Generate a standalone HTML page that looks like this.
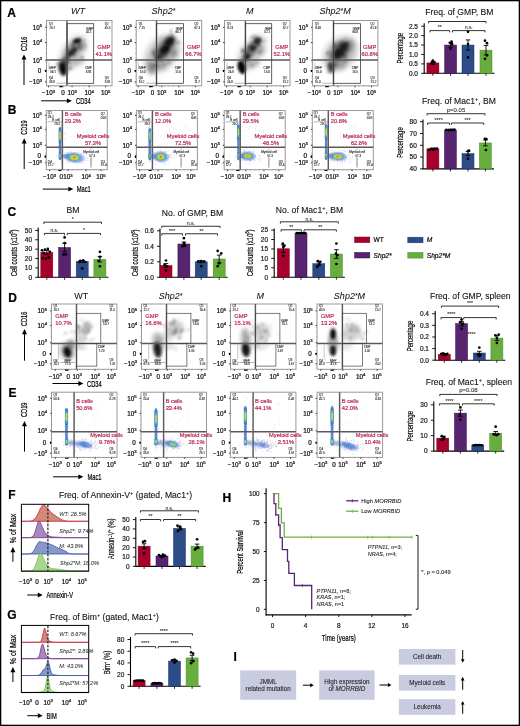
<!DOCTYPE html>
<html><head><meta charset="utf-8"><style>
html,body{margin:0;padding:0;background:#fff;overflow:hidden;}
svg{display:block;filter:blur(0.3px);}
text{font-family:"Liberation Sans",sans-serif;stroke:currentColor;stroke-width:0.22px;}
</style></head><body>
<svg width="520" height="726" viewBox="0 0 520 726">
<defs><clipPath id="clipA0"><rect x="46.5" y="20.5" width="65.5" height="65.3"/></clipPath><clipPath id="clipB0"><rect x="46.3" y="110.5" width="61" height="59.2"/></clipPath><clipPath id="clipD0"><rect x="51.4" y="304.0" width="65.5" height="65.3"/></clipPath><clipPath id="clipE0"><rect x="51.5" y="392.2" width="65.5" height="65.2"/></clipPath><clipPath id="clipA1"><rect x="136.2" y="20.5" width="65.5" height="65.3"/></clipPath><clipPath id="clipB1"><rect x="136.4" y="110.5" width="61" height="59.2"/></clipPath><clipPath id="clipD1"><rect x="141.5" y="304.0" width="65.5" height="65.3"/></clipPath><clipPath id="clipE1"><rect x="141.0" y="392.2" width="65.5" height="65.2"/></clipPath><clipPath id="clipA2"><rect x="224.5" y="20.5" width="65.5" height="65.3"/></clipPath><clipPath id="clipB2"><rect x="224.2" y="110.5" width="61" height="59.2"/></clipPath><clipPath id="clipD2"><rect x="230.5" y="304.0" width="65.5" height="65.3"/></clipPath><clipPath id="clipE2"><rect x="230.4" y="392.2" width="65.5" height="65.2"/></clipPath><clipPath id="clipA3"><rect x="312.4" y="20.5" width="65.5" height="65.3"/></clipPath><clipPath id="clipB3"><rect x="312.3" y="110.5" width="61" height="59.2"/></clipPath><clipPath id="clipD3"><rect x="317.0" y="304.0" width="65.5" height="65.3"/></clipPath><clipPath id="clipE3"><rect x="317.1" y="392.2" width="65.5" height="65.2"/></clipPath><filter id="g4" x="-100%" y="-100%" width="300%" height="300%"><feGaussianBlur stdDeviation="0.4"/></filter><filter id="g6" x="-100%" y="-100%" width="300%" height="300%"><feGaussianBlur stdDeviation="0.6"/></filter><filter id="g8" x="-100%" y="-100%" width="300%" height="300%"><feGaussianBlur stdDeviation="0.8"/></filter><filter id="g9" x="-100%" y="-100%" width="300%" height="300%"><feGaussianBlur stdDeviation="0.9"/></filter><filter id="g10" x="-100%" y="-100%" width="300%" height="300%"><feGaussianBlur stdDeviation="1.0"/></filter><filter id="g11" x="-100%" y="-100%" width="300%" height="300%"><feGaussianBlur stdDeviation="1.1"/></filter><filter id="g12" x="-100%" y="-100%" width="300%" height="300%"><feGaussianBlur stdDeviation="1.2"/></filter><filter id="g13" x="-100%" y="-100%" width="300%" height="300%"><feGaussianBlur stdDeviation="1.3"/></filter><filter id="g14" x="-100%" y="-100%" width="300%" height="300%"><feGaussianBlur stdDeviation="1.4"/></filter><filter id="g15" x="-100%" y="-100%" width="300%" height="300%"><feGaussianBlur stdDeviation="1.5"/></filter><filter id="g18" x="-100%" y="-100%" width="300%" height="300%"><feGaussianBlur stdDeviation="1.8"/></filter><filter id="g20" x="-100%" y="-100%" width="300%" height="300%"><feGaussianBlur stdDeviation="2.0"/></filter><filter id="g22" x="-100%" y="-100%" width="300%" height="300%"><feGaussianBlur stdDeviation="2.2"/></filter><filter id="g30" x="-100%" y="-100%" width="300%" height="300%"><feGaussianBlur stdDeviation="3.0"/></filter></defs>
<rect x="0" y="0" width="520" height="726" fill="#fff"/>
<g clip-path="url(#clipA0)">
<ellipse cx="72.50" cy="53.50" rx="20" ry="10" transform="rotate(-58 72.50 53.50)" fill="#000" opacity="0.22" filter="url(#g30)"/>
<ellipse cx="73.50" cy="48.50" rx="12" ry="6" transform="rotate(-50 73.50 48.50)" fill="#000" opacity="0.3" filter="url(#g20)"/>
<ellipse cx="62.80" cy="69.00" rx="3.8" ry="7" transform="rotate(-12 62.80 69.00)" fill="#000" opacity="0.95" filter="url(#g14)"/>
<ellipse cx="64.50" cy="62.50" rx="3.2" ry="4" transform="rotate(-20 64.50 62.50)" fill="#000" opacity="0.55" filter="url(#g15)"/>
<ellipse cx="77.00" cy="40.80" rx="4.2" ry="2.4" transform="rotate(-15 77.00 40.80)" fill="#000" opacity="0.85" filter="url(#g11)"/>
<ellipse cx="73.10" cy="51.00" rx="4.4" ry="2.6" transform="rotate(-35 73.10 51.00)" fill="#000" opacity="0.6" filter="url(#g12)"/>
<ellipse cx="69.30" cy="55.00" rx="3.2" ry="2.2" transform="rotate(-40 69.30 55.00)" fill="#000" opacity="0.55" filter="url(#g12)"/>
<ellipse cx="78.50" cy="62.00" rx="7" ry="3.5" transform="rotate(-10 78.50 62.00)" fill="#000" opacity="0.16" filter="url(#g20)"/>
<ellipse cx="82.50" cy="46.50" rx="5" ry="4" transform="rotate(-30 82.50 46.50)" fill="#000" opacity="0.2" filter="url(#g18)"/>
<ellipse cx="65.50" cy="58.50" rx="3" ry="3" transform="rotate(0 65.50 58.50)" fill="#000" opacity="0.35" filter="url(#g15)"/>
<ellipse cx="57.71" cy="64.58" rx="2.33" ry="1.88" transform="rotate(-33 57.71 64.58)" fill="#000" opacity="0.19" filter="url(#g10)"/>
<ellipse cx="69.80" cy="68.50" rx="1.62" ry="1.79" transform="rotate(-19 69.80 68.50)" fill="#000" opacity="0.29" filter="url(#g10)"/>
<ellipse cx="65.73" cy="64.27" rx="1.53" ry="1.21" transform="rotate(-48 65.73 64.27)" fill="#000" opacity="0.28" filter="url(#g10)"/>
<ellipse cx="61.96" cy="60.73" rx="1.84" ry="1.55" transform="rotate(-43 61.96 60.73)" fill="#000" opacity="0.28" filter="url(#g10)"/>
<ellipse cx="80.70" cy="49.10" rx="1.4" ry="1.01" transform="rotate(-35 80.70 49.10)" fill="#000" opacity="0.11" filter="url(#g10)"/>
<ellipse cx="79.25" cy="44.98" rx="1.24" ry="1.8" transform="rotate(-32 79.25 44.98)" fill="#000" opacity="0.26" filter="url(#g10)"/>
<ellipse cx="74.31" cy="44.76" rx="2.41" ry="1.06" transform="rotate(-45 74.31 44.76)" fill="#000" opacity="0.24" filter="url(#g10)"/>
<ellipse cx="72.73" cy="44.63" rx="2.14" ry="1.63" transform="rotate(-39 72.73 44.63)" fill="#000" opacity="0.2" filter="url(#g10)"/>
<ellipse cx="84.04" cy="40.04" rx="1.3" ry="1.12" transform="rotate(-41 84.04 40.04)" fill="#000" opacity="0.22" filter="url(#g10)"/>
<ellipse cx="72.71" cy="51.36" rx="2.34" ry="1.92" transform="rotate(-28 72.71 51.36)" fill="#000" opacity="0.26" filter="url(#g10)"/>
<ellipse cx="78.69" cy="42.81" rx="2.14" ry="1.39" transform="rotate(-57 78.69 42.81)" fill="#000" opacity="0.25" filter="url(#g10)"/>
<ellipse cx="76.26" cy="47.73" rx="2.15" ry="1.26" transform="rotate(-41 76.26 47.73)" fill="#000" opacity="0.2" filter="url(#g10)"/>
<ellipse cx="68.82" cy="53.60" rx="1.77" ry="1.55" transform="rotate(-16 68.82 53.60)" fill="#000" opacity="0.11" filter="url(#g10)"/>
<ellipse cx="58.88" cy="59.96" rx="1.53" ry="1.47" transform="rotate(-1 58.88 59.96)" fill="#000" opacity="0.1" filter="url(#g10)"/>
<ellipse cx="82.09" cy="57.88" rx="2.23" ry="2.12" transform="rotate(-58 82.09 57.88)" fill="#000" opacity="0.23" filter="url(#g10)"/>
<ellipse cx="68.16" cy="53.27" rx="1.28" ry="1.24" transform="rotate(-45 68.16 53.27)" fill="#000" opacity="0.11" filter="url(#g10)"/>
<ellipse cx="63.67" cy="67.31" rx="1.6" ry="1.83" transform="rotate(-14 63.67 67.31)" fill="#000" opacity="0.17" filter="url(#g10)"/>
<ellipse cx="68.15" cy="52.03" rx="1.93" ry="1.23" transform="rotate(-23 68.15 52.03)" fill="#000" opacity="0.27" filter="url(#g10)"/>
<ellipse cx="73.92" cy="47.31" rx="1.32" ry="2.2" transform="rotate(-43 73.92 47.31)" fill="#000" opacity="0.3" filter="url(#g10)"/>
<ellipse cx="69.25" cy="62.35" rx="1.5" ry="2.2" transform="rotate(-36 69.25 62.35)" fill="#000" opacity="0.29" filter="url(#g10)"/>
<ellipse cx="62.91" cy="65.23" rx="1.24" ry="1.99" transform="rotate(-42 62.91 65.23)" fill="#000" opacity="0.13" filter="url(#g10)"/>
<ellipse cx="65.99" cy="68.05" rx="2.23" ry="1.75" transform="rotate(-6 65.99 68.05)" fill="#000" opacity="0.1" filter="url(#g10)"/>
<ellipse cx="68.78" cy="58.58" rx="1.25" ry="1.92" transform="rotate(-3 68.78 58.58)" fill="#000" opacity="0.29" filter="url(#g10)"/>
<ellipse cx="59.81" cy="63.03" rx="2.48" ry="1.17" transform="rotate(-3 59.81 63.03)" fill="#000" opacity="0.23" filter="url(#g10)"/>
<ellipse cx="78.72" cy="47.73" rx="1.83" ry="1.46" transform="rotate(-14 78.72 47.73)" fill="#000" opacity="0.18" filter="url(#g10)"/>
<ellipse cx="70.92" cy="67.88" rx="2.08" ry="1.32" transform="rotate(-20 70.92 67.88)" fill="#000" opacity="0.18" filter="url(#g10)"/>
<ellipse cx="67.75" cy="49.00" rx="2.01" ry="1.78" transform="rotate(-52 67.75 49.00)" fill="#000" opacity="0.27" filter="url(#g10)"/>
<ellipse cx="73.68" cy="54.72" rx="1.93" ry="1.85" transform="rotate(-5 73.68 54.72)" fill="#000" opacity="0.29" filter="url(#g10)"/>
</g>
<rect x="46.50" y="20.50" width="65.50" height="65.30" fill="none" stroke="#999" stroke-width="1.0" />
<text x="42.10" y="29.70" font-size="6.3" text-anchor="end" fill="#111" color="#111">10<tspan dy="-2.7" font-size="4.28">5</tspan></text>
<line x1="45.00" y1="27.40" x2="46.50" y2="27.40" stroke="#000" stroke-width="0.7" />
<text x="42.10" y="44.80" font-size="6.3" text-anchor="end" fill="#111" color="#111">10<tspan dy="-2.7" font-size="4.28">4</tspan></text>
<line x1="45.00" y1="42.50" x2="46.50" y2="42.50" stroke="#000" stroke-width="0.7" />
<text x="42.10" y="62.50" font-size="6.3" text-anchor="end" fill="#111" color="#111">10<tspan dy="-2.7" font-size="4.28">3</tspan></text>
<line x1="45.00" y1="60.20" x2="46.50" y2="60.20" stroke="#000" stroke-width="0.7" />
<text transform="translate(41.20,73.10)" font-size="6.3" text-anchor="end" font-weight="normal" font-style="normal" fill="#111" color="#111">0</text>
<line x1="45.00" y1="70.80" x2="46.50" y2="70.80" stroke="#000" stroke-width="0.7" />
<text x="42.10" y="84.30" font-size="6.3" text-anchor="end" fill="#111" color="#111">&#8722;10<tspan dy="-2.7" font-size="4.28">3</tspan></text>
<line x1="45.00" y1="82.00" x2="46.50" y2="82.00" stroke="#000" stroke-width="0.7" />
<line x1="45.70" y1="25.16" x2="46.50" y2="25.16" stroke="#666" stroke-width="0.4" />
<line x1="45.70" y1="29.83" x2="46.50" y2="29.83" stroke="#666" stroke-width="0.4" />
<line x1="45.70" y1="34.49" x2="46.50" y2="34.49" stroke="#666" stroke-width="0.4" />
<line x1="45.70" y1="39.16" x2="46.50" y2="39.16" stroke="#666" stroke-width="0.4" />
<line x1="45.70" y1="43.82" x2="46.50" y2="43.82" stroke="#666" stroke-width="0.4" />
<line x1="45.70" y1="48.49" x2="46.50" y2="48.49" stroke="#666" stroke-width="0.4" />
<line x1="45.70" y1="53.15" x2="46.50" y2="53.15" stroke="#666" stroke-width="0.4" />
<line x1="45.70" y1="57.81" x2="46.50" y2="57.81" stroke="#666" stroke-width="0.4" />
<line x1="45.70" y1="62.48" x2="46.50" y2="62.48" stroke="#666" stroke-width="0.4" />
<line x1="45.70" y1="67.14" x2="46.50" y2="67.14" stroke="#666" stroke-width="0.4" />
<line x1="45.70" y1="71.81" x2="46.50" y2="71.81" stroke="#666" stroke-width="0.4" />
<line x1="45.70" y1="76.47" x2="46.50" y2="76.47" stroke="#666" stroke-width="0.4" />
<line x1="45.70" y1="81.14" x2="46.50" y2="81.14" stroke="#666" stroke-width="0.4" />
<text x="48.50" y="95.40" font-size="6.3" text-anchor="middle" fill="#111" color="#111">&#8722;10<tspan dy="-2.7" font-size="4.28">3</tspan></text>
<line x1="48.50" y1="85.80" x2="48.50" y2="87.30" stroke="#000" stroke-width="0.7" />
<text transform="translate(62.90,95.40)" font-size="6.3" text-anchor="middle" font-weight="normal" font-style="normal" fill="#111" color="#111">0</text>
<line x1="62.90" y1="85.80" x2="62.90" y2="87.30" stroke="#000" stroke-width="0.7" />
<text x="72.10" y="95.40" font-size="6.3" text-anchor="middle" fill="#111" color="#111">10<tspan dy="-2.7" font-size="4.28">3</tspan></text>
<line x1="72.10" y1="85.80" x2="72.10" y2="87.30" stroke="#000" stroke-width="0.7" />
<text x="89.20" y="95.40" font-size="6.3" text-anchor="middle" fill="#111" color="#111">10<tspan dy="-2.7" font-size="4.28">4</tspan></text>
<line x1="89.20" y1="85.80" x2="89.20" y2="87.30" stroke="#000" stroke-width="0.7" />
<text x="105.60" y="95.40" font-size="6.3" text-anchor="middle" fill="#111" color="#111">10<tspan dy="-2.7" font-size="4.28">5</tspan></text>
<line x1="105.60" y1="85.80" x2="105.60" y2="87.30" stroke="#000" stroke-width="0.7" />
<line x1="51.18" y1="85.80" x2="51.18" y2="86.60" stroke="#666" stroke-width="0.4" />
<line x1="55.86" y1="85.80" x2="55.86" y2="86.60" stroke="#666" stroke-width="0.4" />
<line x1="60.54" y1="85.80" x2="60.54" y2="86.60" stroke="#666" stroke-width="0.4" />
<line x1="65.21" y1="85.80" x2="65.21" y2="86.60" stroke="#666" stroke-width="0.4" />
<line x1="69.89" y1="85.80" x2="69.89" y2="86.60" stroke="#666" stroke-width="0.4" />
<line x1="74.57" y1="85.80" x2="74.57" y2="86.60" stroke="#666" stroke-width="0.4" />
<line x1="79.25" y1="85.80" x2="79.25" y2="86.60" stroke="#666" stroke-width="0.4" />
<line x1="83.93" y1="85.80" x2="83.93" y2="86.60" stroke="#666" stroke-width="0.4" />
<line x1="88.61" y1="85.80" x2="88.61" y2="86.60" stroke="#666" stroke-width="0.4" />
<line x1="93.29" y1="85.80" x2="93.29" y2="86.60" stroke="#666" stroke-width="0.4" />
<line x1="97.96" y1="85.80" x2="97.96" y2="86.60" stroke="#666" stroke-width="0.4" />
<line x1="102.64" y1="85.80" x2="102.64" y2="86.60" stroke="#666" stroke-width="0.4" />
<line x1="107.32" y1="85.80" x2="107.32" y2="86.60" stroke="#666" stroke-width="0.4" />
<line x1="46.50" y1="59.90" x2="112.00" y2="59.90" stroke="#5a5a5a" stroke-width="1.45" />
<line x1="67.00" y1="20.50" x2="67.00" y2="85.80" stroke="#5a5a5a" stroke-width="1.45" />
<rect x="67.00" y="23.70" width="26.70" height="59.60" fill="none" stroke="#3a3a3a" stroke-width="0.8" />
<line x1="48.80" y1="62.50" x2="48.80" y2="70.50" stroke="#888" stroke-width="0.45" />
<line x1="56.50" y1="83.20" x2="67.00" y2="83.20" stroke="#666" stroke-width="0.5" />
<text transform="translate(103.80,49.40)" font-size="5.8" text-anchor="middle" font-weight="normal" font-style="normal" fill="#BA2453" color="#BA2453" style="stroke-width:0.18px">GMP</text>
<text transform="translate(103.80,56.10)" font-size="5.8" text-anchor="middle" font-weight="normal" font-style="normal" fill="#BA2453" color="#BA2453" style="stroke-width:0.18px">41.1%</text>
<text x="49.00" y="25.30" font-size="3.0" text-anchor="start" fill="#333" color="#333" style="stroke-width:0.12px">Q1</text>
<text x="49.30" y="28.80" font-size="3.0" text-anchor="start" fill="#333" color="#333" style="stroke-width:0.12px">10.7</text>
<text x="104.70" y="25.30" font-size="3.0" text-anchor="start" fill="#333" color="#333" style="stroke-width:0.12px">Q2</text>
<text x="104.70" y="28.80" font-size="3.0" text-anchor="start" fill="#333" color="#333" style="stroke-width:0.12px">41.5</text>
<text x="93.20" y="29.80" font-size="3.0" text-anchor="end" fill="#333" color="#333" style="stroke-width:0.12px">GMP</text>
<text x="91.80" y="33.30" font-size="3.0" text-anchor="end" fill="#333" color="#333" style="stroke-width:0.12px">41.1</text>
<text x="49.50" y="69.00" font-size="3.0" text-anchor="start" fill="#333" color="#333" style="stroke-width:0.12px">MEP</text>
<text x="50.00" y="72.50" font-size="3.0" text-anchor="start" fill="#333" color="#333" style="stroke-width:0.12px">39.1</text>
<text x="91.80" y="69.00" font-size="3.0" text-anchor="end" fill="#333" color="#333" style="stroke-width:0.12px">CMP</text>
<text x="91.50" y="72.50" font-size="3.0" text-anchor="end" fill="#333" color="#333" style="stroke-width:0.12px">8.91</text>
<text x="49.00" y="79.00" font-size="3.0" text-anchor="start" fill="#333" color="#333" style="stroke-width:0.12px">Q4</text>
<text x="49.00" y="82.50" font-size="3.0" text-anchor="start" fill="#333" color="#333" style="stroke-width:0.12px">38.8</text>
<text x="104.70" y="79.00" font-size="3.0" text-anchor="start" fill="#333" color="#333" style="stroke-width:0.12px">Q3</text>
<text x="104.70" y="82.50" font-size="3.0" text-anchor="start" fill="#333" color="#333" style="stroke-width:0.12px">8.81</text>
<rect x="44.90" y="69.80" width="1.2" height="2.2" rx="0.5" fill="#000"/>
<rect x="59.30" y="86.10" width="3.2" height="1.1" rx="0.5" fill="#000"/>
<text transform="translate(78.00,14.00)" font-size="9" text-anchor="middle" font-weight="normal" font-style="italic" fill="#111" color="#111" style="stroke-width:0.05px">WT</text>
<g clip-path="url(#clipA1)">
<ellipse cx="162.20" cy="53.50" rx="21" ry="14" transform="rotate(-50 162.20 53.50)" fill="#000" opacity="0.26" filter="url(#g30)"/>
<ellipse cx="165.20" cy="47.50" rx="14" ry="6" transform="rotate(-55 165.20 47.50)" fill="#000" opacity="0.55" filter="url(#g20)"/>
<ellipse cx="169.70" cy="41.50" rx="5.5" ry="3.8" transform="rotate(-40 169.70 41.50)" fill="#000" opacity="0.75" filter="url(#g14)"/>
<ellipse cx="164.70" cy="50.00" rx="5.5" ry="3.8" transform="rotate(-40 164.70 50.00)" fill="#000" opacity="0.75" filter="url(#g14)"/>
<ellipse cx="158.20" cy="57.50" rx="4.2" ry="3.2" transform="rotate(-40 158.20 57.50)" fill="#000" opacity="0.5" filter="url(#g15)"/>
<ellipse cx="151.20" cy="68.50" rx="4.2" ry="6.5" transform="rotate(-20 151.20 68.50)" fill="#000" opacity="0.35" filter="url(#g20)"/>
<ellipse cx="160.20" cy="66.50" rx="7" ry="3.5" transform="rotate(0 160.20 66.50)" fill="#000" opacity="0.16" filter="url(#g20)"/>
<ellipse cx="173.20" cy="53.50" rx="5" ry="5" transform="rotate(0 173.20 53.50)" fill="#000" opacity="0.2" filter="url(#g20)"/>
<ellipse cx="169.51" cy="62.80" rx="2.68" ry="1.56" transform="rotate(-18 169.51 62.80)" fill="#000" opacity="0.19" filter="url(#g10)"/>
<ellipse cx="170.54" cy="45.71" rx="2.45" ry="1.39" transform="rotate(-32 170.54 45.71)" fill="#000" opacity="0.1" filter="url(#g10)"/>
<ellipse cx="165.68" cy="64.47" rx="1.79" ry="1.57" transform="rotate(-40 165.68 64.47)" fill="#000" opacity="0.13" filter="url(#g10)"/>
<ellipse cx="166.69" cy="44.86" rx="1.95" ry="1.25" transform="rotate(-19 166.69 44.86)" fill="#000" opacity="0.26" filter="url(#g10)"/>
<ellipse cx="160.64" cy="37.03" rx="1.83" ry="1.46" transform="rotate(-33 160.64 37.03)" fill="#000" opacity="0.1" filter="url(#g10)"/>
<ellipse cx="157.88" cy="50.61" rx="1.55" ry="1.11" transform="rotate(-10 157.88 50.61)" fill="#000" opacity="0.08" filter="url(#g10)"/>
<ellipse cx="173.96" cy="46.60" rx="1.45" ry="1.04" transform="rotate(-49 173.96 46.60)" fill="#000" opacity="0.14" filter="url(#g10)"/>
<ellipse cx="154.02" cy="54.15" rx="2.52" ry="2.08" transform="rotate(-24 154.02 54.15)" fill="#000" opacity="0.18" filter="url(#g10)"/>
<ellipse cx="166.55" cy="48.20" rx="2.59" ry="1.83" transform="rotate(-17 166.55 48.20)" fill="#000" opacity="0.27" filter="url(#g10)"/>
<ellipse cx="177.96" cy="42.60" rx="2.05" ry="1.84" transform="rotate(-32 177.96 42.60)" fill="#000" opacity="0.26" filter="url(#g10)"/>
<ellipse cx="153.73" cy="52.28" rx="2.49" ry="1.95" transform="rotate(-52 153.73 52.28)" fill="#000" opacity="0.23" filter="url(#g10)"/>
<ellipse cx="174.72" cy="52.65" rx="2.08" ry="2.17" transform="rotate(-52 174.72 52.65)" fill="#000" opacity="0.1" filter="url(#g10)"/>
<ellipse cx="154.88" cy="65.53" rx="1.3" ry="1.66" transform="rotate(-38 154.88 65.53)" fill="#000" opacity="0.18" filter="url(#g10)"/>
<ellipse cx="155.55" cy="55.07" rx="1.65" ry="1.18" transform="rotate(-31 155.55 55.07)" fill="#000" opacity="0.12" filter="url(#g10)"/>
<ellipse cx="167.97" cy="60.18" rx="1.71" ry="1.11" transform="rotate(-19 167.97 60.18)" fill="#000" opacity="0.29" filter="url(#g10)"/>
<ellipse cx="162.87" cy="60.41" rx="2.18" ry="1.79" transform="rotate(-58 162.87 60.41)" fill="#000" opacity="0.26" filter="url(#g10)"/>
<ellipse cx="157.32" cy="66.30" rx="2.08" ry="1.64" transform="rotate(-39 157.32 66.30)" fill="#000" opacity="0.08" filter="url(#g10)"/>
<ellipse cx="153.65" cy="65.34" rx="1.85" ry="1.77" transform="rotate(-13 153.65 65.34)" fill="#000" opacity="0.13" filter="url(#g10)"/>
<ellipse cx="157.06" cy="65.01" rx="1.75" ry="1.44" transform="rotate(-32 157.06 65.01)" fill="#000" opacity="0.27" filter="url(#g10)"/>
<ellipse cx="152.98" cy="50.23" rx="2.02" ry="1.75" transform="rotate(-47 152.98 50.23)" fill="#000" opacity="0.11" filter="url(#g10)"/>
<ellipse cx="160.59" cy="57.81" rx="2.38" ry="1.29" transform="rotate(-33 160.59 57.81)" fill="#000" opacity="0.12" filter="url(#g10)"/>
<ellipse cx="171.77" cy="35.04" rx="2.13" ry="1.41" transform="rotate(-4 171.77 35.04)" fill="#000" opacity="0.18" filter="url(#g10)"/>
<ellipse cx="165.17" cy="55.76" rx="2.72" ry="1.93" transform="rotate(-31 165.17 55.76)" fill="#000" opacity="0.29" filter="url(#g10)"/>
<ellipse cx="165.81" cy="47.66" rx="2.68" ry="1.8" transform="rotate(-11 165.81 47.66)" fill="#000" opacity="0.22" filter="url(#g10)"/>
<ellipse cx="156.59" cy="49.91" rx="1.3" ry="1.83" transform="rotate(-43 156.59 49.91)" fill="#000" opacity="0.21" filter="url(#g10)"/>
<ellipse cx="162.98" cy="65.32" rx="1.92" ry="1.62" transform="rotate(-56 162.98 65.32)" fill="#000" opacity="0.11" filter="url(#g10)"/>
<ellipse cx="163.30" cy="48.09" rx="1.58" ry="1.26" transform="rotate(-10 163.30 48.09)" fill="#000" opacity="0.2" filter="url(#g10)"/>
<ellipse cx="171.04" cy="31.04" rx="1.48" ry="2.1" transform="rotate(-10 171.04 31.04)" fill="#000" opacity="0.23" filter="url(#g10)"/>
</g>
<rect x="136.20" y="20.50" width="65.50" height="65.30" fill="none" stroke="#999" stroke-width="1.0" />
<text x="131.80" y="29.70" font-size="6.3" text-anchor="end" fill="#111" color="#111">10<tspan dy="-2.7" font-size="4.28">5</tspan></text>
<line x1="134.70" y1="27.40" x2="136.20" y2="27.40" stroke="#000" stroke-width="0.7" />
<text x="131.80" y="44.80" font-size="6.3" text-anchor="end" fill="#111" color="#111">10<tspan dy="-2.7" font-size="4.28">4</tspan></text>
<line x1="134.70" y1="42.50" x2="136.20" y2="42.50" stroke="#000" stroke-width="0.7" />
<text x="131.80" y="62.50" font-size="6.3" text-anchor="end" fill="#111" color="#111">10<tspan dy="-2.7" font-size="4.28">3</tspan></text>
<line x1="134.70" y1="60.20" x2="136.20" y2="60.20" stroke="#000" stroke-width="0.7" />
<text transform="translate(130.90,73.10)" font-size="6.3" text-anchor="end" font-weight="normal" font-style="normal" fill="#111" color="#111">0</text>
<line x1="134.70" y1="70.80" x2="136.20" y2="70.80" stroke="#000" stroke-width="0.7" />
<text x="131.80" y="84.30" font-size="6.3" text-anchor="end" fill="#111" color="#111">&#8722;10<tspan dy="-2.7" font-size="4.28">3</tspan></text>
<line x1="134.70" y1="82.00" x2="136.20" y2="82.00" stroke="#000" stroke-width="0.7" />
<line x1="135.40" y1="25.16" x2="136.20" y2="25.16" stroke="#666" stroke-width="0.4" />
<line x1="135.40" y1="29.83" x2="136.20" y2="29.83" stroke="#666" stroke-width="0.4" />
<line x1="135.40" y1="34.49" x2="136.20" y2="34.49" stroke="#666" stroke-width="0.4" />
<line x1="135.40" y1="39.16" x2="136.20" y2="39.16" stroke="#666" stroke-width="0.4" />
<line x1="135.40" y1="43.82" x2="136.20" y2="43.82" stroke="#666" stroke-width="0.4" />
<line x1="135.40" y1="48.49" x2="136.20" y2="48.49" stroke="#666" stroke-width="0.4" />
<line x1="135.40" y1="53.15" x2="136.20" y2="53.15" stroke="#666" stroke-width="0.4" />
<line x1="135.40" y1="57.81" x2="136.20" y2="57.81" stroke="#666" stroke-width="0.4" />
<line x1="135.40" y1="62.48" x2="136.20" y2="62.48" stroke="#666" stroke-width="0.4" />
<line x1="135.40" y1="67.14" x2="136.20" y2="67.14" stroke="#666" stroke-width="0.4" />
<line x1="135.40" y1="71.81" x2="136.20" y2="71.81" stroke="#666" stroke-width="0.4" />
<line x1="135.40" y1="76.47" x2="136.20" y2="76.47" stroke="#666" stroke-width="0.4" />
<line x1="135.40" y1="81.14" x2="136.20" y2="81.14" stroke="#666" stroke-width="0.4" />
<text x="138.20" y="95.40" font-size="6.3" text-anchor="middle" fill="#111" color="#111">&#8722;10<tspan dy="-2.7" font-size="4.28">3</tspan></text>
<line x1="138.20" y1="85.80" x2="138.20" y2="87.30" stroke="#000" stroke-width="0.7" />
<text transform="translate(152.60,95.40)" font-size="6.3" text-anchor="middle" font-weight="normal" font-style="normal" fill="#111" color="#111">0</text>
<line x1="152.60" y1="85.80" x2="152.60" y2="87.30" stroke="#000" stroke-width="0.7" />
<text x="161.80" y="95.40" font-size="6.3" text-anchor="middle" fill="#111" color="#111">10<tspan dy="-2.7" font-size="4.28">3</tspan></text>
<line x1="161.80" y1="85.80" x2="161.80" y2="87.30" stroke="#000" stroke-width="0.7" />
<text x="178.90" y="95.40" font-size="6.3" text-anchor="middle" fill="#111" color="#111">10<tspan dy="-2.7" font-size="4.28">4</tspan></text>
<line x1="178.90" y1="85.80" x2="178.90" y2="87.30" stroke="#000" stroke-width="0.7" />
<text x="195.30" y="95.40" font-size="6.3" text-anchor="middle" fill="#111" color="#111">10<tspan dy="-2.7" font-size="4.28">5</tspan></text>
<line x1="195.30" y1="85.80" x2="195.30" y2="87.30" stroke="#000" stroke-width="0.7" />
<line x1="140.88" y1="85.80" x2="140.88" y2="86.60" stroke="#666" stroke-width="0.4" />
<line x1="145.56" y1="85.80" x2="145.56" y2="86.60" stroke="#666" stroke-width="0.4" />
<line x1="150.24" y1="85.80" x2="150.24" y2="86.60" stroke="#666" stroke-width="0.4" />
<line x1="154.91" y1="85.80" x2="154.91" y2="86.60" stroke="#666" stroke-width="0.4" />
<line x1="159.59" y1="85.80" x2="159.59" y2="86.60" stroke="#666" stroke-width="0.4" />
<line x1="164.27" y1="85.80" x2="164.27" y2="86.60" stroke="#666" stroke-width="0.4" />
<line x1="168.95" y1="85.80" x2="168.95" y2="86.60" stroke="#666" stroke-width="0.4" />
<line x1="173.63" y1="85.80" x2="173.63" y2="86.60" stroke="#666" stroke-width="0.4" />
<line x1="178.31" y1="85.80" x2="178.31" y2="86.60" stroke="#666" stroke-width="0.4" />
<line x1="182.99" y1="85.80" x2="182.99" y2="86.60" stroke="#666" stroke-width="0.4" />
<line x1="187.66" y1="85.80" x2="187.66" y2="86.60" stroke="#666" stroke-width="0.4" />
<line x1="192.34" y1="85.80" x2="192.34" y2="86.60" stroke="#666" stroke-width="0.4" />
<line x1="197.02" y1="85.80" x2="197.02" y2="86.60" stroke="#666" stroke-width="0.4" />
<line x1="136.20" y1="59.90" x2="201.70" y2="59.90" stroke="#5a5a5a" stroke-width="1.45" />
<line x1="156.50" y1="20.50" x2="156.50" y2="85.80" stroke="#5a5a5a" stroke-width="1.45" />
<rect x="156.50" y="23.70" width="26.90" height="59.60" fill="none" stroke="#3a3a3a" stroke-width="0.8" />
<line x1="138.50" y1="62.50" x2="138.50" y2="70.50" stroke="#888" stroke-width="0.45" />
<line x1="146.20" y1="83.20" x2="156.50" y2="83.20" stroke="#666" stroke-width="0.5" />
<text transform="translate(193.50,49.40)" font-size="5.8" text-anchor="middle" font-weight="normal" font-style="normal" fill="#BA2453" color="#BA2453" style="stroke-width:0.18px">GMP</text>
<text transform="translate(193.50,56.10)" font-size="5.8" text-anchor="middle" font-weight="normal" font-style="normal" fill="#BA2453" color="#BA2453" style="stroke-width:0.18px">66.7%</text>
<text x="138.70" y="25.30" font-size="3.0" text-anchor="start" fill="#333" color="#333" style="stroke-width:0.12px">Q1</text>
<text x="139.00" y="28.80" font-size="3.0" text-anchor="start" fill="#333" color="#333" style="stroke-width:0.12px">7.75</text>
<text x="194.40" y="25.30" font-size="3.0" text-anchor="start" fill="#333" color="#333" style="stroke-width:0.12px">Q2</text>
<text x="194.40" y="28.80" font-size="3.0" text-anchor="start" fill="#333" color="#333" style="stroke-width:0.12px">67.3</text>
<text x="182.70" y="29.80" font-size="3.0" text-anchor="end" fill="#333" color="#333" style="stroke-width:0.12px">GMP</text>
<text x="181.30" y="33.30" font-size="3.0" text-anchor="end" fill="#333" color="#333" style="stroke-width:0.12px">66.7</text>
<text x="139.20" y="69.00" font-size="3.0" text-anchor="start" fill="#333" color="#333" style="stroke-width:0.12px">MEP</text>
<text x="139.70" y="72.50" font-size="3.0" text-anchor="start" fill="#333" color="#333" style="stroke-width:0.12px">13.0</text>
<text x="181.30" y="69.00" font-size="3.0" text-anchor="end" fill="#333" color="#333" style="stroke-width:0.12px">CMP</text>
<text x="181.00" y="72.50" font-size="3.0" text-anchor="end" fill="#333" color="#333" style="stroke-width:0.12px">12.0</text>
<text x="138.70" y="79.00" font-size="3.0" text-anchor="start" fill="#333" color="#333" style="stroke-width:0.12px">Q4</text>
<text x="138.70" y="82.50" font-size="3.0" text-anchor="start" fill="#333" color="#333" style="stroke-width:0.12px">13.2</text>
<text x="194.40" y="79.00" font-size="3.0" text-anchor="start" fill="#333" color="#333" style="stroke-width:0.12px">Q3</text>
<text x="194.40" y="82.50" font-size="3.0" text-anchor="start" fill="#333" color="#333" style="stroke-width:0.12px">11.7</text>
<rect x="134.60" y="69.80" width="1.2" height="2.2" rx="0.5" fill="#000"/>
<rect x="149.00" y="86.10" width="3.2" height="1.1" rx="0.5" fill="#000"/>
<text transform="translate(163.40,14.00)" font-size="9" text-anchor="middle" font-weight="normal" font-style="italic" fill="#111" color="#111" style="stroke-width:0.05px">Shp2<tspan font-size="6.5" dy="-0.6">*</tspan><tspan dy="0.6"></tspan></text>
<g clip-path="url(#clipA2)">
<ellipse cx="251.50" cy="52.50" rx="20" ry="10" transform="rotate(-57 251.50 52.50)" fill="#000" opacity="0.22" filter="url(#g30)"/>
<ellipse cx="250.50" cy="50.50" rx="13" ry="5" transform="rotate(-57 250.50 50.50)" fill="#000" opacity="0.45" filter="url(#g18)"/>
<ellipse cx="241.60" cy="67.50" rx="3.8" ry="6.8" transform="rotate(-15 241.60 67.50)" fill="#000" opacity="0.95" filter="url(#g13)"/>
<ellipse cx="258.00" cy="40.50" rx="3.8" ry="3.2" transform="rotate(-20 258.00 40.50)" fill="#000" opacity="0.7" filter="url(#g12)"/>
<ellipse cx="253.00" cy="48.00" rx="3.2" ry="2.6" transform="rotate(-40 253.00 48.00)" fill="#000" opacity="0.6" filter="url(#g12)"/>
<ellipse cx="247.00" cy="56.50" rx="3.2" ry="2.6" transform="rotate(-40 247.00 56.50)" fill="#000" opacity="0.6" filter="url(#g12)"/>
<ellipse cx="251.50" cy="64.50" rx="9" ry="4" transform="rotate(-10 251.50 64.50)" fill="#000" opacity="0.16" filter="url(#g20)"/>
<ellipse cx="260.50" cy="50.50" rx="5" ry="5" transform="rotate(0 260.50 50.50)" fill="#000" opacity="0.18" filter="url(#g20)"/>
<ellipse cx="242.12" cy="60.52" rx="2.34" ry="1.73" transform="rotate(-36 242.12 60.52)" fill="#000" opacity="0.14" filter="url(#g10)"/>
<ellipse cx="242.92" cy="50.95" rx="2.07" ry="1.9" transform="rotate(-4 242.92 50.95)" fill="#000" opacity="0.27" filter="url(#g10)"/>
<ellipse cx="252.42" cy="48.16" rx="1.4" ry="1.97" transform="rotate(-16 252.42 48.16)" fill="#000" opacity="0.12" filter="url(#g10)"/>
<ellipse cx="258.74" cy="45.28" rx="2.34" ry="1.63" transform="rotate(-29 258.74 45.28)" fill="#000" opacity="0.22" filter="url(#g10)"/>
<ellipse cx="251.22" cy="45.89" rx="1.35" ry="1.4" transform="rotate(-16 251.22 45.89)" fill="#000" opacity="0.12" filter="url(#g10)"/>
<ellipse cx="242.31" cy="49.34" rx="1.41" ry="1.97" transform="rotate(-37 242.31 49.34)" fill="#000" opacity="0.13" filter="url(#g10)"/>
<ellipse cx="248.85" cy="46.49" rx="2.09" ry="1.53" transform="rotate(-18 248.85 46.49)" fill="#000" opacity="0.25" filter="url(#g10)"/>
<ellipse cx="243.32" cy="65.80" rx="2.22" ry="1.64" transform="rotate(-5 243.32 65.80)" fill="#000" opacity="0.22" filter="url(#g10)"/>
<ellipse cx="255.31" cy="38.09" rx="2.39" ry="1.72" transform="rotate(-2 255.31 38.09)" fill="#000" opacity="0.2" filter="url(#g10)"/>
<ellipse cx="246.67" cy="58.26" rx="1.28" ry="1.14" transform="rotate(-30 246.67 58.26)" fill="#000" opacity="0.29" filter="url(#g10)"/>
<ellipse cx="252.58" cy="65.59" rx="2.61" ry="1.46" transform="rotate(-44 252.58 65.59)" fill="#000" opacity="0.17" filter="url(#g10)"/>
<ellipse cx="259.32" cy="45.10" rx="1.51" ry="1.19" transform="rotate(-27 259.32 45.10)" fill="#000" opacity="0.17" filter="url(#g10)"/>
<ellipse cx="240.85" cy="62.91" rx="1.33" ry="1.47" transform="rotate(-51 240.85 62.91)" fill="#000" opacity="0.11" filter="url(#g10)"/>
<ellipse cx="259.07" cy="44.87" rx="1.63" ry="1.53" transform="rotate(-13 259.07 44.87)" fill="#000" opacity="0.13" filter="url(#g10)"/>
<ellipse cx="242.72" cy="68.33" rx="1.52" ry="1.56" transform="rotate(-9 242.72 68.33)" fill="#000" opacity="0.25" filter="url(#g10)"/>
<ellipse cx="253.02" cy="42.95" rx="2.38" ry="1.31" transform="rotate(0 253.02 42.95)" fill="#000" opacity="0.12" filter="url(#g10)"/>
<ellipse cx="249.12" cy="49.86" rx="2.75" ry="2.1" transform="rotate(-30 249.12 49.86)" fill="#000" opacity="0.11" filter="url(#g10)"/>
<ellipse cx="243.69" cy="60.96" rx="1.88" ry="2.13" transform="rotate(-45 243.69 60.96)" fill="#000" opacity="0.24" filter="url(#g10)"/>
<ellipse cx="255.47" cy="35.73" rx="2.54" ry="1.33" transform="rotate(-11 255.47 35.73)" fill="#000" opacity="0.12" filter="url(#g10)"/>
<ellipse cx="246.51" cy="54.52" rx="2.27" ry="2.1" transform="rotate(-52 246.51 54.52)" fill="#000" opacity="0.18" filter="url(#g10)"/>
<ellipse cx="243.14" cy="50.69" rx="2.73" ry="1.41" transform="rotate(-52 243.14 50.69)" fill="#000" opacity="0.18" filter="url(#g10)"/>
<ellipse cx="252.36" cy="37.17" rx="2.34" ry="1.31" transform="rotate(-43 252.36 37.17)" fill="#000" opacity="0.28" filter="url(#g10)"/>
<ellipse cx="257.36" cy="62.24" rx="1.51" ry="1.11" transform="rotate(-25 257.36 62.24)" fill="#000" opacity="0.25" filter="url(#g10)"/>
<ellipse cx="264.01" cy="40.69" rx="2.09" ry="1.72" transform="rotate(-30 264.01 40.69)" fill="#000" opacity="0.14" filter="url(#g10)"/>
<ellipse cx="240.70" cy="56.69" rx="1.49" ry="1.31" transform="rotate(-3 240.70 56.69)" fill="#000" opacity="0.1" filter="url(#g10)"/>
<ellipse cx="259.92" cy="51.66" rx="2.24" ry="1.25" transform="rotate(-51 259.92 51.66)" fill="#000" opacity="0.25" filter="url(#g10)"/>
<ellipse cx="257.18" cy="43.49" rx="2.22" ry="1.51" transform="rotate(-10 257.18 43.49)" fill="#000" opacity="0.15" filter="url(#g10)"/>
<ellipse cx="242.69" cy="62.31" rx="1.58" ry="1.58" transform="rotate(-47 242.69 62.31)" fill="#000" opacity="0.17" filter="url(#g10)"/>
</g>
<rect x="224.50" y="20.50" width="65.50" height="65.30" fill="none" stroke="#999" stroke-width="1.0" />
<text x="220.10" y="29.70" font-size="6.3" text-anchor="end" fill="#111" color="#111">10<tspan dy="-2.7" font-size="4.28">5</tspan></text>
<line x1="223.00" y1="27.40" x2="224.50" y2="27.40" stroke="#000" stroke-width="0.7" />
<text x="220.10" y="44.80" font-size="6.3" text-anchor="end" fill="#111" color="#111">10<tspan dy="-2.7" font-size="4.28">4</tspan></text>
<line x1="223.00" y1="42.50" x2="224.50" y2="42.50" stroke="#000" stroke-width="0.7" />
<text x="220.10" y="62.50" font-size="6.3" text-anchor="end" fill="#111" color="#111">10<tspan dy="-2.7" font-size="4.28">3</tspan></text>
<line x1="223.00" y1="60.20" x2="224.50" y2="60.20" stroke="#000" stroke-width="0.7" />
<text transform="translate(219.20,73.10)" font-size="6.3" text-anchor="end" font-weight="normal" font-style="normal" fill="#111" color="#111">0</text>
<line x1="223.00" y1="70.80" x2="224.50" y2="70.80" stroke="#000" stroke-width="0.7" />
<text x="220.10" y="84.30" font-size="6.3" text-anchor="end" fill="#111" color="#111">&#8722;10<tspan dy="-2.7" font-size="4.28">3</tspan></text>
<line x1="223.00" y1="82.00" x2="224.50" y2="82.00" stroke="#000" stroke-width="0.7" />
<line x1="223.70" y1="25.16" x2="224.50" y2="25.16" stroke="#666" stroke-width="0.4" />
<line x1="223.70" y1="29.83" x2="224.50" y2="29.83" stroke="#666" stroke-width="0.4" />
<line x1="223.70" y1="34.49" x2="224.50" y2="34.49" stroke="#666" stroke-width="0.4" />
<line x1="223.70" y1="39.16" x2="224.50" y2="39.16" stroke="#666" stroke-width="0.4" />
<line x1="223.70" y1="43.82" x2="224.50" y2="43.82" stroke="#666" stroke-width="0.4" />
<line x1="223.70" y1="48.49" x2="224.50" y2="48.49" stroke="#666" stroke-width="0.4" />
<line x1="223.70" y1="53.15" x2="224.50" y2="53.15" stroke="#666" stroke-width="0.4" />
<line x1="223.70" y1="57.81" x2="224.50" y2="57.81" stroke="#666" stroke-width="0.4" />
<line x1="223.70" y1="62.48" x2="224.50" y2="62.48" stroke="#666" stroke-width="0.4" />
<line x1="223.70" y1="67.14" x2="224.50" y2="67.14" stroke="#666" stroke-width="0.4" />
<line x1="223.70" y1="71.81" x2="224.50" y2="71.81" stroke="#666" stroke-width="0.4" />
<line x1="223.70" y1="76.47" x2="224.50" y2="76.47" stroke="#666" stroke-width="0.4" />
<line x1="223.70" y1="81.14" x2="224.50" y2="81.14" stroke="#666" stroke-width="0.4" />
<text x="226.50" y="95.40" font-size="6.3" text-anchor="middle" fill="#111" color="#111">&#8722;10<tspan dy="-2.7" font-size="4.28">3</tspan></text>
<line x1="226.50" y1="85.80" x2="226.50" y2="87.30" stroke="#000" stroke-width="0.7" />
<text transform="translate(240.90,95.40)" font-size="6.3" text-anchor="middle" font-weight="normal" font-style="normal" fill="#111" color="#111">0</text>
<line x1="240.90" y1="85.80" x2="240.90" y2="87.30" stroke="#000" stroke-width="0.7" />
<text x="250.10" y="95.40" font-size="6.3" text-anchor="middle" fill="#111" color="#111">10<tspan dy="-2.7" font-size="4.28">3</tspan></text>
<line x1="250.10" y1="85.80" x2="250.10" y2="87.30" stroke="#000" stroke-width="0.7" />
<text x="267.20" y="95.40" font-size="6.3" text-anchor="middle" fill="#111" color="#111">10<tspan dy="-2.7" font-size="4.28">4</tspan></text>
<line x1="267.20" y1="85.80" x2="267.20" y2="87.30" stroke="#000" stroke-width="0.7" />
<text x="283.60" y="95.40" font-size="6.3" text-anchor="middle" fill="#111" color="#111">10<tspan dy="-2.7" font-size="4.28">5</tspan></text>
<line x1="283.60" y1="85.80" x2="283.60" y2="87.30" stroke="#000" stroke-width="0.7" />
<line x1="229.18" y1="85.80" x2="229.18" y2="86.60" stroke="#666" stroke-width="0.4" />
<line x1="233.86" y1="85.80" x2="233.86" y2="86.60" stroke="#666" stroke-width="0.4" />
<line x1="238.54" y1="85.80" x2="238.54" y2="86.60" stroke="#666" stroke-width="0.4" />
<line x1="243.21" y1="85.80" x2="243.21" y2="86.60" stroke="#666" stroke-width="0.4" />
<line x1="247.89" y1="85.80" x2="247.89" y2="86.60" stroke="#666" stroke-width="0.4" />
<line x1="252.57" y1="85.80" x2="252.57" y2="86.60" stroke="#666" stroke-width="0.4" />
<line x1="257.25" y1="85.80" x2="257.25" y2="86.60" stroke="#666" stroke-width="0.4" />
<line x1="261.93" y1="85.80" x2="261.93" y2="86.60" stroke="#666" stroke-width="0.4" />
<line x1="266.61" y1="85.80" x2="266.61" y2="86.60" stroke="#666" stroke-width="0.4" />
<line x1="271.29" y1="85.80" x2="271.29" y2="86.60" stroke="#666" stroke-width="0.4" />
<line x1="275.96" y1="85.80" x2="275.96" y2="86.60" stroke="#666" stroke-width="0.4" />
<line x1="280.64" y1="85.80" x2="280.64" y2="86.60" stroke="#666" stroke-width="0.4" />
<line x1="285.32" y1="85.80" x2="285.32" y2="86.60" stroke="#666" stroke-width="0.4" />
<line x1="224.50" y1="59.90" x2="290.00" y2="59.90" stroke="#5a5a5a" stroke-width="1.45" />
<line x1="245.40" y1="20.50" x2="245.40" y2="85.80" stroke="#5a5a5a" stroke-width="1.45" />
<rect x="245.40" y="23.70" width="26.30" height="59.60" fill="none" stroke="#3a3a3a" stroke-width="0.8" />
<line x1="226.80" y1="62.50" x2="226.80" y2="70.50" stroke="#888" stroke-width="0.45" />
<line x1="234.50" y1="83.20" x2="245.40" y2="83.20" stroke="#666" stroke-width="0.5" />
<text transform="translate(281.80,49.40)" font-size="5.8" text-anchor="middle" font-weight="normal" font-style="normal" fill="#BA2453" color="#BA2453" style="stroke-width:0.18px">GMP</text>
<text transform="translate(281.80,56.10)" font-size="5.8" text-anchor="middle" font-weight="normal" font-style="normal" fill="#BA2453" color="#BA2453" style="stroke-width:0.18px">52.1%</text>
<text x="227.00" y="25.30" font-size="3.0" text-anchor="start" fill="#333" color="#333" style="stroke-width:0.12px">Q1</text>
<text x="227.30" y="28.80" font-size="3.0" text-anchor="start" fill="#333" color="#333" style="stroke-width:0.12px">9.23</text>
<text x="282.70" y="25.30" font-size="3.0" text-anchor="start" fill="#333" color="#333" style="stroke-width:0.12px">Q2</text>
<text x="282.70" y="28.80" font-size="3.0" text-anchor="start" fill="#333" color="#333" style="stroke-width:0.12px">52.7</text>
<text x="271.60" y="29.80" font-size="3.0" text-anchor="end" fill="#333" color="#333" style="stroke-width:0.12px">GMP</text>
<text x="270.20" y="33.30" font-size="3.0" text-anchor="end" fill="#333" color="#333" style="stroke-width:0.12px">52.1</text>
<text x="227.50" y="69.00" font-size="3.0" text-anchor="start" fill="#333" color="#333" style="stroke-width:0.12px">MEP</text>
<text x="228.00" y="72.50" font-size="3.0" text-anchor="start" fill="#333" color="#333" style="stroke-width:0.12px">24.8</text>
<text x="270.20" y="69.00" font-size="3.0" text-anchor="end" fill="#333" color="#333" style="stroke-width:0.12px">CMP</text>
<text x="269.90" y="72.50" font-size="3.0" text-anchor="end" fill="#333" color="#333" style="stroke-width:0.12px">13.0</text>
<text x="227.00" y="79.00" font-size="3.0" text-anchor="start" fill="#333" color="#333" style="stroke-width:0.12px">Q4</text>
<text x="227.00" y="82.50" font-size="3.0" text-anchor="start" fill="#333" color="#333" style="stroke-width:0.12px">24.8</text>
<text x="282.70" y="79.00" font-size="3.0" text-anchor="start" fill="#333" color="#333" style="stroke-width:0.12px">Q3</text>
<text x="282.70" y="82.50" font-size="3.0" text-anchor="start" fill="#333" color="#333" style="stroke-width:0.12px">13.2</text>
<rect x="222.90" y="69.80" width="1.2" height="2.2" rx="0.5" fill="#000"/>
<rect x="237.30" y="86.10" width="3.2" height="1.1" rx="0.5" fill="#000"/>
<text transform="translate(249.70,14.00)" font-size="9" text-anchor="middle" font-weight="normal" font-style="italic" fill="#111" color="#111" style="stroke-width:0.05px">M</text>
<g clip-path="url(#clipA3)">
<ellipse cx="340.40" cy="53.50" rx="19" ry="14" transform="rotate(-45 340.40 53.50)" fill="#000" opacity="0.28" filter="url(#g30)"/>
<ellipse cx="339.90" cy="51.50" rx="11" ry="7" transform="rotate(-45 339.90 51.50)" fill="#000" opacity="0.6" filter="url(#g20)"/>
<ellipse cx="339.00" cy="53.50" rx="5.5" ry="4.2" transform="rotate(-40 339.00 53.50)" fill="#000" opacity="0.6" filter="url(#g15)"/>
<ellipse cx="343.40" cy="46.50" rx="4.5" ry="3.2" transform="rotate(-40 343.40 46.50)" fill="#000" opacity="0.45" filter="url(#g15)"/>
<ellipse cx="330.80" cy="67.50" rx="3.2" ry="5.8" transform="rotate(-10 330.80 67.50)" fill="#000" opacity="0.65" filter="url(#g15)"/>
<ellipse cx="337.40" cy="65.50" rx="9" ry="4.5" transform="rotate(0 337.40 65.50)" fill="#000" opacity="0.18" filter="url(#g20)"/>
<ellipse cx="348.40" cy="44.50" rx="6" ry="5" transform="rotate(-20 348.40 44.50)" fill="#000" opacity="0.25" filter="url(#g20)"/>
<ellipse cx="339.97" cy="43.85" rx="2.38" ry="1.26" transform="rotate(-56 339.97 43.85)" fill="#000" opacity="0.28" filter="url(#g10)"/>
<ellipse cx="340.57" cy="41.32" rx="1.74" ry="1.81" transform="rotate(-29 340.57 41.32)" fill="#000" opacity="0.1" filter="url(#g10)"/>
<ellipse cx="333.98" cy="59.43" rx="1.56" ry="1.13" transform="rotate(-52 333.98 59.43)" fill="#000" opacity="0.21" filter="url(#g10)"/>
<ellipse cx="334.53" cy="45.96" rx="2.13" ry="1.81" transform="rotate(-46 334.53 45.96)" fill="#000" opacity="0.25" filter="url(#g10)"/>
<ellipse cx="343.28" cy="47.26" rx="1.79" ry="1.7" transform="rotate(0 343.28 47.26)" fill="#000" opacity="0.23" filter="url(#g10)"/>
<ellipse cx="344.31" cy="44.12" rx="2.65" ry="1.91" transform="rotate(-27 344.31 44.12)" fill="#000" opacity="0.28" filter="url(#g10)"/>
<ellipse cx="338.04" cy="41.42" rx="1.67" ry="1.58" transform="rotate(-51 338.04 41.42)" fill="#000" opacity="0.11" filter="url(#g10)"/>
<ellipse cx="346.20" cy="49.56" rx="1.76" ry="2.01" transform="rotate(-18 346.20 49.56)" fill="#000" opacity="0.23" filter="url(#g10)"/>
<ellipse cx="308.94" cy="66.16" rx="2.78" ry="1.68" transform="rotate(-11 308.94 66.16)" fill="#000" opacity="0.1" filter="url(#g10)"/>
<ellipse cx="344.18" cy="57.46" rx="2.19" ry="1.46" transform="rotate(-14 344.18 57.46)" fill="#000" opacity="0.18" filter="url(#g10)"/>
<ellipse cx="351.37" cy="49.80" rx="1.27" ry="1.78" transform="rotate(-5 351.37 49.80)" fill="#000" opacity="0.08" filter="url(#g10)"/>
<ellipse cx="334.02" cy="64.82" rx="2.69" ry="1.18" transform="rotate(-55 334.02 64.82)" fill="#000" opacity="0.22" filter="url(#g10)"/>
<ellipse cx="330.99" cy="57.44" rx="2.09" ry="1.81" transform="rotate(-40 330.99 57.44)" fill="#000" opacity="0.14" filter="url(#g10)"/>
<ellipse cx="342.99" cy="52.53" rx="1.93" ry="1.48" transform="rotate(-49 342.99 52.53)" fill="#000" opacity="0.12" filter="url(#g10)"/>
<ellipse cx="337.08" cy="55.52" rx="2.18" ry="2.05" transform="rotate(0 337.08 55.52)" fill="#000" opacity="0.22" filter="url(#g10)"/>
<ellipse cx="345.38" cy="60.83" rx="2.4" ry="2.01" transform="rotate(-21 345.38 60.83)" fill="#000" opacity="0.27" filter="url(#g10)"/>
<ellipse cx="345.77" cy="56.07" rx="1.66" ry="2.04" transform="rotate(-42 345.77 56.07)" fill="#000" opacity="0.21" filter="url(#g10)"/>
<ellipse cx="342.08" cy="40.96" rx="1.63" ry="1.04" transform="rotate(-9 342.08 40.96)" fill="#000" opacity="0.21" filter="url(#g10)"/>
<ellipse cx="337.49" cy="51.44" rx="1.42" ry="1.93" transform="rotate(-3 337.49 51.44)" fill="#000" opacity="0.3" filter="url(#g10)"/>
<ellipse cx="334.98" cy="42.52" rx="2.15" ry="1.14" transform="rotate(-2 334.98 42.52)" fill="#000" opacity="0.08" filter="url(#g10)"/>
<ellipse cx="336.11" cy="65.05" rx="2.28" ry="2.03" transform="rotate(-44 336.11 65.05)" fill="#000" opacity="0.23" filter="url(#g10)"/>
<ellipse cx="334.51" cy="44.00" rx="2.07" ry="1.74" transform="rotate(-52 334.51 44.00)" fill="#000" opacity="0.29" filter="url(#g10)"/>
<ellipse cx="347.30" cy="43.98" rx="2.4" ry="1.97" transform="rotate(-44 347.30 43.98)" fill="#000" opacity="0.23" filter="url(#g10)"/>
<ellipse cx="336.79" cy="59.68" rx="1.67" ry="1.46" transform="rotate(-11 336.79 59.68)" fill="#000" opacity="0.18" filter="url(#g10)"/>
<ellipse cx="327.94" cy="53.25" rx="2.02" ry="1.87" transform="rotate(-46 327.94 53.25)" fill="#000" opacity="0.29" filter="url(#g10)"/>
<ellipse cx="328.67" cy="72.42" rx="2.3" ry="1.34" transform="rotate(-1 328.67 72.42)" fill="#000" opacity="0.18" filter="url(#g10)"/>
<ellipse cx="334.82" cy="46.86" rx="1.98" ry="1.16" transform="rotate(-49 334.82 46.86)" fill="#000" opacity="0.19" filter="url(#g10)"/>
<ellipse cx="344.85" cy="38.14" rx="1.77" ry="1.45" transform="rotate(-48 344.85 38.14)" fill="#000" opacity="0.11" filter="url(#g10)"/>
</g>
<rect x="312.40" y="20.50" width="65.50" height="65.30" fill="none" stroke="#999" stroke-width="1.0" />
<text x="308.00" y="29.70" font-size="6.3" text-anchor="end" fill="#111" color="#111">10<tspan dy="-2.7" font-size="4.28">5</tspan></text>
<line x1="310.90" y1="27.40" x2="312.40" y2="27.40" stroke="#000" stroke-width="0.7" />
<text x="308.00" y="44.80" font-size="6.3" text-anchor="end" fill="#111" color="#111">10<tspan dy="-2.7" font-size="4.28">4</tspan></text>
<line x1="310.90" y1="42.50" x2="312.40" y2="42.50" stroke="#000" stroke-width="0.7" />
<text x="308.00" y="62.50" font-size="6.3" text-anchor="end" fill="#111" color="#111">10<tspan dy="-2.7" font-size="4.28">3</tspan></text>
<line x1="310.90" y1="60.20" x2="312.40" y2="60.20" stroke="#000" stroke-width="0.7" />
<text transform="translate(307.10,73.10)" font-size="6.3" text-anchor="end" font-weight="normal" font-style="normal" fill="#111" color="#111">0</text>
<line x1="310.90" y1="70.80" x2="312.40" y2="70.80" stroke="#000" stroke-width="0.7" />
<text x="308.00" y="84.30" font-size="6.3" text-anchor="end" fill="#111" color="#111">&#8722;10<tspan dy="-2.7" font-size="4.28">3</tspan></text>
<line x1="310.90" y1="82.00" x2="312.40" y2="82.00" stroke="#000" stroke-width="0.7" />
<line x1="311.60" y1="25.16" x2="312.40" y2="25.16" stroke="#666" stroke-width="0.4" />
<line x1="311.60" y1="29.83" x2="312.40" y2="29.83" stroke="#666" stroke-width="0.4" />
<line x1="311.60" y1="34.49" x2="312.40" y2="34.49" stroke="#666" stroke-width="0.4" />
<line x1="311.60" y1="39.16" x2="312.40" y2="39.16" stroke="#666" stroke-width="0.4" />
<line x1="311.60" y1="43.82" x2="312.40" y2="43.82" stroke="#666" stroke-width="0.4" />
<line x1="311.60" y1="48.49" x2="312.40" y2="48.49" stroke="#666" stroke-width="0.4" />
<line x1="311.60" y1="53.15" x2="312.40" y2="53.15" stroke="#666" stroke-width="0.4" />
<line x1="311.60" y1="57.81" x2="312.40" y2="57.81" stroke="#666" stroke-width="0.4" />
<line x1="311.60" y1="62.48" x2="312.40" y2="62.48" stroke="#666" stroke-width="0.4" />
<line x1="311.60" y1="67.14" x2="312.40" y2="67.14" stroke="#666" stroke-width="0.4" />
<line x1="311.60" y1="71.81" x2="312.40" y2="71.81" stroke="#666" stroke-width="0.4" />
<line x1="311.60" y1="76.47" x2="312.40" y2="76.47" stroke="#666" stroke-width="0.4" />
<line x1="311.60" y1="81.14" x2="312.40" y2="81.14" stroke="#666" stroke-width="0.4" />
<text x="314.40" y="95.40" font-size="6.3" text-anchor="middle" fill="#111" color="#111">&#8722;10<tspan dy="-2.7" font-size="4.28">3</tspan></text>
<line x1="314.40" y1="85.80" x2="314.40" y2="87.30" stroke="#000" stroke-width="0.7" />
<text transform="translate(328.80,95.40)" font-size="6.3" text-anchor="middle" font-weight="normal" font-style="normal" fill="#111" color="#111">0</text>
<line x1="328.80" y1="85.80" x2="328.80" y2="87.30" stroke="#000" stroke-width="0.7" />
<text x="338.00" y="95.40" font-size="6.3" text-anchor="middle" fill="#111" color="#111">10<tspan dy="-2.7" font-size="4.28">3</tspan></text>
<line x1="338.00" y1="85.80" x2="338.00" y2="87.30" stroke="#000" stroke-width="0.7" />
<text x="355.10" y="95.40" font-size="6.3" text-anchor="middle" fill="#111" color="#111">10<tspan dy="-2.7" font-size="4.28">4</tspan></text>
<line x1="355.10" y1="85.80" x2="355.10" y2="87.30" stroke="#000" stroke-width="0.7" />
<text x="371.50" y="95.40" font-size="6.3" text-anchor="middle" fill="#111" color="#111">10<tspan dy="-2.7" font-size="4.28">5</tspan></text>
<line x1="371.50" y1="85.80" x2="371.50" y2="87.30" stroke="#000" stroke-width="0.7" />
<line x1="317.08" y1="85.80" x2="317.08" y2="86.60" stroke="#666" stroke-width="0.4" />
<line x1="321.76" y1="85.80" x2="321.76" y2="86.60" stroke="#666" stroke-width="0.4" />
<line x1="326.44" y1="85.80" x2="326.44" y2="86.60" stroke="#666" stroke-width="0.4" />
<line x1="331.11" y1="85.80" x2="331.11" y2="86.60" stroke="#666" stroke-width="0.4" />
<line x1="335.79" y1="85.80" x2="335.79" y2="86.60" stroke="#666" stroke-width="0.4" />
<line x1="340.47" y1="85.80" x2="340.47" y2="86.60" stroke="#666" stroke-width="0.4" />
<line x1="345.15" y1="85.80" x2="345.15" y2="86.60" stroke="#666" stroke-width="0.4" />
<line x1="349.83" y1="85.80" x2="349.83" y2="86.60" stroke="#666" stroke-width="0.4" />
<line x1="354.51" y1="85.80" x2="354.51" y2="86.60" stroke="#666" stroke-width="0.4" />
<line x1="359.19" y1="85.80" x2="359.19" y2="86.60" stroke="#666" stroke-width="0.4" />
<line x1="363.86" y1="85.80" x2="363.86" y2="86.60" stroke="#666" stroke-width="0.4" />
<line x1="368.54" y1="85.80" x2="368.54" y2="86.60" stroke="#666" stroke-width="0.4" />
<line x1="373.22" y1="85.80" x2="373.22" y2="86.60" stroke="#666" stroke-width="0.4" />
<line x1="312.40" y1="59.90" x2="377.90" y2="59.90" stroke="#5a5a5a" stroke-width="1.45" />
<line x1="333.50" y1="20.50" x2="333.50" y2="85.80" stroke="#5a5a5a" stroke-width="1.45" />
<rect x="333.50" y="23.70" width="26.90" height="59.60" fill="none" stroke="#3a3a3a" stroke-width="0.8" />
<line x1="314.70" y1="62.50" x2="314.70" y2="70.50" stroke="#888" stroke-width="0.45" />
<line x1="322.40" y1="83.20" x2="333.50" y2="83.20" stroke="#666" stroke-width="0.5" />
<text transform="translate(369.70,49.40)" font-size="5.8" text-anchor="middle" font-weight="normal" font-style="normal" fill="#BA2453" color="#BA2453" style="stroke-width:0.18px">GMP</text>
<text transform="translate(369.70,56.10)" font-size="5.8" text-anchor="middle" font-weight="normal" font-style="normal" fill="#BA2453" color="#BA2453" style="stroke-width:0.18px">60.8%</text>
<text x="314.90" y="25.30" font-size="3.0" text-anchor="start" fill="#333" color="#333" style="stroke-width:0.12px">Q1</text>
<text x="315.20" y="28.80" font-size="3.0" text-anchor="start" fill="#333" color="#333" style="stroke-width:0.12px">9.93</text>
<text x="370.60" y="25.30" font-size="3.0" text-anchor="start" fill="#333" color="#333" style="stroke-width:0.12px">Q2</text>
<text x="370.60" y="28.80" font-size="3.0" text-anchor="start" fill="#333" color="#333" style="stroke-width:0.12px">61.9</text>
<text x="359.70" y="29.80" font-size="3.0" text-anchor="end" fill="#333" color="#333" style="stroke-width:0.12px">GMP</text>
<text x="358.30" y="33.30" font-size="3.0" text-anchor="end" fill="#333" color="#333" style="stroke-width:0.12px">60.8</text>
<text x="315.40" y="69.00" font-size="3.0" text-anchor="start" fill="#333" color="#333" style="stroke-width:0.12px">MEP</text>
<text x="315.90" y="72.50" font-size="3.0" text-anchor="start" fill="#333" color="#333" style="stroke-width:0.12px">15.0</text>
<text x="358.30" y="69.00" font-size="3.0" text-anchor="end" fill="#333" color="#333" style="stroke-width:0.12px">CMP</text>
<text x="358.00" y="72.50" font-size="3.0" text-anchor="end" fill="#333" color="#333" style="stroke-width:0.12px">13.5</text>
<text x="314.90" y="79.00" font-size="3.0" text-anchor="start" fill="#333" color="#333" style="stroke-width:0.12px">Q4</text>
<text x="314.90" y="82.50" font-size="3.0" text-anchor="start" fill="#333" color="#333" style="stroke-width:0.12px">15.0</text>
<text x="370.60" y="79.00" font-size="3.0" text-anchor="start" fill="#333" color="#333" style="stroke-width:0.12px">Q3</text>
<text x="370.60" y="82.50" font-size="3.0" text-anchor="start" fill="#333" color="#333" style="stroke-width:0.12px">13.2</text>
<rect x="310.80" y="69.80" width="1.2" height="2.2" rx="0.5" fill="#000"/>
<rect x="325.20" y="86.10" width="3.2" height="1.1" rx="0.5" fill="#000"/>
<text transform="translate(335.10,14.00)" font-size="9" text-anchor="middle" font-weight="normal" font-style="italic" fill="#111" color="#111" style="stroke-width:0.05px">Shp2<tspan font-size="6.5" dy="-0.6">*</tspan><tspan dy="0.6">M</tspan></text>
<g clip-path="url(#clipB0)">
<path d="M74.6,126.1h0.01M86.1,124.2h0.01M82.1,131.3h0.01M65.3,134.7h0.01M64.6,132.9h0.01M65.7,124.7h0.01M78.2,142.3h0.01M67.6,127.9h0.01M85.3,145.2h0.01M83.5,132.0h0.01M97.5,123.6h0.01M93.3,129.5h0.01M68.3,125.3h0.01M74.1,142.1h0.01M69.6,136.5h0.01M85.7,131.4h0.01M82.5,124.0h0.01M65.4,127.4h0.01M87.1,132.8h0.01M74.3,136.6h0.01M79.2,129.7h0.01M91.1,139.3h0.01M71.8,136.3h0.01M81.7,143.5h0.01M88.8,129.4h0.01M97.6,125.3h0.01M77.9,140.7h0.01M68.6,134.2h0.01M64.7,138.5h0.01M90.1,136.3h0.01M93.9,130.0h0.01M87.6,136.8h0.01M83.6,133.4h0.01M92.7,145.2h0.01M79.9,138.4h0.01M65.4,139.3h0.01M85.9,146.3h0.01M92.1,129.3h0.01M76.8,138.5h0.01M64.1,133.6h0.01M69.2,125.3h0.01M65.4,140.9h0.01M67.8,128.4h0.01M77.0,143.4h0.01M66.1,133.3h0.01" stroke="#6070C8" stroke-width="0.6" stroke-linecap="round" opacity="0.3"/>
<path d="M61.5,155.5h0.01M79.8,151.7h0.01M73.1,160.8h0.01M65.8,162.7h0.01M77.9,157.0h0.01M76.4,159.6h0.01M75.1,161.2h0.01M70.0,156.2h0.01M81.1,157.6h0.01M68.6,160.5h0.01M83.8,156.1h0.01M65.3,157.1h0.01M73.3,156.5h0.01M83.4,154.2h0.01M82.5,153.4h0.01M69.2,159.5h0.01M81.6,160.2h0.01M76.5,158.0h0.01M75.3,159.3h0.01M73.2,158.4h0.01M78.0,157.5h0.01M79.3,159.3h0.01M87.4,158.5h0.01M71.5,156.3h0.01M74.2,160.5h0.01M72.1,158.7h0.01M86.2,149.3h0.01M67.0,158.3h0.01M76.9,158.3h0.01M71.5,159.6h0.01M76.1,155.8h0.01M90.1,158.6h0.01M70.7,157.2h0.01M72.8,157.3h0.01M56.6,155.9h0.01M80.9,153.8h0.01M73.9,160.6h0.01M79.9,162.3h0.01M63.2,156.4h0.01M72.1,159.5h0.01M81.4,148.9h0.01M81.4,152.9h0.01M78.7,152.7h0.01M75.4,161.3h0.01M73.3,158.1h0.01M79.5,158.0h0.01M73.7,162.4h0.01M81.1,156.6h0.01M92.1,153.8h0.01M80.2,156.6h0.01M75.2,159.8h0.01M75.7,159.5h0.01M64.4,152.7h0.01M78.3,154.4h0.01M67.6,152.8h0.01M82.5,159.9h0.01M83.9,154.5h0.01M74.3,153.9h0.01M79.3,162.6h0.01M68.5,162.5h0.01M80.7,156.9h0.01M61.5,162.0h0.01M73.7,155.6h0.01M76.9,158.8h0.01M84.0,154.2h0.01M81.7,162.3h0.01M83.7,156.9h0.01M69.5,160.8h0.01M75.0,157.9h0.01M83.6,156.7h0.01M59.4,156.3h0.01M62.2,160.1h0.01M76.4,155.5h0.01M74.2,160.2h0.01M74.8,161.7h0.01M73.9,160.8h0.01M84.0,162.7h0.01M69.9,160.3h0.01M62.1,154.0h0.01M61.5,160.9h0.01M66.3,157.5h0.01M73.1,157.4h0.01M70.5,158.2h0.01M85.9,157.6h0.01M77.8,160.7h0.01M73.0,153.5h0.01M70.7,160.9h0.01M63.6,155.6h0.01M80.8,160.0h0.01M74.3,160.1h0.01M75.4,153.7h0.01M64.1,155.5h0.01M80.3,155.7h0.01M68.4,155.0h0.01M64.3,157.1h0.01M66.6,158.7h0.01M59.0,158.5h0.01M70.1,151.3h0.01M79.0,156.6h0.01M59.8,154.7h0.01M76.2,156.0h0.01M79.4,159.9h0.01M78.6,158.5h0.01M83.0,159.6h0.01M77.2,150.8h0.01M80.1,161.7h0.01M72.4,156.0h0.01M86.9,151.9h0.01M77.3,165.3h0.01M68.3,159.7h0.01M86.6,157.1h0.01M77.9,160.4h0.01M68.4,157.2h0.01M76.2,160.1h0.01M74.1,156.9h0.01M67.7,156.4h0.01M80.1,157.8h0.01M68.8,154.8h0.01M91.6,161.1h0.01M78.4,149.2h0.01M78.3,159.0h0.01M85.2,158.9h0.01M73.9,159.2h0.01M61.7,160.8h0.01M76.4,155.3h0.01M82.9,163.3h0.01M65.2,155.4h0.01M76.2,158.1h0.01M71.7,154.4h0.01M88.1,160.8h0.01M66.5,153.2h0.01M85.4,160.7h0.01M86.1,160.1h0.01M68.6,158.3h0.01M60.3,155.1h0.01M73.9,159.2h0.01M69.6,157.1h0.01M77.3,158.7h0.01M78.4,158.2h0.01M72.2,160.0h0.01M74.6,154.9h0.01M70.2,157.5h0.01M73.6,158.0h0.01M74.3,158.1h0.01M73.4,153.5h0.01M77.0,160.9h0.01M77.1,156.9h0.01M77.2,154.4h0.01M62.0,157.7h0.01M68.3,159.9h0.01M67.3,149.1h0.01M67.5,162.5h0.01M71.8,153.1h0.01M69.3,159.2h0.01M77.5,158.1h0.01M83.9,159.8h0.01M74.2,159.4h0.01M85.1,160.6h0.01M81.0,154.0h0.01M73.3,159.8h0.01" stroke="#6070C8" stroke-width="0.6" stroke-linecap="round" opacity="0.45"/>
<path d="M59.8,154.1h0.01M60.6,152.5h0.01M59.9,168.9h0.01M61.2,141.3h0.01M60.2,169.4h0.01M59.8,152.2h0.01M61.0,143.5h0.01M59.0,145.3h0.01M60.4,154.7h0.01M60.8,143.7h0.01M60.9,148.8h0.01M60.3,144.0h0.01M59.9,150.3h0.01M59.2,137.2h0.01M60.1,128.8h0.01M59.7,123.4h0.01M59.5,149.1h0.01M60.6,142.9h0.01M59.9,129.3h0.01M61.7,148.6h0.01M61.1,134.6h0.01M59.9,125.3h0.01M60.8,152.8h0.01M58.4,142.9h0.01M60.7,125.8h0.01M58.5,132.8h0.01M59.5,129.4h0.01M60.1,145.9h0.01M60.7,150.5h0.01M61.5,155.1h0.01M58.9,138.4h0.01M59.1,132.7h0.01M60.0,143.5h0.01M60.5,127.6h0.01M59.0,143.2h0.01M59.9,140.3h0.01M60.0,135.9h0.01M60.7,147.0h0.01M60.0,136.7h0.01M59.9,116.2h0.01M59.2,143.8h0.01M58.7,145.4h0.01M60.2,129.7h0.01M59.9,140.3h0.01M60.5,149.6h0.01M60.1,134.9h0.01M60.0,142.8h0.01M60.8,146.4h0.01M59.4,129.9h0.01M59.8,136.0h0.01" stroke="#6070C8" stroke-width="0.6" stroke-linecap="round" opacity="0.5"/>
<rect x="58.85" y="126.90" width="2.5" height="33.10" rx="1.2" fill="#3A68D0" opacity="0.8" filter="url(#g4)"/>
<rect x="58.70" y="128.00" width="2.80" height="15.00" rx="1.40" fill="#3C6AD0" opacity="0.75" filter="url(#g4)"/>
<rect x="58.95" y="129.50" width="2.30" height="12.00" rx="1.15" fill="#3AA0D8" opacity="0.75" filter="url(#g4)"/>
<rect x="59.15" y="130.85" width="1.90" height="9.30" rx="0.95" fill="#5CC878" opacity="0.85" filter="url(#g4)"/>
<rect x="59.40" y="132.35" width="1.40" height="6.30" rx="0.70" fill="#D8E040" opacity="0.90" filter="url(#g4)"/>
<rect x="59.65" y="133.85" width="0.90" height="3.30" rx="0.45" fill="#F0A030" opacity="0.90" filter="url(#g4)"/>
<rect x="58.70" y="152.30" width="2.80" height="7.00" rx="1.40" fill="#3C6AD0" opacity="0.75" filter="url(#g4)"/>
<rect x="58.95" y="153.00" width="2.30" height="5.60" rx="1.15" fill="#3AA0D8" opacity="0.75" filter="url(#g4)"/>
<rect x="59.15" y="153.63" width="1.90" height="4.34" rx="0.95" fill="#5CC878" opacity="0.85" filter="url(#g4)"/>
<rect x="59.40" y="154.33" width="1.40" height="2.94" rx="0.70" fill="#D8E040" opacity="0.90" filter="url(#g4)"/>
<rect x="59.65" y="155.03" width="0.90" height="1.54" rx="0.45" fill="#F0A030" opacity="0.90" filter="url(#g4)"/>
<ellipse cx="67.20" cy="156.30" rx="8.10" ry="2.2" fill="#3A6AD0" opacity="0.45" filter="url(#g6)"/>
<ellipse cx="74.30" cy="157.50" rx="10.50" ry="5.50" transform="rotate(8 74.30 157.50)" fill="#3450C0" opacity="0.3" filter="url(#g6)"/>
<ellipse cx="74.30" cy="157.50" rx="8.19" ry="4.29" transform="rotate(8 74.30 157.50)" fill="#3C8CDC" opacity="0.5" filter="url(#g6)"/>
<ellipse cx="74.30" cy="157.50" rx="6.30" ry="3.30" transform="rotate(8 74.30 157.50)" fill="#48C0A0" opacity="0.7" filter="url(#g6)"/>
<ellipse cx="74.30" cy="157.50" rx="4.73" ry="2.48" transform="rotate(8 74.30 157.50)" fill="#A8DC48" opacity="0.8" filter="url(#g6)"/>
<ellipse cx="74.30" cy="157.50" rx="3.36" ry="1.76" transform="rotate(8 74.30 157.50)" fill="#F4D836" opacity="0.85" filter="url(#g6)"/>
<ellipse cx="74.30" cy="157.50" rx="2.10" ry="1.10" transform="rotate(8 74.30 157.50)" fill="#F08828" opacity="0.9" filter="url(#g6)"/>
<ellipse cx="74.30" cy="157.50" rx="0.94" ry="0.49" transform="rotate(8 74.30 157.50)" fill="#E03A22" opacity="0.9" filter="url(#g6)"/>
</g>
<rect x="46.30" y="110.50" width="61.00" height="59.20" fill="none" stroke="#999" stroke-width="1.0" />
<text x="41.90" y="117.70" font-size="6.3" text-anchor="end" fill="#111" color="#111">10<tspan dy="-2.7" font-size="4.28">5</tspan></text>
<line x1="44.80" y1="115.40" x2="46.30" y2="115.40" stroke="#000" stroke-width="0.7" />
<text x="41.90" y="131.70" font-size="6.3" text-anchor="end" fill="#111" color="#111">10<tspan dy="-2.7" font-size="4.28">4</tspan></text>
<line x1="44.80" y1="129.40" x2="46.30" y2="129.40" stroke="#000" stroke-width="0.7" />
<text x="41.90" y="147.60" font-size="6.3" text-anchor="end" fill="#111" color="#111">10<tspan dy="-2.7" font-size="4.28">3</tspan></text>
<line x1="44.80" y1="145.30" x2="46.30" y2="145.30" stroke="#000" stroke-width="0.7" />
<text transform="translate(41.00,157.70)" font-size="6.3" text-anchor="end" font-weight="normal" font-style="normal" fill="#111" color="#111">0</text>
<line x1="44.80" y1="155.40" x2="46.30" y2="155.40" stroke="#000" stroke-width="0.7" />
<text x="41.90" y="165.20" font-size="6.3" text-anchor="end" fill="#111" color="#111">&#8722;10<tspan dy="-2.7" font-size="4.28">3</tspan></text>
<line x1="44.80" y1="162.90" x2="46.30" y2="162.90" stroke="#000" stroke-width="0.7" />
<line x1="45.50" y1="114.73" x2="46.30" y2="114.73" stroke="#666" stroke-width="0.4" />
<line x1="45.50" y1="118.96" x2="46.30" y2="118.96" stroke="#666" stroke-width="0.4" />
<line x1="45.50" y1="123.19" x2="46.30" y2="123.19" stroke="#666" stroke-width="0.4" />
<line x1="45.50" y1="127.41" x2="46.30" y2="127.41" stroke="#666" stroke-width="0.4" />
<line x1="45.50" y1="131.64" x2="46.30" y2="131.64" stroke="#666" stroke-width="0.4" />
<line x1="45.50" y1="135.87" x2="46.30" y2="135.87" stroke="#666" stroke-width="0.4" />
<line x1="45.50" y1="140.10" x2="46.30" y2="140.10" stroke="#666" stroke-width="0.4" />
<line x1="45.50" y1="144.33" x2="46.30" y2="144.33" stroke="#666" stroke-width="0.4" />
<line x1="45.50" y1="148.56" x2="46.30" y2="148.56" stroke="#666" stroke-width="0.4" />
<line x1="45.50" y1="152.79" x2="46.30" y2="152.79" stroke="#666" stroke-width="0.4" />
<line x1="45.50" y1="157.01" x2="46.30" y2="157.01" stroke="#666" stroke-width="0.4" />
<line x1="45.50" y1="161.24" x2="46.30" y2="161.24" stroke="#666" stroke-width="0.4" />
<line x1="45.50" y1="165.47" x2="46.30" y2="165.47" stroke="#666" stroke-width="0.4" />
<text x="49.50" y="179.30" font-size="6.3" text-anchor="middle" fill="#111" color="#111">&#8722;10<tspan dy="-2.7" font-size="4.28">3</tspan></text>
<line x1="49.50" y1="169.70" x2="49.50" y2="171.20" stroke="#000" stroke-width="0.7" />
<text transform="translate(61.20,179.30)" font-size="6.3" text-anchor="middle" font-weight="normal" font-style="normal" fill="#111" color="#111">0</text>
<line x1="61.20" y1="169.70" x2="61.20" y2="171.20" stroke="#000" stroke-width="0.7" />
<text x="68.00" y="179.30" font-size="6.3" text-anchor="middle" fill="#111" color="#111">10<tspan dy="-2.7" font-size="4.28">3</tspan></text>
<line x1="68.00" y1="169.70" x2="68.00" y2="171.20" stroke="#000" stroke-width="0.7" />
<text x="86.10" y="179.30" font-size="6.3" text-anchor="middle" fill="#111" color="#111">10<tspan dy="-2.7" font-size="4.28">4</tspan></text>
<line x1="86.10" y1="169.70" x2="86.10" y2="171.20" stroke="#000" stroke-width="0.7" />
<text x="100.90" y="179.30" font-size="6.3" text-anchor="middle" fill="#111" color="#111">10<tspan dy="-2.7" font-size="4.28">5</tspan></text>
<line x1="100.90" y1="169.70" x2="100.90" y2="171.20" stroke="#000" stroke-width="0.7" />
<line x1="50.66" y1="169.70" x2="50.66" y2="170.50" stroke="#666" stroke-width="0.4" />
<line x1="55.01" y1="169.70" x2="55.01" y2="170.50" stroke="#666" stroke-width="0.4" />
<line x1="59.37" y1="169.70" x2="59.37" y2="170.50" stroke="#666" stroke-width="0.4" />
<line x1="63.73" y1="169.70" x2="63.73" y2="170.50" stroke="#666" stroke-width="0.4" />
<line x1="68.09" y1="169.70" x2="68.09" y2="170.50" stroke="#666" stroke-width="0.4" />
<line x1="72.44" y1="169.70" x2="72.44" y2="170.50" stroke="#666" stroke-width="0.4" />
<line x1="76.80" y1="169.70" x2="76.80" y2="170.50" stroke="#666" stroke-width="0.4" />
<line x1="81.16" y1="169.70" x2="81.16" y2="170.50" stroke="#666" stroke-width="0.4" />
<line x1="85.51" y1="169.70" x2="85.51" y2="170.50" stroke="#666" stroke-width="0.4" />
<line x1="89.87" y1="169.70" x2="89.87" y2="170.50" stroke="#666" stroke-width="0.4" />
<line x1="94.23" y1="169.70" x2="94.23" y2="170.50" stroke="#666" stroke-width="0.4" />
<line x1="98.59" y1="169.70" x2="98.59" y2="170.50" stroke="#666" stroke-width="0.4" />
<line x1="102.94" y1="169.70" x2="102.94" y2="170.50" stroke="#666" stroke-width="0.4" />
<line x1="46.30" y1="147.20" x2="107.30" y2="147.20" stroke="#5a5a5a" stroke-width="1.45" />
<line x1="62.40" y1="110.50" x2="62.40" y2="169.70" stroke="#5a5a5a" stroke-width="1.45" />
<line x1="47.50" y1="121.80" x2="61.60" y2="121.80" stroke="#777" stroke-width="0.5" />
<line x1="61.60" y1="121.80" x2="61.60" y2="160.50" stroke="#999" stroke-width="0.4" />
<line x1="91.00" y1="148.70" x2="91.00" y2="150.00" stroke="#555" stroke-width="0.5" />
<line x1="91.00" y1="157.50" x2="91.00" y2="167.50" stroke="#555" stroke-width="0.7" />
<text transform="translate(64.80,116.20)" font-size="5.7" text-anchor="start" font-weight="normal" font-style="normal" fill="#BA2453" color="#BA2453" style="stroke-width:0.18px">B cells</text>
<text transform="translate(64.80,122.70)" font-size="5.7" text-anchor="start" font-weight="normal" font-style="normal" fill="#BA2453" color="#BA2453" style="stroke-width:0.18px">29.2%</text>
<text transform="translate(93.00,137.80)" font-size="5.7" text-anchor="middle" font-weight="normal" font-style="normal" fill="#BA2453" color="#BA2453" style="stroke-width:0.18px">Myeloid cells</text>
<text transform="translate(93.00,144.50)" font-size="5.7" text-anchor="middle" font-weight="normal" font-style="normal" fill="#BA2453" color="#BA2453" style="stroke-width:0.18px">57.3%</text>
<text x="47.80" y="114.30" font-size="3.0" text-anchor="start" fill="#333" color="#333" style="stroke-width:0.12px">Q1</text>
<text x="47.80" y="117.50" font-size="3.0" text-anchor="start" fill="#333" color="#333" style="stroke-width:0.12px">29.2</text>
<text x="52.30" y="120.50" font-size="3.0" text-anchor="start" fill="#333" color="#333" style="stroke-width:0.12px">B cell</text>
<text x="54.30" y="124.50" font-size="3.0" text-anchor="start" fill="#333" color="#333" style="stroke-width:0.12px">29.2</text>
<text x="100.80" y="115.00" font-size="3.0" text-anchor="start" fill="#333" color="#333" style="stroke-width:0.12px">Q2</text>
<text x="100.80" y="118.50" font-size="3.0" text-anchor="start" fill="#333" color="#333" style="stroke-width:0.12px">0.61</text>
<text x="83.30" y="153.00" font-size="3.0" text-anchor="start" fill="#333" color="#333" style="stroke-width:0.12px">Myeloid cell</text>
<text x="89.30" y="156.50" font-size="3.0" text-anchor="start" fill="#333" color="#333" style="stroke-width:0.12px">57.3</text>
<text x="47.80" y="162.50" font-size="3.0" text-anchor="start" fill="#333" color="#333" style="stroke-width:0.12px">Q4</text>
<text x="47.80" y="166.00" font-size="3.0" text-anchor="start" fill="#333" color="#333" style="stroke-width:0.12px">12.7</text>
<text x="100.80" y="162.50" font-size="3.0" text-anchor="start" fill="#333" color="#333" style="stroke-width:0.12px">Q3</text>
<text x="100.80" y="166.00" font-size="3.0" text-anchor="start" fill="#333" color="#333" style="stroke-width:0.12px">57.4</text>
<rect x="44.70" y="155.70" width="1.2" height="2.2" rx="0.5" fill="#000"/>
<rect x="58.30" y="170.00" width="2.8" height="1.1" rx="0.5" fill="#000"/>
<g clip-path="url(#clipB1)">
<path d="M171.5,133.7h0.01M169.7,125.3h0.01M184.7,127.3h0.01M187.6,145.0h0.01M154.0,133.5h0.01M182.1,145.7h0.01M169.1,128.9h0.01M160.7,145.2h0.01M160.8,136.5h0.01M158.4,135.1h0.01M186.7,125.7h0.01M182.1,134.7h0.01M184.4,139.4h0.01M161.5,144.0h0.01M170.4,123.1h0.01M153.5,134.3h0.01M169.2,129.7h0.01M158.3,130.8h0.01M164.5,142.7h0.01M153.5,140.5h0.01M182.8,125.4h0.01M185.8,139.6h0.01M185.0,129.5h0.01M166.4,131.9h0.01M188.4,136.6h0.01M166.0,132.8h0.01M163.0,123.7h0.01M157.0,142.5h0.01M163.4,145.0h0.01M162.1,128.9h0.01M171.3,127.1h0.01M166.5,145.4h0.01M184.3,142.0h0.01M175.5,144.4h0.01M186.3,135.7h0.01M178.6,123.7h0.01M179.0,133.3h0.01M179.7,138.0h0.01M163.4,123.7h0.01M185.8,125.6h0.01M169.9,130.7h0.01M163.8,140.2h0.01M187.6,128.7h0.01M176.4,129.7h0.01M172.9,132.0h0.01" stroke="#6070C8" stroke-width="0.6" stroke-linecap="round" opacity="0.3"/>
<path d="M162.7,158.4h0.01M164.5,163.5h0.01M156.2,156.8h0.01M179.0,150.8h0.01M157.4,157.3h0.01M161.8,158.1h0.01M159.2,158.0h0.01M161.1,159.3h0.01M148.5,154.0h0.01M160.8,153.5h0.01M154.0,158.8h0.01M156.6,158.8h0.01M165.6,157.8h0.01M164.1,156.5h0.01M151.6,156.7h0.01M163.8,155.1h0.01M160.2,159.2h0.01M155.1,158.8h0.01M172.9,155.0h0.01M161.8,156.3h0.01M170.8,157.8h0.01M166.6,154.6h0.01M160.7,156.8h0.01M149.3,161.4h0.01M166.6,151.2h0.01M165.6,156.4h0.01M163.7,158.0h0.01M151.1,156.1h0.01M170.5,155.0h0.01M154.2,152.4h0.01M152.9,157.9h0.01M171.8,158.2h0.01M162.4,163.9h0.01M157.4,154.6h0.01M164.2,158.6h0.01M154.2,153.1h0.01M162.7,157.6h0.01M152.3,156.2h0.01M157.3,158.3h0.01M160.0,156.5h0.01M158.5,160.2h0.01M169.8,155.6h0.01M166.3,154.4h0.01M161.3,159.2h0.01M170.6,155.6h0.01M160.3,157.4h0.01M151.1,156.9h0.01M156.4,158.0h0.01M153.5,150.5h0.01M161.0,157.6h0.01M157.2,159.6h0.01M159.0,154.9h0.01M163.9,151.8h0.01M156.4,156.7h0.01M166.3,156.3h0.01M162.8,154.7h0.01M162.8,162.1h0.01M156.3,164.4h0.01M156.6,156.9h0.01M161.9,160.1h0.01M152.8,150.1h0.01M164.7,159.3h0.01M164.9,165.2h0.01M162.1,157.6h0.01M166.8,158.0h0.01M171.6,152.8h0.01M158.4,145.8h0.01M166.1,155.6h0.01M166.8,163.7h0.01M160.8,156.0h0.01M157.6,154.1h0.01M156.7,158.8h0.01M161.0,157.0h0.01M159.7,159.7h0.01M164.0,156.3h0.01M165.1,156.3h0.01M153.3,161.5h0.01M163.8,153.7h0.01M167.8,157.9h0.01M150.6,162.0h0.01M163.0,159.7h0.01M162.1,156.3h0.01M150.7,159.9h0.01M161.0,155.9h0.01M163.1,157.0h0.01M165.2,155.6h0.01M160.6,150.0h0.01M158.0,159.0h0.01M169.5,155.6h0.01M160.0,161.9h0.01M158.7,159.1h0.01M171.7,156.9h0.01M168.8,154.5h0.01M162.1,156.6h0.01M161.5,160.4h0.01M176.3,154.7h0.01M157.1,158.4h0.01M153.9,158.4h0.01M164.5,155.9h0.01M164.3,151.8h0.01M165.7,151.9h0.01M156.3,155.0h0.01M158.2,159.5h0.01M161.3,155.5h0.01M164.3,161.9h0.01M160.8,158.0h0.01M168.9,157.7h0.01M152.5,164.8h0.01M175.2,150.4h0.01M160.5,158.1h0.01M167.1,158.9h0.01M159.0,153.4h0.01M161.5,160.1h0.01M153.7,153.5h0.01M160.6,150.6h0.01M159.1,155.4h0.01M163.7,154.6h0.01M155.1,155.5h0.01M160.5,154.7h0.01M160.9,159.2h0.01M168.5,162.3h0.01M155.7,155.5h0.01M144.7,162.9h0.01M156.1,156.7h0.01M164.2,152.5h0.01M163.8,156.7h0.01M148.9,157.7h0.01M168.6,150.8h0.01M166.0,157.5h0.01M163.9,158.2h0.01M169.3,156.1h0.01M166.5,155.5h0.01M165.5,154.2h0.01M160.1,162.3h0.01M163.7,156.3h0.01M153.4,154.3h0.01M162.1,159.8h0.01M163.6,158.5h0.01M160.5,161.1h0.01M158.3,155.0h0.01M166.6,157.0h0.01M159.0,155.0h0.01M159.1,158.8h0.01M163.1,152.9h0.01M163.6,157.4h0.01M154.3,159.3h0.01M159.0,155.7h0.01M166.0,161.0h0.01M156.3,158.2h0.01M155.1,164.2h0.01M157.6,160.6h0.01M156.6,159.4h0.01M175.2,148.7h0.01M158.0,158.4h0.01M160.2,154.7h0.01M174.8,157.1h0.01M150.1,159.5h0.01M149.6,160.5h0.01M157.0,157.3h0.01M169.0,157.2h0.01" stroke="#6070C8" stroke-width="0.6" stroke-linecap="round" opacity="0.45"/>
<path d="M148.5,127.4h0.01M150.9,151.8h0.01M149.1,152.9h0.01M150.2,150.8h0.01M147.8,141.3h0.01M150.6,151.7h0.01M150.6,119.8h0.01M150.0,149.3h0.01M152.1,134.8h0.01M149.5,144.7h0.01M150.6,139.9h0.01M150.8,136.5h0.01M150.0,139.1h0.01M149.9,137.4h0.01M148.4,155.3h0.01M150.1,138.8h0.01M150.0,154.3h0.01M148.9,143.2h0.01M150.3,149.6h0.01M149.5,123.3h0.01M150.9,147.6h0.01M149.8,141.6h0.01M150.0,140.1h0.01M148.9,137.0h0.01M149.3,138.2h0.01M148.8,150.7h0.01M148.6,150.9h0.01M148.9,147.9h0.01M151.0,146.4h0.01M149.1,144.8h0.01M149.9,127.0h0.01M149.3,146.0h0.01M149.4,145.1h0.01M150.5,152.0h0.01M150.6,150.2h0.01M149.5,144.2h0.01M149.6,141.2h0.01M149.6,127.1h0.01M149.5,144.1h0.01M148.9,144.1h0.01M150.3,142.7h0.01M151.7,118.3h0.01M149.6,126.1h0.01M150.7,170.9h0.01M147.5,145.6h0.01M150.3,141.3h0.01M150.3,121.9h0.01M150.6,148.1h0.01M149.8,138.5h0.01M150.4,139.5h0.01" stroke="#6070C8" stroke-width="0.6" stroke-linecap="round" opacity="0.5"/>
<rect x="148.55" y="128.50" width="2.5" height="31.70" rx="1.2" fill="#3A68D0" opacity="0.8" filter="url(#g4)"/>
<rect x="148.40" y="128.00" width="2.80" height="15.00" rx="1.40" fill="#3C6AD0" opacity="0.52" filter="url(#g4)"/>
<rect x="148.65" y="129.50" width="2.30" height="12.00" rx="1.15" fill="#3AA0D8" opacity="0.52" filter="url(#g4)"/>
<rect x="148.85" y="130.85" width="1.90" height="9.30" rx="0.95" fill="#5CC878" opacity="0.59" filter="url(#g4)"/>
<rect x="149.10" y="132.35" width="1.40" height="6.30" rx="0.70" fill="#D8E040" opacity="0.63" filter="url(#g4)"/>
<rect x="148.40" y="152.40" width="2.80" height="7.00" rx="1.40" fill="#3C6AD0" opacity="0.75" filter="url(#g4)"/>
<rect x="148.65" y="153.10" width="2.30" height="5.60" rx="1.15" fill="#3AA0D8" opacity="0.75" filter="url(#g4)"/>
<rect x="148.85" y="153.73" width="1.90" height="4.34" rx="0.95" fill="#5CC878" opacity="0.85" filter="url(#g4)"/>
<rect x="149.10" y="154.43" width="1.40" height="2.94" rx="0.70" fill="#D8E040" opacity="0.90" filter="url(#g4)"/>
<rect x="149.35" y="155.13" width="0.90" height="1.54" rx="0.45" fill="#F0A030" opacity="0.90" filter="url(#g4)"/>
<ellipse cx="155.30" cy="156.40" rx="6.50" ry="2.2" fill="#3A6AD0" opacity="0.45" filter="url(#g6)"/>
<ellipse cx="160.80" cy="156.80" rx="8.50" ry="5.75" transform="rotate(5 160.80 156.80)" fill="#3450C0" opacity="0.3" filter="url(#g6)"/>
<ellipse cx="160.80" cy="156.80" rx="6.63" ry="4.49" transform="rotate(5 160.80 156.80)" fill="#3C8CDC" opacity="0.5" filter="url(#g6)"/>
<ellipse cx="160.80" cy="156.80" rx="5.10" ry="3.45" transform="rotate(5 160.80 156.80)" fill="#48C0A0" opacity="0.7" filter="url(#g6)"/>
<ellipse cx="160.80" cy="156.80" rx="3.83" ry="2.59" transform="rotate(5 160.80 156.80)" fill="#A8DC48" opacity="0.8" filter="url(#g6)"/>
<ellipse cx="160.80" cy="156.80" rx="2.72" ry="1.84" transform="rotate(5 160.80 156.80)" fill="#F4D836" opacity="0.85" filter="url(#g6)"/>
<ellipse cx="160.80" cy="156.80" rx="1.70" ry="1.15" transform="rotate(5 160.80 156.80)" fill="#F08828" opacity="0.9" filter="url(#g6)"/>
<ellipse cx="160.80" cy="156.80" rx="0.77" ry="0.52" transform="rotate(5 160.80 156.80)" fill="#E03A22" opacity="0.9" filter="url(#g6)"/>
</g>
<rect x="136.40" y="110.50" width="61.00" height="59.20" fill="none" stroke="#999" stroke-width="1.0" />
<text x="132.00" y="117.70" font-size="6.3" text-anchor="end" fill="#111" color="#111">10<tspan dy="-2.7" font-size="4.28">5</tspan></text>
<line x1="134.90" y1="115.40" x2="136.40" y2="115.40" stroke="#000" stroke-width="0.7" />
<text x="132.00" y="131.70" font-size="6.3" text-anchor="end" fill="#111" color="#111">10<tspan dy="-2.7" font-size="4.28">4</tspan></text>
<line x1="134.90" y1="129.40" x2="136.40" y2="129.40" stroke="#000" stroke-width="0.7" />
<text x="132.00" y="147.60" font-size="6.3" text-anchor="end" fill="#111" color="#111">10<tspan dy="-2.7" font-size="4.28">3</tspan></text>
<line x1="134.90" y1="145.30" x2="136.40" y2="145.30" stroke="#000" stroke-width="0.7" />
<text transform="translate(131.10,157.70)" font-size="6.3" text-anchor="end" font-weight="normal" font-style="normal" fill="#111" color="#111">0</text>
<line x1="134.90" y1="155.40" x2="136.40" y2="155.40" stroke="#000" stroke-width="0.7" />
<text x="132.00" y="165.20" font-size="6.3" text-anchor="end" fill="#111" color="#111">&#8722;10<tspan dy="-2.7" font-size="4.28">3</tspan></text>
<line x1="134.90" y1="162.90" x2="136.40" y2="162.90" stroke="#000" stroke-width="0.7" />
<line x1="135.60" y1="114.73" x2="136.40" y2="114.73" stroke="#666" stroke-width="0.4" />
<line x1="135.60" y1="118.96" x2="136.40" y2="118.96" stroke="#666" stroke-width="0.4" />
<line x1="135.60" y1="123.19" x2="136.40" y2="123.19" stroke="#666" stroke-width="0.4" />
<line x1="135.60" y1="127.41" x2="136.40" y2="127.41" stroke="#666" stroke-width="0.4" />
<line x1="135.60" y1="131.64" x2="136.40" y2="131.64" stroke="#666" stroke-width="0.4" />
<line x1="135.60" y1="135.87" x2="136.40" y2="135.87" stroke="#666" stroke-width="0.4" />
<line x1="135.60" y1="140.10" x2="136.40" y2="140.10" stroke="#666" stroke-width="0.4" />
<line x1="135.60" y1="144.33" x2="136.40" y2="144.33" stroke="#666" stroke-width="0.4" />
<line x1="135.60" y1="148.56" x2="136.40" y2="148.56" stroke="#666" stroke-width="0.4" />
<line x1="135.60" y1="152.79" x2="136.40" y2="152.79" stroke="#666" stroke-width="0.4" />
<line x1="135.60" y1="157.01" x2="136.40" y2="157.01" stroke="#666" stroke-width="0.4" />
<line x1="135.60" y1="161.24" x2="136.40" y2="161.24" stroke="#666" stroke-width="0.4" />
<line x1="135.60" y1="165.47" x2="136.40" y2="165.47" stroke="#666" stroke-width="0.4" />
<text x="139.60" y="179.30" font-size="6.3" text-anchor="middle" fill="#111" color="#111">&#8722;10<tspan dy="-2.7" font-size="4.28">3</tspan></text>
<line x1="139.60" y1="169.70" x2="139.60" y2="171.20" stroke="#000" stroke-width="0.7" />
<text transform="translate(151.30,179.30)" font-size="6.3" text-anchor="middle" font-weight="normal" font-style="normal" fill="#111" color="#111">0</text>
<line x1="151.30" y1="169.70" x2="151.30" y2="171.20" stroke="#000" stroke-width="0.7" />
<text x="158.10" y="179.30" font-size="6.3" text-anchor="middle" fill="#111" color="#111">10<tspan dy="-2.7" font-size="4.28">3</tspan></text>
<line x1="158.10" y1="169.70" x2="158.10" y2="171.20" stroke="#000" stroke-width="0.7" />
<text x="176.20" y="179.30" font-size="6.3" text-anchor="middle" fill="#111" color="#111">10<tspan dy="-2.7" font-size="4.28">4</tspan></text>
<line x1="176.20" y1="169.70" x2="176.20" y2="171.20" stroke="#000" stroke-width="0.7" />
<text x="191.00" y="179.30" font-size="6.3" text-anchor="middle" fill="#111" color="#111">10<tspan dy="-2.7" font-size="4.28">5</tspan></text>
<line x1="191.00" y1="169.70" x2="191.00" y2="171.20" stroke="#000" stroke-width="0.7" />
<line x1="140.76" y1="169.70" x2="140.76" y2="170.50" stroke="#666" stroke-width="0.4" />
<line x1="145.11" y1="169.70" x2="145.11" y2="170.50" stroke="#666" stroke-width="0.4" />
<line x1="149.47" y1="169.70" x2="149.47" y2="170.50" stroke="#666" stroke-width="0.4" />
<line x1="153.83" y1="169.70" x2="153.83" y2="170.50" stroke="#666" stroke-width="0.4" />
<line x1="158.19" y1="169.70" x2="158.19" y2="170.50" stroke="#666" stroke-width="0.4" />
<line x1="162.54" y1="169.70" x2="162.54" y2="170.50" stroke="#666" stroke-width="0.4" />
<line x1="166.90" y1="169.70" x2="166.90" y2="170.50" stroke="#666" stroke-width="0.4" />
<line x1="171.26" y1="169.70" x2="171.26" y2="170.50" stroke="#666" stroke-width="0.4" />
<line x1="175.61" y1="169.70" x2="175.61" y2="170.50" stroke="#666" stroke-width="0.4" />
<line x1="179.97" y1="169.70" x2="179.97" y2="170.50" stroke="#666" stroke-width="0.4" />
<line x1="184.33" y1="169.70" x2="184.33" y2="170.50" stroke="#666" stroke-width="0.4" />
<line x1="188.69" y1="169.70" x2="188.69" y2="170.50" stroke="#666" stroke-width="0.4" />
<line x1="193.04" y1="169.70" x2="193.04" y2="170.50" stroke="#666" stroke-width="0.4" />
<line x1="136.40" y1="147.20" x2="197.40" y2="147.20" stroke="#5a5a5a" stroke-width="1.45" />
<line x1="152.40" y1="110.50" x2="152.40" y2="169.70" stroke="#5a5a5a" stroke-width="1.45" />
<line x1="137.60" y1="121.80" x2="151.70" y2="121.80" stroke="#777" stroke-width="0.5" />
<line x1="151.70" y1="121.80" x2="151.70" y2="160.50" stroke="#999" stroke-width="0.4" />
<line x1="181.10" y1="148.70" x2="181.10" y2="150.00" stroke="#555" stroke-width="0.5" />
<line x1="181.10" y1="157.50" x2="181.10" y2="167.50" stroke="#555" stroke-width="0.7" />
<text transform="translate(154.90,116.20)" font-size="5.7" text-anchor="start" font-weight="normal" font-style="normal" fill="#BA2453" color="#BA2453" style="stroke-width:0.18px">B cells</text>
<text transform="translate(154.90,122.70)" font-size="5.7" text-anchor="start" font-weight="normal" font-style="normal" fill="#BA2453" color="#BA2453" style="stroke-width:0.18px">12.0%</text>
<text transform="translate(183.10,137.80)" font-size="5.7" text-anchor="middle" font-weight="normal" font-style="normal" fill="#BA2453" color="#BA2453" style="stroke-width:0.18px">Myeloid cells</text>
<text transform="translate(183.10,144.50)" font-size="5.7" text-anchor="middle" font-weight="normal" font-style="normal" fill="#BA2453" color="#BA2453" style="stroke-width:0.18px">72.5%</text>
<text x="137.90" y="114.30" font-size="3.0" text-anchor="start" fill="#333" color="#333" style="stroke-width:0.12px">Q1</text>
<text x="137.90" y="117.50" font-size="3.0" text-anchor="start" fill="#333" color="#333" style="stroke-width:0.12px">29.2</text>
<text x="142.40" y="120.50" font-size="3.0" text-anchor="start" fill="#333" color="#333" style="stroke-width:0.12px">B cell</text>
<text x="144.40" y="124.50" font-size="3.0" text-anchor="start" fill="#333" color="#333" style="stroke-width:0.12px">29.2</text>
<text x="190.90" y="115.00" font-size="3.0" text-anchor="start" fill="#333" color="#333" style="stroke-width:0.12px">Q2</text>
<text x="190.90" y="118.50" font-size="3.0" text-anchor="start" fill="#333" color="#333" style="stroke-width:0.12px">0.61</text>
<text x="173.40" y="153.00" font-size="3.0" text-anchor="start" fill="#333" color="#333" style="stroke-width:0.12px">Myeloid cell</text>
<text x="179.40" y="156.50" font-size="3.0" text-anchor="start" fill="#333" color="#333" style="stroke-width:0.12px">57.3</text>
<text x="137.90" y="162.50" font-size="3.0" text-anchor="start" fill="#333" color="#333" style="stroke-width:0.12px">Q4</text>
<text x="137.90" y="166.00" font-size="3.0" text-anchor="start" fill="#333" color="#333" style="stroke-width:0.12px">12.7</text>
<text x="190.90" y="162.50" font-size="3.0" text-anchor="start" fill="#333" color="#333" style="stroke-width:0.12px">Q3</text>
<text x="190.90" y="166.00" font-size="3.0" text-anchor="start" fill="#333" color="#333" style="stroke-width:0.12px">57.4</text>
<rect x="134.80" y="155.70" width="1.2" height="2.2" rx="0.5" fill="#000"/>
<rect x="148.40" y="170.00" width="2.8" height="1.1" rx="0.5" fill="#000"/>
<g clip-path="url(#clipB2)">
<path d="M269.7,125.9h0.01M258.8,144.6h0.01M248.5,128.8h0.01M258.9,130.2h0.01M242.5,126.9h0.01M246.8,145.0h0.01M265.0,144.0h0.01M247.1,141.3h0.01M245.2,135.2h0.01M263.5,131.1h0.01M271.8,135.8h0.01M261.5,143.7h0.01M244.9,146.3h0.01M263.2,132.0h0.01M269.1,128.9h0.01M275.9,136.4h0.01M253.8,140.9h0.01M256.7,126.7h0.01M267.2,123.7h0.01M269.9,128.6h0.01M263.6,146.1h0.01M261.7,138.4h0.01M252.1,122.5h0.01M242.4,126.1h0.01M262.8,132.9h0.01M259.1,144.0h0.01M245.8,128.0h0.01M264.1,123.0h0.01M241.3,131.0h0.01M244.9,131.1h0.01M249.0,136.5h0.01M261.8,127.4h0.01M263.0,133.9h0.01M245.9,145.0h0.01M249.7,126.1h0.01M244.6,137.8h0.01M271.7,141.3h0.01M255.3,128.8h0.01M241.6,138.0h0.01M260.9,130.9h0.01M263.8,133.2h0.01M274.0,140.1h0.01M249.9,144.2h0.01M242.7,135.3h0.01M255.4,128.2h0.01" stroke="#6070C8" stroke-width="0.6" stroke-linecap="round" opacity="0.3"/>
<path d="M258.2,158.1h0.01M255.9,156.4h0.01M251.1,155.5h0.01M250.5,160.3h0.01M238.4,155.9h0.01M249.3,154.3h0.01M245.7,158.6h0.01M260.7,158.1h0.01M249.8,151.1h0.01M260.2,156.3h0.01M247.5,152.5h0.01M247.3,152.6h0.01M248.2,157.6h0.01M247.9,157.0h0.01M242.2,160.7h0.01M243.5,150.3h0.01M246.5,153.7h0.01M241.1,155.0h0.01M249.6,152.3h0.01M246.8,160.7h0.01M252.1,155.6h0.01M248.5,155.7h0.01M247.4,158.4h0.01M247.1,148.4h0.01M247.6,153.3h0.01M251.9,154.1h0.01M248.7,163.1h0.01M240.9,152.5h0.01M238.5,148.4h0.01M235.5,157.3h0.01M243.6,150.1h0.01M238.1,158.1h0.01M242.7,154.9h0.01M249.8,160.4h0.01M260.3,159.4h0.01M248.6,156.7h0.01M259.4,160.7h0.01M245.7,157.6h0.01M249.6,156.3h0.01M244.4,151.9h0.01M244.2,151.2h0.01M255.7,157.8h0.01M239.9,160.6h0.01M253.5,150.0h0.01M259.7,158.7h0.01M261.1,152.2h0.01M251.1,157.5h0.01M249.0,156.6h0.01M254.5,151.3h0.01M239.6,151.6h0.01M244.1,154.2h0.01M250.1,157.0h0.01M247.9,153.9h0.01M244.8,159.1h0.01M252.7,156.4h0.01M245.6,161.1h0.01M243.8,158.2h0.01M255.2,155.3h0.01M253.1,152.5h0.01M254.3,156.7h0.01M237.4,158.2h0.01M241.9,160.2h0.01M243.3,155.6h0.01M249.5,155.0h0.01M249.4,154.3h0.01M252.1,156.1h0.01M249.1,147.3h0.01M255.2,156.2h0.01M236.1,156.4h0.01M250.7,159.5h0.01M240.7,161.1h0.01M246.7,163.8h0.01M246.7,158.3h0.01M245.3,152.5h0.01M254.8,159.0h0.01M257.7,158.8h0.01M244.0,150.8h0.01M243.5,153.9h0.01M242.4,158.0h0.01M249.8,155.2h0.01M248.8,155.6h0.01M249.1,158.5h0.01M253.9,153.9h0.01M237.9,160.7h0.01M248.4,159.6h0.01M237.0,155.0h0.01M247.9,151.5h0.01M244.3,158.4h0.01M254.7,161.2h0.01M242.1,151.6h0.01M251.1,159.1h0.01M249.0,151.9h0.01M252.8,158.6h0.01M251.3,154.5h0.01M249.7,158.6h0.01M244.1,150.2h0.01M249.8,157.6h0.01M247.8,158.9h0.01M243.9,155.8h0.01M245.7,157.9h0.01M258.1,155.3h0.01M261.1,161.0h0.01M252.8,158.0h0.01M259.2,155.5h0.01M247.0,152.7h0.01M250.8,160.4h0.01M251.2,157.5h0.01M246.4,156.6h0.01M238.4,159.5h0.01M245.0,152.6h0.01M242.8,153.5h0.01M253.3,159.5h0.01M238.9,159.1h0.01M253.5,154.2h0.01M238.0,153.7h0.01M243.6,157.2h0.01M245.4,149.6h0.01M249.2,151.2h0.01M253.6,152.2h0.01M243.2,153.4h0.01M244.2,160.3h0.01M253.2,158.0h0.01M249.8,151.1h0.01M244.3,154.3h0.01M241.3,157.7h0.01M242.9,153.8h0.01M240.9,149.5h0.01M251.6,160.4h0.01M248.8,153.0h0.01M230.1,156.7h0.01M255.6,157.1h0.01M253.7,160.8h0.01M255.0,154.7h0.01M254.5,158.6h0.01M237.7,154.8h0.01M238.4,155.8h0.01M251.5,152.7h0.01M234.3,160.3h0.01M250.1,160.8h0.01M239.1,159.5h0.01M261.2,162.5h0.01M246.3,157.0h0.01M246.7,159.3h0.01M254.4,156.4h0.01M238.9,158.5h0.01M244.6,158.1h0.01M249.4,161.3h0.01M255.1,154.7h0.01M250.0,161.7h0.01M244.2,157.5h0.01M255.4,160.1h0.01M251.1,151.9h0.01M239.5,156.9h0.01M250.2,164.3h0.01M242.1,159.7h0.01M252.7,150.8h0.01M242.4,156.6h0.01M244.5,155.6h0.01M250.8,153.5h0.01M250.7,154.1h0.01" stroke="#6070C8" stroke-width="0.6" stroke-linecap="round" opacity="0.45"/>
<path d="M238.0,147.6h0.01M238.0,145.1h0.01M239.9,142.5h0.01M238.4,149.6h0.01M238.2,153.1h0.01M237.3,148.4h0.01M238.0,134.3h0.01M240.1,133.7h0.01M240.1,148.8h0.01M239.8,132.5h0.01M239.6,156.8h0.01M238.4,141.0h0.01M240.7,144.0h0.01M238.1,136.0h0.01M238.9,145.6h0.01M238.7,159.5h0.01M238.2,147.0h0.01M239.8,132.2h0.01M239.4,160.6h0.01M237.3,131.3h0.01M237.6,123.8h0.01M238.9,123.7h0.01M238.9,156.8h0.01M237.0,139.1h0.01M236.8,150.0h0.01M237.8,139.6h0.01M238.5,147.7h0.01M238.2,142.4h0.01M238.0,143.4h0.01M237.4,142.9h0.01M236.8,137.3h0.01M240.2,143.0h0.01M237.4,144.8h0.01M237.6,125.7h0.01M237.8,149.6h0.01M238.8,141.3h0.01M237.7,131.5h0.01M239.7,144.7h0.01M237.6,121.1h0.01M237.3,167.0h0.01M237.5,141.5h0.01M238.7,140.7h0.01M238.2,128.5h0.01M237.6,159.1h0.01M237.8,150.7h0.01M237.0,139.5h0.01M238.7,152.6h0.01M237.5,148.2h0.01M238.8,134.9h0.01M238.9,133.3h0.01" stroke="#6070C8" stroke-width="0.6" stroke-linecap="round" opacity="0.5"/>
<rect x="237.25" y="124.50" width="2.5" height="35.50" rx="1.2" fill="#3A68D0" opacity="0.8" filter="url(#g4)"/>
<rect x="237.10" y="124.80" width="2.80" height="15.00" rx="1.40" fill="#3C6AD0" opacity="0.75" filter="url(#g4)"/>
<rect x="237.35" y="126.30" width="2.30" height="12.00" rx="1.15" fill="#3AA0D8" opacity="0.75" filter="url(#g4)"/>
<rect x="237.55" y="127.65" width="1.90" height="9.30" rx="0.95" fill="#5CC878" opacity="0.85" filter="url(#g4)"/>
<rect x="237.80" y="129.15" width="1.40" height="6.30" rx="0.70" fill="#D8E040" opacity="0.90" filter="url(#g4)"/>
<rect x="237.10" y="152.00" width="2.80" height="7.00" rx="1.40" fill="#3C6AD0" opacity="0.75" filter="url(#g4)"/>
<rect x="237.35" y="152.70" width="2.30" height="5.60" rx="1.15" fill="#3AA0D8" opacity="0.75" filter="url(#g4)"/>
<rect x="237.55" y="153.33" width="1.90" height="4.34" rx="0.95" fill="#5CC878" opacity="0.85" filter="url(#g4)"/>
<rect x="237.80" y="154.03" width="1.40" height="2.94" rx="0.70" fill="#D8E040" opacity="0.90" filter="url(#g4)"/>
<rect x="238.05" y="154.73" width="0.90" height="1.54" rx="0.45" fill="#F0A030" opacity="0.90" filter="url(#g4)"/>
<ellipse cx="243.10" cy="156.00" rx="5.60" ry="2.2" fill="#3A6AD0" opacity="0.45" filter="url(#g6)"/>
<ellipse cx="247.70" cy="156.10" rx="8.00" ry="4.75" transform="rotate(5 247.70 156.10)" fill="#3450C0" opacity="0.3" filter="url(#g6)"/>
<ellipse cx="247.70" cy="156.10" rx="6.24" ry="3.71" transform="rotate(5 247.70 156.10)" fill="#3C8CDC" opacity="0.5" filter="url(#g6)"/>
<ellipse cx="247.70" cy="156.10" rx="4.80" ry="2.85" transform="rotate(5 247.70 156.10)" fill="#48C0A0" opacity="0.7" filter="url(#g6)"/>
<ellipse cx="247.70" cy="156.10" rx="3.60" ry="2.14" transform="rotate(5 247.70 156.10)" fill="#A8DC48" opacity="0.8" filter="url(#g6)"/>
<ellipse cx="247.70" cy="156.10" rx="2.56" ry="1.52" transform="rotate(5 247.70 156.10)" fill="#F4D836" opacity="0.85" filter="url(#g6)"/>
<ellipse cx="247.70" cy="156.10" rx="1.60" ry="0.95" transform="rotate(5 247.70 156.10)" fill="#F08828" opacity="0.9" filter="url(#g6)"/>
<ellipse cx="247.70" cy="156.10" rx="0.72" ry="0.43" transform="rotate(5 247.70 156.10)" fill="#E03A22" opacity="0.9" filter="url(#g6)"/>
</g>
<rect x="224.20" y="110.50" width="61.00" height="59.20" fill="none" stroke="#999" stroke-width="1.0" />
<text x="219.80" y="117.70" font-size="6.3" text-anchor="end" fill="#111" color="#111">10<tspan dy="-2.7" font-size="4.28">5</tspan></text>
<line x1="222.70" y1="115.40" x2="224.20" y2="115.40" stroke="#000" stroke-width="0.7" />
<text x="219.80" y="131.70" font-size="6.3" text-anchor="end" fill="#111" color="#111">10<tspan dy="-2.7" font-size="4.28">4</tspan></text>
<line x1="222.70" y1="129.40" x2="224.20" y2="129.40" stroke="#000" stroke-width="0.7" />
<text x="219.80" y="147.60" font-size="6.3" text-anchor="end" fill="#111" color="#111">10<tspan dy="-2.7" font-size="4.28">3</tspan></text>
<line x1="222.70" y1="145.30" x2="224.20" y2="145.30" stroke="#000" stroke-width="0.7" />
<text transform="translate(218.90,157.70)" font-size="6.3" text-anchor="end" font-weight="normal" font-style="normal" fill="#111" color="#111">0</text>
<line x1="222.70" y1="155.40" x2="224.20" y2="155.40" stroke="#000" stroke-width="0.7" />
<text x="219.80" y="165.20" font-size="6.3" text-anchor="end" fill="#111" color="#111">&#8722;10<tspan dy="-2.7" font-size="4.28">3</tspan></text>
<line x1="222.70" y1="162.90" x2="224.20" y2="162.90" stroke="#000" stroke-width="0.7" />
<line x1="223.40" y1="114.73" x2="224.20" y2="114.73" stroke="#666" stroke-width="0.4" />
<line x1="223.40" y1="118.96" x2="224.20" y2="118.96" stroke="#666" stroke-width="0.4" />
<line x1="223.40" y1="123.19" x2="224.20" y2="123.19" stroke="#666" stroke-width="0.4" />
<line x1="223.40" y1="127.41" x2="224.20" y2="127.41" stroke="#666" stroke-width="0.4" />
<line x1="223.40" y1="131.64" x2="224.20" y2="131.64" stroke="#666" stroke-width="0.4" />
<line x1="223.40" y1="135.87" x2="224.20" y2="135.87" stroke="#666" stroke-width="0.4" />
<line x1="223.40" y1="140.10" x2="224.20" y2="140.10" stroke="#666" stroke-width="0.4" />
<line x1="223.40" y1="144.33" x2="224.20" y2="144.33" stroke="#666" stroke-width="0.4" />
<line x1="223.40" y1="148.56" x2="224.20" y2="148.56" stroke="#666" stroke-width="0.4" />
<line x1="223.40" y1="152.79" x2="224.20" y2="152.79" stroke="#666" stroke-width="0.4" />
<line x1="223.40" y1="157.01" x2="224.20" y2="157.01" stroke="#666" stroke-width="0.4" />
<line x1="223.40" y1="161.24" x2="224.20" y2="161.24" stroke="#666" stroke-width="0.4" />
<line x1="223.40" y1="165.47" x2="224.20" y2="165.47" stroke="#666" stroke-width="0.4" />
<text x="227.40" y="179.30" font-size="6.3" text-anchor="middle" fill="#111" color="#111">&#8722;10<tspan dy="-2.7" font-size="4.28">3</tspan></text>
<line x1="227.40" y1="169.70" x2="227.40" y2="171.20" stroke="#000" stroke-width="0.7" />
<text transform="translate(239.10,179.30)" font-size="6.3" text-anchor="middle" font-weight="normal" font-style="normal" fill="#111" color="#111">0</text>
<line x1="239.10" y1="169.70" x2="239.10" y2="171.20" stroke="#000" stroke-width="0.7" />
<text x="245.90" y="179.30" font-size="6.3" text-anchor="middle" fill="#111" color="#111">10<tspan dy="-2.7" font-size="4.28">3</tspan></text>
<line x1="245.90" y1="169.70" x2="245.90" y2="171.20" stroke="#000" stroke-width="0.7" />
<text x="264.00" y="179.30" font-size="6.3" text-anchor="middle" fill="#111" color="#111">10<tspan dy="-2.7" font-size="4.28">4</tspan></text>
<line x1="264.00" y1="169.70" x2="264.00" y2="171.20" stroke="#000" stroke-width="0.7" />
<text x="278.80" y="179.30" font-size="6.3" text-anchor="middle" fill="#111" color="#111">10<tspan dy="-2.7" font-size="4.28">5</tspan></text>
<line x1="278.80" y1="169.70" x2="278.80" y2="171.20" stroke="#000" stroke-width="0.7" />
<line x1="228.56" y1="169.70" x2="228.56" y2="170.50" stroke="#666" stroke-width="0.4" />
<line x1="232.91" y1="169.70" x2="232.91" y2="170.50" stroke="#666" stroke-width="0.4" />
<line x1="237.27" y1="169.70" x2="237.27" y2="170.50" stroke="#666" stroke-width="0.4" />
<line x1="241.63" y1="169.70" x2="241.63" y2="170.50" stroke="#666" stroke-width="0.4" />
<line x1="245.99" y1="169.70" x2="245.99" y2="170.50" stroke="#666" stroke-width="0.4" />
<line x1="250.34" y1="169.70" x2="250.34" y2="170.50" stroke="#666" stroke-width="0.4" />
<line x1="254.70" y1="169.70" x2="254.70" y2="170.50" stroke="#666" stroke-width="0.4" />
<line x1="259.06" y1="169.70" x2="259.06" y2="170.50" stroke="#666" stroke-width="0.4" />
<line x1="263.41" y1="169.70" x2="263.41" y2="170.50" stroke="#666" stroke-width="0.4" />
<line x1="267.77" y1="169.70" x2="267.77" y2="170.50" stroke="#666" stroke-width="0.4" />
<line x1="272.13" y1="169.70" x2="272.13" y2="170.50" stroke="#666" stroke-width="0.4" />
<line x1="276.49" y1="169.70" x2="276.49" y2="170.50" stroke="#666" stroke-width="0.4" />
<line x1="280.84" y1="169.70" x2="280.84" y2="170.50" stroke="#666" stroke-width="0.4" />
<line x1="224.20" y1="147.20" x2="285.20" y2="147.20" stroke="#5a5a5a" stroke-width="1.45" />
<line x1="240.20" y1="110.50" x2="240.20" y2="169.70" stroke="#5a5a5a" stroke-width="1.45" />
<line x1="225.40" y1="121.80" x2="239.50" y2="121.80" stroke="#777" stroke-width="0.5" />
<line x1="239.50" y1="121.80" x2="239.50" y2="160.50" stroke="#999" stroke-width="0.4" />
<line x1="268.90" y1="148.70" x2="268.90" y2="150.00" stroke="#555" stroke-width="0.5" />
<line x1="268.90" y1="157.50" x2="268.90" y2="167.50" stroke="#555" stroke-width="0.7" />
<text transform="translate(242.70,116.20)" font-size="5.7" text-anchor="start" font-weight="normal" font-style="normal" fill="#BA2453" color="#BA2453" style="stroke-width:0.18px">B cells</text>
<text transform="translate(242.70,122.70)" font-size="5.7" text-anchor="start" font-weight="normal" font-style="normal" fill="#BA2453" color="#BA2453" style="stroke-width:0.18px">29.5%</text>
<text transform="translate(270.90,137.80)" font-size="5.7" text-anchor="middle" font-weight="normal" font-style="normal" fill="#BA2453" color="#BA2453" style="stroke-width:0.18px">Myeloid cells</text>
<text transform="translate(270.90,144.50)" font-size="5.7" text-anchor="middle" font-weight="normal" font-style="normal" fill="#BA2453" color="#BA2453" style="stroke-width:0.18px">48.5%</text>
<text x="225.70" y="114.30" font-size="3.0" text-anchor="start" fill="#333" color="#333" style="stroke-width:0.12px">Q1</text>
<text x="225.70" y="117.50" font-size="3.0" text-anchor="start" fill="#333" color="#333" style="stroke-width:0.12px">29.2</text>
<text x="230.20" y="120.50" font-size="3.0" text-anchor="start" fill="#333" color="#333" style="stroke-width:0.12px">B cell</text>
<text x="232.20" y="124.50" font-size="3.0" text-anchor="start" fill="#333" color="#333" style="stroke-width:0.12px">29.2</text>
<text x="278.70" y="115.00" font-size="3.0" text-anchor="start" fill="#333" color="#333" style="stroke-width:0.12px">Q2</text>
<text x="278.70" y="118.50" font-size="3.0" text-anchor="start" fill="#333" color="#333" style="stroke-width:0.12px">0.61</text>
<text x="261.20" y="153.00" font-size="3.0" text-anchor="start" fill="#333" color="#333" style="stroke-width:0.12px">Myeloid cell</text>
<text x="267.20" y="156.50" font-size="3.0" text-anchor="start" fill="#333" color="#333" style="stroke-width:0.12px">57.3</text>
<text x="225.70" y="162.50" font-size="3.0" text-anchor="start" fill="#333" color="#333" style="stroke-width:0.12px">Q4</text>
<text x="225.70" y="166.00" font-size="3.0" text-anchor="start" fill="#333" color="#333" style="stroke-width:0.12px">12.7</text>
<text x="278.70" y="162.50" font-size="3.0" text-anchor="start" fill="#333" color="#333" style="stroke-width:0.12px">Q3</text>
<text x="278.70" y="166.00" font-size="3.0" text-anchor="start" fill="#333" color="#333" style="stroke-width:0.12px">57.4</text>
<rect x="222.60" y="155.70" width="1.2" height="2.2" rx="0.5" fill="#000"/>
<rect x="236.20" y="170.00" width="2.8" height="1.1" rx="0.5" fill="#000"/>
<g clip-path="url(#clipB3)">
<path d="M346.9,129.0h0.01M347.0,145.9h0.01M352.2,141.5h0.01M340.9,130.1h0.01M339.8,136.6h0.01M351.5,141.3h0.01M330.7,139.8h0.01M360.3,135.6h0.01M331.0,129.7h0.01M329.5,127.1h0.01M361.6,137.1h0.01M352.3,141.4h0.01M361.1,137.2h0.01M350.9,137.5h0.01M353.7,136.8h0.01M353.1,127.6h0.01M352.6,133.5h0.01M356.0,124.9h0.01M335.6,123.4h0.01M356.4,144.4h0.01M352.3,131.4h0.01M358.1,141.4h0.01M349.0,128.7h0.01M339.9,132.6h0.01M340.4,132.8h0.01M351.8,144.9h0.01M331.2,136.1h0.01M330.7,125.4h0.01M357.7,136.3h0.01M361.5,133.2h0.01M329.8,131.8h0.01M350.0,145.0h0.01M363.6,133.9h0.01M343.7,124.9h0.01M351.9,127.6h0.01M334.6,122.9h0.01M329.5,138.9h0.01M333.6,145.7h0.01M332.4,143.4h0.01M333.8,122.9h0.01M354.5,128.3h0.01M355.0,127.0h0.01M331.1,141.1h0.01M354.3,143.0h0.01M354.8,124.5h0.01" stroke="#6070C8" stroke-width="0.6" stroke-linecap="round" opacity="0.3"/>
<path d="M330.7,152.9h0.01M323.2,158.3h0.01M337.4,164.8h0.01M337.6,156.0h0.01M347.2,156.9h0.01M338.9,155.3h0.01M333.9,161.3h0.01M344.3,162.0h0.01M335.5,156.6h0.01M332.1,159.6h0.01M328.7,158.3h0.01M344.9,161.0h0.01M331.7,160.0h0.01M333.2,154.1h0.01M329.2,160.2h0.01M348.5,154.6h0.01M332.9,155.4h0.01M354.1,159.7h0.01M334.3,150.8h0.01M333.4,160.3h0.01M349.9,155.6h0.01M333.3,154.9h0.01M325.5,159.4h0.01M330.7,159.9h0.01M326.7,152.4h0.01M339.7,154.1h0.01M342.9,156.5h0.01M330.2,158.5h0.01M343.3,150.4h0.01M349.7,158.1h0.01M342.7,150.5h0.01M333.1,155.4h0.01M344.8,151.8h0.01M332.1,150.0h0.01M336.2,157.6h0.01M326.8,154.6h0.01M341.1,161.6h0.01M342.1,155.5h0.01M330.1,153.5h0.01M333.5,157.0h0.01M337.5,161.8h0.01M339.7,153.1h0.01M347.8,159.5h0.01M338.5,154.2h0.01M325.6,153.2h0.01M343.7,153.9h0.01M329.2,157.1h0.01M339.4,158.4h0.01M342.1,161.0h0.01M332.3,159.6h0.01M331.4,158.7h0.01M339.0,157.3h0.01M344.1,156.4h0.01M345.0,159.3h0.01M338.7,154.7h0.01M332.9,154.8h0.01M336.5,156.4h0.01M357.2,158.5h0.01M342.8,153.7h0.01M333.2,155.5h0.01M339.0,153.2h0.01M348.3,154.7h0.01M344.8,149.0h0.01M337.8,157.4h0.01M339.0,158.4h0.01M339.6,157.0h0.01M325.5,154.2h0.01M322.6,158.5h0.01M339.8,155.9h0.01M332.5,154.6h0.01M349.8,162.0h0.01M337.4,160.6h0.01M327.5,150.3h0.01M334.7,153.7h0.01M334.2,157.1h0.01M357.5,154.4h0.01M338.1,157.4h0.01M337.6,159.5h0.01M349.3,152.5h0.01M338.9,155.7h0.01M340.1,151.6h0.01M326.4,149.1h0.01M341.2,157.1h0.01M338.3,148.9h0.01M335.4,154.1h0.01M328.6,153.6h0.01M342.3,158.2h0.01M337.7,158.1h0.01M333.9,156.7h0.01M338.1,158.3h0.01M337.3,156.0h0.01M336.9,154.4h0.01M352.3,158.1h0.01M340.6,163.8h0.01M346.9,151.5h0.01M342.3,159.2h0.01M350.1,160.7h0.01M342.8,152.7h0.01M332.1,157.4h0.01M341.1,153.2h0.01M335.3,155.2h0.01M338.2,157.6h0.01M335.9,152.5h0.01M345.9,161.6h0.01M337.1,159.8h0.01M340.7,158.6h0.01M340.9,154.1h0.01M341.5,159.7h0.01M332.0,162.8h0.01M351.4,162.3h0.01M350.7,158.9h0.01M335.6,154.6h0.01M332.5,156.9h0.01M337.6,158.6h0.01M324.7,163.9h0.01M352.6,156.4h0.01M342.2,158.0h0.01M339.6,155.8h0.01M337.0,153.9h0.01M339.0,156.4h0.01M339.9,153.8h0.01M338.1,156.7h0.01M341.7,153.1h0.01M340.5,159.6h0.01M341.7,155.3h0.01M334.6,155.7h0.01M342.5,161.5h0.01M336.8,154.4h0.01M340.2,157.2h0.01M331.9,154.1h0.01M337.1,158.6h0.01M330.0,153.2h0.01M341.0,152.6h0.01M338.5,157.6h0.01M337.1,153.2h0.01M337.4,155.4h0.01M340.0,153.8h0.01M344.9,151.1h0.01M336.7,156.5h0.01M344.1,154.6h0.01M341.3,154.7h0.01M342.6,162.1h0.01M335.2,157.9h0.01M331.8,159.6h0.01M345.7,156.6h0.01M330.4,157.8h0.01M345.3,160.0h0.01M343.1,150.6h0.01M333.4,161.1h0.01M329.8,160.1h0.01M350.0,158.9h0.01M345.1,155.4h0.01M329.8,156.2h0.01M336.5,156.3h0.01M342.3,156.0h0.01M339.0,157.9h0.01M337.8,162.4h0.01M340.7,156.8h0.01M336.5,154.5h0.01M346.5,157.0h0.01" stroke="#6070C8" stroke-width="0.6" stroke-linecap="round" opacity="0.45"/>
<path d="M325.2,136.6h0.01M326.1,137.8h0.01M327.2,130.6h0.01M326.6,143.7h0.01M325.1,142.7h0.01M326.1,147.3h0.01M325.8,145.3h0.01M324.7,131.4h0.01M326.9,152.7h0.01M326.2,136.3h0.01M327.2,121.3h0.01M325.5,149.0h0.01M326.8,131.9h0.01M324.5,156.8h0.01M326.3,133.3h0.01M326.2,151.3h0.01M323.9,153.4h0.01M326.9,121.4h0.01M326.9,124.4h0.01M327.2,146.2h0.01M328.2,136.1h0.01M326.2,152.7h0.01M325.6,135.2h0.01M325.9,141.5h0.01M325.2,147.1h0.01M326.7,143.0h0.01M327.7,139.0h0.01M327.4,136.8h0.01M326.9,122.9h0.01M326.4,140.5h0.01M325.8,136.1h0.01M325.9,135.1h0.01M324.2,136.3h0.01M325.7,137.0h0.01M325.2,140.9h0.01M326.9,139.7h0.01M325.8,155.8h0.01M327.1,151.5h0.01M327.2,139.0h0.01M326.1,153.4h0.01M325.7,141.1h0.01M326.5,146.0h0.01M326.0,152.1h0.01M326.0,149.5h0.01M327.2,148.8h0.01M326.9,130.7h0.01M325.0,136.1h0.01M326.6,157.3h0.01M325.1,145.3h0.01M325.4,134.9h0.01" stroke="#6070C8" stroke-width="0.6" stroke-linecap="round" opacity="0.5"/>
<rect x="324.95" y="124.50" width="2.5" height="35.50" rx="1.2" fill="#3A68D0" opacity="0.8" filter="url(#g4)"/>
<rect x="324.80" y="125.00" width="2.80" height="15.00" rx="1.40" fill="#3C6AD0" opacity="0.75" filter="url(#g4)"/>
<rect x="325.05" y="126.50" width="2.30" height="12.00" rx="1.15" fill="#3AA0D8" opacity="0.75" filter="url(#g4)"/>
<rect x="325.25" y="127.85" width="1.90" height="9.30" rx="0.95" fill="#5CC878" opacity="0.85" filter="url(#g4)"/>
<rect x="325.50" y="129.35" width="1.40" height="6.30" rx="0.70" fill="#D8E040" opacity="0.90" filter="url(#g4)"/>
<rect x="324.80" y="152.00" width="2.80" height="7.00" rx="1.40" fill="#3C6AD0" opacity="0.75" filter="url(#g4)"/>
<rect x="325.05" y="152.70" width="2.30" height="5.60" rx="1.15" fill="#3AA0D8" opacity="0.75" filter="url(#g4)"/>
<rect x="325.25" y="153.33" width="1.90" height="4.34" rx="0.95" fill="#5CC878" opacity="0.85" filter="url(#g4)"/>
<rect x="325.50" y="154.03" width="1.40" height="2.94" rx="0.70" fill="#D8E040" opacity="0.90" filter="url(#g4)"/>
<rect x="325.75" y="154.73" width="0.90" height="1.54" rx="0.45" fill="#F0A030" opacity="0.90" filter="url(#g4)"/>
<ellipse cx="332.00" cy="156.00" rx="6.80" ry="2.2" fill="#3A6AD0" opacity="0.45" filter="url(#g6)"/>
<ellipse cx="337.80" cy="156.50" rx="9.50" ry="4.75" transform="rotate(5 337.80 156.50)" fill="#3450C0" opacity="0.3" filter="url(#g6)"/>
<ellipse cx="337.80" cy="156.50" rx="7.41" ry="3.71" transform="rotate(5 337.80 156.50)" fill="#3C8CDC" opacity="0.5" filter="url(#g6)"/>
<ellipse cx="337.80" cy="156.50" rx="5.70" ry="2.85" transform="rotate(5 337.80 156.50)" fill="#48C0A0" opacity="0.7" filter="url(#g6)"/>
<ellipse cx="337.80" cy="156.50" rx="4.28" ry="2.14" transform="rotate(5 337.80 156.50)" fill="#A8DC48" opacity="0.8" filter="url(#g6)"/>
<ellipse cx="337.80" cy="156.50" rx="3.04" ry="1.52" transform="rotate(5 337.80 156.50)" fill="#F4D836" opacity="0.85" filter="url(#g6)"/>
<ellipse cx="337.80" cy="156.50" rx="1.90" ry="0.95" transform="rotate(5 337.80 156.50)" fill="#F08828" opacity="0.9" filter="url(#g6)"/>
<ellipse cx="337.80" cy="156.50" rx="0.85" ry="0.43" transform="rotate(5 337.80 156.50)" fill="#E03A22" opacity="0.9" filter="url(#g6)"/>
</g>
<rect x="312.30" y="110.50" width="61.00" height="59.20" fill="none" stroke="#999" stroke-width="1.0" />
<text x="307.90" y="117.70" font-size="6.3" text-anchor="end" fill="#111" color="#111">10<tspan dy="-2.7" font-size="4.28">5</tspan></text>
<line x1="310.80" y1="115.40" x2="312.30" y2="115.40" stroke="#000" stroke-width="0.7" />
<text x="307.90" y="131.70" font-size="6.3" text-anchor="end" fill="#111" color="#111">10<tspan dy="-2.7" font-size="4.28">4</tspan></text>
<line x1="310.80" y1="129.40" x2="312.30" y2="129.40" stroke="#000" stroke-width="0.7" />
<text x="307.90" y="147.60" font-size="6.3" text-anchor="end" fill="#111" color="#111">10<tspan dy="-2.7" font-size="4.28">3</tspan></text>
<line x1="310.80" y1="145.30" x2="312.30" y2="145.30" stroke="#000" stroke-width="0.7" />
<text transform="translate(307.00,157.70)" font-size="6.3" text-anchor="end" font-weight="normal" font-style="normal" fill="#111" color="#111">0</text>
<line x1="310.80" y1="155.40" x2="312.30" y2="155.40" stroke="#000" stroke-width="0.7" />
<text x="307.90" y="165.20" font-size="6.3" text-anchor="end" fill="#111" color="#111">&#8722;10<tspan dy="-2.7" font-size="4.28">3</tspan></text>
<line x1="310.80" y1="162.90" x2="312.30" y2="162.90" stroke="#000" stroke-width="0.7" />
<line x1="311.50" y1="114.73" x2="312.30" y2="114.73" stroke="#666" stroke-width="0.4" />
<line x1="311.50" y1="118.96" x2="312.30" y2="118.96" stroke="#666" stroke-width="0.4" />
<line x1="311.50" y1="123.19" x2="312.30" y2="123.19" stroke="#666" stroke-width="0.4" />
<line x1="311.50" y1="127.41" x2="312.30" y2="127.41" stroke="#666" stroke-width="0.4" />
<line x1="311.50" y1="131.64" x2="312.30" y2="131.64" stroke="#666" stroke-width="0.4" />
<line x1="311.50" y1="135.87" x2="312.30" y2="135.87" stroke="#666" stroke-width="0.4" />
<line x1="311.50" y1="140.10" x2="312.30" y2="140.10" stroke="#666" stroke-width="0.4" />
<line x1="311.50" y1="144.33" x2="312.30" y2="144.33" stroke="#666" stroke-width="0.4" />
<line x1="311.50" y1="148.56" x2="312.30" y2="148.56" stroke="#666" stroke-width="0.4" />
<line x1="311.50" y1="152.79" x2="312.30" y2="152.79" stroke="#666" stroke-width="0.4" />
<line x1="311.50" y1="157.01" x2="312.30" y2="157.01" stroke="#666" stroke-width="0.4" />
<line x1="311.50" y1="161.24" x2="312.30" y2="161.24" stroke="#666" stroke-width="0.4" />
<line x1="311.50" y1="165.47" x2="312.30" y2="165.47" stroke="#666" stroke-width="0.4" />
<text x="315.50" y="179.30" font-size="6.3" text-anchor="middle" fill="#111" color="#111">&#8722;10<tspan dy="-2.7" font-size="4.28">3</tspan></text>
<line x1="315.50" y1="169.70" x2="315.50" y2="171.20" stroke="#000" stroke-width="0.7" />
<text transform="translate(327.20,179.30)" font-size="6.3" text-anchor="middle" font-weight="normal" font-style="normal" fill="#111" color="#111">0</text>
<line x1="327.20" y1="169.70" x2="327.20" y2="171.20" stroke="#000" stroke-width="0.7" />
<text x="334.00" y="179.30" font-size="6.3" text-anchor="middle" fill="#111" color="#111">10<tspan dy="-2.7" font-size="4.28">3</tspan></text>
<line x1="334.00" y1="169.70" x2="334.00" y2="171.20" stroke="#000" stroke-width="0.7" />
<text x="352.10" y="179.30" font-size="6.3" text-anchor="middle" fill="#111" color="#111">10<tspan dy="-2.7" font-size="4.28">4</tspan></text>
<line x1="352.10" y1="169.70" x2="352.10" y2="171.20" stroke="#000" stroke-width="0.7" />
<text x="366.90" y="179.30" font-size="6.3" text-anchor="middle" fill="#111" color="#111">10<tspan dy="-2.7" font-size="4.28">5</tspan></text>
<line x1="366.90" y1="169.70" x2="366.90" y2="171.20" stroke="#000" stroke-width="0.7" />
<line x1="316.66" y1="169.70" x2="316.66" y2="170.50" stroke="#666" stroke-width="0.4" />
<line x1="321.01" y1="169.70" x2="321.01" y2="170.50" stroke="#666" stroke-width="0.4" />
<line x1="325.37" y1="169.70" x2="325.37" y2="170.50" stroke="#666" stroke-width="0.4" />
<line x1="329.73" y1="169.70" x2="329.73" y2="170.50" stroke="#666" stroke-width="0.4" />
<line x1="334.09" y1="169.70" x2="334.09" y2="170.50" stroke="#666" stroke-width="0.4" />
<line x1="338.44" y1="169.70" x2="338.44" y2="170.50" stroke="#666" stroke-width="0.4" />
<line x1="342.80" y1="169.70" x2="342.80" y2="170.50" stroke="#666" stroke-width="0.4" />
<line x1="347.16" y1="169.70" x2="347.16" y2="170.50" stroke="#666" stroke-width="0.4" />
<line x1="351.51" y1="169.70" x2="351.51" y2="170.50" stroke="#666" stroke-width="0.4" />
<line x1="355.87" y1="169.70" x2="355.87" y2="170.50" stroke="#666" stroke-width="0.4" />
<line x1="360.23" y1="169.70" x2="360.23" y2="170.50" stroke="#666" stroke-width="0.4" />
<line x1="364.59" y1="169.70" x2="364.59" y2="170.50" stroke="#666" stroke-width="0.4" />
<line x1="368.94" y1="169.70" x2="368.94" y2="170.50" stroke="#666" stroke-width="0.4" />
<line x1="312.30" y1="147.20" x2="373.30" y2="147.20" stroke="#5a5a5a" stroke-width="1.45" />
<line x1="328.30" y1="110.50" x2="328.30" y2="169.70" stroke="#5a5a5a" stroke-width="1.45" />
<line x1="313.50" y1="121.80" x2="327.60" y2="121.80" stroke="#777" stroke-width="0.5" />
<line x1="327.60" y1="121.80" x2="327.60" y2="160.50" stroke="#999" stroke-width="0.4" />
<line x1="357.00" y1="148.70" x2="357.00" y2="150.00" stroke="#555" stroke-width="0.5" />
<line x1="357.00" y1="157.50" x2="357.00" y2="167.50" stroke="#555" stroke-width="0.7" />
<text transform="translate(330.80,116.20)" font-size="5.7" text-anchor="start" font-weight="normal" font-style="normal" fill="#BA2453" color="#BA2453" style="stroke-width:0.18px">B cells</text>
<text transform="translate(330.80,122.70)" font-size="5.7" text-anchor="start" font-weight="normal" font-style="normal" fill="#BA2453" color="#BA2453" style="stroke-width:0.18px">20.8%</text>
<text transform="translate(359.00,137.80)" font-size="5.7" text-anchor="middle" font-weight="normal" font-style="normal" fill="#BA2453" color="#BA2453" style="stroke-width:0.18px">Myeloid cells</text>
<text transform="translate(359.00,144.50)" font-size="5.7" text-anchor="middle" font-weight="normal" font-style="normal" fill="#BA2453" color="#BA2453" style="stroke-width:0.18px">62.8%</text>
<text x="313.80" y="114.30" font-size="3.0" text-anchor="start" fill="#333" color="#333" style="stroke-width:0.12px">Q1</text>
<text x="313.80" y="117.50" font-size="3.0" text-anchor="start" fill="#333" color="#333" style="stroke-width:0.12px">29.2</text>
<text x="318.30" y="120.50" font-size="3.0" text-anchor="start" fill="#333" color="#333" style="stroke-width:0.12px">B cell</text>
<text x="320.30" y="124.50" font-size="3.0" text-anchor="start" fill="#333" color="#333" style="stroke-width:0.12px">29.2</text>
<text x="366.80" y="115.00" font-size="3.0" text-anchor="start" fill="#333" color="#333" style="stroke-width:0.12px">Q2</text>
<text x="366.80" y="118.50" font-size="3.0" text-anchor="start" fill="#333" color="#333" style="stroke-width:0.12px">0.61</text>
<text x="349.30" y="153.00" font-size="3.0" text-anchor="start" fill="#333" color="#333" style="stroke-width:0.12px">Myeloid cell</text>
<text x="355.30" y="156.50" font-size="3.0" text-anchor="start" fill="#333" color="#333" style="stroke-width:0.12px">57.3</text>
<text x="313.80" y="162.50" font-size="3.0" text-anchor="start" fill="#333" color="#333" style="stroke-width:0.12px">Q4</text>
<text x="313.80" y="166.00" font-size="3.0" text-anchor="start" fill="#333" color="#333" style="stroke-width:0.12px">12.7</text>
<text x="366.80" y="162.50" font-size="3.0" text-anchor="start" fill="#333" color="#333" style="stroke-width:0.12px">Q3</text>
<text x="366.80" y="166.00" font-size="3.0" text-anchor="start" fill="#333" color="#333" style="stroke-width:0.12px">57.4</text>
<rect x="310.70" y="155.70" width="1.2" height="2.2" rx="0.5" fill="#000"/>
<rect x="324.30" y="170.00" width="2.8" height="1.1" rx="0.5" fill="#000"/>
<g clip-path="url(#clipD0)">
<ellipse cx="67.40" cy="351.00" rx="7" ry="9" transform="rotate(-15 67.40 351.00)" fill="#000" opacity="0.35" filter="url(#g20)"/>
<ellipse cx="67.30" cy="352.00" rx="3.6" ry="5.5" transform="rotate(-15 67.30 352.00)" fill="#000" opacity="0.95" filter="url(#g14)"/>
<ellipse cx="71.40" cy="344.00" rx="4" ry="5" transform="rotate(-30 71.40 344.00)" fill="#000" opacity="0.3" filter="url(#g18)"/>
<ellipse cx="82.40" cy="332.00" rx="12" ry="5" transform="rotate(-55 82.40 332.00)" fill="#000" opacity="0.13" filter="url(#g20)"/>
<ellipse cx="87.40" cy="326.00" rx="4" ry="5" transform="rotate(-30 87.40 326.00)" fill="#000" opacity="0.2" filter="url(#g14)"/>
<ellipse cx="78.40" cy="328.00" rx="2" ry="4" transform="rotate(-20 78.40 328.00)" fill="#000" opacity="0.18" filter="url(#g12)"/>
<ellipse cx="81.40" cy="342.00" rx="7" ry="4" transform="rotate(-40 81.40 342.00)" fill="#000" opacity="0.13" filter="url(#g20)"/>
<ellipse cx="81.40" cy="348.00" rx="6" ry="2.5" transform="rotate(0 81.40 348.00)" fill="#000" opacity="0.1" filter="url(#g15)"/>
<ellipse cx="86.93" cy="333.20" rx="2.19" ry="1.17" transform="rotate(-5 86.93 333.20)" fill="#000" opacity="0.17" filter="url(#g9)"/>
<ellipse cx="91.69" cy="327.15" rx="2.19" ry="1.86" transform="rotate(-32 91.69 327.15)" fill="#000" opacity="0.1" filter="url(#g9)"/>
<ellipse cx="77.96" cy="333.03" rx="2.39" ry="1.36" transform="rotate(-16 77.96 333.03)" fill="#000" opacity="0.11" filter="url(#g9)"/>
<ellipse cx="77.78" cy="326.33" rx="1.52" ry="2.14" transform="rotate(-42 77.78 326.33)" fill="#000" opacity="0.15" filter="url(#g9)"/>
<ellipse cx="85.17" cy="334.40" rx="1.38" ry="1.59" transform="rotate(-5 85.17 334.40)" fill="#000" opacity="0.09" filter="url(#g9)"/>
<ellipse cx="65.33" cy="333.20" rx="1.99" ry="1.66" transform="rotate(-19 65.33 333.20)" fill="#000" opacity="0.17" filter="url(#g9)"/>
<ellipse cx="83.46" cy="328.60" rx="1.96" ry="1.28" transform="rotate(-13 83.46 328.60)" fill="#000" opacity="0.07" filter="url(#g9)"/>
<ellipse cx="88.91" cy="331.15" rx="1.44" ry="1.56" transform="rotate(-23 88.91 331.15)" fill="#000" opacity="0.2" filter="url(#g9)"/>
<ellipse cx="78.82" cy="344.61" rx="1.35" ry="1.86" transform="rotate(-3 78.82 344.61)" fill="#000" opacity="0.1" filter="url(#g9)"/>
<ellipse cx="83.22" cy="329.79" rx="2.55" ry="1.31" transform="rotate(-28 83.22 329.79)" fill="#000" opacity="0.11" filter="url(#g9)"/>
<ellipse cx="81.97" cy="331.96" rx="1.94" ry="1.37" transform="rotate(-17 81.97 331.96)" fill="#000" opacity="0.07" filter="url(#g9)"/>
<ellipse cx="88.36" cy="330.66" rx="1.63" ry="2.08" transform="rotate(-60 88.36 330.66)" fill="#000" opacity="0.17" filter="url(#g9)"/>
<ellipse cx="78.32" cy="327.27" rx="1.34" ry="1.04" transform="rotate(-26 78.32 327.27)" fill="#000" opacity="0.18" filter="url(#g9)"/>
<ellipse cx="79.19" cy="325.99" rx="1.87" ry="1.57" transform="rotate(-3 79.19 325.99)" fill="#000" opacity="0.07" filter="url(#g9)"/>
<ellipse cx="74.77" cy="331.61" rx="1.3" ry="2.1" transform="rotate(-42 74.77 331.61)" fill="#000" opacity="0.16" filter="url(#g9)"/>
<ellipse cx="83.94" cy="331.72" rx="2.31" ry="2.02" transform="rotate(-41 83.94 331.72)" fill="#000" opacity="0.15" filter="url(#g9)"/>
<ellipse cx="86.11" cy="333.08" rx="1.39" ry="1.01" transform="rotate(-10 86.11 333.08)" fill="#000" opacity="0.16" filter="url(#g9)"/>
<ellipse cx="85.20" cy="338.02" rx="1.51" ry="1.69" transform="rotate(-22 85.20 338.02)" fill="#000" opacity="0.13" filter="url(#g9)"/>
<ellipse cx="90.78" cy="340.42" rx="1.34" ry="1.53" transform="rotate(-14 90.78 340.42)" fill="#000" opacity="0.15" filter="url(#g9)"/>
<ellipse cx="81.76" cy="320.08" rx="2.18" ry="1.1" transform="rotate(-27 81.76 320.08)" fill="#000" opacity="0.15" filter="url(#g9)"/>
<ellipse cx="92.93" cy="339.02" rx="1.25" ry="1.13" transform="rotate(-46 92.93 339.02)" fill="#000" opacity="0.2" filter="url(#g9)"/>
<ellipse cx="71.01" cy="331.97" rx="2.2" ry="1.22" transform="rotate(-55 71.01 331.97)" fill="#000" opacity="0.12" filter="url(#g9)"/>
</g>
<rect x="51.40" y="304.00" width="65.50" height="65.30" fill="none" stroke="#999" stroke-width="1.0" />
<text x="47.00" y="313.20" font-size="6.3" text-anchor="end" fill="#111" color="#111">10<tspan dy="-2.7" font-size="4.28">5</tspan></text>
<line x1="49.90" y1="310.90" x2="51.40" y2="310.90" stroke="#000" stroke-width="0.7" />
<text x="47.00" y="327.70" font-size="6.3" text-anchor="end" fill="#111" color="#111">10<tspan dy="-2.7" font-size="4.28">4</tspan></text>
<line x1="49.90" y1="325.40" x2="51.40" y2="325.40" stroke="#000" stroke-width="0.7" />
<text x="47.00" y="345.10" font-size="6.3" text-anchor="end" fill="#111" color="#111">10<tspan dy="-2.7" font-size="4.28">3</tspan></text>
<line x1="49.90" y1="342.80" x2="51.40" y2="342.80" stroke="#000" stroke-width="0.7" />
<text transform="translate(46.10,355.80)" font-size="6.3" text-anchor="end" font-weight="normal" font-style="normal" fill="#111" color="#111">0</text>
<line x1="49.90" y1="353.50" x2="51.40" y2="353.50" stroke="#000" stroke-width="0.7" />
<text x="47.00" y="366.10" font-size="6.3" text-anchor="end" fill="#111" color="#111">&#8722;10<tspan dy="-2.7" font-size="4.28">3</tspan></text>
<line x1="49.90" y1="363.80" x2="51.40" y2="363.80" stroke="#000" stroke-width="0.7" />
<line x1="50.60" y1="308.66" x2="51.40" y2="308.66" stroke="#666" stroke-width="0.4" />
<line x1="50.60" y1="313.33" x2="51.40" y2="313.33" stroke="#666" stroke-width="0.4" />
<line x1="50.60" y1="317.99" x2="51.40" y2="317.99" stroke="#666" stroke-width="0.4" />
<line x1="50.60" y1="322.66" x2="51.40" y2="322.66" stroke="#666" stroke-width="0.4" />
<line x1="50.60" y1="327.32" x2="51.40" y2="327.32" stroke="#666" stroke-width="0.4" />
<line x1="50.60" y1="331.99" x2="51.40" y2="331.99" stroke="#666" stroke-width="0.4" />
<line x1="50.60" y1="336.65" x2="51.40" y2="336.65" stroke="#666" stroke-width="0.4" />
<line x1="50.60" y1="341.31" x2="51.40" y2="341.31" stroke="#666" stroke-width="0.4" />
<line x1="50.60" y1="345.98" x2="51.40" y2="345.98" stroke="#666" stroke-width="0.4" />
<line x1="50.60" y1="350.64" x2="51.40" y2="350.64" stroke="#666" stroke-width="0.4" />
<line x1="50.60" y1="355.31" x2="51.40" y2="355.31" stroke="#666" stroke-width="0.4" />
<line x1="50.60" y1="359.97" x2="51.40" y2="359.97" stroke="#666" stroke-width="0.4" />
<line x1="50.60" y1="364.64" x2="51.40" y2="364.64" stroke="#666" stroke-width="0.4" />
<text x="55.25" y="378.90" font-size="6.3" text-anchor="middle" fill="#111" color="#111">&#8722;10<tspan dy="-2.7" font-size="4.28">3</tspan></text>
<line x1="55.25" y1="369.30" x2="55.25" y2="370.80" stroke="#000" stroke-width="0.7" />
<text transform="translate(68.20,378.90)" font-size="6.3" text-anchor="middle" font-weight="normal" font-style="normal" fill="#111" color="#111">0</text>
<line x1="68.20" y1="369.30" x2="68.20" y2="370.80" stroke="#000" stroke-width="0.7" />
<text x="77.30" y="378.90" font-size="6.3" text-anchor="middle" fill="#111" color="#111">10<tspan dy="-2.7" font-size="4.28">3</tspan></text>
<line x1="77.30" y1="369.30" x2="77.30" y2="370.80" stroke="#000" stroke-width="0.7" />
<text x="95.15" y="378.90" font-size="6.3" text-anchor="middle" fill="#111" color="#111">10<tspan dy="-2.7" font-size="4.28">4</tspan></text>
<line x1="95.15" y1="369.30" x2="95.15" y2="370.80" stroke="#000" stroke-width="0.7" />
<text x="111.40" y="378.90" font-size="6.3" text-anchor="middle" fill="#111" color="#111">10<tspan dy="-2.7" font-size="4.28">5</tspan></text>
<line x1="111.40" y1="369.30" x2="111.40" y2="370.80" stroke="#000" stroke-width="0.7" />
<line x1="56.08" y1="369.30" x2="56.08" y2="370.10" stroke="#666" stroke-width="0.4" />
<line x1="60.76" y1="369.30" x2="60.76" y2="370.10" stroke="#666" stroke-width="0.4" />
<line x1="65.44" y1="369.30" x2="65.44" y2="370.10" stroke="#666" stroke-width="0.4" />
<line x1="70.11" y1="369.30" x2="70.11" y2="370.10" stroke="#666" stroke-width="0.4" />
<line x1="74.79" y1="369.30" x2="74.79" y2="370.10" stroke="#666" stroke-width="0.4" />
<line x1="79.47" y1="369.30" x2="79.47" y2="370.10" stroke="#666" stroke-width="0.4" />
<line x1="84.15" y1="369.30" x2="84.15" y2="370.10" stroke="#666" stroke-width="0.4" />
<line x1="88.83" y1="369.30" x2="88.83" y2="370.10" stroke="#666" stroke-width="0.4" />
<line x1="93.51" y1="369.30" x2="93.51" y2="370.10" stroke="#666" stroke-width="0.4" />
<line x1="98.19" y1="369.30" x2="98.19" y2="370.10" stroke="#666" stroke-width="0.4" />
<line x1="102.86" y1="369.30" x2="102.86" y2="370.10" stroke="#666" stroke-width="0.4" />
<line x1="107.54" y1="369.30" x2="107.54" y2="370.10" stroke="#666" stroke-width="0.4" />
<line x1="112.22" y1="369.30" x2="112.22" y2="370.10" stroke="#666" stroke-width="0.4" />
<line x1="51.40" y1="343.50" x2="116.90" y2="343.50" stroke="#5a5a5a" stroke-width="1.45" />
<line x1="76.50" y1="304.00" x2="76.50" y2="369.30" stroke="#5a5a5a" stroke-width="1.45" />
<rect x="76.50" y="313.30" width="24.30" height="30.20" fill="none" stroke="#444" stroke-width="0.7" />
<rect x="76.50" y="343.50" width="20.30" height="22.60" fill="none" stroke="#444" stroke-width="0.7" />
<line x1="58.60" y1="344.50" x2="58.60" y2="359.50" stroke="#888" stroke-width="0.5" />
<line x1="60.40" y1="362.50" x2="74.90" y2="362.50" stroke="#666" stroke-width="0.5" />
<text transform="translate(55.20,317.80)" font-size="5.8" text-anchor="start" font-weight="normal" font-style="normal" fill="#BA2453" color="#BA2453" style="stroke-width:0.18px">GMP</text>
<text transform="translate(55.20,324.50)" font-size="5.8" text-anchor="start" font-weight="normal" font-style="normal" fill="#BA2453" color="#BA2453" style="stroke-width:0.18px">10.7%</text>
<text x="53.40" y="307.20" font-size="3.0" text-anchor="start" fill="#333" color="#333" style="stroke-width:0.12px">Q1</text>
<text x="53.40" y="310.50" font-size="3.0" text-anchor="start" fill="#333" color="#333" style="stroke-width:0.12px">10.1</text>
<text x="109.40" y="307.20" font-size="3.0" text-anchor="start" fill="#333" color="#333" style="stroke-width:0.12px">Q2</text>
<text x="109.40" y="310.50" font-size="3.0" text-anchor="start" fill="#333" color="#333" style="stroke-width:0.12px">11.5</text>
<text x="102.30" y="321.50" font-size="3.0" text-anchor="start" fill="#333" color="#333" style="stroke-width:0.12px">GMP</text>
<text x="103.00" y="325.00" font-size="3.0" text-anchor="start" fill="#333" color="#333" style="stroke-width:0.12px">10.7</text>
<text x="98.00" y="348.20" font-size="3.0" text-anchor="start" fill="#333" color="#333" style="stroke-width:0.12px">CMP</text>
<text x="98.50" y="351.70" font-size="3.0" text-anchor="start" fill="#333" color="#333" style="stroke-width:0.12px">7.70</text>
<text x="109.40" y="361.00" font-size="3.0" text-anchor="start" fill="#333" color="#333" style="stroke-width:0.12px">Q3</text>
<text x="109.40" y="364.50" font-size="3.0" text-anchor="start" fill="#333" color="#333" style="stroke-width:0.12px">7.70</text>
<text x="53.40" y="361.50" font-size="3.0" text-anchor="start" fill="#333" color="#333" style="stroke-width:0.12px">Q4</text>
<text x="53.40" y="365.00" font-size="3.0" text-anchor="start" fill="#333" color="#333" style="stroke-width:0.12px">10.7</text>
<text x="64.40" y="361.50" font-size="3.0" text-anchor="start" fill="#333" color="#333" style="stroke-width:0.12px">MEP</text>
<text x="64.90" y="365.00" font-size="3.0" text-anchor="start" fill="#333" color="#333" style="stroke-width:0.12px">71.5</text>
<rect x="49.80" y="352.80" width="1.2" height="2.2" rx="0.5" fill="#000"/>
<rect x="64.90" y="369.60" width="3" height="1.1" rx="0.5" fill="#000"/>
<text transform="translate(81.20,298.50)" font-size="9" text-anchor="middle" font-weight="normal" font-style="normal" fill="#111" color="#111" style="stroke-width:0.05px">WT</text>
<g clip-path="url(#clipD1)">
<ellipse cx="157.60" cy="350.00" rx="4" ry="8" transform="rotate(-8 157.60 350.00)" fill="#000" opacity="0.85" filter="url(#g15)"/>
<ellipse cx="157.50" cy="342.00" rx="5" ry="10" transform="rotate(-5 157.50 342.00)" fill="#000" opacity="0.3" filter="url(#g20)"/>
<ellipse cx="175.00" cy="328.50" rx="9" ry="8" transform="rotate(-20 175.00 328.50)" fill="#000" opacity="0.2" filter="url(#g22)"/>
<ellipse cx="165.50" cy="338.00" rx="8" ry="6" transform="rotate(-40 165.50 338.00)" fill="#000" opacity="0.12" filter="url(#g20)"/>
<ellipse cx="168.50" cy="347.00" rx="8" ry="3" transform="rotate(0 168.50 347.00)" fill="#000" opacity="0.1" filter="url(#g15)"/>
<ellipse cx="180.17" cy="333.29" rx="1.21" ry="1.34" transform="rotate(-12 180.17 333.29)" fill="#000" opacity="0.16" filter="url(#g9)"/>
<ellipse cx="170.47" cy="323.01" rx="1.58" ry="1.58" transform="rotate(-25 170.47 323.01)" fill="#000" opacity="0.15" filter="url(#g9)"/>
<ellipse cx="180.29" cy="337.27" rx="1.87" ry="1.64" transform="rotate(-47 180.29 337.27)" fill="#000" opacity="0.19" filter="url(#g9)"/>
<ellipse cx="175.53" cy="330.51" rx="1.35" ry="1.67" transform="rotate(0 175.53 330.51)" fill="#000" opacity="0.09" filter="url(#g9)"/>
<ellipse cx="174.70" cy="321.68" rx="1.24" ry="1.69" transform="rotate(-56 174.70 321.68)" fill="#000" opacity="0.17" filter="url(#g9)"/>
<ellipse cx="172.92" cy="323.71" rx="2.37" ry="2.18" transform="rotate(-25 172.92 323.71)" fill="#000" opacity="0.16" filter="url(#g9)"/>
<ellipse cx="173.66" cy="333.70" rx="2.02" ry="1.64" transform="rotate(-3 173.66 333.70)" fill="#000" opacity="0.14" filter="url(#g9)"/>
<ellipse cx="173.27" cy="332.09" rx="1.82" ry="1.05" transform="rotate(-4 173.27 332.09)" fill="#000" opacity="0.2" filter="url(#g9)"/>
<ellipse cx="181.71" cy="331.55" rx="2.38" ry="2.14" transform="rotate(-28 181.71 331.55)" fill="#000" opacity="0.06" filter="url(#g9)"/>
<ellipse cx="169.51" cy="323.36" rx="1.35" ry="1.32" transform="rotate(-1 169.51 323.36)" fill="#000" opacity="0.09" filter="url(#g9)"/>
<ellipse cx="164.25" cy="325.34" rx="1.89" ry="1.71" transform="rotate(-24 164.25 325.34)" fill="#000" opacity="0.18" filter="url(#g9)"/>
<ellipse cx="175.98" cy="328.94" rx="1.91" ry="2.09" transform="rotate(-49 175.98 328.94)" fill="#000" opacity="0.17" filter="url(#g9)"/>
<ellipse cx="176.35" cy="330.51" rx="2.22" ry="1.59" transform="rotate(-60 176.35 330.51)" fill="#000" opacity="0.06" filter="url(#g9)"/>
<ellipse cx="173.76" cy="320.15" rx="2.02" ry="1.62" transform="rotate(-38 173.76 320.15)" fill="#000" opacity="0.17" filter="url(#g9)"/>
<ellipse cx="160.28" cy="338.99" rx="2.57" ry="1.19" transform="rotate(-8 160.28 338.99)" fill="#000" opacity="0.06" filter="url(#g9)"/>
<ellipse cx="174.61" cy="331.41" rx="1.7" ry="1.85" transform="rotate(-11 174.61 331.41)" fill="#000" opacity="0.06" filter="url(#g9)"/>
<ellipse cx="188.31" cy="329.98" rx="2.55" ry="1.41" transform="rotate(-41 188.31 329.98)" fill="#000" opacity="0.13" filter="url(#g9)"/>
<ellipse cx="181.82" cy="330.34" rx="2.52" ry="1.99" transform="rotate(-35 181.82 330.34)" fill="#000" opacity="0.17" filter="url(#g9)"/>
<ellipse cx="176.11" cy="349.85" rx="2.14" ry="1.72" transform="rotate(-19 176.11 349.85)" fill="#000" opacity="0.09" filter="url(#g9)"/>
<ellipse cx="178.78" cy="338.59" rx="1.91" ry="1.91" transform="rotate(-56 178.78 338.59)" fill="#000" opacity="0.14" filter="url(#g9)"/>
<ellipse cx="167.83" cy="329.29" rx="1.43" ry="1.42" transform="rotate(-20 167.83 329.29)" fill="#000" opacity="0.13" filter="url(#g9)"/>
<ellipse cx="175.85" cy="332.44" rx="1.91" ry="1.68" transform="rotate(-48 175.85 332.44)" fill="#000" opacity="0.18" filter="url(#g9)"/>
</g>
<rect x="141.50" y="304.00" width="65.50" height="65.30" fill="none" stroke="#999" stroke-width="1.0" />
<text x="137.10" y="313.20" font-size="6.3" text-anchor="end" fill="#111" color="#111">10<tspan dy="-2.7" font-size="4.28">5</tspan></text>
<line x1="140.00" y1="310.90" x2="141.50" y2="310.90" stroke="#000" stroke-width="0.7" />
<text x="137.10" y="327.70" font-size="6.3" text-anchor="end" fill="#111" color="#111">10<tspan dy="-2.7" font-size="4.28">4</tspan></text>
<line x1="140.00" y1="325.40" x2="141.50" y2="325.40" stroke="#000" stroke-width="0.7" />
<text x="137.10" y="345.10" font-size="6.3" text-anchor="end" fill="#111" color="#111">10<tspan dy="-2.7" font-size="4.28">3</tspan></text>
<line x1="140.00" y1="342.80" x2="141.50" y2="342.80" stroke="#000" stroke-width="0.7" />
<text transform="translate(136.20,355.80)" font-size="6.3" text-anchor="end" font-weight="normal" font-style="normal" fill="#111" color="#111">0</text>
<line x1="140.00" y1="353.50" x2="141.50" y2="353.50" stroke="#000" stroke-width="0.7" />
<text x="137.10" y="366.10" font-size="6.3" text-anchor="end" fill="#111" color="#111">&#8722;10<tspan dy="-2.7" font-size="4.28">3</tspan></text>
<line x1="140.00" y1="363.80" x2="141.50" y2="363.80" stroke="#000" stroke-width="0.7" />
<line x1="140.70" y1="308.66" x2="141.50" y2="308.66" stroke="#666" stroke-width="0.4" />
<line x1="140.70" y1="313.33" x2="141.50" y2="313.33" stroke="#666" stroke-width="0.4" />
<line x1="140.70" y1="317.99" x2="141.50" y2="317.99" stroke="#666" stroke-width="0.4" />
<line x1="140.70" y1="322.66" x2="141.50" y2="322.66" stroke="#666" stroke-width="0.4" />
<line x1="140.70" y1="327.32" x2="141.50" y2="327.32" stroke="#666" stroke-width="0.4" />
<line x1="140.70" y1="331.99" x2="141.50" y2="331.99" stroke="#666" stroke-width="0.4" />
<line x1="140.70" y1="336.65" x2="141.50" y2="336.65" stroke="#666" stroke-width="0.4" />
<line x1="140.70" y1="341.31" x2="141.50" y2="341.31" stroke="#666" stroke-width="0.4" />
<line x1="140.70" y1="345.98" x2="141.50" y2="345.98" stroke="#666" stroke-width="0.4" />
<line x1="140.70" y1="350.64" x2="141.50" y2="350.64" stroke="#666" stroke-width="0.4" />
<line x1="140.70" y1="355.31" x2="141.50" y2="355.31" stroke="#666" stroke-width="0.4" />
<line x1="140.70" y1="359.97" x2="141.50" y2="359.97" stroke="#666" stroke-width="0.4" />
<line x1="140.70" y1="364.64" x2="141.50" y2="364.64" stroke="#666" stroke-width="0.4" />
<text x="145.35" y="378.90" font-size="6.3" text-anchor="middle" fill="#111" color="#111">&#8722;10<tspan dy="-2.7" font-size="4.28">3</tspan></text>
<line x1="145.35" y1="369.30" x2="145.35" y2="370.80" stroke="#000" stroke-width="0.7" />
<text transform="translate(158.30,378.90)" font-size="6.3" text-anchor="middle" font-weight="normal" font-style="normal" fill="#111" color="#111">0</text>
<line x1="158.30" y1="369.30" x2="158.30" y2="370.80" stroke="#000" stroke-width="0.7" />
<text x="167.40" y="378.90" font-size="6.3" text-anchor="middle" fill="#111" color="#111">10<tspan dy="-2.7" font-size="4.28">3</tspan></text>
<line x1="167.40" y1="369.30" x2="167.40" y2="370.80" stroke="#000" stroke-width="0.7" />
<text x="185.25" y="378.90" font-size="6.3" text-anchor="middle" fill="#111" color="#111">10<tspan dy="-2.7" font-size="4.28">4</tspan></text>
<line x1="185.25" y1="369.30" x2="185.25" y2="370.80" stroke="#000" stroke-width="0.7" />
<text x="201.50" y="378.90" font-size="6.3" text-anchor="middle" fill="#111" color="#111">10<tspan dy="-2.7" font-size="4.28">5</tspan></text>
<line x1="201.50" y1="369.30" x2="201.50" y2="370.80" stroke="#000" stroke-width="0.7" />
<line x1="146.18" y1="369.30" x2="146.18" y2="370.10" stroke="#666" stroke-width="0.4" />
<line x1="150.86" y1="369.30" x2="150.86" y2="370.10" stroke="#666" stroke-width="0.4" />
<line x1="155.54" y1="369.30" x2="155.54" y2="370.10" stroke="#666" stroke-width="0.4" />
<line x1="160.21" y1="369.30" x2="160.21" y2="370.10" stroke="#666" stroke-width="0.4" />
<line x1="164.89" y1="369.30" x2="164.89" y2="370.10" stroke="#666" stroke-width="0.4" />
<line x1="169.57" y1="369.30" x2="169.57" y2="370.10" stroke="#666" stroke-width="0.4" />
<line x1="174.25" y1="369.30" x2="174.25" y2="370.10" stroke="#666" stroke-width="0.4" />
<line x1="178.93" y1="369.30" x2="178.93" y2="370.10" stroke="#666" stroke-width="0.4" />
<line x1="183.61" y1="369.30" x2="183.61" y2="370.10" stroke="#666" stroke-width="0.4" />
<line x1="188.29" y1="369.30" x2="188.29" y2="370.10" stroke="#666" stroke-width="0.4" />
<line x1="192.96" y1="369.30" x2="192.96" y2="370.10" stroke="#666" stroke-width="0.4" />
<line x1="197.64" y1="369.30" x2="197.64" y2="370.10" stroke="#666" stroke-width="0.4" />
<line x1="202.32" y1="369.30" x2="202.32" y2="370.10" stroke="#666" stroke-width="0.4" />
<line x1="141.50" y1="343.50" x2="207.00" y2="343.50" stroke="#5a5a5a" stroke-width="1.45" />
<line x1="166.50" y1="304.00" x2="166.50" y2="369.30" stroke="#5a5a5a" stroke-width="1.45" />
<rect x="166.50" y="313.30" width="24.40" height="30.20" fill="none" stroke="#444" stroke-width="0.7" />
<rect x="166.50" y="343.50" width="20.40" height="22.60" fill="none" stroke="#444" stroke-width="0.7" />
<line x1="148.70" y1="344.50" x2="148.70" y2="359.50" stroke="#888" stroke-width="0.5" />
<line x1="150.50" y1="362.50" x2="165.00" y2="362.50" stroke="#666" stroke-width="0.5" />
<text transform="translate(145.30,317.80)" font-size="5.8" text-anchor="start" font-weight="normal" font-style="normal" fill="#BA2453" color="#BA2453" style="stroke-width:0.18px">GMP</text>
<text transform="translate(145.30,324.50)" font-size="5.8" text-anchor="start" font-weight="normal" font-style="normal" fill="#BA2453" color="#BA2453" style="stroke-width:0.18px">16.6%</text>
<text x="143.50" y="307.20" font-size="3.0" text-anchor="start" fill="#333" color="#333" style="stroke-width:0.12px">Q1</text>
<text x="143.50" y="310.50" font-size="3.0" text-anchor="start" fill="#333" color="#333" style="stroke-width:0.12px">12.7</text>
<text x="199.50" y="307.20" font-size="3.0" text-anchor="start" fill="#333" color="#333" style="stroke-width:0.12px">Q2</text>
<text x="199.50" y="310.50" font-size="3.0" text-anchor="start" fill="#333" color="#333" style="stroke-width:0.12px">16.6</text>
<text x="192.30" y="321.50" font-size="3.0" text-anchor="start" fill="#333" color="#333" style="stroke-width:0.12px">GMP</text>
<text x="193.00" y="325.00" font-size="3.0" text-anchor="start" fill="#333" color="#333" style="stroke-width:0.12px">16.6</text>
<text x="188.00" y="348.20" font-size="3.0" text-anchor="start" fill="#333" color="#333" style="stroke-width:0.12px">CMP</text>
<text x="188.50" y="351.70" font-size="3.0" text-anchor="start" fill="#333" color="#333" style="stroke-width:0.12px">3.35</text>
<text x="199.50" y="361.00" font-size="3.0" text-anchor="start" fill="#333" color="#333" style="stroke-width:0.12px">Q3</text>
<text x="199.50" y="364.50" font-size="3.0" text-anchor="start" fill="#333" color="#333" style="stroke-width:0.12px">3.35</text>
<text x="143.50" y="361.50" font-size="3.0" text-anchor="start" fill="#333" color="#333" style="stroke-width:0.12px">Q4</text>
<text x="143.50" y="365.00" font-size="3.0" text-anchor="start" fill="#333" color="#333" style="stroke-width:0.12px">67.8</text>
<text x="154.50" y="361.50" font-size="3.0" text-anchor="start" fill="#333" color="#333" style="stroke-width:0.12px">MEP</text>
<text x="155.00" y="365.00" font-size="3.0" text-anchor="start" fill="#333" color="#333" style="stroke-width:0.12px">68.0</text>
<rect x="139.90" y="352.80" width="1.2" height="2.2" rx="0.5" fill="#000"/>
<rect x="155.00" y="369.60" width="3" height="1.1" rx="0.5" fill="#000"/>
<text transform="translate(170.50,298.50)" font-size="9" text-anchor="middle" font-weight="normal" font-style="italic" fill="#111" color="#111" style="stroke-width:0.05px">Shp2<tspan font-size="6.5" dy="-0.6">*</tspan><tspan dy="0.6"></tspan></text>
<g clip-path="url(#clipD2)">
<ellipse cx="245.80" cy="350.00" rx="4" ry="7" transform="rotate(-8 245.80 350.00)" fill="#000" opacity="0.9" filter="url(#g15)"/>
<ellipse cx="245.80" cy="340.00" rx="4.5" ry="12" transform="rotate(-5 245.80 340.00)" fill="#000" opacity="0.35" filter="url(#g20)"/>
<ellipse cx="261.50" cy="332.00" rx="9" ry="9" transform="rotate(-20 261.50 332.00)" fill="#000" opacity="0.18" filter="url(#g22)"/>
<ellipse cx="258.50" cy="346.00" rx="9" ry="4" transform="rotate(0 258.50 346.00)" fill="#000" opacity="0.12" filter="url(#g20)"/>
<ellipse cx="262.38" cy="323.97" rx="1.77" ry="1.24" transform="rotate(-17 262.38 323.97)" fill="#000" opacity="0.12" filter="url(#g9)"/>
<ellipse cx="268.60" cy="335.35" rx="1.83" ry="2.08" transform="rotate(-40 268.60 335.35)" fill="#000" opacity="0.09" filter="url(#g9)"/>
<ellipse cx="251.88" cy="333.31" rx="2.4" ry="1.63" transform="rotate(-5 251.88 333.31)" fill="#000" opacity="0.12" filter="url(#g9)"/>
<ellipse cx="254.21" cy="333.99" rx="2.24" ry="1.99" transform="rotate(-18 254.21 333.99)" fill="#000" opacity="0.07" filter="url(#g9)"/>
<ellipse cx="261.55" cy="337.83" rx="1.86" ry="2.03" transform="rotate(-43 261.55 337.83)" fill="#000" opacity="0.2" filter="url(#g9)"/>
<ellipse cx="265.46" cy="331.33" rx="2.08" ry="1.12" transform="rotate(-36 265.46 331.33)" fill="#000" opacity="0.1" filter="url(#g9)"/>
<ellipse cx="268.40" cy="345.53" rx="1.37" ry="1.15" transform="rotate(-46 268.40 345.53)" fill="#000" opacity="0.16" filter="url(#g9)"/>
<ellipse cx="257.26" cy="327.45" rx="1.53" ry="2.07" transform="rotate(-38 257.26 327.45)" fill="#000" opacity="0.09" filter="url(#g9)"/>
<ellipse cx="257.84" cy="345.18" rx="2.6" ry="1.29" transform="rotate(-38 257.84 345.18)" fill="#000" opacity="0.17" filter="url(#g9)"/>
<ellipse cx="252.10" cy="325.70" rx="1.75" ry="1.91" transform="rotate(-38 252.10 325.70)" fill="#000" opacity="0.11" filter="url(#g9)"/>
<ellipse cx="266.37" cy="339.72" rx="1.69" ry="1.41" transform="rotate(-48 266.37 339.72)" fill="#000" opacity="0.14" filter="url(#g9)"/>
<ellipse cx="278.99" cy="334.50" rx="2.56" ry="1.47" transform="rotate(-40 278.99 334.50)" fill="#000" opacity="0.07" filter="url(#g9)"/>
<ellipse cx="265.21" cy="331.13" rx="2.41" ry="1.81" transform="rotate(-15 265.21 331.13)" fill="#000" opacity="0.1" filter="url(#g9)"/>
<ellipse cx="252.06" cy="320.68" rx="1.38" ry="1.22" transform="rotate(-25 252.06 320.68)" fill="#000" opacity="0.13" filter="url(#g9)"/>
<ellipse cx="248.17" cy="337.77" rx="1.44" ry="1.87" transform="rotate(-32 248.17 337.77)" fill="#000" opacity="0.13" filter="url(#g9)"/>
<ellipse cx="260.22" cy="332.11" rx="1.34" ry="1.68" transform="rotate(-50 260.22 332.11)" fill="#000" opacity="0.15" filter="url(#g9)"/>
<ellipse cx="270.84" cy="325.31" rx="2.41" ry="1.1" transform="rotate(-36 270.84 325.31)" fill="#000" opacity="0.06" filter="url(#g9)"/>
<ellipse cx="265.10" cy="341.96" rx="2.31" ry="1.25" transform="rotate(-31 265.10 341.96)" fill="#000" opacity="0.19" filter="url(#g9)"/>
<ellipse cx="266.34" cy="330.93" rx="1.8" ry="1.29" transform="rotate(-19 266.34 330.93)" fill="#000" opacity="0.09" filter="url(#g9)"/>
<ellipse cx="257.52" cy="326.86" rx="2.05" ry="1.09" transform="rotate(-31 257.52 326.86)" fill="#000" opacity="0.13" filter="url(#g9)"/>
<ellipse cx="262.21" cy="330.46" rx="1.49" ry="1.05" transform="rotate(0 262.21 330.46)" fill="#000" opacity="0.07" filter="url(#g9)"/>
<ellipse cx="257.71" cy="341.17" rx="2.57" ry="1.71" transform="rotate(-19 257.71 341.17)" fill="#000" opacity="0.11" filter="url(#g9)"/>
</g>
<rect x="230.50" y="304.00" width="65.50" height="65.30" fill="none" stroke="#999" stroke-width="1.0" />
<text x="226.10" y="313.20" font-size="6.3" text-anchor="end" fill="#111" color="#111">10<tspan dy="-2.7" font-size="4.28">5</tspan></text>
<line x1="229.00" y1="310.90" x2="230.50" y2="310.90" stroke="#000" stroke-width="0.7" />
<text x="226.10" y="327.70" font-size="6.3" text-anchor="end" fill="#111" color="#111">10<tspan dy="-2.7" font-size="4.28">4</tspan></text>
<line x1="229.00" y1="325.40" x2="230.50" y2="325.40" stroke="#000" stroke-width="0.7" />
<text x="226.10" y="345.10" font-size="6.3" text-anchor="end" fill="#111" color="#111">10<tspan dy="-2.7" font-size="4.28">3</tspan></text>
<line x1="229.00" y1="342.80" x2="230.50" y2="342.80" stroke="#000" stroke-width="0.7" />
<text transform="translate(225.20,355.80)" font-size="6.3" text-anchor="end" font-weight="normal" font-style="normal" fill="#111" color="#111">0</text>
<line x1="229.00" y1="353.50" x2="230.50" y2="353.50" stroke="#000" stroke-width="0.7" />
<text x="226.10" y="366.10" font-size="6.3" text-anchor="end" fill="#111" color="#111">&#8722;10<tspan dy="-2.7" font-size="4.28">3</tspan></text>
<line x1="229.00" y1="363.80" x2="230.50" y2="363.80" stroke="#000" stroke-width="0.7" />
<line x1="229.70" y1="308.66" x2="230.50" y2="308.66" stroke="#666" stroke-width="0.4" />
<line x1="229.70" y1="313.33" x2="230.50" y2="313.33" stroke="#666" stroke-width="0.4" />
<line x1="229.70" y1="317.99" x2="230.50" y2="317.99" stroke="#666" stroke-width="0.4" />
<line x1="229.70" y1="322.66" x2="230.50" y2="322.66" stroke="#666" stroke-width="0.4" />
<line x1="229.70" y1="327.32" x2="230.50" y2="327.32" stroke="#666" stroke-width="0.4" />
<line x1="229.70" y1="331.99" x2="230.50" y2="331.99" stroke="#666" stroke-width="0.4" />
<line x1="229.70" y1="336.65" x2="230.50" y2="336.65" stroke="#666" stroke-width="0.4" />
<line x1="229.70" y1="341.31" x2="230.50" y2="341.31" stroke="#666" stroke-width="0.4" />
<line x1="229.70" y1="345.98" x2="230.50" y2="345.98" stroke="#666" stroke-width="0.4" />
<line x1="229.70" y1="350.64" x2="230.50" y2="350.64" stroke="#666" stroke-width="0.4" />
<line x1="229.70" y1="355.31" x2="230.50" y2="355.31" stroke="#666" stroke-width="0.4" />
<line x1="229.70" y1="359.97" x2="230.50" y2="359.97" stroke="#666" stroke-width="0.4" />
<line x1="229.70" y1="364.64" x2="230.50" y2="364.64" stroke="#666" stroke-width="0.4" />
<text x="234.35" y="378.90" font-size="6.3" text-anchor="middle" fill="#111" color="#111">&#8722;10<tspan dy="-2.7" font-size="4.28">3</tspan></text>
<line x1="234.35" y1="369.30" x2="234.35" y2="370.80" stroke="#000" stroke-width="0.7" />
<text transform="translate(247.30,378.90)" font-size="6.3" text-anchor="middle" font-weight="normal" font-style="normal" fill="#111" color="#111">0</text>
<line x1="247.30" y1="369.30" x2="247.30" y2="370.80" stroke="#000" stroke-width="0.7" />
<text x="256.40" y="378.90" font-size="6.3" text-anchor="middle" fill="#111" color="#111">10<tspan dy="-2.7" font-size="4.28">3</tspan></text>
<line x1="256.40" y1="369.30" x2="256.40" y2="370.80" stroke="#000" stroke-width="0.7" />
<text x="274.25" y="378.90" font-size="6.3" text-anchor="middle" fill="#111" color="#111">10<tspan dy="-2.7" font-size="4.28">4</tspan></text>
<line x1="274.25" y1="369.30" x2="274.25" y2="370.80" stroke="#000" stroke-width="0.7" />
<text x="290.50" y="378.90" font-size="6.3" text-anchor="middle" fill="#111" color="#111">10<tspan dy="-2.7" font-size="4.28">5</tspan></text>
<line x1="290.50" y1="369.30" x2="290.50" y2="370.80" stroke="#000" stroke-width="0.7" />
<line x1="235.18" y1="369.30" x2="235.18" y2="370.10" stroke="#666" stroke-width="0.4" />
<line x1="239.86" y1="369.30" x2="239.86" y2="370.10" stroke="#666" stroke-width="0.4" />
<line x1="244.54" y1="369.30" x2="244.54" y2="370.10" stroke="#666" stroke-width="0.4" />
<line x1="249.21" y1="369.30" x2="249.21" y2="370.10" stroke="#666" stroke-width="0.4" />
<line x1="253.89" y1="369.30" x2="253.89" y2="370.10" stroke="#666" stroke-width="0.4" />
<line x1="258.57" y1="369.30" x2="258.57" y2="370.10" stroke="#666" stroke-width="0.4" />
<line x1="263.25" y1="369.30" x2="263.25" y2="370.10" stroke="#666" stroke-width="0.4" />
<line x1="267.93" y1="369.30" x2="267.93" y2="370.10" stroke="#666" stroke-width="0.4" />
<line x1="272.61" y1="369.30" x2="272.61" y2="370.10" stroke="#666" stroke-width="0.4" />
<line x1="277.29" y1="369.30" x2="277.29" y2="370.10" stroke="#666" stroke-width="0.4" />
<line x1="281.96" y1="369.30" x2="281.96" y2="370.10" stroke="#666" stroke-width="0.4" />
<line x1="286.64" y1="369.30" x2="286.64" y2="370.10" stroke="#666" stroke-width="0.4" />
<line x1="291.32" y1="369.30" x2="291.32" y2="370.10" stroke="#666" stroke-width="0.4" />
<line x1="230.50" y1="343.50" x2="296.00" y2="343.50" stroke="#5a5a5a" stroke-width="1.45" />
<line x1="255.40" y1="304.00" x2="255.40" y2="369.30" stroke="#5a5a5a" stroke-width="1.45" />
<rect x="255.40" y="313.30" width="24.50" height="30.20" fill="none" stroke="#444" stroke-width="0.7" />
<rect x="255.40" y="343.50" width="20.50" height="22.60" fill="none" stroke="#444" stroke-width="0.7" />
<line x1="237.70" y1="344.50" x2="237.70" y2="359.50" stroke="#888" stroke-width="0.5" />
<line x1="239.50" y1="362.50" x2="254.00" y2="362.50" stroke="#666" stroke-width="0.5" />
<text transform="translate(234.30,317.80)" font-size="5.8" text-anchor="start" font-weight="normal" font-style="normal" fill="#BA2453" color="#BA2453" style="stroke-width:0.18px">GMP</text>
<text transform="translate(234.30,324.50)" font-size="5.8" text-anchor="start" font-weight="normal" font-style="normal" fill="#BA2453" color="#BA2453" style="stroke-width:0.18px">15.1%</text>
<text x="232.50" y="307.20" font-size="3.0" text-anchor="start" fill="#333" color="#333" style="stroke-width:0.12px">Q1</text>
<text x="232.50" y="310.50" font-size="3.0" text-anchor="start" fill="#333" color="#333" style="stroke-width:0.12px">23.2</text>
<text x="288.50" y="307.20" font-size="3.0" text-anchor="start" fill="#333" color="#333" style="stroke-width:0.12px">Q2</text>
<text x="288.50" y="310.50" font-size="3.0" text-anchor="start" fill="#333" color="#333" style="stroke-width:0.12px">15.6</text>
<text x="281.20" y="321.50" font-size="3.0" text-anchor="start" fill="#333" color="#333" style="stroke-width:0.12px">GMP</text>
<text x="281.90" y="325.00" font-size="3.0" text-anchor="start" fill="#333" color="#333" style="stroke-width:0.12px">15.1</text>
<text x="276.90" y="348.20" font-size="3.0" text-anchor="start" fill="#333" color="#333" style="stroke-width:0.12px">CMP</text>
<text x="277.40" y="351.70" font-size="3.0" text-anchor="start" fill="#333" color="#333" style="stroke-width:0.12px">3.67</text>
<text x="288.50" y="361.00" font-size="3.0" text-anchor="start" fill="#333" color="#333" style="stroke-width:0.12px">Q3</text>
<text x="288.50" y="364.50" font-size="3.0" text-anchor="start" fill="#333" color="#333" style="stroke-width:0.12px">3.67</text>
<text x="232.50" y="361.50" font-size="3.0" text-anchor="start" fill="#333" color="#333" style="stroke-width:0.12px">Q4</text>
<text x="232.50" y="365.00" font-size="3.0" text-anchor="start" fill="#333" color="#333" style="stroke-width:0.12px">56.2</text>
<text x="243.50" y="361.50" font-size="3.0" text-anchor="start" fill="#333" color="#333" style="stroke-width:0.12px">MEP</text>
<text x="244.00" y="365.00" font-size="3.0" text-anchor="start" fill="#333" color="#333" style="stroke-width:0.12px">56.8</text>
<rect x="228.90" y="352.80" width="1.2" height="2.2" rx="0.5" fill="#000"/>
<rect x="244.00" y="369.60" width="3" height="1.1" rx="0.5" fill="#000"/>
<text transform="translate(260.20,298.50)" font-size="9" text-anchor="middle" font-weight="normal" font-style="italic" fill="#111" color="#111" style="stroke-width:0.05px">M</text>
<g clip-path="url(#clipD3)">
<ellipse cx="333.00" cy="334.30" rx="2.5" ry="5" transform="rotate(0 333.00 334.30)" fill="#000" opacity="0.9" filter="url(#g12)"/>
<ellipse cx="333.00" cy="350.40" rx="2.8" ry="5" transform="rotate(0 333.00 350.40)" fill="#000" opacity="0.8" filter="url(#g13)"/>
<ellipse cx="333.00" cy="342.00" rx="5" ry="15" transform="rotate(0 333.00 342.00)" fill="#000" opacity="0.35" filter="url(#g18)"/>
<ellipse cx="351.80" cy="331.80" rx="9" ry="9" transform="rotate(-20 351.80 331.80)" fill="#000" opacity="0.18" filter="url(#g22)"/>
<ellipse cx="345.00" cy="346.00" rx="8" ry="4" transform="rotate(0 345.00 346.00)" fill="#000" opacity="0.1" filter="url(#g20)"/>
<ellipse cx="362.32" cy="338.53" rx="2.04" ry="1.26" transform="rotate(-11 362.32 338.53)" fill="#000" opacity="0.2" filter="url(#g9)"/>
<ellipse cx="356.39" cy="331.28" rx="1.53" ry="1.03" transform="rotate(-45 356.39 331.28)" fill="#000" opacity="0.11" filter="url(#g9)"/>
<ellipse cx="363.32" cy="339.63" rx="1.36" ry="1.67" transform="rotate(-3 363.32 339.63)" fill="#000" opacity="0.11" filter="url(#g9)"/>
<ellipse cx="350.51" cy="338.17" rx="1.48" ry="1.9" transform="rotate(-41 350.51 338.17)" fill="#000" opacity="0.19" filter="url(#g9)"/>
<ellipse cx="343.62" cy="333.96" rx="2.05" ry="1.14" transform="rotate(-2 343.62 333.96)" fill="#000" opacity="0.18" filter="url(#g9)"/>
<ellipse cx="344.19" cy="337.93" rx="1.87" ry="2.04" transform="rotate(-56 344.19 337.93)" fill="#000" opacity="0.15" filter="url(#g9)"/>
<ellipse cx="359.01" cy="331.39" rx="2.14" ry="1.93" transform="rotate(-20 359.01 331.39)" fill="#000" opacity="0.11" filter="url(#g9)"/>
<ellipse cx="355.75" cy="330.47" rx="2.23" ry="1.05" transform="rotate(-10 355.75 330.47)" fill="#000" opacity="0.08" filter="url(#g9)"/>
<ellipse cx="349.62" cy="329.50" rx="1.77" ry="1.31" transform="rotate(-10 349.62 329.50)" fill="#000" opacity="0.1" filter="url(#g9)"/>
<ellipse cx="352.40" cy="324.64" rx="1.26" ry="1.22" transform="rotate(-34 352.40 324.64)" fill="#000" opacity="0.15" filter="url(#g9)"/>
<ellipse cx="351.50" cy="330.45" rx="1.92" ry="2.17" transform="rotate(-58 351.50 330.45)" fill="#000" opacity="0.19" filter="url(#g9)"/>
<ellipse cx="366.68" cy="331.25" rx="2.58" ry="1.86" transform="rotate(-16 366.68 331.25)" fill="#000" opacity="0.09" filter="url(#g9)"/>
<ellipse cx="361.31" cy="335.49" rx="2.47" ry="1.34" transform="rotate(-51 361.31 335.49)" fill="#000" opacity="0.12" filter="url(#g9)"/>
<ellipse cx="364.45" cy="333.69" rx="1.88" ry="1.01" transform="rotate(-8 364.45 333.69)" fill="#000" opacity="0.17" filter="url(#g9)"/>
<ellipse cx="351.63" cy="343.42" rx="1.3" ry="1.08" transform="rotate(-46 351.63 343.42)" fill="#000" opacity="0.14" filter="url(#g9)"/>
<ellipse cx="346.78" cy="324.91" rx="1.54" ry="1.18" transform="rotate(-56 346.78 324.91)" fill="#000" opacity="0.2" filter="url(#g9)"/>
<ellipse cx="358.89" cy="329.21" rx="1.31" ry="1.26" transform="rotate(-25 358.89 329.21)" fill="#000" opacity="0.09" filter="url(#g9)"/>
<ellipse cx="356.00" cy="327.32" rx="2.51" ry="2.14" transform="rotate(-43 356.00 327.32)" fill="#000" opacity="0.12" filter="url(#g9)"/>
<ellipse cx="351.90" cy="325.59" rx="1.96" ry="1.03" transform="rotate(-56 351.90 325.59)" fill="#000" opacity="0.16" filter="url(#g9)"/>
<ellipse cx="349.12" cy="318.43" rx="2.47" ry="1.39" transform="rotate(-53 349.12 318.43)" fill="#000" opacity="0.07" filter="url(#g9)"/>
<ellipse cx="352.92" cy="327.86" rx="1.5" ry="1.15" transform="rotate(-51 352.92 327.86)" fill="#000" opacity="0.07" filter="url(#g9)"/>
<ellipse cx="345.76" cy="318.73" rx="2.08" ry="1.77" transform="rotate(-45 345.76 318.73)" fill="#000" opacity="0.06" filter="url(#g9)"/>
</g>
<rect x="317.00" y="304.00" width="65.50" height="65.30" fill="none" stroke="#999" stroke-width="1.0" />
<text x="312.60" y="313.20" font-size="6.3" text-anchor="end" fill="#111" color="#111">10<tspan dy="-2.7" font-size="4.28">5</tspan></text>
<line x1="315.50" y1="310.90" x2="317.00" y2="310.90" stroke="#000" stroke-width="0.7" />
<text x="312.60" y="327.70" font-size="6.3" text-anchor="end" fill="#111" color="#111">10<tspan dy="-2.7" font-size="4.28">4</tspan></text>
<line x1="315.50" y1="325.40" x2="317.00" y2="325.40" stroke="#000" stroke-width="0.7" />
<text x="312.60" y="345.10" font-size="6.3" text-anchor="end" fill="#111" color="#111">10<tspan dy="-2.7" font-size="4.28">3</tspan></text>
<line x1="315.50" y1="342.80" x2="317.00" y2="342.80" stroke="#000" stroke-width="0.7" />
<text transform="translate(311.70,355.80)" font-size="6.3" text-anchor="end" font-weight="normal" font-style="normal" fill="#111" color="#111">0</text>
<line x1="315.50" y1="353.50" x2="317.00" y2="353.50" stroke="#000" stroke-width="0.7" />
<text x="312.60" y="366.10" font-size="6.3" text-anchor="end" fill="#111" color="#111">&#8722;10<tspan dy="-2.7" font-size="4.28">3</tspan></text>
<line x1="315.50" y1="363.80" x2="317.00" y2="363.80" stroke="#000" stroke-width="0.7" />
<line x1="316.20" y1="308.66" x2="317.00" y2="308.66" stroke="#666" stroke-width="0.4" />
<line x1="316.20" y1="313.33" x2="317.00" y2="313.33" stroke="#666" stroke-width="0.4" />
<line x1="316.20" y1="317.99" x2="317.00" y2="317.99" stroke="#666" stroke-width="0.4" />
<line x1="316.20" y1="322.66" x2="317.00" y2="322.66" stroke="#666" stroke-width="0.4" />
<line x1="316.20" y1="327.32" x2="317.00" y2="327.32" stroke="#666" stroke-width="0.4" />
<line x1="316.20" y1="331.99" x2="317.00" y2="331.99" stroke="#666" stroke-width="0.4" />
<line x1="316.20" y1="336.65" x2="317.00" y2="336.65" stroke="#666" stroke-width="0.4" />
<line x1="316.20" y1="341.31" x2="317.00" y2="341.31" stroke="#666" stroke-width="0.4" />
<line x1="316.20" y1="345.98" x2="317.00" y2="345.98" stroke="#666" stroke-width="0.4" />
<line x1="316.20" y1="350.64" x2="317.00" y2="350.64" stroke="#666" stroke-width="0.4" />
<line x1="316.20" y1="355.31" x2="317.00" y2="355.31" stroke="#666" stroke-width="0.4" />
<line x1="316.20" y1="359.97" x2="317.00" y2="359.97" stroke="#666" stroke-width="0.4" />
<line x1="316.20" y1="364.64" x2="317.00" y2="364.64" stroke="#666" stroke-width="0.4" />
<text x="320.85" y="378.90" font-size="6.3" text-anchor="middle" fill="#111" color="#111">&#8722;10<tspan dy="-2.7" font-size="4.28">3</tspan></text>
<line x1="320.85" y1="369.30" x2="320.85" y2="370.80" stroke="#000" stroke-width="0.7" />
<text transform="translate(333.80,378.90)" font-size="6.3" text-anchor="middle" font-weight="normal" font-style="normal" fill="#111" color="#111">0</text>
<line x1="333.80" y1="369.30" x2="333.80" y2="370.80" stroke="#000" stroke-width="0.7" />
<text x="342.90" y="378.90" font-size="6.3" text-anchor="middle" fill="#111" color="#111">10<tspan dy="-2.7" font-size="4.28">3</tspan></text>
<line x1="342.90" y1="369.30" x2="342.90" y2="370.80" stroke="#000" stroke-width="0.7" />
<text x="360.75" y="378.90" font-size="6.3" text-anchor="middle" fill="#111" color="#111">10<tspan dy="-2.7" font-size="4.28">4</tspan></text>
<line x1="360.75" y1="369.30" x2="360.75" y2="370.80" stroke="#000" stroke-width="0.7" />
<text x="377.00" y="378.90" font-size="6.3" text-anchor="middle" fill="#111" color="#111">10<tspan dy="-2.7" font-size="4.28">5</tspan></text>
<line x1="377.00" y1="369.30" x2="377.00" y2="370.80" stroke="#000" stroke-width="0.7" />
<line x1="321.68" y1="369.30" x2="321.68" y2="370.10" stroke="#666" stroke-width="0.4" />
<line x1="326.36" y1="369.30" x2="326.36" y2="370.10" stroke="#666" stroke-width="0.4" />
<line x1="331.04" y1="369.30" x2="331.04" y2="370.10" stroke="#666" stroke-width="0.4" />
<line x1="335.71" y1="369.30" x2="335.71" y2="370.10" stroke="#666" stroke-width="0.4" />
<line x1="340.39" y1="369.30" x2="340.39" y2="370.10" stroke="#666" stroke-width="0.4" />
<line x1="345.07" y1="369.30" x2="345.07" y2="370.10" stroke="#666" stroke-width="0.4" />
<line x1="349.75" y1="369.30" x2="349.75" y2="370.10" stroke="#666" stroke-width="0.4" />
<line x1="354.43" y1="369.30" x2="354.43" y2="370.10" stroke="#666" stroke-width="0.4" />
<line x1="359.11" y1="369.30" x2="359.11" y2="370.10" stroke="#666" stroke-width="0.4" />
<line x1="363.79" y1="369.30" x2="363.79" y2="370.10" stroke="#666" stroke-width="0.4" />
<line x1="368.46" y1="369.30" x2="368.46" y2="370.10" stroke="#666" stroke-width="0.4" />
<line x1="373.14" y1="369.30" x2="373.14" y2="370.10" stroke="#666" stroke-width="0.4" />
<line x1="377.82" y1="369.30" x2="377.82" y2="370.10" stroke="#666" stroke-width="0.4" />
<line x1="317.00" y1="343.50" x2="382.50" y2="343.50" stroke="#5a5a5a" stroke-width="1.45" />
<line x1="342.40" y1="304.00" x2="342.40" y2="369.30" stroke="#5a5a5a" stroke-width="1.45" />
<rect x="342.40" y="313.30" width="24.00" height="30.20" fill="none" stroke="#444" stroke-width="0.7" />
<rect x="342.40" y="343.50" width="20.00" height="22.60" fill="none" stroke="#444" stroke-width="0.7" />
<line x1="324.20" y1="344.50" x2="324.20" y2="359.50" stroke="#888" stroke-width="0.5" />
<line x1="326.00" y1="362.50" x2="340.50" y2="362.50" stroke="#666" stroke-width="0.5" />
<text transform="translate(320.80,317.80)" font-size="5.8" text-anchor="start" font-weight="normal" font-style="normal" fill="#BA2453" color="#BA2453" style="stroke-width:0.18px">GMP</text>
<text transform="translate(320.80,324.50)" font-size="5.8" text-anchor="start" font-weight="normal" font-style="normal" fill="#BA2453" color="#BA2453" style="stroke-width:0.18px">13.2%</text>
<text x="319.00" y="307.20" font-size="3.0" text-anchor="start" fill="#333" color="#333" style="stroke-width:0.12px">Q1</text>
<text x="319.00" y="310.50" font-size="3.0" text-anchor="start" fill="#333" color="#333" style="stroke-width:0.12px">43.5</text>
<text x="375.00" y="307.20" font-size="3.0" text-anchor="start" fill="#333" color="#333" style="stroke-width:0.12px">Q2</text>
<text x="375.00" y="310.50" font-size="3.0" text-anchor="start" fill="#333" color="#333" style="stroke-width:0.12px">13.2</text>
<text x="368.20" y="321.50" font-size="3.0" text-anchor="start" fill="#333" color="#333" style="stroke-width:0.12px">GMP</text>
<text x="368.90" y="325.00" font-size="3.0" text-anchor="start" fill="#333" color="#333" style="stroke-width:0.12px">13.2</text>
<text x="363.90" y="348.20" font-size="3.0" text-anchor="start" fill="#333" color="#333" style="stroke-width:0.12px">CMP</text>
<text x="364.40" y="351.70" font-size="3.0" text-anchor="start" fill="#333" color="#333" style="stroke-width:0.12px">3.02</text>
<text x="375.00" y="361.00" font-size="3.0" text-anchor="start" fill="#333" color="#333" style="stroke-width:0.12px">Q3</text>
<text x="375.00" y="364.50" font-size="3.0" text-anchor="start" fill="#333" color="#333" style="stroke-width:0.12px">3.02</text>
<text x="319.00" y="361.50" font-size="3.0" text-anchor="start" fill="#333" color="#333" style="stroke-width:0.12px">Q4</text>
<text x="319.00" y="365.00" font-size="3.0" text-anchor="start" fill="#333" color="#333" style="stroke-width:0.12px">41.8</text>
<text x="330.00" y="361.50" font-size="3.0" text-anchor="start" fill="#333" color="#333" style="stroke-width:0.12px">MEP</text>
<text x="330.50" y="365.00" font-size="3.0" text-anchor="start" fill="#333" color="#333" style="stroke-width:0.12px">41.8</text>
<rect x="315.40" y="352.80" width="1.2" height="2.2" rx="0.5" fill="#000"/>
<rect x="330.50" y="369.60" width="3" height="1.1" rx="0.5" fill="#000"/>
<text transform="translate(349.40,298.50)" font-size="9" text-anchor="middle" font-weight="normal" font-style="italic" fill="#111" color="#111" style="stroke-width:0.05px">Shp2<tspan font-size="6.5" dy="-0.6">*</tspan><tspan dy="0.6">M</tspan></text>
<g clip-path="url(#clipE0)">
<path d="M78.7,409.0h0.01M75.8,416.5h0.01M81.1,418.6h0.01M68.9,412.1h0.01M96.9,408.9h0.01M86.9,416.0h0.01M77.9,429.9h0.01M78.3,423.8h0.01M73.7,404.1h0.01M97.3,414.5h0.01M70.5,413.1h0.01M83.0,422.8h0.01M72.1,408.5h0.01M100.2,422.9h0.01M73.6,411.6h0.01M80.1,421.1h0.01M88.8,426.0h0.01M95.6,416.7h0.01M92.9,423.0h0.01M93.6,415.5h0.01M94.4,422.0h0.01M98.7,405.8h0.01M97.2,402.3h0.01M93.8,418.6h0.01M84.9,429.2h0.01M87.4,413.9h0.01M94.4,426.6h0.01M88.5,412.8h0.01M83.4,415.0h0.01M92.4,410.4h0.01M81.4,417.7h0.01M81.2,411.2h0.01M94.5,426.0h0.01M85.0,414.6h0.01M74.6,410.7h0.01M73.3,418.3h0.01M87.7,404.7h0.01M98.9,411.3h0.01M96.3,425.7h0.01M100.1,407.9h0.01" stroke="#6070C8" stroke-width="0.6" stroke-linecap="round" opacity="0.3"/>
<path d="M73.0,447.6h0.01M87.8,444.8h0.01M78.8,443.3h0.01M95.6,442.2h0.01M63.2,442.1h0.01M78.0,444.3h0.01M83.2,442.0h0.01M80.3,447.8h0.01M76.4,450.6h0.01M82.3,441.4h0.01M90.9,446.4h0.01M79.0,446.9h0.01M73.8,441.9h0.01M93.1,443.9h0.01M77.3,446.2h0.01M91.8,444.6h0.01M74.1,443.7h0.01M88.5,447.0h0.01M97.8,443.9h0.01M82.7,444.6h0.01M93.6,441.9h0.01M94.3,436.5h0.01M91.0,442.7h0.01M88.8,446.8h0.01M78.1,444.4h0.01M87.4,446.5h0.01M79.8,441.7h0.01M73.3,452.3h0.01M84.5,444.0h0.01M76.1,447.5h0.01M82.3,449.0h0.01M91.3,444.8h0.01M90.5,441.4h0.01M83.7,443.0h0.01M77.5,444.8h0.01M84.9,449.0h0.01M64.0,442.7h0.01M79.8,443.3h0.01M88.5,445.9h0.01M86.0,443.3h0.01M89.0,445.8h0.01M73.8,443.9h0.01M76.9,441.2h0.01M86.8,444.9h0.01M86.5,442.1h0.01M84.5,442.0h0.01M88.3,446.8h0.01M97.2,448.5h0.01M80.6,443.3h0.01M79.7,445.6h0.01M98.7,446.8h0.01M71.5,440.9h0.01M77.4,446.2h0.01M85.8,445.6h0.01M97.4,442.2h0.01M80.3,450.6h0.01M88.0,442.4h0.01M72.6,440.1h0.01M69.9,444.9h0.01M86.1,447.7h0.01M84.9,442.6h0.01M81.0,450.4h0.01M74.3,445.2h0.01M86.0,446.6h0.01M83.2,446.2h0.01M91.1,444.3h0.01M82.8,444.1h0.01M79.5,444.1h0.01M83.8,445.3h0.01M94.5,448.6h0.01M82.9,446.5h0.01M87.7,447.0h0.01M85.9,445.5h0.01M82.8,442.3h0.01M91.5,448.6h0.01M90.1,446.0h0.01M87.5,443.3h0.01M74.2,446.7h0.01M87.1,443.0h0.01M79.5,448.5h0.01M74.1,450.0h0.01M90.0,451.8h0.01M81.1,444.6h0.01M82.5,445.2h0.01M84.4,442.5h0.01M92.8,442.3h0.01M82.5,446.4h0.01M82.3,443.4h0.01M88.1,443.6h0.01M77.7,444.4h0.01M84.4,449.8h0.01M78.7,447.6h0.01M80.7,443.6h0.01M83.7,445.5h0.01M91.4,449.9h0.01M81.7,448.7h0.01M92.3,447.1h0.01M80.9,447.4h0.01M85.1,445.8h0.01M84.1,446.7h0.01M93.0,448.1h0.01M84.5,447.7h0.01M95.2,441.9h0.01M95.4,440.7h0.01M89.3,446.5h0.01M95.4,445.5h0.01M82.7,442.3h0.01M77.7,447.0h0.01M84.3,442.5h0.01M89.3,442.4h0.01M83.0,443.3h0.01M96.6,449.1h0.01M84.8,440.0h0.01M87.6,444.9h0.01M88.1,446.4h0.01M83.7,447.5h0.01M91.2,445.3h0.01M83.2,443.3h0.01M90.3,441.4h0.01M84.8,442.5h0.01M76.7,446.5h0.01M85.6,444.8h0.01M91.5,440.2h0.01M85.4,445.6h0.01M91.2,441.4h0.01M90.5,445.4h0.01M94.6,448.1h0.01M89.4,451.1h0.01M85.8,443.4h0.01M83.6,441.9h0.01M85.6,439.1h0.01M85.3,446.0h0.01M92.2,443.7h0.01M94.8,442.7h0.01M84.9,439.1h0.01M80.9,442.3h0.01M95.3,446.3h0.01M78.8,446.3h0.01M88.9,444.0h0.01M85.9,443.8h0.01M82.4,439.5h0.01M85.2,448.5h0.01M94.9,443.9h0.01M81.1,444.1h0.01M91.5,445.7h0.01M82.1,445.8h0.01M84.5,446.2h0.01M83.2,440.4h0.01M86.2,446.9h0.01M78.8,444.4h0.01M91.4,443.6h0.01M81.7,450.6h0.01M91.1,447.7h0.01M79.8,449.5h0.01M75.3,443.2h0.01M90.5,448.6h0.01M79.9,442.8h0.01M87.0,439.1h0.01M89.8,446.3h0.01M83.0,446.3h0.01M90.7,445.6h0.01M89.1,449.1h0.01M82.8,445.2h0.01M82.5,447.7h0.01M83.2,446.1h0.01M86.7,444.9h0.01M96.6,444.5h0.01M94.7,447.1h0.01M94.1,444.2h0.01M91.6,446.9h0.01" stroke="#6070C8" stroke-width="0.6" stroke-linecap="round" opacity="0.5"/>
<path d="M73.2,443.7h0.01M75.5,443.1h0.01M82.4,441.8h0.01M68.0,439.8h0.01M74.0,442.0h0.01M76.2,444.3h0.01M84.6,443.8h0.01M78.4,441.8h0.01M79.0,445.8h0.01M82.6,439.4h0.01M80.4,446.3h0.01M80.1,440.3h0.01M74.7,444.3h0.01M78.2,441.6h0.01M71.9,445.1h0.01M69.7,446.0h0.01M76.2,443.8h0.01M69.7,442.1h0.01M79.5,440.4h0.01M86.1,440.5h0.01M70.3,443.3h0.01M78.5,444.6h0.01M74.4,442.8h0.01M75.0,442.1h0.01M63.8,445.0h0.01M77.4,443.5h0.01M73.1,443.7h0.01M76.1,443.1h0.01M81.5,439.9h0.01M77.4,441.2h0.01M74.6,446.1h0.01M70.9,443.0h0.01M73.3,445.0h0.01M71.4,440.0h0.01M78.6,442.5h0.01M74.6,445.3h0.01M71.9,442.5h0.01M76.9,444.0h0.01M73.7,445.2h0.01M86.9,442.4h0.01M85.1,439.1h0.01M82.9,442.5h0.01M76.8,442.5h0.01M73.1,440.7h0.01M74.3,445.7h0.01M81.6,442.5h0.01M73.6,441.9h0.01M70.4,446.7h0.01M79.3,443.4h0.01M73.8,441.2h0.01M82.5,444.7h0.01M71.6,445.1h0.01M70.8,444.4h0.01M71.5,442.4h0.01M78.5,444.0h0.01M81.0,441.6h0.01M83.7,445.8h0.01M76.1,444.1h0.01M72.4,442.9h0.01M69.8,443.4h0.01" stroke="#6070C8" stroke-width="0.6" stroke-linecap="round" opacity="0.5"/>
<path d="M66.7,439.6h0.01M67.4,434.5h0.01M66.2,424.5h0.01M66.2,428.8h0.01M64.6,434.1h0.01M65.0,421.8h0.01M66.5,421.8h0.01M68.1,425.8h0.01M68.0,438.0h0.01M66.0,430.5h0.01M67.7,423.5h0.01M66.6,421.3h0.01M66.6,423.3h0.01M66.6,436.3h0.01M67.8,428.0h0.01M66.7,434.9h0.01M66.2,416.5h0.01M67.6,417.7h0.01M67.4,417.4h0.01M68.3,416.7h0.01M67.3,441.1h0.01M65.6,441.0h0.01M65.7,409.8h0.01M67.2,433.4h0.01M66.3,402.5h0.01M66.4,423.8h0.01M66.1,423.9h0.01M64.8,421.3h0.01M68.2,441.5h0.01M66.2,419.9h0.01M66.9,436.9h0.01M67.2,415.5h0.01M66.7,428.0h0.01M67.9,438.2h0.01M67.0,438.4h0.01M66.1,441.5h0.01M66.1,430.5h0.01M67.4,417.9h0.01M65.8,409.8h0.01M66.7,426.2h0.01M66.2,431.5h0.01M64.5,426.5h0.01M66.6,424.1h0.01M67.3,443.5h0.01M66.1,417.7h0.01M65.9,427.6h0.01M67.1,418.4h0.01M67.5,416.9h0.01M67.3,430.8h0.01M66.9,447.4h0.01M66.2,425.1h0.01M67.0,435.0h0.01M65.2,429.3h0.01M65.8,432.8h0.01M67.8,427.2h0.01M66.4,428.5h0.01M63.7,434.1h0.01M67.0,428.3h0.01M66.1,419.7h0.01M66.3,438.3h0.01" stroke="#6070C8" stroke-width="0.6" stroke-linecap="round" opacity="0.5"/>
<rect x="65.20" y="408.20" width="2.6" height="37.00" rx="1.2" fill="#3A68D0" opacity="0.8" filter="url(#g4)"/>
<path d="M66.50,440.20 L85.80,442.70 L87.80,447.20 L66.50,444.20 Z" fill="#3A6AD0" opacity="0.5" filter="url(#g8)"/>
<rect x="64.90" y="408.40" width="3.20" height="17.00" rx="1.60" fill="#3C6AD0" opacity="0.75" filter="url(#g4)"/>
<rect x="65.19" y="410.10" width="2.62" height="13.60" rx="1.31" fill="#3AA0D8" opacity="0.75" filter="url(#g4)"/>
<rect x="65.41" y="411.63" width="2.18" height="10.54" rx="1.09" fill="#5CC878" opacity="0.85" filter="url(#g4)"/>
<rect x="65.70" y="413.33" width="1.60" height="7.14" rx="0.80" fill="#D8E040" opacity="0.90" filter="url(#g4)"/>
<rect x="64.90" y="437.90" width="3.20" height="7.60" rx="1.60" fill="#3C6AD0" opacity="0.75" filter="url(#g4)"/>
<rect x="65.19" y="438.66" width="2.62" height="6.08" rx="1.31" fill="#3AA0D8" opacity="0.75" filter="url(#g4)"/>
<rect x="65.41" y="439.34" width="2.18" height="4.71" rx="1.09" fill="#5CC878" opacity="0.85" filter="url(#g4)"/>
<rect x="65.70" y="440.10" width="1.60" height="3.19" rx="0.80" fill="#D8E040" opacity="0.90" filter="url(#g4)"/>
<rect x="65.99" y="440.86" width="1.02" height="1.67" rx="0.51" fill="#F0A030" opacity="0.90" filter="url(#g4)"/>
<ellipse cx="85.80" cy="444.70" rx="7.00" ry="3.20" transform="rotate(15 85.80 444.70)" fill="#3450C0" opacity="0.3" filter="url(#g6)"/>
<ellipse cx="85.80" cy="444.70" rx="5.46" ry="2.50" transform="rotate(15 85.80 444.70)" fill="#3C8CDC" opacity="0.5" filter="url(#g6)"/>
</g>
<rect x="51.50" y="392.20" width="65.50" height="65.20" fill="none" stroke="#999" stroke-width="1.0" />
<text x="47.10" y="400.60" font-size="6.3" text-anchor="end" fill="#111" color="#111">10<tspan dy="-2.7" font-size="4.28">5</tspan></text>
<line x1="50.00" y1="398.30" x2="51.50" y2="398.30" stroke="#000" stroke-width="0.7" />
<text x="47.10" y="415.60" font-size="6.3" text-anchor="end" fill="#111" color="#111">10<tspan dy="-2.7" font-size="4.28">4</tspan></text>
<line x1="50.00" y1="413.30" x2="51.50" y2="413.30" stroke="#000" stroke-width="0.7" />
<text x="47.10" y="433.20" font-size="6.3" text-anchor="end" fill="#111" color="#111">10<tspan dy="-2.7" font-size="4.28">3</tspan></text>
<line x1="50.00" y1="430.90" x2="51.50" y2="430.90" stroke="#000" stroke-width="0.7" />
<text transform="translate(46.20,445.00)" font-size="6.3" text-anchor="end" font-weight="normal" font-style="normal" fill="#111" color="#111">0</text>
<line x1="50.00" y1="442.70" x2="51.50" y2="442.70" stroke="#000" stroke-width="0.7" />
<text x="47.10" y="455.50" font-size="6.3" text-anchor="end" fill="#111" color="#111">&#8722;10<tspan dy="-2.7" font-size="4.28">3</tspan></text>
<line x1="50.00" y1="453.20" x2="51.50" y2="453.20" stroke="#000" stroke-width="0.7" />
<line x1="50.70" y1="396.86" x2="51.50" y2="396.86" stroke="#666" stroke-width="0.4" />
<line x1="50.70" y1="401.51" x2="51.50" y2="401.51" stroke="#666" stroke-width="0.4" />
<line x1="50.70" y1="406.17" x2="51.50" y2="406.17" stroke="#666" stroke-width="0.4" />
<line x1="50.70" y1="410.83" x2="51.50" y2="410.83" stroke="#666" stroke-width="0.4" />
<line x1="50.70" y1="415.49" x2="51.50" y2="415.49" stroke="#666" stroke-width="0.4" />
<line x1="50.70" y1="420.14" x2="51.50" y2="420.14" stroke="#666" stroke-width="0.4" />
<line x1="50.70" y1="424.80" x2="51.50" y2="424.80" stroke="#666" stroke-width="0.4" />
<line x1="50.70" y1="429.46" x2="51.50" y2="429.46" stroke="#666" stroke-width="0.4" />
<line x1="50.70" y1="434.11" x2="51.50" y2="434.11" stroke="#666" stroke-width="0.4" />
<line x1="50.70" y1="438.77" x2="51.50" y2="438.77" stroke="#666" stroke-width="0.4" />
<line x1="50.70" y1="443.43" x2="51.50" y2="443.43" stroke="#666" stroke-width="0.4" />
<line x1="50.70" y1="448.09" x2="51.50" y2="448.09" stroke="#666" stroke-width="0.4" />
<line x1="50.70" y1="452.74" x2="51.50" y2="452.74" stroke="#666" stroke-width="0.4" />
<text x="55.35" y="467.00" font-size="6.3" text-anchor="middle" fill="#111" color="#111">&#8722;10<tspan dy="-2.7" font-size="4.28">3</tspan></text>
<line x1="55.35" y1="457.40" x2="55.35" y2="458.90" stroke="#000" stroke-width="0.7" />
<text transform="translate(68.30,467.00)" font-size="6.3" text-anchor="middle" font-weight="normal" font-style="normal" fill="#111" color="#111">0</text>
<line x1="68.30" y1="457.40" x2="68.30" y2="458.90" stroke="#000" stroke-width="0.7" />
<text x="77.40" y="467.00" font-size="6.3" text-anchor="middle" fill="#111" color="#111">10<tspan dy="-2.7" font-size="4.28">3</tspan></text>
<line x1="77.40" y1="457.40" x2="77.40" y2="458.90" stroke="#000" stroke-width="0.7" />
<text x="95.25" y="467.00" font-size="6.3" text-anchor="middle" fill="#111" color="#111">10<tspan dy="-2.7" font-size="4.28">4</tspan></text>
<line x1="95.25" y1="457.40" x2="95.25" y2="458.90" stroke="#000" stroke-width="0.7" />
<text x="111.50" y="467.00" font-size="6.3" text-anchor="middle" fill="#111" color="#111">10<tspan dy="-2.7" font-size="4.28">5</tspan></text>
<line x1="111.50" y1="457.40" x2="111.50" y2="458.90" stroke="#000" stroke-width="0.7" />
<line x1="56.18" y1="457.40" x2="56.18" y2="458.20" stroke="#666" stroke-width="0.4" />
<line x1="60.86" y1="457.40" x2="60.86" y2="458.20" stroke="#666" stroke-width="0.4" />
<line x1="65.54" y1="457.40" x2="65.54" y2="458.20" stroke="#666" stroke-width="0.4" />
<line x1="70.21" y1="457.40" x2="70.21" y2="458.20" stroke="#666" stroke-width="0.4" />
<line x1="74.89" y1="457.40" x2="74.89" y2="458.20" stroke="#666" stroke-width="0.4" />
<line x1="79.57" y1="457.40" x2="79.57" y2="458.20" stroke="#666" stroke-width="0.4" />
<line x1="84.25" y1="457.40" x2="84.25" y2="458.20" stroke="#666" stroke-width="0.4" />
<line x1="88.93" y1="457.40" x2="88.93" y2="458.20" stroke="#666" stroke-width="0.4" />
<line x1="93.61" y1="457.40" x2="93.61" y2="458.20" stroke="#666" stroke-width="0.4" />
<line x1="98.29" y1="457.40" x2="98.29" y2="458.20" stroke="#666" stroke-width="0.4" />
<line x1="102.96" y1="457.40" x2="102.96" y2="458.20" stroke="#666" stroke-width="0.4" />
<line x1="107.64" y1="457.40" x2="107.64" y2="458.20" stroke="#666" stroke-width="0.4" />
<line x1="112.32" y1="457.40" x2="112.32" y2="458.20" stroke="#666" stroke-width="0.4" />
<line x1="51.50" y1="431.80" x2="117.00" y2="431.80" stroke="#5a5a5a" stroke-width="1.45" />
<line x1="74.10" y1="392.20" x2="74.10" y2="457.40" stroke="#5a5a5a" stroke-width="1.45" />
<text transform="translate(76.20,403.10)" font-size="5.7" text-anchor="start" font-weight="normal" font-style="normal" fill="#BA2453" color="#BA2453" style="stroke-width:0.18px">B cells</text>
<text transform="translate(76.20,410.10)" font-size="5.7" text-anchor="start" font-weight="normal" font-style="normal" fill="#BA2453" color="#BA2453" style="stroke-width:0.18px">50.6%</text>
<text transform="translate(106.50,437.30)" font-size="5.7" text-anchor="middle" font-weight="normal" font-style="normal" fill="#BA2453" color="#BA2453" style="stroke-width:0.18px">Myeloid cells</text>
<text transform="translate(107.00,443.90)" font-size="5.7" text-anchor="middle" font-weight="normal" font-style="normal" fill="#BA2453" color="#BA2453" style="stroke-width:0.18px">9.78%</text>
<text x="53.50" y="396.00" font-size="3.0" text-anchor="start" fill="#333" color="#333" style="stroke-width:0.12px">Q1</text>
<text x="53.50" y="399.50" font-size="3.0" text-anchor="start" fill="#333" color="#333" style="stroke-width:0.12px">50.6</text>
<text x="109.50" y="396.00" font-size="3.0" text-anchor="start" fill="#333" color="#333" style="stroke-width:0.12px">Q2</text>
<text x="109.50" y="399.50" font-size="3.0" text-anchor="start" fill="#333" color="#333" style="stroke-width:0.12px">0.28</text>
<text x="53.50" y="450.20" font-size="3.0" text-anchor="start" fill="#333" color="#333" style="stroke-width:0.12px">Q4</text>
<text x="53.50" y="453.70" font-size="3.0" text-anchor="start" fill="#333" color="#333" style="stroke-width:0.12px">39.3</text>
<text x="109.50" y="450.20" font-size="3.0" text-anchor="start" fill="#333" color="#333" style="stroke-width:0.12px">Q3</text>
<text x="109.50" y="453.70" font-size="3.0" text-anchor="start" fill="#333" color="#333" style="stroke-width:0.12px">9.78</text>
<rect x="49.90" y="441.60" width="1.2" height="2.2" rx="0.5" fill="#000"/>
<rect x="65.00" y="457.70" width="3" height="1.1" rx="0.5" fill="#000"/>
<g clip-path="url(#clipE1)">
<path d="M166.6,418.1h0.01M175.4,429.0h0.01M190.7,403.2h0.01M176.5,423.8h0.01M186.8,423.9h0.01M178.9,420.0h0.01M170.0,410.1h0.01M184.2,426.6h0.01M189.0,421.3h0.01M168.0,423.6h0.01M182.4,416.4h0.01M179.0,412.0h0.01M176.2,413.6h0.01M160.0,411.6h0.01M168.7,429.9h0.01M173.9,412.5h0.01M166.0,408.8h0.01M169.5,406.0h0.01M158.2,426.6h0.01M173.0,414.7h0.01M176.8,410.7h0.01M163.6,404.1h0.01M167.9,410.8h0.01M182.0,417.6h0.01M188.9,411.7h0.01M188.4,418.5h0.01M160.6,407.2h0.01M177.2,429.8h0.01M169.8,423.9h0.01M172.1,426.5h0.01M160.2,415.8h0.01M187.7,409.9h0.01M166.5,402.8h0.01M163.4,409.7h0.01M181.2,408.3h0.01M171.2,407.8h0.01M177.9,426.4h0.01M179.4,407.7h0.01M182.2,429.2h0.01M177.8,404.4h0.01" stroke="#6070C8" stroke-width="0.6" stroke-linecap="round" opacity="0.3"/>
<path d="M177.5,438.5h0.01M170.8,445.6h0.01M175.8,447.6h0.01M179.3,441.2h0.01M176.7,443.2h0.01M167.7,448.6h0.01M168.8,441.7h0.01M170.2,441.7h0.01M179.0,445.3h0.01M181.5,445.4h0.01M168.9,447.2h0.01M168.6,442.9h0.01M171.7,444.3h0.01M180.2,442.5h0.01M174.9,444.1h0.01M164.8,441.0h0.01M171.3,445.4h0.01M174.7,445.6h0.01M173.0,442.9h0.01M175.4,441.3h0.01M164.3,443.2h0.01M163.7,442.7h0.01M168.0,442.6h0.01M172.4,441.9h0.01M170.1,439.3h0.01M173.6,441.7h0.01M175.2,436.0h0.01M167.7,444.9h0.01M157.4,443.2h0.01M173.3,444.5h0.01M163.3,444.9h0.01M173.6,441.4h0.01M177.4,444.1h0.01M172.8,442.9h0.01M176.1,444.5h0.01M179.8,445.5h0.01M168.8,443.6h0.01M178.5,443.1h0.01M175.1,445.7h0.01M171.6,437.5h0.01M173.5,444.8h0.01M173.6,442.0h0.01M180.3,443.8h0.01M168.8,442.1h0.01M175.0,441.0h0.01M166.4,450.0h0.01M180.9,447.3h0.01M181.3,445.9h0.01M162.1,447.7h0.01M180.5,445.6h0.01M160.4,447.8h0.01M181.3,442.8h0.01M173.5,446.5h0.01M172.2,447.4h0.01M173.2,446.2h0.01M173.2,439.9h0.01M166.4,453.4h0.01M174.5,448.0h0.01M179.9,449.2h0.01M176.2,442.5h0.01M172.8,438.6h0.01M171.5,446.8h0.01M159.1,444.8h0.01M177.9,448.1h0.01M166.9,442.3h0.01M160.9,441.2h0.01M176.1,450.2h0.01M165.5,448.2h0.01M175.4,442.8h0.01M186.5,436.9h0.01M172.3,444.8h0.01M186.1,449.4h0.01M187.0,444.6h0.01M178.9,448.2h0.01M175.9,445.2h0.01M171.5,443.0h0.01M164.9,449.9h0.01M169.9,438.1h0.01M174.4,444.1h0.01M173.8,449.5h0.01M172.0,443.4h0.01M168.0,444.1h0.01M169.9,444.8h0.01M192.4,445.3h0.01M167.3,449.8h0.01M178.2,446.6h0.01M177.2,446.6h0.01M177.0,448.3h0.01M179.1,448.1h0.01M169.5,444.2h0.01M168.1,447.0h0.01M178.0,442.8h0.01M176.4,451.9h0.01M180.5,440.9h0.01M172.1,446.1h0.01M172.5,445.3h0.01M180.2,445.2h0.01M165.8,446.3h0.01M172.1,444.5h0.01M169.1,440.2h0.01M164.8,443.2h0.01M165.9,436.3h0.01M180.0,440.8h0.01M168.1,445.8h0.01M157.4,448.1h0.01M167.8,446.1h0.01M169.7,445.1h0.01M173.4,444.2h0.01M161.1,439.9h0.01M172.4,448.3h0.01M169.2,445.8h0.01M173.7,445.6h0.01M179.0,439.8h0.01M174.4,443.7h0.01M170.7,441.7h0.01M167.7,441.2h0.01M165.7,451.5h0.01M183.5,444.2h0.01M177.4,441.3h0.01M155.1,438.9h0.01M173.6,448.4h0.01M172.4,441.3h0.01M171.2,441.3h0.01M163.9,443.5h0.01M170.2,441.8h0.01M167.1,441.5h0.01M174.2,448.3h0.01M171.4,450.7h0.01M162.5,445.0h0.01M165.4,443.7h0.01M173.3,445.8h0.01M179.9,442.6h0.01M164.8,443.6h0.01M174.6,442.2h0.01M178.4,449.1h0.01M163.7,445.3h0.01M179.1,438.6h0.01M174.0,443.5h0.01M163.7,448.0h0.01M174.1,442.8h0.01M175.5,446.1h0.01M177.6,445.9h0.01M175.3,440.8h0.01M170.0,444.6h0.01M155.2,450.4h0.01M170.3,441.1h0.01M161.2,444.9h0.01M172.9,442.5h0.01M170.1,441.6h0.01M168.0,443.9h0.01M168.6,446.2h0.01M171.8,444.6h0.01M175.3,447.9h0.01M176.5,444.9h0.01M171.7,441.8h0.01M170.5,446.2h0.01M174.1,443.1h0.01M164.3,439.7h0.01M174.7,447.2h0.01M175.1,440.2h0.01M171.4,444.8h0.01M166.9,445.2h0.01M171.4,441.8h0.01M164.8,446.6h0.01M175.0,441.6h0.01M166.3,446.8h0.01M176.5,443.3h0.01M182.8,443.4h0.01M166.0,447.4h0.01M171.5,445.2h0.01" stroke="#6070C8" stroke-width="0.6" stroke-linecap="round" opacity="0.5"/>
<path d="M164.5,441.2h0.01M158.6,442.8h0.01M171.2,441.2h0.01M171.0,443.6h0.01M158.9,443.7h0.01M167.1,441.4h0.01M154.0,443.9h0.01M158.9,444.1h0.01M155.0,442.9h0.01M160.4,440.3h0.01M163.2,443.5h0.01M161.6,440.9h0.01M165.4,439.8h0.01M167.0,444.2h0.01M172.5,444.9h0.01M166.1,443.7h0.01M164.5,440.6h0.01M171.5,444.2h0.01M163.0,441.0h0.01M171.6,444.2h0.01M158.6,444.5h0.01M173.6,443.2h0.01M166.3,442.4h0.01M161.3,445.3h0.01M179.3,443.4h0.01M163.7,444.7h0.01M162.9,444.6h0.01M168.4,441.2h0.01M159.1,443.1h0.01M168.4,443.7h0.01M170.4,440.5h0.01M166.7,442.0h0.01M164.8,443.8h0.01M159.6,442.8h0.01M158.7,443.7h0.01M160.2,442.2h0.01M165.4,441.9h0.01M169.9,442.0h0.01M168.5,443.7h0.01M159.3,442.8h0.01M160.3,442.5h0.01M163.0,446.7h0.01M162.3,446.2h0.01M166.5,440.7h0.01M153.1,444.5h0.01M154.7,444.6h0.01M169.3,444.0h0.01M163.3,442.7h0.01M165.6,442.6h0.01M161.8,442.5h0.01M170.0,442.0h0.01M166.2,441.0h0.01M160.9,440.5h0.01M163.4,444.5h0.01M165.8,442.2h0.01M167.3,442.5h0.01M166.2,443.7h0.01M167.0,438.4h0.01M158.0,444.7h0.01M163.8,447.5h0.01" stroke="#6070C8" stroke-width="0.6" stroke-linecap="round" opacity="0.5"/>
<path d="M155.8,421.4h0.01M157.4,432.1h0.01M157.8,431.6h0.01M155.8,433.7h0.01M155.2,422.4h0.01M155.5,424.6h0.01M156.8,422.0h0.01M156.3,421.9h0.01M156.9,400.0h0.01M155.8,428.3h0.01M155.0,436.5h0.01M156.2,439.1h0.01M156.9,432.9h0.01M155.9,416.2h0.01M155.8,422.3h0.01M156.2,422.2h0.01M159.0,411.3h0.01M157.1,422.2h0.01M155.8,435.6h0.01M156.0,415.0h0.01M156.4,424.8h0.01M154.0,428.6h0.01M155.0,419.5h0.01M156.5,429.6h0.01M155.7,447.7h0.01M156.4,420.8h0.01M156.2,425.5h0.01M153.9,411.5h0.01M154.7,446.6h0.01M155.8,424.0h0.01M155.5,436.2h0.01M156.0,443.2h0.01M156.8,442.6h0.01M155.9,430.3h0.01M155.6,425.1h0.01M154.3,421.1h0.01M155.1,420.4h0.01M157.2,429.2h0.01M157.2,435.0h0.01M156.9,436.4h0.01M155.4,434.4h0.01M155.7,421.6h0.01M157.2,447.6h0.01M155.1,443.4h0.01M156.8,418.5h0.01M156.3,430.3h0.01M156.4,423.3h0.01M154.8,427.0h0.01M156.8,434.3h0.01M156.6,437.3h0.01M155.0,426.3h0.01M156.3,436.3h0.01M156.2,431.7h0.01M156.1,446.9h0.01M153.9,426.5h0.01M158.4,429.0h0.01M154.2,428.0h0.01M154.6,420.2h0.01M156.2,443.2h0.01M156.4,433.1h0.01" stroke="#6070C8" stroke-width="0.6" stroke-linecap="round" opacity="0.5"/>
<rect x="154.70" y="408.20" width="2.6" height="37.00" rx="1.2" fill="#3A68D0" opacity="0.8" filter="url(#g4)"/>
<path d="M156.00,440.20 L172.70,442.20 L174.70,446.70 L156.00,444.20 Z" fill="#3A6AD0" opacity="0.5" filter="url(#g8)"/>
<rect x="154.40" y="410.20" width="3.20" height="17.00" rx="1.60" fill="#3C6AD0" opacity="0.75" filter="url(#g4)"/>
<rect x="154.69" y="411.90" width="2.62" height="13.60" rx="1.31" fill="#3AA0D8" opacity="0.75" filter="url(#g4)"/>
<rect x="154.91" y="413.43" width="2.18" height="10.54" rx="1.09" fill="#5CC878" opacity="0.85" filter="url(#g4)"/>
<rect x="155.20" y="415.13" width="1.60" height="7.14" rx="0.80" fill="#D8E040" opacity="0.90" filter="url(#g4)"/>
<rect x="154.40" y="437.90" width="3.20" height="7.60" rx="1.60" fill="#3C6AD0" opacity="0.75" filter="url(#g4)"/>
<rect x="154.69" y="438.66" width="2.62" height="6.08" rx="1.31" fill="#3AA0D8" opacity="0.75" filter="url(#g4)"/>
<rect x="154.91" y="439.34" width="2.18" height="4.71" rx="1.09" fill="#5CC878" opacity="0.85" filter="url(#g4)"/>
<rect x="155.20" y="440.10" width="1.60" height="3.19" rx="0.80" fill="#D8E040" opacity="0.90" filter="url(#g4)"/>
<rect x="155.49" y="440.86" width="1.02" height="1.67" rx="0.51" fill="#F0A030" opacity="0.90" filter="url(#g4)"/>
<ellipse cx="172.70" cy="444.20" rx="7.00" ry="3.40" transform="rotate(15 172.70 444.20)" fill="#3450C0" opacity="0.3" filter="url(#g6)"/>
<ellipse cx="172.70" cy="444.20" rx="5.46" ry="2.65" transform="rotate(15 172.70 444.20)" fill="#3C8CDC" opacity="0.5" filter="url(#g6)"/>
<ellipse cx="172.70" cy="444.20" rx="4.20" ry="2.04" transform="rotate(15 172.70 444.20)" fill="#48C0A0" opacity="0.7" filter="url(#g6)"/>
<ellipse cx="172.70" cy="444.20" rx="3.15" ry="1.53" transform="rotate(15 172.70 444.20)" fill="#A8DC48" opacity="0.8" filter="url(#g6)"/>
</g>
<rect x="141.00" y="392.20" width="65.50" height="65.20" fill="none" stroke="#999" stroke-width="1.0" />
<text x="136.60" y="400.60" font-size="6.3" text-anchor="end" fill="#111" color="#111">10<tspan dy="-2.7" font-size="4.28">5</tspan></text>
<line x1="139.50" y1="398.30" x2="141.00" y2="398.30" stroke="#000" stroke-width="0.7" />
<text x="136.60" y="415.60" font-size="6.3" text-anchor="end" fill="#111" color="#111">10<tspan dy="-2.7" font-size="4.28">4</tspan></text>
<line x1="139.50" y1="413.30" x2="141.00" y2="413.30" stroke="#000" stroke-width="0.7" />
<text x="136.60" y="433.20" font-size="6.3" text-anchor="end" fill="#111" color="#111">10<tspan dy="-2.7" font-size="4.28">3</tspan></text>
<line x1="139.50" y1="430.90" x2="141.00" y2="430.90" stroke="#000" stroke-width="0.7" />
<text transform="translate(135.70,445.00)" font-size="6.3" text-anchor="end" font-weight="normal" font-style="normal" fill="#111" color="#111">0</text>
<line x1="139.50" y1="442.70" x2="141.00" y2="442.70" stroke="#000" stroke-width="0.7" />
<text x="136.60" y="455.50" font-size="6.3" text-anchor="end" fill="#111" color="#111">&#8722;10<tspan dy="-2.7" font-size="4.28">3</tspan></text>
<line x1="139.50" y1="453.20" x2="141.00" y2="453.20" stroke="#000" stroke-width="0.7" />
<line x1="140.20" y1="396.86" x2="141.00" y2="396.86" stroke="#666" stroke-width="0.4" />
<line x1="140.20" y1="401.51" x2="141.00" y2="401.51" stroke="#666" stroke-width="0.4" />
<line x1="140.20" y1="406.17" x2="141.00" y2="406.17" stroke="#666" stroke-width="0.4" />
<line x1="140.20" y1="410.83" x2="141.00" y2="410.83" stroke="#666" stroke-width="0.4" />
<line x1="140.20" y1="415.49" x2="141.00" y2="415.49" stroke="#666" stroke-width="0.4" />
<line x1="140.20" y1="420.14" x2="141.00" y2="420.14" stroke="#666" stroke-width="0.4" />
<line x1="140.20" y1="424.80" x2="141.00" y2="424.80" stroke="#666" stroke-width="0.4" />
<line x1="140.20" y1="429.46" x2="141.00" y2="429.46" stroke="#666" stroke-width="0.4" />
<line x1="140.20" y1="434.11" x2="141.00" y2="434.11" stroke="#666" stroke-width="0.4" />
<line x1="140.20" y1="438.77" x2="141.00" y2="438.77" stroke="#666" stroke-width="0.4" />
<line x1="140.20" y1="443.43" x2="141.00" y2="443.43" stroke="#666" stroke-width="0.4" />
<line x1="140.20" y1="448.09" x2="141.00" y2="448.09" stroke="#666" stroke-width="0.4" />
<line x1="140.20" y1="452.74" x2="141.00" y2="452.74" stroke="#666" stroke-width="0.4" />
<text x="144.85" y="467.00" font-size="6.3" text-anchor="middle" fill="#111" color="#111">&#8722;10<tspan dy="-2.7" font-size="4.28">3</tspan></text>
<line x1="144.85" y1="457.40" x2="144.85" y2="458.90" stroke="#000" stroke-width="0.7" />
<text transform="translate(157.80,467.00)" font-size="6.3" text-anchor="middle" font-weight="normal" font-style="normal" fill="#111" color="#111">0</text>
<line x1="157.80" y1="457.40" x2="157.80" y2="458.90" stroke="#000" stroke-width="0.7" />
<text x="166.90" y="467.00" font-size="6.3" text-anchor="middle" fill="#111" color="#111">10<tspan dy="-2.7" font-size="4.28">3</tspan></text>
<line x1="166.90" y1="457.40" x2="166.90" y2="458.90" stroke="#000" stroke-width="0.7" />
<text x="184.75" y="467.00" font-size="6.3" text-anchor="middle" fill="#111" color="#111">10<tspan dy="-2.7" font-size="4.28">4</tspan></text>
<line x1="184.75" y1="457.40" x2="184.75" y2="458.90" stroke="#000" stroke-width="0.7" />
<text x="201.00" y="467.00" font-size="6.3" text-anchor="middle" fill="#111" color="#111">10<tspan dy="-2.7" font-size="4.28">5</tspan></text>
<line x1="201.00" y1="457.40" x2="201.00" y2="458.90" stroke="#000" stroke-width="0.7" />
<line x1="145.68" y1="457.40" x2="145.68" y2="458.20" stroke="#666" stroke-width="0.4" />
<line x1="150.36" y1="457.40" x2="150.36" y2="458.20" stroke="#666" stroke-width="0.4" />
<line x1="155.04" y1="457.40" x2="155.04" y2="458.20" stroke="#666" stroke-width="0.4" />
<line x1="159.71" y1="457.40" x2="159.71" y2="458.20" stroke="#666" stroke-width="0.4" />
<line x1="164.39" y1="457.40" x2="164.39" y2="458.20" stroke="#666" stroke-width="0.4" />
<line x1="169.07" y1="457.40" x2="169.07" y2="458.20" stroke="#666" stroke-width="0.4" />
<line x1="173.75" y1="457.40" x2="173.75" y2="458.20" stroke="#666" stroke-width="0.4" />
<line x1="178.43" y1="457.40" x2="178.43" y2="458.20" stroke="#666" stroke-width="0.4" />
<line x1="183.11" y1="457.40" x2="183.11" y2="458.20" stroke="#666" stroke-width="0.4" />
<line x1="187.79" y1="457.40" x2="187.79" y2="458.20" stroke="#666" stroke-width="0.4" />
<line x1="192.46" y1="457.40" x2="192.46" y2="458.20" stroke="#666" stroke-width="0.4" />
<line x1="197.14" y1="457.40" x2="197.14" y2="458.20" stroke="#666" stroke-width="0.4" />
<line x1="201.82" y1="457.40" x2="201.82" y2="458.20" stroke="#666" stroke-width="0.4" />
<line x1="141.00" y1="431.80" x2="206.50" y2="431.80" stroke="#5a5a5a" stroke-width="1.45" />
<line x1="163.60" y1="392.20" x2="163.60" y2="457.40" stroke="#5a5a5a" stroke-width="1.45" />
<text transform="translate(165.70,403.10)" font-size="5.7" text-anchor="start" font-weight="normal" font-style="normal" fill="#BA2453" color="#BA2453" style="stroke-width:0.18px">B cells</text>
<text transform="translate(165.70,410.10)" font-size="5.7" text-anchor="start" font-weight="normal" font-style="normal" fill="#BA2453" color="#BA2453" style="stroke-width:0.18px">33.4%</text>
<text transform="translate(196.00,437.30)" font-size="5.7" text-anchor="middle" font-weight="normal" font-style="normal" fill="#BA2453" color="#BA2453" style="stroke-width:0.18px">Myeloid cells</text>
<text transform="translate(196.50,443.90)" font-size="5.7" text-anchor="middle" font-weight="normal" font-style="normal" fill="#BA2453" color="#BA2453" style="stroke-width:0.18px">28.1%</text>
<text x="143.00" y="396.00" font-size="3.0" text-anchor="start" fill="#333" color="#333" style="stroke-width:0.12px">Q1</text>
<text x="143.00" y="399.50" font-size="3.0" text-anchor="start" fill="#333" color="#333" style="stroke-width:0.12px">33.4</text>
<text x="199.00" y="396.00" font-size="3.0" text-anchor="start" fill="#333" color="#333" style="stroke-width:0.12px">Q2</text>
<text x="199.00" y="399.50" font-size="3.0" text-anchor="start" fill="#333" color="#333" style="stroke-width:0.12px">0.38</text>
<text x="143.00" y="450.20" font-size="3.0" text-anchor="start" fill="#333" color="#333" style="stroke-width:0.12px">Q4</text>
<text x="143.00" y="453.70" font-size="3.0" text-anchor="start" fill="#333" color="#333" style="stroke-width:0.12px">38.0</text>
<text x="199.00" y="450.20" font-size="3.0" text-anchor="start" fill="#333" color="#333" style="stroke-width:0.12px">Q3</text>
<text x="199.00" y="453.70" font-size="3.0" text-anchor="start" fill="#333" color="#333" style="stroke-width:0.12px">28.1</text>
<rect x="139.40" y="441.60" width="1.2" height="2.2" rx="0.5" fill="#000"/>
<rect x="154.50" y="457.70" width="3" height="1.1" rx="0.5" fill="#000"/>
<g clip-path="url(#clipE2)">
<path d="M248.4,413.2h0.01M264.5,410.4h0.01M276.8,404.6h0.01M266.5,408.7h0.01M267.0,424.2h0.01M270.9,403.9h0.01M255.5,419.0h0.01M279.8,403.4h0.01M267.8,421.6h0.01M274.3,411.8h0.01M274.1,415.1h0.01M277.8,402.5h0.01M278.4,413.7h0.01M260.8,404.7h0.01M255.5,422.7h0.01M269.8,406.4h0.01M258.8,406.1h0.01M253.9,408.4h0.01M258.3,429.5h0.01M280.3,424.4h0.01M263.2,416.1h0.01M273.1,427.6h0.01M272.2,420.0h0.01M254.0,419.7h0.01M275.3,424.2h0.01M250.4,422.3h0.01M258.9,406.7h0.01M279.3,421.0h0.01M272.0,406.0h0.01M274.7,428.4h0.01M277.3,423.1h0.01M274.9,424.7h0.01M266.9,414.4h0.01M274.6,424.2h0.01M276.1,410.6h0.01M279.1,417.1h0.01M278.6,405.4h0.01M279.4,424.2h0.01M255.7,425.7h0.01M255.1,407.7h0.01" stroke="#6070C8" stroke-width="0.6" stroke-linecap="round" opacity="0.3"/>
<path d="M259.8,445.8h0.01M250.2,445.5h0.01M260.4,440.9h0.01M255.5,448.5h0.01M267.1,440.8h0.01M275.7,443.2h0.01M262.1,445.9h0.01M257.3,440.5h0.01M259.7,448.6h0.01M270.4,440.6h0.01M271.9,445.3h0.01M267.5,445.3h0.01M267.0,442.3h0.01M258.7,443.2h0.01M262.1,447.0h0.01M256.8,449.8h0.01M260.4,443.5h0.01M268.8,446.5h0.01M262.3,442.1h0.01M258.1,440.6h0.01M271.6,448.3h0.01M276.1,446.6h0.01M266.5,447.4h0.01M270.4,444.5h0.01M266.6,451.4h0.01M253.8,441.1h0.01M258.4,447.4h0.01M271.8,444.2h0.01M268.6,445.1h0.01M266.3,443.6h0.01M264.2,445.2h0.01M271.5,451.6h0.01M253.0,446.7h0.01M264.4,448.0h0.01M271.0,447.5h0.01M269.5,442.5h0.01M253.7,450.0h0.01M272.0,442.4h0.01M272.5,447.1h0.01M249.0,447.8h0.01M258.2,448.6h0.01M260.1,443.1h0.01M254.7,444.6h0.01M270.8,443.3h0.01M252.8,451.4h0.01M276.0,447.2h0.01M261.0,441.7h0.01M254.1,446.8h0.01M272.5,442.1h0.01M264.4,444.4h0.01M262.8,446.7h0.01M277.5,443.4h0.01M269.7,448.3h0.01M262.6,444.8h0.01M256.0,448.3h0.01M261.1,443.3h0.01M264.8,442.7h0.01M257.9,444.3h0.01M273.7,444.6h0.01M267.7,441.0h0.01M252.2,450.5h0.01M261.9,440.7h0.01M263.7,447.0h0.01M253.6,442.6h0.01M266.0,442.5h0.01M269.4,448.0h0.01M267.2,444.0h0.01M264.1,443.4h0.01M263.6,446.1h0.01M262.5,448.0h0.01M280.7,443.6h0.01M266.6,447.6h0.01M268.4,444.5h0.01M261.4,448.1h0.01M268.3,446.7h0.01M259.4,447.0h0.01M269.4,444.7h0.01M268.5,451.5h0.01M252.6,447.0h0.01M257.0,441.2h0.01M262.9,446.8h0.01M264.7,441.8h0.01M255.4,443.6h0.01M264.5,442.8h0.01M255.0,450.3h0.01M259.1,444.7h0.01M261.0,443.5h0.01M264.7,444.3h0.01M268.3,441.8h0.01M255.1,450.9h0.01M263.9,447.4h0.01M271.8,446.8h0.01M264.6,440.7h0.01M254.3,448.0h0.01M268.7,446.9h0.01M254.0,439.0h0.01M257.8,441.8h0.01M265.4,442.2h0.01M274.4,443.4h0.01M260.9,447.7h0.01M266.5,442.6h0.01M269.6,450.8h0.01M256.7,444.5h0.01M257.6,439.6h0.01M268.3,447.2h0.01M270.5,446.4h0.01M251.7,445.1h0.01M260.2,441.8h0.01M257.4,447.4h0.01M262.5,450.9h0.01M267.4,439.6h0.01M270.0,448.8h0.01M264.6,441.7h0.01M275.6,441.4h0.01M263.9,439.6h0.01M256.5,440.2h0.01M271.3,448.6h0.01M261.8,441.2h0.01M264.0,446.3h0.01M254.7,441.8h0.01M263.8,447.3h0.01M264.9,446.5h0.01M256.5,437.9h0.01M266.4,442.5h0.01M263.6,444.1h0.01M267.4,442.9h0.01M273.6,445.3h0.01M267.8,447.0h0.01M271.0,446.4h0.01M253.3,443.4h0.01M276.2,446.6h0.01M268.0,446.6h0.01M260.3,443.2h0.01M260.3,448.6h0.01M266.7,450.4h0.01M267.6,450.7h0.01M267.3,441.7h0.01M275.5,446.2h0.01M272.0,445.8h0.01M262.3,445.7h0.01M257.3,441.7h0.01M258.7,443.7h0.01M255.8,444.9h0.01M266.3,451.2h0.01M276.1,445.1h0.01M270.0,444.6h0.01M266.9,445.1h0.01M261.0,445.4h0.01M255.0,446.5h0.01M262.6,442.0h0.01M262.1,446.8h0.01M260.1,446.6h0.01M268.0,449.8h0.01M257.5,444.9h0.01M267.7,449.6h0.01M266.1,447.4h0.01M255.0,443.5h0.01M275.0,444.4h0.01M278.2,443.0h0.01M262.6,440.5h0.01M268.5,446.0h0.01M277.3,445.7h0.01M262.8,441.0h0.01M263.9,448.0h0.01M269.1,448.8h0.01M269.9,445.1h0.01M268.3,445.7h0.01M255.9,450.3h0.01M266.8,442.1h0.01M266.9,446.1h0.01" stroke="#6070C8" stroke-width="0.6" stroke-linecap="round" opacity="0.5"/>
<path d="M259.8,446.1h0.01M239.9,444.3h0.01M262.5,441.3h0.01M245.7,443.8h0.01M256.6,443.9h0.01M249.4,442.3h0.01M255.9,444.7h0.01M265.7,443.8h0.01M251.9,438.5h0.01M260.2,442.9h0.01M254.4,441.2h0.01M258.5,439.6h0.01M255.4,443.4h0.01M256.4,445.8h0.01M254.4,443.4h0.01M259.1,440.1h0.01M253.5,443.3h0.01M259.6,441.6h0.01M258.9,444.0h0.01M247.5,440.3h0.01M247.8,443.5h0.01M255.9,444.6h0.01M259.0,442.1h0.01M260.2,444.8h0.01M257.2,444.2h0.01M248.5,443.9h0.01M249.8,440.8h0.01M253.2,443.5h0.01M254.6,442.5h0.01M249.9,443.6h0.01M251.2,440.4h0.01M255.4,446.1h0.01M252.9,441.1h0.01M261.8,446.6h0.01M253.4,442.8h0.01M256.0,449.1h0.01M255.6,445.2h0.01M257.1,439.6h0.01M249.4,440.7h0.01M257.1,443.4h0.01M263.8,442.7h0.01M256.4,443.3h0.01M255.6,447.8h0.01M256.3,446.1h0.01M261.4,442.0h0.01M258.3,442.4h0.01M255.4,443.5h0.01M255.0,442.3h0.01M262.7,442.7h0.01M258.4,446.5h0.01M258.0,445.2h0.01M261.8,445.4h0.01M263.5,440.4h0.01M264.7,443.3h0.01M246.2,441.9h0.01M247.9,443.2h0.01M247.5,441.2h0.01M256.4,443.5h0.01M250.9,442.7h0.01M254.4,443.3h0.01" stroke="#6070C8" stroke-width="0.6" stroke-linecap="round" opacity="0.5"/>
<path d="M245.4,423.5h0.01M246.3,409.7h0.01M244.9,427.0h0.01M245.0,420.2h0.01M245.0,427.8h0.01M246.6,423.8h0.01M245.1,429.3h0.01M245.2,406.4h0.01M245.7,421.9h0.01M244.8,432.0h0.01M245.4,420.1h0.01M243.2,408.5h0.01M245.4,424.5h0.01M245.8,427.9h0.01M244.9,413.1h0.01M244.3,424.3h0.01M244.3,433.3h0.01M244.1,407.8h0.01M245.2,408.0h0.01M247.0,415.8h0.01M245.3,423.3h0.01M244.6,408.0h0.01M243.5,434.3h0.01M246.4,447.3h0.01M243.9,431.3h0.01M245.4,434.2h0.01M244.9,432.9h0.01M246.3,431.8h0.01M246.8,424.0h0.01M246.9,418.7h0.01M247.1,398.2h0.01M245.4,417.7h0.01M245.4,436.0h0.01M246.1,426.6h0.01M247.1,410.9h0.01M244.6,440.8h0.01M245.7,405.0h0.01M245.7,413.9h0.01M246.9,437.1h0.01M244.9,438.6h0.01M244.6,434.9h0.01M246.0,424.4h0.01M244.0,422.9h0.01M243.1,420.1h0.01M243.5,437.9h0.01M244.4,401.4h0.01M246.0,429.4h0.01M244.9,446.9h0.01M246.2,426.4h0.01M244.8,396.1h0.01M245.9,435.3h0.01M244.8,411.6h0.01M245.4,409.0h0.01M245.4,433.4h0.01M246.9,428.4h0.01M245.6,433.2h0.01M246.8,422.5h0.01M244.2,417.8h0.01M244.1,416.8h0.01M245.3,429.1h0.01" stroke="#6070C8" stroke-width="0.6" stroke-linecap="round" opacity="0.5"/>
<rect x="244.10" y="406.20" width="2.6" height="39.00" rx="1.2" fill="#3A68D0" opacity="0.8" filter="url(#g4)"/>
<path d="M245.40,440.20 L264.40,443.20 L266.40,447.70 L245.40,444.20 Z" fill="#3A6AD0" opacity="0.5" filter="url(#g8)"/>
<rect x="243.80" y="407.70" width="3.20" height="17.00" rx="1.60" fill="#3C6AD0" opacity="0.75" filter="url(#g4)"/>
<rect x="244.09" y="409.40" width="2.62" height="13.60" rx="1.31" fill="#3AA0D8" opacity="0.75" filter="url(#g4)"/>
<rect x="244.31" y="410.93" width="2.18" height="10.54" rx="1.09" fill="#5CC878" opacity="0.85" filter="url(#g4)"/>
<rect x="244.60" y="412.63" width="1.60" height="7.14" rx="0.80" fill="#D8E040" opacity="0.90" filter="url(#g4)"/>
<rect x="243.80" y="437.90" width="3.20" height="7.60" rx="1.60" fill="#3C6AD0" opacity="0.75" filter="url(#g4)"/>
<rect x="244.09" y="438.66" width="2.62" height="6.08" rx="1.31" fill="#3AA0D8" opacity="0.75" filter="url(#g4)"/>
<rect x="244.31" y="439.34" width="2.18" height="4.71" rx="1.09" fill="#5CC878" opacity="0.85" filter="url(#g4)"/>
<rect x="244.60" y="440.10" width="1.60" height="3.19" rx="0.80" fill="#D8E040" opacity="0.90" filter="url(#g4)"/>
<rect x="244.89" y="440.86" width="1.02" height="1.67" rx="0.51" fill="#F0A030" opacity="0.90" filter="url(#g4)"/>
<ellipse cx="264.40" cy="445.20" rx="5.00" ry="2.20" transform="rotate(15 264.40 445.20)" fill="#3450C0" opacity="0.3" filter="url(#g6)"/>
</g>
<rect x="230.40" y="392.20" width="65.50" height="65.20" fill="none" stroke="#999" stroke-width="1.0" />
<text x="226.00" y="400.60" font-size="6.3" text-anchor="end" fill="#111" color="#111">10<tspan dy="-2.7" font-size="4.28">5</tspan></text>
<line x1="228.90" y1="398.30" x2="230.40" y2="398.30" stroke="#000" stroke-width="0.7" />
<text x="226.00" y="415.60" font-size="6.3" text-anchor="end" fill="#111" color="#111">10<tspan dy="-2.7" font-size="4.28">4</tspan></text>
<line x1="228.90" y1="413.30" x2="230.40" y2="413.30" stroke="#000" stroke-width="0.7" />
<text x="226.00" y="433.20" font-size="6.3" text-anchor="end" fill="#111" color="#111">10<tspan dy="-2.7" font-size="4.28">3</tspan></text>
<line x1="228.90" y1="430.90" x2="230.40" y2="430.90" stroke="#000" stroke-width="0.7" />
<text transform="translate(225.10,445.00)" font-size="6.3" text-anchor="end" font-weight="normal" font-style="normal" fill="#111" color="#111">0</text>
<line x1="228.90" y1="442.70" x2="230.40" y2="442.70" stroke="#000" stroke-width="0.7" />
<text x="226.00" y="455.50" font-size="6.3" text-anchor="end" fill="#111" color="#111">&#8722;10<tspan dy="-2.7" font-size="4.28">3</tspan></text>
<line x1="228.90" y1="453.20" x2="230.40" y2="453.20" stroke="#000" stroke-width="0.7" />
<line x1="229.60" y1="396.86" x2="230.40" y2="396.86" stroke="#666" stroke-width="0.4" />
<line x1="229.60" y1="401.51" x2="230.40" y2="401.51" stroke="#666" stroke-width="0.4" />
<line x1="229.60" y1="406.17" x2="230.40" y2="406.17" stroke="#666" stroke-width="0.4" />
<line x1="229.60" y1="410.83" x2="230.40" y2="410.83" stroke="#666" stroke-width="0.4" />
<line x1="229.60" y1="415.49" x2="230.40" y2="415.49" stroke="#666" stroke-width="0.4" />
<line x1="229.60" y1="420.14" x2="230.40" y2="420.14" stroke="#666" stroke-width="0.4" />
<line x1="229.60" y1="424.80" x2="230.40" y2="424.80" stroke="#666" stroke-width="0.4" />
<line x1="229.60" y1="429.46" x2="230.40" y2="429.46" stroke="#666" stroke-width="0.4" />
<line x1="229.60" y1="434.11" x2="230.40" y2="434.11" stroke="#666" stroke-width="0.4" />
<line x1="229.60" y1="438.77" x2="230.40" y2="438.77" stroke="#666" stroke-width="0.4" />
<line x1="229.60" y1="443.43" x2="230.40" y2="443.43" stroke="#666" stroke-width="0.4" />
<line x1="229.60" y1="448.09" x2="230.40" y2="448.09" stroke="#666" stroke-width="0.4" />
<line x1="229.60" y1="452.74" x2="230.40" y2="452.74" stroke="#666" stroke-width="0.4" />
<text x="234.25" y="467.00" font-size="6.3" text-anchor="middle" fill="#111" color="#111">&#8722;10<tspan dy="-2.7" font-size="4.28">3</tspan></text>
<line x1="234.25" y1="457.40" x2="234.25" y2="458.90" stroke="#000" stroke-width="0.7" />
<text transform="translate(247.20,467.00)" font-size="6.3" text-anchor="middle" font-weight="normal" font-style="normal" fill="#111" color="#111">0</text>
<line x1="247.20" y1="457.40" x2="247.20" y2="458.90" stroke="#000" stroke-width="0.7" />
<text x="256.30" y="467.00" font-size="6.3" text-anchor="middle" fill="#111" color="#111">10<tspan dy="-2.7" font-size="4.28">3</tspan></text>
<line x1="256.30" y1="457.40" x2="256.30" y2="458.90" stroke="#000" stroke-width="0.7" />
<text x="274.15" y="467.00" font-size="6.3" text-anchor="middle" fill="#111" color="#111">10<tspan dy="-2.7" font-size="4.28">4</tspan></text>
<line x1="274.15" y1="457.40" x2="274.15" y2="458.90" stroke="#000" stroke-width="0.7" />
<text x="290.40" y="467.00" font-size="6.3" text-anchor="middle" fill="#111" color="#111">10<tspan dy="-2.7" font-size="4.28">5</tspan></text>
<line x1="290.40" y1="457.40" x2="290.40" y2="458.90" stroke="#000" stroke-width="0.7" />
<line x1="235.08" y1="457.40" x2="235.08" y2="458.20" stroke="#666" stroke-width="0.4" />
<line x1="239.76" y1="457.40" x2="239.76" y2="458.20" stroke="#666" stroke-width="0.4" />
<line x1="244.44" y1="457.40" x2="244.44" y2="458.20" stroke="#666" stroke-width="0.4" />
<line x1="249.11" y1="457.40" x2="249.11" y2="458.20" stroke="#666" stroke-width="0.4" />
<line x1="253.79" y1="457.40" x2="253.79" y2="458.20" stroke="#666" stroke-width="0.4" />
<line x1="258.47" y1="457.40" x2="258.47" y2="458.20" stroke="#666" stroke-width="0.4" />
<line x1="263.15" y1="457.40" x2="263.15" y2="458.20" stroke="#666" stroke-width="0.4" />
<line x1="267.83" y1="457.40" x2="267.83" y2="458.20" stroke="#666" stroke-width="0.4" />
<line x1="272.51" y1="457.40" x2="272.51" y2="458.20" stroke="#666" stroke-width="0.4" />
<line x1="277.19" y1="457.40" x2="277.19" y2="458.20" stroke="#666" stroke-width="0.4" />
<line x1="281.86" y1="457.40" x2="281.86" y2="458.20" stroke="#666" stroke-width="0.4" />
<line x1="286.54" y1="457.40" x2="286.54" y2="458.20" stroke="#666" stroke-width="0.4" />
<line x1="291.22" y1="457.40" x2="291.22" y2="458.20" stroke="#666" stroke-width="0.4" />
<line x1="230.40" y1="431.80" x2="295.90" y2="431.80" stroke="#5a5a5a" stroke-width="1.45" />
<line x1="253.10" y1="392.20" x2="253.10" y2="457.40" stroke="#5a5a5a" stroke-width="1.45" />
<text transform="translate(255.10,403.10)" font-size="5.7" text-anchor="start" font-weight="normal" font-style="normal" fill="#BA2453" color="#BA2453" style="stroke-width:0.18px">B cells</text>
<text transform="translate(255.10,410.10)" font-size="5.7" text-anchor="start" font-weight="normal" font-style="normal" fill="#BA2453" color="#BA2453" style="stroke-width:0.18px">44.1%</text>
<text transform="translate(285.40,437.30)" font-size="5.7" text-anchor="middle" font-weight="normal" font-style="normal" fill="#BA2453" color="#BA2453" style="stroke-width:0.18px">Myeloid cells</text>
<text transform="translate(285.90,443.90)" font-size="5.7" text-anchor="middle" font-weight="normal" font-style="normal" fill="#BA2453" color="#BA2453" style="stroke-width:0.18px">3.51%</text>
<text x="232.40" y="396.00" font-size="3.0" text-anchor="start" fill="#333" color="#333" style="stroke-width:0.12px">Q1</text>
<text x="232.40" y="399.50" font-size="3.0" text-anchor="start" fill="#333" color="#333" style="stroke-width:0.12px">44.1</text>
<text x="288.40" y="396.00" font-size="3.0" text-anchor="start" fill="#333" color="#333" style="stroke-width:0.12px">Q2</text>
<text x="288.40" y="399.50" font-size="3.0" text-anchor="start" fill="#333" color="#333" style="stroke-width:0.12px">0.43</text>
<text x="232.40" y="450.20" font-size="3.0" text-anchor="start" fill="#333" color="#333" style="stroke-width:0.12px">Q4</text>
<text x="232.40" y="453.70" font-size="3.0" text-anchor="start" fill="#333" color="#333" style="stroke-width:0.12px">51.9</text>
<text x="288.40" y="450.20" font-size="3.0" text-anchor="start" fill="#333" color="#333" style="stroke-width:0.12px">Q3</text>
<text x="288.40" y="453.70" font-size="3.0" text-anchor="start" fill="#333" color="#333" style="stroke-width:0.12px">3.51</text>
<rect x="228.80" y="441.60" width="1.2" height="2.2" rx="0.5" fill="#000"/>
<rect x="243.90" y="457.70" width="3" height="1.1" rx="0.5" fill="#000"/>
<g clip-path="url(#clipE3)">
<path d="M336.3,402.6h0.01M346.0,406.2h0.01M337.8,416.0h0.01M366.1,421.5h0.01M343.1,423.7h0.01M340.0,405.0h0.01M344.1,413.7h0.01M356.9,414.7h0.01M358.1,404.9h0.01M364.9,411.8h0.01M361.6,403.1h0.01M361.4,408.5h0.01M362.3,424.7h0.01M356.2,410.0h0.01M334.4,407.5h0.01M364.0,406.6h0.01M355.9,418.6h0.01M355.9,407.3h0.01M338.8,404.9h0.01M366.5,412.9h0.01M355.6,418.1h0.01M341.5,404.0h0.01M334.6,426.1h0.01M338.4,429.2h0.01M346.1,422.4h0.01M338.7,424.3h0.01M342.4,412.5h0.01M351.4,405.3h0.01M342.3,424.5h0.01M343.5,412.9h0.01M359.3,408.5h0.01M340.5,408.3h0.01M346.8,412.4h0.01M355.3,415.4h0.01M362.8,403.6h0.01M356.0,425.6h0.01M341.8,403.0h0.01M348.6,405.4h0.01M349.3,422.1h0.01M337.2,405.5h0.01" stroke="#6070C8" stroke-width="0.6" stroke-linecap="round" opacity="0.3"/>
<path d="M346.1,446.4h0.01M350.9,449.4h0.01M351.9,447.0h0.01M345.4,448.8h0.01M357.7,444.7h0.01M354.3,447.1h0.01M349.8,442.3h0.01M361.5,440.6h0.01M352.1,445.1h0.01M357.5,444.9h0.01M350.4,448.0h0.01M353.1,444.6h0.01M354.5,447.4h0.01M356.5,444.7h0.01M349.8,445.0h0.01M344.7,447.0h0.01M352.8,450.5h0.01M348.0,447.4h0.01M357.5,445.9h0.01M350.5,446.6h0.01M345.6,443.2h0.01M357.3,446.7h0.01M349.6,442.5h0.01M350.9,449.7h0.01M342.6,443.5h0.01M357.3,450.5h0.01M360.2,444.5h0.01M354.0,444.0h0.01M353.5,445.1h0.01M351.4,450.2h0.01M352.3,445.5h0.01M350.5,447.0h0.01M346.8,446.8h0.01M354.0,450.9h0.01M336.8,442.6h0.01M342.1,448.8h0.01M365.9,446.8h0.01M350.9,449.6h0.01M334.3,445.7h0.01M330.0,446.7h0.01M346.8,444.8h0.01M352.3,444.5h0.01M357.3,446.2h0.01M352.6,453.8h0.01M347.2,449.0h0.01M344.8,449.9h0.01M356.3,446.6h0.01M356.5,451.0h0.01M359.0,446.2h0.01M349.7,449.5h0.01M340.6,444.4h0.01M353.2,447.9h0.01M362.1,451.4h0.01M352.2,447.5h0.01M341.6,445.6h0.01M351.8,445.5h0.01M350.5,448.0h0.01M344.0,444.5h0.01M338.7,449.6h0.01M343.3,441.1h0.01M355.1,445.6h0.01M356.3,445.1h0.01M363.8,448.3h0.01M351.1,446.5h0.01M348.8,448.6h0.01M363.0,444.9h0.01M343.1,448.0h0.01M357.0,441.8h0.01M345.7,443.2h0.01M353.7,447.7h0.01M345.4,442.9h0.01M354.5,440.1h0.01M354.2,445.7h0.01M362.4,449.1h0.01M346.4,445.4h0.01M348.3,444.0h0.01M350.6,449.1h0.01M340.4,445.5h0.01M359.7,448.4h0.01M344.9,443.8h0.01M344.6,441.5h0.01M357.5,446.4h0.01M345.6,442.0h0.01M347.6,444.7h0.01M361.1,444.8h0.01M350.8,449.4h0.01M354.4,445.7h0.01M336.1,450.3h0.01M353.9,444.9h0.01M349.5,443.4h0.01M344.4,441.8h0.01M353.3,447.7h0.01M351.2,448.5h0.01M353.5,446.6h0.01M344.5,447.9h0.01M357.7,448.1h0.01M358.1,444.8h0.01M343.8,449.9h0.01M346.4,446.9h0.01M348.9,446.3h0.01M348.4,444.6h0.01M338.7,451.8h0.01M351.4,440.5h0.01M344.3,442.9h0.01M345.4,438.7h0.01M353.8,451.0h0.01M348.5,448.4h0.01M353.9,442.5h0.01M357.9,441.2h0.01M346.4,445.1h0.01M358.1,446.5h0.01M349.3,443.8h0.01M350.7,446.3h0.01M354.8,450.3h0.01M354.8,446.3h0.01M349.1,450.9h0.01M351.4,446.2h0.01M361.5,450.8h0.01M353.7,445.9h0.01M346.1,449.3h0.01M347.2,449.0h0.01M345.1,446.5h0.01M352.7,446.6h0.01M351.6,447.3h0.01M343.0,442.9h0.01M349.2,451.5h0.01M349.3,443.5h0.01M345.9,446.3h0.01M357.6,444.5h0.01M353.7,446.7h0.01M347.8,443.4h0.01M349.1,444.1h0.01M353.5,441.0h0.01M357.3,448.4h0.01M353.8,450.6h0.01M353.9,441.2h0.01M350.4,447.5h0.01M345.8,442.9h0.01M352.8,447.7h0.01M347.4,445.5h0.01M346.9,444.5h0.01M349.7,449.3h0.01M339.9,445.2h0.01M360.3,447.1h0.01M351.1,448.6h0.01M343.7,442.7h0.01M339.6,441.9h0.01M351.7,448.7h0.01M347.5,444.2h0.01M352.7,448.0h0.01M351.7,440.6h0.01M346.6,438.8h0.01M351.6,443.7h0.01M345.9,450.6h0.01M358.5,447.6h0.01M351.8,446.7h0.01M346.4,446.1h0.01M362.2,443.6h0.01M345.9,446.7h0.01M355.7,448.6h0.01M344.0,445.8h0.01M348.4,442.6h0.01M350.6,444.8h0.01M355.9,447.5h0.01M345.2,446.4h0.01M347.8,444.3h0.01M347.0,449.3h0.01M347.5,441.2h0.01M345.2,448.6h0.01M363.7,443.1h0.01" stroke="#6070C8" stroke-width="0.6" stroke-linecap="round" opacity="0.5"/>
<path d="M339.4,442.6h0.01M334.3,444.0h0.01M340.9,443.7h0.01M352.0,442.7h0.01M345.0,444.8h0.01M338.0,442.0h0.01M348.7,444.6h0.01M341.8,441.1h0.01M345.4,444.2h0.01M351.8,446.1h0.01M345.0,443.7h0.01M341.4,442.1h0.01M342.6,443.7h0.01M344.3,445.3h0.01M342.6,442.1h0.01M345.0,446.2h0.01M337.0,444.0h0.01M343.8,444.2h0.01M343.6,443.0h0.01M340.6,446.5h0.01M349.5,440.5h0.01M328.8,444.1h0.01M337.8,442.2h0.01M333.4,443.9h0.01M340.8,442.2h0.01M345.5,447.9h0.01M348.3,445.5h0.01M339.1,444.5h0.01M340.9,445.4h0.01M343.9,443.1h0.01M343.8,441.8h0.01M345.0,446.1h0.01M339.3,444.3h0.01M333.0,445.0h0.01M345.4,441.2h0.01M349.6,443.4h0.01M332.7,440.5h0.01M345.3,442.7h0.01M346.5,440.2h0.01M340.6,445.1h0.01M337.8,444.5h0.01M339.4,443.9h0.01M342.7,447.5h0.01M335.1,444.7h0.01M347.5,441.0h0.01M341.5,447.7h0.01M346.2,437.4h0.01M339.9,439.9h0.01M342.6,441.8h0.01M338.4,441.6h0.01M342.5,442.3h0.01M336.7,442.8h0.01M343.1,441.5h0.01M346.5,440.0h0.01M343.1,442.4h0.01M348.7,442.0h0.01M337.9,440.6h0.01M350.7,444.4h0.01M335.8,442.5h0.01M336.4,446.2h0.01" stroke="#6070C8" stroke-width="0.6" stroke-linecap="round" opacity="0.5"/>
<path d="M332.5,405.9h0.01M332.3,434.6h0.01M332.1,430.3h0.01M332.0,427.7h0.01M332.3,418.8h0.01M332.4,427.3h0.01M332.1,419.1h0.01M331.1,428.1h0.01M332.9,402.2h0.01M331.6,438.9h0.01M333.0,418.8h0.01M333.4,416.1h0.01M331.3,444.6h0.01M331.7,423.6h0.01M330.5,415.9h0.01M331.0,424.4h0.01M330.3,436.0h0.01M331.8,419.8h0.01M331.5,432.9h0.01M333.6,421.7h0.01M333.7,441.4h0.01M333.4,428.6h0.01M330.7,432.3h0.01M331.7,427.6h0.01M330.3,423.0h0.01M332.3,416.6h0.01M332.4,442.0h0.01M332.3,419.0h0.01M334.4,404.8h0.01M331.2,429.7h0.01M331.5,403.4h0.01M332.4,433.8h0.01M331.3,440.0h0.01M332.6,437.3h0.01M330.6,425.7h0.01M333.7,445.3h0.01M333.4,425.7h0.01M332.3,419.6h0.01M333.2,418.9h0.01M332.2,405.6h0.01M330.6,443.0h0.01M332.2,427.8h0.01M330.0,425.4h0.01M334.1,411.1h0.01M329.8,424.1h0.01M331.6,423.7h0.01M330.9,412.5h0.01M330.9,432.0h0.01M332.1,433.7h0.01M331.0,431.5h0.01M331.7,426.6h0.01M333.0,426.0h0.01M331.8,409.4h0.01M332.2,433.4h0.01M331.5,425.1h0.01M330.4,412.7h0.01M332.5,438.4h0.01M331.8,409.3h0.01M331.7,410.4h0.01M331.8,444.6h0.01" stroke="#6070C8" stroke-width="0.6" stroke-linecap="round" opacity="0.5"/>
<rect x="330.80" y="406.20" width="2.6" height="39.00" rx="1.2" fill="#3A68D0" opacity="0.8" filter="url(#g4)"/>
<path d="M332.10,440.20 L350.10,444.20 L352.10,448.70 L332.10,444.20 Z" fill="#3A6AD0" opacity="0.5" filter="url(#g8)"/>
<rect x="330.50" y="407.70" width="3.20" height="17.00" rx="1.60" fill="#3C6AD0" opacity="0.75" filter="url(#g4)"/>
<rect x="330.79" y="409.40" width="2.62" height="13.60" rx="1.31" fill="#3AA0D8" opacity="0.75" filter="url(#g4)"/>
<rect x="331.01" y="410.93" width="2.18" height="10.54" rx="1.09" fill="#5CC878" opacity="0.85" filter="url(#g4)"/>
<rect x="331.30" y="412.63" width="1.60" height="7.14" rx="0.80" fill="#D8E040" opacity="0.90" filter="url(#g4)"/>
<rect x="330.50" y="437.90" width="3.20" height="7.60" rx="1.60" fill="#3C6AD0" opacity="0.75" filter="url(#g4)"/>
<rect x="330.79" y="438.66" width="2.62" height="6.08" rx="1.31" fill="#3AA0D8" opacity="0.75" filter="url(#g4)"/>
<rect x="331.01" y="439.34" width="2.18" height="4.71" rx="1.09" fill="#5CC878" opacity="0.85" filter="url(#g4)"/>
<rect x="331.30" y="440.10" width="1.60" height="3.19" rx="0.80" fill="#D8E040" opacity="0.90" filter="url(#g4)"/>
<rect x="331.59" y="440.86" width="1.02" height="1.67" rx="0.51" fill="#F0A030" opacity="0.90" filter="url(#g4)"/>
<ellipse cx="350.10" cy="446.20" rx="8.50" ry="3.30" transform="rotate(18 350.10 446.20)" fill="#3450C0" opacity="0.3" filter="url(#g6)"/>
<ellipse cx="350.10" cy="446.20" rx="6.63" ry="2.57" transform="rotate(18 350.10 446.20)" fill="#3C8CDC" opacity="0.5" filter="url(#g6)"/>
</g>
<rect x="317.10" y="392.20" width="65.50" height="65.20" fill="none" stroke="#999" stroke-width="1.0" />
<text x="312.70" y="400.60" font-size="6.3" text-anchor="end" fill="#111" color="#111">10<tspan dy="-2.7" font-size="4.28">5</tspan></text>
<line x1="315.60" y1="398.30" x2="317.10" y2="398.30" stroke="#000" stroke-width="0.7" />
<text x="312.70" y="415.60" font-size="6.3" text-anchor="end" fill="#111" color="#111">10<tspan dy="-2.7" font-size="4.28">4</tspan></text>
<line x1="315.60" y1="413.30" x2="317.10" y2="413.30" stroke="#000" stroke-width="0.7" />
<text x="312.70" y="433.20" font-size="6.3" text-anchor="end" fill="#111" color="#111">10<tspan dy="-2.7" font-size="4.28">3</tspan></text>
<line x1="315.60" y1="430.90" x2="317.10" y2="430.90" stroke="#000" stroke-width="0.7" />
<text transform="translate(311.80,445.00)" font-size="6.3" text-anchor="end" font-weight="normal" font-style="normal" fill="#111" color="#111">0</text>
<line x1="315.60" y1="442.70" x2="317.10" y2="442.70" stroke="#000" stroke-width="0.7" />
<text x="312.70" y="455.50" font-size="6.3" text-anchor="end" fill="#111" color="#111">&#8722;10<tspan dy="-2.7" font-size="4.28">3</tspan></text>
<line x1="315.60" y1="453.20" x2="317.10" y2="453.20" stroke="#000" stroke-width="0.7" />
<line x1="316.30" y1="396.86" x2="317.10" y2="396.86" stroke="#666" stroke-width="0.4" />
<line x1="316.30" y1="401.51" x2="317.10" y2="401.51" stroke="#666" stroke-width="0.4" />
<line x1="316.30" y1="406.17" x2="317.10" y2="406.17" stroke="#666" stroke-width="0.4" />
<line x1="316.30" y1="410.83" x2="317.10" y2="410.83" stroke="#666" stroke-width="0.4" />
<line x1="316.30" y1="415.49" x2="317.10" y2="415.49" stroke="#666" stroke-width="0.4" />
<line x1="316.30" y1="420.14" x2="317.10" y2="420.14" stroke="#666" stroke-width="0.4" />
<line x1="316.30" y1="424.80" x2="317.10" y2="424.80" stroke="#666" stroke-width="0.4" />
<line x1="316.30" y1="429.46" x2="317.10" y2="429.46" stroke="#666" stroke-width="0.4" />
<line x1="316.30" y1="434.11" x2="317.10" y2="434.11" stroke="#666" stroke-width="0.4" />
<line x1="316.30" y1="438.77" x2="317.10" y2="438.77" stroke="#666" stroke-width="0.4" />
<line x1="316.30" y1="443.43" x2="317.10" y2="443.43" stroke="#666" stroke-width="0.4" />
<line x1="316.30" y1="448.09" x2="317.10" y2="448.09" stroke="#666" stroke-width="0.4" />
<line x1="316.30" y1="452.74" x2="317.10" y2="452.74" stroke="#666" stroke-width="0.4" />
<text x="320.95" y="467.00" font-size="6.3" text-anchor="middle" fill="#111" color="#111">&#8722;10<tspan dy="-2.7" font-size="4.28">3</tspan></text>
<line x1="320.95" y1="457.40" x2="320.95" y2="458.90" stroke="#000" stroke-width="0.7" />
<text transform="translate(333.90,467.00)" font-size="6.3" text-anchor="middle" font-weight="normal" font-style="normal" fill="#111" color="#111">0</text>
<line x1="333.90" y1="457.40" x2="333.90" y2="458.90" stroke="#000" stroke-width="0.7" />
<text x="343.00" y="467.00" font-size="6.3" text-anchor="middle" fill="#111" color="#111">10<tspan dy="-2.7" font-size="4.28">3</tspan></text>
<line x1="343.00" y1="457.40" x2="343.00" y2="458.90" stroke="#000" stroke-width="0.7" />
<text x="360.85" y="467.00" font-size="6.3" text-anchor="middle" fill="#111" color="#111">10<tspan dy="-2.7" font-size="4.28">4</tspan></text>
<line x1="360.85" y1="457.40" x2="360.85" y2="458.90" stroke="#000" stroke-width="0.7" />
<text x="377.10" y="467.00" font-size="6.3" text-anchor="middle" fill="#111" color="#111">10<tspan dy="-2.7" font-size="4.28">5</tspan></text>
<line x1="377.10" y1="457.40" x2="377.10" y2="458.90" stroke="#000" stroke-width="0.7" />
<line x1="321.78" y1="457.40" x2="321.78" y2="458.20" stroke="#666" stroke-width="0.4" />
<line x1="326.46" y1="457.40" x2="326.46" y2="458.20" stroke="#666" stroke-width="0.4" />
<line x1="331.14" y1="457.40" x2="331.14" y2="458.20" stroke="#666" stroke-width="0.4" />
<line x1="335.81" y1="457.40" x2="335.81" y2="458.20" stroke="#666" stroke-width="0.4" />
<line x1="340.49" y1="457.40" x2="340.49" y2="458.20" stroke="#666" stroke-width="0.4" />
<line x1="345.17" y1="457.40" x2="345.17" y2="458.20" stroke="#666" stroke-width="0.4" />
<line x1="349.85" y1="457.40" x2="349.85" y2="458.20" stroke="#666" stroke-width="0.4" />
<line x1="354.53" y1="457.40" x2="354.53" y2="458.20" stroke="#666" stroke-width="0.4" />
<line x1="359.21" y1="457.40" x2="359.21" y2="458.20" stroke="#666" stroke-width="0.4" />
<line x1="363.89" y1="457.40" x2="363.89" y2="458.20" stroke="#666" stroke-width="0.4" />
<line x1="368.56" y1="457.40" x2="368.56" y2="458.20" stroke="#666" stroke-width="0.4" />
<line x1="373.24" y1="457.40" x2="373.24" y2="458.20" stroke="#666" stroke-width="0.4" />
<line x1="377.92" y1="457.40" x2="377.92" y2="458.20" stroke="#666" stroke-width="0.4" />
<line x1="317.10" y1="431.80" x2="382.60" y2="431.80" stroke="#5a5a5a" stroke-width="1.45" />
<line x1="339.60" y1="392.20" x2="339.60" y2="457.40" stroke="#5a5a5a" stroke-width="1.45" />
<text transform="translate(341.80,403.10)" font-size="5.7" text-anchor="start" font-weight="normal" font-style="normal" fill="#BA2453" color="#BA2453" style="stroke-width:0.18px">B cells</text>
<text transform="translate(341.80,410.10)" font-size="5.7" text-anchor="start" font-weight="normal" font-style="normal" fill="#BA2453" color="#BA2453" style="stroke-width:0.18px">42.0%</text>
<text transform="translate(372.10,437.30)" font-size="5.7" text-anchor="middle" font-weight="normal" font-style="normal" fill="#BA2453" color="#BA2453" style="stroke-width:0.18px">Myeloid cells</text>
<text transform="translate(372.60,443.90)" font-size="5.7" text-anchor="middle" font-weight="normal" font-style="normal" fill="#BA2453" color="#BA2453" style="stroke-width:0.18px">10.4%</text>
<text x="319.10" y="396.00" font-size="3.0" text-anchor="start" fill="#333" color="#333" style="stroke-width:0.12px">Q1</text>
<text x="319.10" y="399.50" font-size="3.0" text-anchor="start" fill="#333" color="#333" style="stroke-width:0.12px">42.1</text>
<text x="375.10" y="396.00" font-size="3.0" text-anchor="start" fill="#333" color="#333" style="stroke-width:0.12px">Q2</text>
<text x="375.10" y="399.50" font-size="3.0" text-anchor="start" fill="#333" color="#333" style="stroke-width:0.12px">0.30</text>
<text x="319.10" y="450.20" font-size="3.0" text-anchor="start" fill="#333" color="#333" style="stroke-width:0.12px">Q4</text>
<text x="319.10" y="453.70" font-size="3.0" text-anchor="start" fill="#333" color="#333" style="stroke-width:0.12px">47.5</text>
<text x="375.10" y="450.20" font-size="3.0" text-anchor="start" fill="#333" color="#333" style="stroke-width:0.12px">Q3</text>
<text x="375.10" y="453.70" font-size="3.0" text-anchor="start" fill="#333" color="#333" style="stroke-width:0.12px">10.4</text>
<rect x="315.50" y="441.60" width="1.2" height="2.2" rx="0.5" fill="#000"/>
<rect x="330.60" y="457.70" width="3" height="1.1" rx="0.5" fill="#000"/>
<line x1="24.00" y1="85.00" x2="24.00" y2="58.40" stroke="#000" stroke-width="1.0" />
<path d="M21.50,59.60 L24.00,54.40 L26.50,59.60 Z" fill="#000"/>
<text transform="translate(27.30,43.90) rotate(-90) scale(0.6,1)" font-size="9.3" text-anchor="middle" font-weight="normal" font-style="normal" fill="#000" color="#000">CD16</text>
<line x1="41.20" y1="100.80" x2="67.90" y2="100.80" stroke="#000" stroke-width="1.0" />
<path d="M66.90,98.40 L71.90,100.80 L66.90,103.20 Z" fill="#000"/>
<text transform="translate(76.00,104.00) scale(0.62,1)" font-size="9.3" text-anchor="start" font-weight="normal" font-style="normal" fill="#000" color="#000">CD34</text>
<line x1="24.20" y1="169.10" x2="24.20" y2="142.30" stroke="#000" stroke-width="1.0" />
<path d="M21.70,143.50 L24.20,138.30 L26.70,143.50 Z" fill="#000"/>
<text transform="translate(27.10,127.60) rotate(-90) scale(0.6,1)" font-size="9.3" text-anchor="middle" font-weight="normal" font-style="normal" fill="#000" color="#000">CD19</text>
<line x1="42.80" y1="189.10" x2="69.40" y2="189.10" stroke="#000" stroke-width="1.0" />
<path d="M68.40,186.70 L73.40,189.10 L68.40,191.50 Z" fill="#000"/>
<text transform="translate(76.70,192.30) scale(0.62,1)" font-size="9.3" text-anchor="start" font-weight="normal" font-style="normal" fill="#000" color="#000">Mac1</text>
<line x1="24.50" y1="360.70" x2="24.50" y2="333.10" stroke="#000" stroke-width="1.0" />
<path d="M22.00,334.30 L24.50,329.10 L27.00,334.30 Z" fill="#000"/>
<text transform="translate(27.30,318.90) rotate(-90) scale(0.6,1)" font-size="9.3" text-anchor="middle" font-weight="normal" font-style="normal" fill="#000" color="#000">CD16</text>
<line x1="52.40" y1="383.50" x2="79.40" y2="383.50" stroke="#000" stroke-width="1.0" />
<path d="M78.40,381.10 L83.40,383.50 L78.40,385.90 Z" fill="#000"/>
<text transform="translate(87.00,386.70) scale(0.62,1)" font-size="9.3" text-anchor="start" font-weight="normal" font-style="normal" fill="#000" color="#000">CD34</text>
<line x1="24.50" y1="451.60" x2="24.50" y2="425.00" stroke="#000" stroke-width="1.0" />
<path d="M22.00,426.20 L24.50,421.00 L27.00,426.20 Z" fill="#000"/>
<text transform="translate(27.30,409.80) rotate(-90) scale(0.6,1)" font-size="9.3" text-anchor="middle" font-weight="normal" font-style="normal" fill="#000" color="#000">CD19</text>
<line x1="53.10" y1="476.80" x2="79.40" y2="476.80" stroke="#000" stroke-width="1.0" />
<path d="M78.40,474.40 L83.40,476.80 L78.40,479.20 Z" fill="#000"/>
<text transform="translate(87.40,480.00) scale(0.62,1)" font-size="9.3" text-anchor="start" font-weight="normal" font-style="normal" fill="#000" color="#000">Mac1</text>
<text transform="translate(7.30,17.00)" font-size="12" text-anchor="start" font-weight="bold" font-style="normal" fill="#000" color="#000">A</text>
<text transform="translate(7.80,114.30)" font-size="12" text-anchor="start" font-weight="bold" font-style="normal" fill="#000" color="#000">B</text>
<text transform="translate(7.60,215.60)" font-size="12" text-anchor="start" font-weight="bold" font-style="normal" fill="#000" color="#000">C</text>
<text transform="translate(8.20,301.60)" font-size="12" text-anchor="start" font-weight="bold" font-style="normal" fill="#000" color="#000">D</text>
<text transform="translate(8.40,397.20)" font-size="12" text-anchor="start" font-weight="bold" font-style="normal" fill="#000" color="#000">E</text>
<text transform="translate(8.20,498.70)" font-size="12" text-anchor="start" font-weight="bold" font-style="normal" fill="#000" color="#000">F</text>
<text transform="translate(7.30,619.20)" font-size="12" text-anchor="start" font-weight="bold" font-style="normal" fill="#000" color="#000">G</text>
<text transform="translate(222.60,502.30)" font-size="12" text-anchor="start" font-weight="bold" font-style="normal" fill="#000" color="#000">H</text>
<text transform="translate(233.60,660.50)" font-size="12" text-anchor="start" font-weight="bold" font-style="normal" fill="#000" color="#000">I</text>
<line x1="424.20" y1="23.30" x2="424.20" y2="73.30" stroke="#000" stroke-width="1.1" />
<line x1="423.70" y1="73.30" x2="494.50" y2="73.30" stroke="#000" stroke-width="1.1" />
<line x1="421.20" y1="73.30" x2="424.20" y2="73.30" stroke="#000" stroke-width="0.9" />
<text transform="translate(418.00,75.60)" font-size="6.5" text-anchor="end" font-weight="normal" font-style="normal" fill="#222" color="#222">0.0</text>
<line x1="421.20" y1="63.88" x2="424.20" y2="63.88" stroke="#000" stroke-width="0.9" />
<text transform="translate(418.00,66.18)" font-size="6.5" text-anchor="end" font-weight="normal" font-style="normal" fill="#222" color="#222">0.5</text>
<line x1="421.20" y1="54.46" x2="424.20" y2="54.46" stroke="#000" stroke-width="0.9" />
<text transform="translate(418.00,56.76)" font-size="6.5" text-anchor="end" font-weight="normal" font-style="normal" fill="#222" color="#222">1.0</text>
<line x1="421.20" y1="45.04" x2="424.20" y2="45.04" stroke="#000" stroke-width="0.9" />
<text transform="translate(418.00,47.34)" font-size="6.5" text-anchor="end" font-weight="normal" font-style="normal" fill="#222" color="#222">1.5</text>
<line x1="421.20" y1="35.62" x2="424.20" y2="35.62" stroke="#000" stroke-width="0.9" />
<text transform="translate(418.00,37.92)" font-size="6.5" text-anchor="end" font-weight="normal" font-style="normal" fill="#222" color="#222">2.0</text>
<line x1="421.20" y1="26.20" x2="424.20" y2="26.20" stroke="#000" stroke-width="0.9" />
<text transform="translate(418.00,28.50)" font-size="6.5" text-anchor="end" font-weight="normal" font-style="normal" fill="#222" color="#222">2.5</text>
<rect x="426.90" y="62.94" width="12.00" height="10.36" fill="#A6002B" stroke="#7A0020" stroke-width="0.5" />
<line x1="432.90" y1="73.30" x2="432.90" y2="75.90" stroke="#000" stroke-width="0.8" />
<line x1="432.90" y1="61.43" x2="432.90" y2="64.45" stroke="#000" stroke-width="0.9" />
<line x1="430.60" y1="61.43" x2="435.20" y2="61.43" stroke="#000" stroke-width="0.9" />
<line x1="430.60" y1="64.45" x2="435.20" y2="64.45" stroke="#000" stroke-width="0.9" />
<circle cx="431.40" cy="63.50" r="1.35" fill="#000"/>
<circle cx="434.40" cy="62.37" r="1.35" fill="#000"/>
<circle cx="432.90" cy="60.49" r="1.35" fill="#000"/>
<circle cx="432.40" cy="62.00" r="1.35" fill="#000"/>
<rect x="444.60" y="45.04" width="12.00" height="28.26" fill="#57246F" stroke="#3A0F52" stroke-width="0.5" />
<line x1="450.60" y1="73.30" x2="450.60" y2="75.90" stroke="#000" stroke-width="0.8" />
<line x1="450.60" y1="42.78" x2="450.60" y2="47.30" stroke="#000" stroke-width="0.9" />
<line x1="448.30" y1="42.78" x2="452.90" y2="42.78" stroke="#000" stroke-width="0.9" />
<line x1="448.30" y1="47.30" x2="452.90" y2="47.30" stroke="#000" stroke-width="0.9" />
<circle cx="450.10" cy="42.78" r="1.35" fill="#000"/>
<circle cx="452.10" cy="44.10" r="1.35" fill="#000"/>
<circle cx="450.60" cy="48.81" r="1.35" fill="#000"/>
<circle cx="451.60" cy="41.65" r="1.35" fill="#000"/>
<rect x="462.00" y="45.04" width="12.00" height="28.26" fill="#2B4C86" stroke="#1B3366" stroke-width="0.5" />
<line x1="468.00" y1="73.30" x2="468.00" y2="75.90" stroke="#000" stroke-width="0.8" />
<line x1="468.00" y1="39.95" x2="468.00" y2="50.13" stroke="#000" stroke-width="0.9" />
<line x1="465.70" y1="39.95" x2="470.30" y2="39.95" stroke="#000" stroke-width="0.9" />
<line x1="465.70" y1="50.13" x2="470.30" y2="50.13" stroke="#000" stroke-width="0.9" />
<circle cx="468.00" cy="31.85" r="1.35" fill="#000"/>
<circle cx="468.00" cy="44.10" r="1.35" fill="#000"/>
<circle cx="468.00" cy="57.29" r="1.35" fill="#000"/>
<rect x="480.00" y="50.13" width="12.00" height="23.17" fill="#67AE3E" stroke="#4B8C2A" stroke-width="0.5" />
<line x1="486.00" y1="73.30" x2="486.00" y2="75.90" stroke="#000" stroke-width="0.8" />
<line x1="486.00" y1="45.42" x2="486.00" y2="54.84" stroke="#000" stroke-width="0.9" />
<line x1="483.70" y1="45.42" x2="488.30" y2="45.42" stroke="#000" stroke-width="0.9" />
<line x1="483.70" y1="54.84" x2="488.30" y2="54.84" stroke="#000" stroke-width="0.9" />
<circle cx="485.00" cy="40.71" r="1.35" fill="#000"/>
<circle cx="487.00" cy="43.16" r="1.35" fill="#000"/>
<circle cx="485.00" cy="58.79" r="1.35" fill="#000"/>
<circle cx="487.00" cy="55.40" r="1.35" fill="#000"/>
<path d="M428.50,23.30 L428.50,21.50 L486.00,21.50 L486.00,23.30" fill="none" stroke="#000" stroke-width="0.8"/>
<text transform="translate(457.25,20.30)" font-size="5.2" text-anchor="middle" font-weight="normal" font-style="normal" fill="#333" color="#333" style="stroke-width:0.1px">*</text>
<path d="M430.00,32.40 L430.00,30.60 L449.60,30.60 L449.60,32.40" fill="none" stroke="#000" stroke-width="0.8"/>
<text transform="translate(439.80,29.40)" font-size="5.2" text-anchor="middle" font-weight="normal" font-style="normal" fill="#333" color="#333" style="stroke-width:0.1px">**</text>
<path d="M452.50,32.40 L452.50,30.60 L485.00,30.60 L485.00,32.40" fill="none" stroke="#000" stroke-width="0.8"/>
<text transform="translate(468.75,29.40)" font-size="4.8" text-anchor="middle" font-weight="normal" font-style="normal" fill="#333" color="#333" style="stroke-width:0.1px">n.s.</text>
<text transform="translate(459.40,14.60)" font-size="8.6" text-anchor="middle" font-weight="normal" font-style="normal" fill="#111" color="#111" style="stroke-width:0.1px">Freq. of GMP, BM</text>
<text transform="translate(403.00,48.30) rotate(-90) scale(0.63,1)" font-size="9.5" text-anchor="middle" font-weight="normal" font-style="normal" fill="#111" color="#111">Percentage</text>
<line x1="423.00" y1="119.50" x2="423.00" y2="168.90" stroke="#000" stroke-width="1.1" />
<line x1="422.50" y1="168.90" x2="493.90" y2="168.90" stroke="#000" stroke-width="1.1" />
<line x1="420.00" y1="168.90" x2="423.00" y2="168.90" stroke="#000" stroke-width="0.9" />
<text transform="translate(416.80,171.20)" font-size="6.5" text-anchor="end" font-weight="normal" font-style="normal" fill="#222" color="#222">40</text>
<line x1="420.00" y1="157.10" x2="423.00" y2="157.10" stroke="#000" stroke-width="0.9" />
<text transform="translate(416.80,159.40)" font-size="6.5" text-anchor="end" font-weight="normal" font-style="normal" fill="#222" color="#222">50</text>
<line x1="420.00" y1="145.30" x2="423.00" y2="145.30" stroke="#000" stroke-width="0.9" />
<text transform="translate(416.80,147.60)" font-size="6.5" text-anchor="end" font-weight="normal" font-style="normal" fill="#222" color="#222">60</text>
<line x1="420.00" y1="133.50" x2="423.00" y2="133.50" stroke="#000" stroke-width="0.9" />
<text transform="translate(416.80,135.80)" font-size="6.5" text-anchor="end" font-weight="normal" font-style="normal" fill="#222" color="#222">70</text>
<line x1="420.00" y1="121.70" x2="423.00" y2="121.70" stroke="#000" stroke-width="0.9" />
<text transform="translate(416.80,124.00)" font-size="6.5" text-anchor="end" font-weight="normal" font-style="normal" fill="#222" color="#222">80</text>
<rect x="426.90" y="148.84" width="12.00" height="20.06" fill="#A6002B" stroke="#7A0020" stroke-width="0.5" />
<line x1="432.90" y1="168.90" x2="432.90" y2="171.50" stroke="#000" stroke-width="0.8" />
<line x1="432.90" y1="148.01" x2="432.90" y2="149.67" stroke="#000" stroke-width="0.9" />
<line x1="430.60" y1="148.01" x2="435.20" y2="148.01" stroke="#000" stroke-width="0.9" />
<line x1="430.60" y1="149.67" x2="435.20" y2="149.67" stroke="#000" stroke-width="0.9" />
<circle cx="428.90" cy="149.78" r="1.35" fill="#000"/>
<circle cx="430.90" cy="149.08" r="1.35" fill="#000"/>
<circle cx="432.90" cy="149.67" r="1.35" fill="#000"/>
<circle cx="434.90" cy="148.84" r="1.35" fill="#000"/>
<circle cx="436.90" cy="148.49" r="1.35" fill="#000"/>
<rect x="444.40" y="129.96" width="12.00" height="38.94" fill="#57246F" stroke="#3A0F52" stroke-width="0.5" />
<line x1="450.40" y1="168.90" x2="450.40" y2="171.50" stroke="#000" stroke-width="0.8" />
<line x1="450.40" y1="129.37" x2="450.40" y2="130.55" stroke="#000" stroke-width="0.9" />
<line x1="448.10" y1="129.37" x2="452.70" y2="129.37" stroke="#000" stroke-width="0.9" />
<line x1="448.10" y1="130.55" x2="452.70" y2="130.55" stroke="#000" stroke-width="0.9" />
<circle cx="446.40" cy="129.96" r="1.35" fill="#000"/>
<circle cx="448.40" cy="130.20" r="1.35" fill="#000"/>
<circle cx="450.40" cy="129.96" r="1.35" fill="#000"/>
<circle cx="452.40" cy="129.84" r="1.35" fill="#000"/>
<circle cx="454.40" cy="129.72" r="1.35" fill="#000"/>
<rect x="462.00" y="153.56" width="12.00" height="15.34" fill="#2B4C86" stroke="#1B3366" stroke-width="0.5" />
<line x1="468.00" y1="168.90" x2="468.00" y2="171.50" stroke="#000" stroke-width="0.8" />
<line x1="468.00" y1="151.44" x2="468.00" y2="155.68" stroke="#000" stroke-width="0.9" />
<line x1="465.70" y1="151.44" x2="470.30" y2="151.44" stroke="#000" stroke-width="0.9" />
<line x1="465.70" y1="155.68" x2="470.30" y2="155.68" stroke="#000" stroke-width="0.9" />
<circle cx="468.00" cy="151.20" r="1.35" fill="#000"/>
<circle cx="469.00" cy="150.61" r="1.35" fill="#000"/>
<circle cx="468.00" cy="158.75" r="1.35" fill="#000"/>
<rect x="479.40" y="142.94" width="12.00" height="25.96" fill="#67AE3E" stroke="#4B8C2A" stroke-width="0.5" />
<line x1="485.40" y1="168.90" x2="485.40" y2="171.50" stroke="#000" stroke-width="0.8" />
<line x1="485.40" y1="139.99" x2="485.40" y2="145.89" stroke="#000" stroke-width="0.9" />
<line x1="483.10" y1="139.99" x2="487.70" y2="139.99" stroke="#000" stroke-width="0.9" />
<line x1="483.10" y1="145.89" x2="487.70" y2="145.89" stroke="#000" stroke-width="0.9" />
<circle cx="484.90" cy="138.81" r="1.35" fill="#000"/>
<circle cx="486.40" cy="139.05" r="1.35" fill="#000"/>
<circle cx="485.90" cy="150.02" r="1.35" fill="#000"/>
<path d="M427.00,115.50 L427.00,113.70 L485.00,113.70 L485.00,115.50" fill="none" stroke="#000" stroke-width="0.8"/>
<text transform="translate(456.00,112.10)" font-size="6.0" text-anchor="middle" font-weight="normal" font-style="normal" fill="#333" color="#333" style="stroke-width:0.1px">p=0.05</text>
<path d="M427.70,124.80 L427.70,123.00 L449.50,123.00 L449.50,124.80" fill="none" stroke="#000" stroke-width="0.8"/>
<text transform="translate(438.60,121.80)" font-size="5.2" text-anchor="middle" font-weight="normal" font-style="normal" fill="#333" color="#333" style="stroke-width:0.1px">****</text>
<path d="M451.40,124.80 L451.40,123.00 L483.70,123.00 L483.70,124.80" fill="none" stroke="#000" stroke-width="0.8"/>
<text transform="translate(467.55,121.80)" font-size="5.2" text-anchor="middle" font-weight="normal" font-style="normal" fill="#333" color="#333" style="stroke-width:0.1px">***</text>
<text transform="translate(459.00,104.30)" font-size="8.6" text-anchor="middle" font-weight="normal" font-style="normal" fill="#111" color="#111" style="stroke-width:0.1px">Freq. of Mac1<tspan dy="-3" font-size="5.6">+</tspan><tspan dy="3">, BM</tspan></text>
<text transform="translate(402.50,142.50) rotate(-90) scale(0.63,1)" font-size="9.5" text-anchor="middle" font-weight="normal" font-style="normal" fill="#111" color="#111">Percentage</text>
<line x1="38.20" y1="227.50" x2="38.20" y2="277.30" stroke="#000" stroke-width="1.1" />
<line x1="37.70" y1="277.30" x2="108.40" y2="277.30" stroke="#000" stroke-width="1.1" />
<line x1="35.20" y1="277.30" x2="38.20" y2="277.30" stroke="#000" stroke-width="0.9" />
<text transform="translate(32.00,279.60)" font-size="6.5" text-anchor="end" font-weight="normal" font-style="normal" fill="#222" color="#222">0</text>
<line x1="35.20" y1="267.92" x2="38.20" y2="267.92" stroke="#000" stroke-width="0.9" />
<text transform="translate(32.00,270.22)" font-size="6.5" text-anchor="end" font-weight="normal" font-style="normal" fill="#222" color="#222">10</text>
<line x1="35.20" y1="258.54" x2="38.20" y2="258.54" stroke="#000" stroke-width="0.9" />
<text transform="translate(32.00,260.84)" font-size="6.5" text-anchor="end" font-weight="normal" font-style="normal" fill="#222" color="#222">20</text>
<line x1="35.20" y1="249.16" x2="38.20" y2="249.16" stroke="#000" stroke-width="0.9" />
<text transform="translate(32.00,251.46)" font-size="6.5" text-anchor="end" font-weight="normal" font-style="normal" fill="#222" color="#222">30</text>
<line x1="35.20" y1="239.78" x2="38.20" y2="239.78" stroke="#000" stroke-width="0.9" />
<text transform="translate(32.00,242.08)" font-size="6.5" text-anchor="end" font-weight="normal" font-style="normal" fill="#222" color="#222">40</text>
<line x1="35.20" y1="230.40" x2="38.20" y2="230.40" stroke="#000" stroke-width="0.9" />
<text transform="translate(32.00,232.70)" font-size="6.5" text-anchor="end" font-weight="normal" font-style="normal" fill="#222" color="#222">50</text>
<rect x="40.80" y="252.54" width="12.00" height="24.76" fill="#A6002B" stroke="#7A0020" stroke-width="0.5" />
<line x1="46.80" y1="277.30" x2="46.80" y2="279.90" stroke="#000" stroke-width="0.8" />
<line x1="46.80" y1="250.47" x2="46.80" y2="254.60" stroke="#000" stroke-width="0.9" />
<line x1="44.50" y1="250.47" x2="49.10" y2="250.47" stroke="#000" stroke-width="0.9" />
<line x1="44.50" y1="254.60" x2="49.10" y2="254.60" stroke="#000" stroke-width="0.9" />
<circle cx="42.00" cy="250.29" r="1.35" fill="#000"/>
<circle cx="44.90" cy="249.63" r="1.35" fill="#000"/>
<circle cx="47.80" cy="248.88" r="1.35" fill="#000"/>
<circle cx="49.80" cy="251.79" r="1.35" fill="#000"/>
<circle cx="42.80" cy="258.07" r="1.35" fill="#000"/>
<circle cx="45.80" cy="258.82" r="1.35" fill="#000"/>
<circle cx="48.80" cy="257.41" r="1.35" fill="#000"/>
<circle cx="43.80" cy="252.91" r="1.35" fill="#000"/>
<rect x="58.60" y="247.47" width="12.00" height="29.83" fill="#57246F" stroke="#3A0F52" stroke-width="0.5" />
<line x1="64.60" y1="277.30" x2="64.60" y2="279.90" stroke="#000" stroke-width="0.8" />
<line x1="64.60" y1="243.25" x2="64.60" y2="251.69" stroke="#000" stroke-width="0.9" />
<line x1="62.30" y1="243.25" x2="66.90" y2="243.25" stroke="#000" stroke-width="0.9" />
<line x1="62.30" y1="251.69" x2="66.90" y2="251.69" stroke="#000" stroke-width="0.9" />
<circle cx="64.60" cy="237.44" r="1.35" fill="#000"/>
<circle cx="64.60" cy="243.06" r="1.35" fill="#000"/>
<circle cx="63.60" cy="254.69" r="1.35" fill="#000"/>
<circle cx="65.80" cy="254.32" r="1.35" fill="#000"/>
<rect x="76.20" y="261.45" width="12.00" height="15.85" fill="#2B4C86" stroke="#1B3366" stroke-width="0.5" />
<line x1="82.20" y1="277.30" x2="82.20" y2="279.90" stroke="#000" stroke-width="0.8" />
<line x1="82.20" y1="260.51" x2="82.20" y2="262.39" stroke="#000" stroke-width="0.9" />
<line x1="79.90" y1="260.51" x2="84.50" y2="260.51" stroke="#000" stroke-width="0.9" />
<line x1="79.90" y1="262.39" x2="84.50" y2="262.39" stroke="#000" stroke-width="0.9" />
<circle cx="80.20" cy="260.88" r="1.35" fill="#000"/>
<circle cx="83.20" cy="260.42" r="1.35" fill="#000"/>
<circle cx="85.20" cy="262.01" r="1.35" fill="#000"/>
<circle cx="82.20" cy="268.39" r="1.35" fill="#000"/>
<circle cx="79.20" cy="261.82" r="1.35" fill="#000"/>
<rect x="93.90" y="259.29" width="12.00" height="18.01" fill="#67AE3E" stroke="#4B8C2A" stroke-width="0.5" />
<line x1="99.90" y1="277.30" x2="99.90" y2="279.90" stroke="#000" stroke-width="0.8" />
<line x1="99.90" y1="256.66" x2="99.90" y2="261.92" stroke="#000" stroke-width="0.9" />
<line x1="97.60" y1="256.66" x2="102.20" y2="256.66" stroke="#000" stroke-width="0.9" />
<line x1="97.60" y1="261.92" x2="102.20" y2="261.92" stroke="#000" stroke-width="0.9" />
<circle cx="99.90" cy="251.79" r="1.35" fill="#000"/>
<circle cx="99.90" cy="256.76" r="1.35" fill="#000"/>
<circle cx="98.60" cy="260.98" r="1.35" fill="#000"/>
<circle cx="99.90" cy="266.23" r="1.35" fill="#000"/>
<path d="M43.80,224.00 L43.80,222.20 L101.50,222.20 L101.50,224.00" fill="none" stroke="#000" stroke-width="0.8"/>
<text transform="translate(72.65,221.00)" font-size="5.2" text-anchor="middle" font-weight="normal" font-style="normal" fill="#333" color="#333" style="stroke-width:0.1px">*</text>
<path d="M44.40,235.20 L44.40,233.40 L64.50,233.40 L64.50,235.20" fill="none" stroke="#000" stroke-width="0.8"/>
<text transform="translate(54.45,232.20)" font-size="4.8" text-anchor="middle" font-weight="normal" font-style="normal" fill="#333" color="#333" style="stroke-width:0.1px">n.s.</text>
<path d="M67.30,235.20 L67.30,233.40 L100.50,233.40 L100.50,235.20" fill="none" stroke="#000" stroke-width="0.8"/>
<text transform="translate(83.90,232.20)" font-size="5.2" text-anchor="middle" font-weight="normal" font-style="normal" fill="#333" color="#333" style="stroke-width:0.1px">*</text>
<text transform="translate(73.00,213.30)" font-size="8.6" text-anchor="middle" font-weight="normal" font-style="normal" fill="#111" color="#111" style="stroke-width:0.1px">BM</text>
<text transform="translate(16.60,252.90) rotate(-90) scale(0.63,1)" font-size="9.5" text-anchor="middle" font-weight="normal" font-style="normal" fill="#111" color="#111">Cell counts (x10<tspan dy="-3.2" font-size="6">6</tspan><tspan dy="3.2">)</tspan></text>
<line x1="160.00" y1="228.50" x2="160.00" y2="277.30" stroke="#000" stroke-width="1.1" />
<line x1="159.50" y1="277.30" x2="227.70" y2="277.30" stroke="#000" stroke-width="1.1" />
<line x1="157.00" y1="277.30" x2="160.00" y2="277.30" stroke="#000" stroke-width="0.9" />
<text transform="translate(153.80,279.60)" font-size="6.5" text-anchor="end" font-weight="normal" font-style="normal" fill="#222" color="#222">0.0</text>
<line x1="157.00" y1="261.80" x2="160.00" y2="261.80" stroke="#000" stroke-width="0.9" />
<text transform="translate(153.80,264.10)" font-size="6.5" text-anchor="end" font-weight="normal" font-style="normal" fill="#222" color="#222">0.2</text>
<line x1="157.00" y1="246.30" x2="160.00" y2="246.30" stroke="#000" stroke-width="0.9" />
<text transform="translate(153.80,248.60)" font-size="6.5" text-anchor="end" font-weight="normal" font-style="normal" fill="#222" color="#222">0.4</text>
<line x1="157.00" y1="230.80" x2="160.00" y2="230.80" stroke="#000" stroke-width="0.9" />
<text transform="translate(153.80,233.10)" font-size="6.5" text-anchor="end" font-weight="normal" font-style="normal" fill="#222" color="#222">0.6</text>
<rect x="160.00" y="265.52" width="12.00" height="11.78" fill="#A6002B" stroke="#7A0020" stroke-width="0.5" />
<line x1="166.00" y1="277.30" x2="166.00" y2="279.90" stroke="#000" stroke-width="0.8" />
<line x1="166.00" y1="263.58" x2="166.00" y2="267.46" stroke="#000" stroke-width="0.9" />
<line x1="163.70" y1="263.58" x2="168.30" y2="263.58" stroke="#000" stroke-width="0.9" />
<line x1="163.70" y1="267.46" x2="168.30" y2="267.46" stroke="#000" stroke-width="0.9" />
<circle cx="166.00" cy="260.48" r="1.35" fill="#000"/>
<circle cx="164.50" cy="264.90" r="1.35" fill="#000"/>
<circle cx="167.00" cy="266.45" r="1.35" fill="#000"/>
<circle cx="166.00" cy="270.63" r="1.35" fill="#000"/>
<rect x="177.90" y="243.98" width="12.00" height="33.32" fill="#57246F" stroke="#3A0F52" stroke-width="0.5" />
<line x1="183.90" y1="277.30" x2="183.90" y2="279.90" stroke="#000" stroke-width="0.8" />
<line x1="183.90" y1="242.04" x2="183.90" y2="245.91" stroke="#000" stroke-width="0.9" />
<line x1="181.60" y1="242.04" x2="186.20" y2="242.04" stroke="#000" stroke-width="0.9" />
<line x1="181.60" y1="245.91" x2="186.20" y2="245.91" stroke="#000" stroke-width="0.9" />
<circle cx="183.90" cy="238.16" r="1.35" fill="#000"/>
<circle cx="182.60" cy="246.30" r="1.35" fill="#000"/>
<circle cx="184.90" cy="245.53" r="1.35" fill="#000"/>
<circle cx="184.10" cy="243.20" r="1.35" fill="#000"/>
<rect x="195.20" y="261.80" width="12.00" height="15.50" fill="#2B4C86" stroke="#1B3366" stroke-width="0.5" />
<line x1="201.20" y1="277.30" x2="201.20" y2="279.90" stroke="#000" stroke-width="0.8" />
<line x1="201.20" y1="260.87" x2="201.20" y2="262.73" stroke="#000" stroke-width="0.9" />
<line x1="198.90" y1="260.87" x2="203.50" y2="260.87" stroke="#000" stroke-width="0.9" />
<line x1="198.90" y1="262.73" x2="203.50" y2="262.73" stroke="#000" stroke-width="0.9" />
<circle cx="198.20" cy="261.41" r="1.35" fill="#000"/>
<circle cx="201.20" cy="261.03" r="1.35" fill="#000"/>
<circle cx="204.20" cy="261.41" r="1.35" fill="#000"/>
<circle cx="201.20" cy="266.22" r="1.35" fill="#000"/>
<rect x="213.20" y="259.01" width="12.00" height="18.29" fill="#67AE3E" stroke="#4B8C2A" stroke-width="0.5" />
<line x1="219.20" y1="277.30" x2="219.20" y2="279.90" stroke="#000" stroke-width="0.8" />
<line x1="219.20" y1="255.14" x2="219.20" y2="262.88" stroke="#000" stroke-width="0.9" />
<line x1="216.90" y1="255.14" x2="221.50" y2="255.14" stroke="#000" stroke-width="0.9" />
<line x1="216.90" y1="262.88" x2="221.50" y2="262.88" stroke="#000" stroke-width="0.9" />
<circle cx="217.70" cy="250.95" r="1.35" fill="#000"/>
<circle cx="221.20" cy="253.28" r="1.35" fill="#000"/>
<circle cx="219.20" cy="263.35" r="1.35" fill="#000"/>
<circle cx="217.70" cy="266.22" r="1.35" fill="#000"/>
<path d="M161.75,228.05 L161.75,226.25 L220.00,226.25 L220.00,228.05" fill="none" stroke="#000" stroke-width="0.8"/>
<text transform="translate(190.88,225.05)" font-size="4.8" text-anchor="middle" font-weight="normal" font-style="normal" fill="#333" color="#333" style="stroke-width:0.1px">n.s.</text>
<path d="M161.75,235.55 L161.75,233.75 L182.50,233.75 L182.50,235.55" fill="none" stroke="#000" stroke-width="0.8"/>
<text transform="translate(172.12,232.55)" font-size="5.2" text-anchor="middle" font-weight="normal" font-style="normal" fill="#333" color="#333" style="stroke-width:0.1px">***</text>
<path d="M185.50,235.55 L185.50,233.75 L217.50,233.75 L217.50,235.55" fill="none" stroke="#000" stroke-width="0.8"/>
<text transform="translate(201.50,232.55)" font-size="5.2" text-anchor="middle" font-weight="normal" font-style="normal" fill="#333" color="#333" style="stroke-width:0.1px">**</text>
<text transform="translate(192.50,215.50)" font-size="8.6" text-anchor="middle" font-weight="normal" font-style="normal" fill="#111" color="#111" style="stroke-width:0.1px">No. of GMP, BM</text>
<text transform="translate(138.20,252.90) rotate(-90) scale(0.63,1)" font-size="9.5" text-anchor="middle" font-weight="normal" font-style="normal" fill="#111" color="#111">Cell counts (x10<tspan dy="-3.2" font-size="6">6</tspan><tspan dy="3.2">)</tspan></text>
<line x1="274.20" y1="228.50" x2="274.20" y2="277.20" stroke="#000" stroke-width="1.1" />
<line x1="273.70" y1="277.20" x2="344.90" y2="277.20" stroke="#000" stroke-width="1.1" />
<line x1="271.20" y1="277.20" x2="274.20" y2="277.20" stroke="#000" stroke-width="0.9" />
<text transform="translate(268.00,279.50)" font-size="6.5" text-anchor="end" font-weight="normal" font-style="normal" fill="#222" color="#222">0</text>
<line x1="271.20" y1="267.78" x2="274.20" y2="267.78" stroke="#000" stroke-width="0.9" />
<text transform="translate(268.00,270.08)" font-size="6.5" text-anchor="end" font-weight="normal" font-style="normal" fill="#222" color="#222">5</text>
<line x1="271.20" y1="258.36" x2="274.20" y2="258.36" stroke="#000" stroke-width="0.9" />
<text transform="translate(268.00,260.66)" font-size="6.5" text-anchor="end" font-weight="normal" font-style="normal" fill="#222" color="#222">10</text>
<line x1="271.20" y1="248.94" x2="274.20" y2="248.94" stroke="#000" stroke-width="0.9" />
<text transform="translate(268.00,251.24)" font-size="6.5" text-anchor="end" font-weight="normal" font-style="normal" fill="#222" color="#222">15</text>
<line x1="271.20" y1="239.52" x2="274.20" y2="239.52" stroke="#000" stroke-width="0.9" />
<text transform="translate(268.00,241.82)" font-size="6.5" text-anchor="end" font-weight="normal" font-style="normal" fill="#222" color="#222">20</text>
<line x1="271.20" y1="230.10" x2="274.20" y2="230.10" stroke="#000" stroke-width="0.9" />
<text transform="translate(268.00,232.40)" font-size="6.5" text-anchor="end" font-weight="normal" font-style="normal" fill="#222" color="#222">25</text>
<rect x="277.30" y="248.75" width="12.00" height="28.45" fill="#A6002B" stroke="#7A0020" stroke-width="0.5" />
<line x1="283.30" y1="277.20" x2="283.30" y2="279.80" stroke="#000" stroke-width="0.8" />
<line x1="283.30" y1="244.98" x2="283.30" y2="252.52" stroke="#000" stroke-width="0.9" />
<line x1="281.00" y1="244.98" x2="285.60" y2="244.98" stroke="#000" stroke-width="0.9" />
<line x1="281.00" y1="252.52" x2="285.60" y2="252.52" stroke="#000" stroke-width="0.9" />
<circle cx="282.80" cy="243.66" r="1.35" fill="#000"/>
<circle cx="284.30" cy="245.93" r="1.35" fill="#000"/>
<circle cx="283.30" cy="247.06" r="1.35" fill="#000"/>
<circle cx="283.30" cy="255.91" r="1.35" fill="#000"/>
<rect x="295.00" y="232.93" width="12.00" height="44.27" fill="#57246F" stroke="#3A0F52" stroke-width="0.5" />
<line x1="301.00" y1="277.20" x2="301.00" y2="279.80" stroke="#000" stroke-width="0.8" />
<line x1="301.00" y1="232.55" x2="301.00" y2="233.30" stroke="#000" stroke-width="0.9" />
<line x1="298.70" y1="232.55" x2="303.30" y2="232.55" stroke="#000" stroke-width="0.9" />
<line x1="298.70" y1="233.30" x2="303.30" y2="233.30" stroke="#000" stroke-width="0.9" />
<circle cx="297.00" cy="233.11" r="1.35" fill="#000"/>
<circle cx="299.00" cy="233.11" r="1.35" fill="#000"/>
<circle cx="301.00" cy="233.11" r="1.35" fill="#000"/>
<circle cx="303.00" cy="233.11" r="1.35" fill="#000"/>
<circle cx="305.00" cy="233.11" r="1.35" fill="#000"/>
<rect x="312.80" y="263.64" width="12.00" height="13.56" fill="#2B4C86" stroke="#1B3366" stroke-width="0.5" />
<line x1="318.80" y1="277.20" x2="318.80" y2="279.80" stroke="#000" stroke-width="0.8" />
<line x1="318.80" y1="261.94" x2="318.80" y2="265.33" stroke="#000" stroke-width="0.9" />
<line x1="316.50" y1="261.94" x2="321.10" y2="261.94" stroke="#000" stroke-width="0.9" />
<line x1="316.50" y1="265.33" x2="321.10" y2="265.33" stroke="#000" stroke-width="0.9" />
<circle cx="317.80" cy="261.00" r="1.35" fill="#000"/>
<circle cx="320.30" cy="261.75" r="1.35" fill="#000"/>
<circle cx="317.30" cy="266.84" r="1.35" fill="#000"/>
<circle cx="319.30" cy="264.39" r="1.35" fill="#000"/>
<rect x="330.40" y="254.03" width="12.00" height="23.17" fill="#67AE3E" stroke="#4B8C2A" stroke-width="0.5" />
<line x1="336.40" y1="277.20" x2="336.40" y2="279.80" stroke="#000" stroke-width="0.8" />
<line x1="336.40" y1="249.69" x2="336.40" y2="258.36" stroke="#000" stroke-width="0.9" />
<line x1="334.10" y1="249.69" x2="338.70" y2="249.69" stroke="#000" stroke-width="0.9" />
<line x1="334.10" y1="258.36" x2="338.70" y2="258.36" stroke="#000" stroke-width="0.9" />
<circle cx="336.40" cy="243.48" r="1.35" fill="#000"/>
<circle cx="335.90" cy="253.65" r="1.35" fill="#000"/>
<circle cx="337.40" cy="255.16" r="1.35" fill="#000"/>
<circle cx="336.40" cy="264.01" r="1.35" fill="#000"/>
<path d="M280.40,223.60 L280.40,221.80 L338.30,221.80 L338.30,223.60" fill="none" stroke="#000" stroke-width="0.8"/>
<text transform="translate(309.35,220.60)" font-size="4.8" text-anchor="middle" font-weight="normal" font-style="normal" fill="#333" color="#333" style="stroke-width:0.1px">n.s.</text>
<path d="M281.00,231.60 L281.00,229.80 L301.40,229.80 L301.40,231.60" fill="none" stroke="#000" stroke-width="0.8"/>
<text transform="translate(291.20,228.60)" font-size="5.2" text-anchor="middle" font-weight="normal" font-style="normal" fill="#333" color="#333" style="stroke-width:0.1px">**</text>
<path d="M304.00,231.60 L304.00,229.80 L336.40,229.80 L336.40,231.60" fill="none" stroke="#000" stroke-width="0.8"/>
<text transform="translate(320.20,228.60)" font-size="5.2" text-anchor="middle" font-weight="normal" font-style="normal" fill="#333" color="#333" style="stroke-width:0.1px">**</text>
<text transform="translate(309.50,213.00)" font-size="8.6" text-anchor="middle" font-weight="normal" font-style="normal" fill="#111" color="#111" style="stroke-width:0.1px">No. of Mac1<tspan dy="-3" font-size="5.6">+</tspan><tspan dy="3">, BM</tspan></text>
<text transform="translate(252.50,252.90) rotate(-90) scale(0.63,1)" font-size="9.5" text-anchor="middle" font-weight="normal" font-style="normal" fill="#111" color="#111">Cell counts (x10<tspan dy="-3.2" font-size="6">6</tspan><tspan dy="3.2">)</tspan></text>
<rect x="354.60" y="237.00" width="15.20" height="5.60" fill="#A6002B" stroke="#7A0020" stroke-width="0.5" />
<text transform="translate(373.60,242.20)" font-size="6.6" text-anchor="start" font-weight="normal" font-style="normal" fill="#111" color="#111">WT</text>
<rect x="354.60" y="252.40" width="15.20" height="5.60" fill="#57246F" stroke="#3A0F52" stroke-width="0.5" />
<text transform="translate(373.60,257.60)" font-size="6.6" text-anchor="start" font-weight="normal" font-style="italic" fill="#111" color="#111">Shp2*</text>
<rect x="407.80" y="237.20" width="15.20" height="5.60" fill="#2B4C86" stroke="#1B3366" stroke-width="0.5" />
<text transform="translate(426.80,242.40)" font-size="6.6" text-anchor="start" font-weight="normal" font-style="italic" fill="#111" color="#111">M</text>
<rect x="407.80" y="252.50" width="15.20" height="5.60" fill="#67AE3E" stroke="#4B8C2A" stroke-width="0.5" />
<text transform="translate(426.80,257.70)" font-size="6.6" text-anchor="start" font-weight="normal" font-style="italic" fill="#111" color="#111">Shp2*M</text>
<line x1="435.20" y1="311.00" x2="435.20" y2="360.20" stroke="#000" stroke-width="1.1" />
<line x1="434.70" y1="360.20" x2="505.40" y2="360.20" stroke="#000" stroke-width="1.1" />
<line x1="432.20" y1="360.20" x2="435.20" y2="360.20" stroke="#000" stroke-width="0.9" />
<text transform="translate(429.00,362.50)" font-size="6.5" text-anchor="end" font-weight="normal" font-style="normal" fill="#222" color="#222">0.0</text>
<line x1="432.20" y1="348.58" x2="435.20" y2="348.58" stroke="#000" stroke-width="0.9" />
<text transform="translate(429.00,350.88)" font-size="6.5" text-anchor="end" font-weight="normal" font-style="normal" fill="#222" color="#222">0.1</text>
<line x1="432.20" y1="336.96" x2="435.20" y2="336.96" stroke="#000" stroke-width="0.9" />
<text transform="translate(429.00,339.26)" font-size="6.5" text-anchor="end" font-weight="normal" font-style="normal" fill="#222" color="#222">0.2</text>
<line x1="432.20" y1="325.34" x2="435.20" y2="325.34" stroke="#000" stroke-width="0.9" />
<text transform="translate(429.00,327.64)" font-size="6.5" text-anchor="end" font-weight="normal" font-style="normal" fill="#222" color="#222">0.3</text>
<line x1="432.20" y1="313.72" x2="435.20" y2="313.72" stroke="#000" stroke-width="0.9" />
<text transform="translate(429.00,316.02)" font-size="6.5" text-anchor="end" font-weight="normal" font-style="normal" fill="#222" color="#222">0.4</text>
<rect x="438.30" y="354.39" width="12.00" height="5.81" fill="#A6002B" stroke="#7A0020" stroke-width="0.5" />
<line x1="444.30" y1="360.20" x2="444.30" y2="362.80" stroke="#000" stroke-width="0.8" />
<line x1="444.30" y1="353.69" x2="444.30" y2="355.09" stroke="#000" stroke-width="0.9" />
<line x1="442.00" y1="353.69" x2="446.60" y2="353.69" stroke="#000" stroke-width="0.9" />
<line x1="442.00" y1="355.09" x2="446.60" y2="355.09" stroke="#000" stroke-width="0.9" />
<circle cx="441.30" cy="353.81" r="1.35" fill="#000"/>
<circle cx="443.30" cy="353.23" r="1.35" fill="#000"/>
<circle cx="445.30" cy="354.39" r="1.35" fill="#000"/>
<circle cx="447.30" cy="353.81" r="1.35" fill="#000"/>
<circle cx="444.30" cy="354.97" r="1.35" fill="#000"/>
<rect x="455.60" y="323.71" width="12.00" height="36.49" fill="#57246F" stroke="#3A0F52" stroke-width="0.5" />
<line x1="461.60" y1="360.20" x2="461.60" y2="362.80" stroke="#000" stroke-width="0.8" />
<line x1="461.60" y1="321.39" x2="461.60" y2="326.04" stroke="#000" stroke-width="0.9" />
<line x1="459.30" y1="321.39" x2="463.90" y2="321.39" stroke="#000" stroke-width="0.9" />
<line x1="459.30" y1="326.04" x2="463.90" y2="326.04" stroke="#000" stroke-width="0.9" />
<circle cx="461.60" cy="319.53" r="1.35" fill="#000"/>
<circle cx="460.10" cy="322.32" r="1.35" fill="#000"/>
<circle cx="463.10" cy="323.71" r="1.35" fill="#000"/>
<circle cx="461.60" cy="328.83" r="1.35" fill="#000"/>
<rect x="473.30" y="353.00" width="12.00" height="7.20" fill="#2B4C86" stroke="#1B3366" stroke-width="0.5" />
<line x1="479.30" y1="360.20" x2="479.30" y2="362.80" stroke="#000" stroke-width="0.8" />
<line x1="479.30" y1="351.25" x2="479.30" y2="354.74" stroke="#000" stroke-width="0.9" />
<line x1="477.00" y1="351.25" x2="481.60" y2="351.25" stroke="#000" stroke-width="0.9" />
<line x1="477.00" y1="354.74" x2="481.60" y2="354.74" stroke="#000" stroke-width="0.9" />
<circle cx="479.30" cy="347.53" r="1.35" fill="#000"/>
<circle cx="477.80" cy="354.39" r="1.35" fill="#000"/>
<circle cx="480.30" cy="354.97" r="1.35" fill="#000"/>
<circle cx="479.30" cy="356.13" r="1.35" fill="#000"/>
<rect x="490.90" y="338.12" width="12.00" height="22.08" fill="#67AE3E" stroke="#4B8C2A" stroke-width="0.5" />
<line x1="496.90" y1="360.20" x2="496.90" y2="362.80" stroke="#000" stroke-width="0.8" />
<line x1="496.90" y1="335.80" x2="496.90" y2="340.45" stroke="#000" stroke-width="0.9" />
<line x1="494.60" y1="335.80" x2="499.20" y2="335.80" stroke="#000" stroke-width="0.9" />
<line x1="494.60" y1="340.45" x2="499.20" y2="340.45" stroke="#000" stroke-width="0.9" />
<circle cx="495.40" cy="335.33" r="1.35" fill="#000"/>
<circle cx="498.70" cy="334.64" r="1.35" fill="#000"/>
<circle cx="496.90" cy="338.12" r="1.35" fill="#000"/>
<circle cx="496.90" cy="342.89" r="1.35" fill="#000"/>
<path d="M441.40,307.90 L441.40,306.10 L498.70,306.10 L498.70,307.90" fill="none" stroke="#000" stroke-width="0.8"/>
<text transform="translate(470.05,304.90)" font-size="5.2" text-anchor="middle" font-weight="normal" font-style="normal" fill="#333" color="#333" style="stroke-width:0.1px">***</text>
<path d="M441.00,319.40 L441.00,317.60 L461.60,317.60 L461.60,319.40" fill="none" stroke="#000" stroke-width="0.8"/>
<text transform="translate(451.30,316.40)" font-size="5.2" text-anchor="middle" font-weight="normal" font-style="normal" fill="#333" color="#333" style="stroke-width:0.1px">****</text>
<path d="M463.70,319.40 L463.70,317.60 L496.20,317.60 L496.20,319.40" fill="none" stroke="#000" stroke-width="0.8"/>
<text transform="translate(470.20,299.00)" font-size="8.6" text-anchor="middle" font-weight="normal" font-style="normal" fill="#111" color="#111" style="stroke-width:0.1px">Freq. of GMP, spleen</text>
<text transform="translate(413.40,336.00) rotate(-90) scale(0.63,1)" font-size="9.5" text-anchor="middle" font-weight="normal" font-style="normal" fill="#111" color="#111">Percentage</text>
<text transform="translate(471.50,335.80)" font-size="5.2" text-anchor="middle" font-weight="normal" font-style="normal" fill="#333" color="#333" style="stroke-width:0.1px">****</text>
<line x1="433.80" y1="401.50" x2="433.80" y2="451.10" stroke="#000" stroke-width="1.1" />
<line x1="433.30" y1="451.10" x2="504.20" y2="451.10" stroke="#000" stroke-width="1.1" />
<line x1="430.80" y1="451.10" x2="433.80" y2="451.10" stroke="#000" stroke-width="0.9" />
<text transform="translate(427.60,453.40)" font-size="6.5" text-anchor="end" font-weight="normal" font-style="normal" fill="#222" color="#222">0</text>
<line x1="430.80" y1="435.67" x2="433.80" y2="435.67" stroke="#000" stroke-width="0.9" />
<text transform="translate(427.60,437.97)" font-size="6.5" text-anchor="end" font-weight="normal" font-style="normal" fill="#222" color="#222">10</text>
<line x1="430.80" y1="420.24" x2="433.80" y2="420.24" stroke="#000" stroke-width="0.9" />
<text transform="translate(427.60,422.54)" font-size="6.5" text-anchor="end" font-weight="normal" font-style="normal" fill="#222" color="#222">20</text>
<line x1="430.80" y1="404.81" x2="433.80" y2="404.81" stroke="#000" stroke-width="0.9" />
<text transform="translate(427.60,407.11)" font-size="6.5" text-anchor="end" font-weight="normal" font-style="normal" fill="#222" color="#222">30</text>
<rect x="436.80" y="438.14" width="12.00" height="12.96" fill="#A6002B" stroke="#7A0020" stroke-width="0.5" />
<line x1="442.80" y1="451.10" x2="442.80" y2="453.70" stroke="#000" stroke-width="0.8" />
<line x1="442.80" y1="436.60" x2="442.80" y2="439.68" stroke="#000" stroke-width="0.9" />
<line x1="440.50" y1="436.60" x2="445.10" y2="436.60" stroke="#000" stroke-width="0.9" />
<line x1="440.50" y1="439.68" x2="445.10" y2="439.68" stroke="#000" stroke-width="0.9" />
<circle cx="441.80" cy="436.13" r="1.35" fill="#000"/>
<circle cx="444.30" cy="436.90" r="1.35" fill="#000"/>
<circle cx="441.80" cy="439.84" r="1.35" fill="#000"/>
<circle cx="443.60" cy="439.06" r="1.35" fill="#000"/>
<rect x="454.40" y="413.14" width="12.00" height="37.96" fill="#57246F" stroke="#3A0F52" stroke-width="0.5" />
<line x1="460.40" y1="451.10" x2="460.40" y2="453.70" stroke="#000" stroke-width="0.8" />
<line x1="460.40" y1="410.06" x2="460.40" y2="416.23" stroke="#000" stroke-width="0.9" />
<line x1="458.10" y1="410.06" x2="462.70" y2="410.06" stroke="#000" stroke-width="0.9" />
<line x1="458.10" y1="416.23" x2="462.70" y2="416.23" stroke="#000" stroke-width="0.9" />
<circle cx="460.40" cy="407.43" r="1.35" fill="#000"/>
<circle cx="459.90" cy="414.53" r="1.35" fill="#000"/>
<circle cx="460.40" cy="419.62" r="1.35" fill="#000"/>
<rect x="471.80" y="444.93" width="12.00" height="6.17" fill="#2B4C86" stroke="#1B3366" stroke-width="0.5" />
<line x1="477.80" y1="451.10" x2="477.80" y2="453.70" stroke="#000" stroke-width="0.8" />
<line x1="477.80" y1="444.47" x2="477.80" y2="445.39" stroke="#000" stroke-width="0.9" />
<line x1="475.50" y1="444.47" x2="480.10" y2="444.47" stroke="#000" stroke-width="0.9" />
<line x1="475.50" y1="445.39" x2="480.10" y2="445.39" stroke="#000" stroke-width="0.9" />
<circle cx="473.80" cy="445.24" r="1.35" fill="#000"/>
<circle cx="475.80" cy="445.08" r="1.35" fill="#000"/>
<circle cx="477.80" cy="445.24" r="1.35" fill="#000"/>
<circle cx="479.80" cy="445.08" r="1.35" fill="#000"/>
<circle cx="481.80" cy="445.24" r="1.35" fill="#000"/>
<rect x="489.70" y="433.36" width="12.00" height="17.74" fill="#67AE3E" stroke="#4B8C2A" stroke-width="0.5" />
<line x1="495.70" y1="451.10" x2="495.70" y2="453.70" stroke="#000" stroke-width="0.8" />
<line x1="495.70" y1="431.50" x2="495.70" y2="435.21" stroke="#000" stroke-width="0.9" />
<line x1="493.40" y1="431.50" x2="498.00" y2="431.50" stroke="#000" stroke-width="0.9" />
<line x1="493.40" y1="435.21" x2="498.00" y2="435.21" stroke="#000" stroke-width="0.9" />
<circle cx="495.70" cy="426.72" r="1.35" fill="#000"/>
<circle cx="493.70" cy="434.13" r="1.35" fill="#000"/>
<circle cx="496.70" cy="435.05" r="1.35" fill="#000"/>
<circle cx="498.20" cy="434.13" r="1.35" fill="#000"/>
<path d="M439.80,396.20 L439.80,394.40 L497.10,394.40 L497.10,396.20" fill="none" stroke="#000" stroke-width="0.8"/>
<path d="M439.40,405.60 L439.40,403.80 L459.60,403.80 L459.60,405.60" fill="none" stroke="#000" stroke-width="0.8"/>
<text transform="translate(449.50,402.60)" font-size="5.2" text-anchor="middle" font-weight="normal" font-style="normal" fill="#333" color="#333" style="stroke-width:0.1px">****</text>
<path d="M462.50,405.60 L462.50,403.80 L494.20,403.80 L494.20,405.60" fill="none" stroke="#000" stroke-width="0.8"/>
<text transform="translate(478.35,402.60)" font-size="5.2" text-anchor="middle" font-weight="normal" font-style="normal" fill="#333" color="#333" style="stroke-width:0.1px">****</text>
<text transform="translate(468.90,385.00)" font-size="8.6" text-anchor="middle" font-weight="normal" font-style="normal" fill="#111" color="#111" style="stroke-width:0.1px">Freq. of Mac1<tspan dy="-3" font-size="5.6">+</tspan><tspan dy="3">, spleen</tspan></text>
<text transform="translate(413.00,426.30) rotate(-90) scale(0.63,1)" font-size="9.5" text-anchor="middle" font-weight="normal" font-style="normal" fill="#111" color="#111">Percentage</text>
<text transform="translate(468.40,392.00)" font-size="6.0" text-anchor="middle" font-weight="normal" font-style="normal" fill="#333" color="#333" style="stroke-width:0.1px">p=0.08</text>
<line x1="135.80" y1="517.00" x2="135.80" y2="566.40" stroke="#000" stroke-width="1.1" />
<line x1="135.30" y1="566.40" x2="205.60" y2="566.40" stroke="#000" stroke-width="1.1" />
<line x1="132.80" y1="566.40" x2="135.80" y2="566.40" stroke="#000" stroke-width="0.9" />
<text transform="translate(129.60,568.70)" font-size="6.5" text-anchor="end" font-weight="normal" font-style="normal" fill="#222" color="#222">0</text>
<line x1="132.80" y1="557.04" x2="135.80" y2="557.04" stroke="#000" stroke-width="0.9" />
<text transform="translate(129.60,559.34)" font-size="6.5" text-anchor="end" font-weight="normal" font-style="normal" fill="#222" color="#222">10</text>
<line x1="132.80" y1="547.68" x2="135.80" y2="547.68" stroke="#000" stroke-width="0.9" />
<text transform="translate(129.60,549.98)" font-size="6.5" text-anchor="end" font-weight="normal" font-style="normal" fill="#222" color="#222">20</text>
<line x1="132.80" y1="538.32" x2="135.80" y2="538.32" stroke="#000" stroke-width="0.9" />
<text transform="translate(129.60,540.62)" font-size="6.5" text-anchor="end" font-weight="normal" font-style="normal" fill="#222" color="#222">30</text>
<line x1="132.80" y1="528.96" x2="135.80" y2="528.96" stroke="#000" stroke-width="0.9" />
<text transform="translate(129.60,531.26)" font-size="6.5" text-anchor="end" font-weight="normal" font-style="normal" fill="#222" color="#222">40</text>
<line x1="132.80" y1="519.60" x2="135.80" y2="519.60" stroke="#000" stroke-width="0.9" />
<text transform="translate(129.60,521.90)" font-size="6.5" text-anchor="end" font-weight="normal" font-style="normal" fill="#222" color="#222">50</text>
<rect x="138.10" y="546.18" width="12.00" height="20.22" fill="#A6002B" stroke="#7A0020" stroke-width="0.5" />
<line x1="144.10" y1="566.40" x2="144.10" y2="569.00" stroke="#000" stroke-width="0.8" />
<line x1="144.10" y1="543.75" x2="144.10" y2="548.62" stroke="#000" stroke-width="0.9" />
<line x1="141.80" y1="543.75" x2="146.40" y2="543.75" stroke="#000" stroke-width="0.9" />
<line x1="141.80" y1="548.62" x2="146.40" y2="548.62" stroke="#000" stroke-width="0.9" />
<circle cx="143.10" cy="541.78" r="1.35" fill="#000"/>
<circle cx="144.90" cy="541.13" r="1.35" fill="#000"/>
<circle cx="144.10" cy="548.34" r="1.35" fill="#000"/>
<circle cx="144.10" cy="553.39" r="1.35" fill="#000"/>
<rect x="156.00" y="556.01" width="12.00" height="10.39" fill="#57246F" stroke="#3A0F52" stroke-width="0.5" />
<line x1="162.00" y1="566.40" x2="162.00" y2="569.00" stroke="#000" stroke-width="0.8" />
<line x1="162.00" y1="555.26" x2="162.00" y2="556.76" stroke="#000" stroke-width="0.9" />
<line x1="159.70" y1="555.26" x2="164.30" y2="555.26" stroke="#000" stroke-width="0.9" />
<line x1="159.70" y1="556.76" x2="164.30" y2="556.76" stroke="#000" stroke-width="0.9" />
<circle cx="159.00" cy="555.17" r="1.35" fill="#000"/>
<circle cx="161.00" cy="556.57" r="1.35" fill="#000"/>
<circle cx="163.00" cy="554.70" r="1.35" fill="#000"/>
<circle cx="165.00" cy="555.64" r="1.35" fill="#000"/>
<circle cx="162.00" cy="557.04" r="1.35" fill="#000"/>
<rect x="173.50" y="528.40" width="12.00" height="38.00" fill="#2B4C86" stroke="#1B3366" stroke-width="0.5" />
<line x1="179.50" y1="566.40" x2="179.50" y2="569.00" stroke="#000" stroke-width="0.8" />
<line x1="179.50" y1="526.99" x2="179.50" y2="529.80" stroke="#000" stroke-width="0.9" />
<line x1="177.20" y1="526.99" x2="181.80" y2="526.99" stroke="#000" stroke-width="0.9" />
<line x1="177.20" y1="529.80" x2="181.80" y2="529.80" stroke="#000" stroke-width="0.9" />
<circle cx="177.50" cy="525.68" r="1.35" fill="#000"/>
<circle cx="180.00" cy="526.71" r="1.35" fill="#000"/>
<circle cx="178.00" cy="531.02" r="1.35" fill="#000"/>
<circle cx="181.00" cy="528.96" r="1.35" fill="#000"/>
<rect x="191.10" y="546.18" width="12.00" height="20.22" fill="#67AE3E" stroke="#4B8C2A" stroke-width="0.5" />
<line x1="197.10" y1="566.40" x2="197.10" y2="569.00" stroke="#000" stroke-width="0.8" />
<line x1="197.10" y1="544.12" x2="197.10" y2="548.24" stroke="#000" stroke-width="0.9" />
<line x1="194.80" y1="544.12" x2="199.40" y2="544.12" stroke="#000" stroke-width="0.9" />
<line x1="194.80" y1="548.24" x2="199.40" y2="548.24" stroke="#000" stroke-width="0.9" />
<circle cx="197.10" cy="539.26" r="1.35" fill="#000"/>
<circle cx="196.10" cy="548.43" r="1.35" fill="#000"/>
<circle cx="198.10" cy="547.68" r="1.35" fill="#000"/>
<circle cx="195.10" cy="549.55" r="1.35" fill="#000"/>
<path d="M140.40,512.60 L140.40,510.80 L198.50,510.80 L198.50,512.60" fill="none" stroke="#000" stroke-width="0.8"/>
<text transform="translate(169.45,509.60)" font-size="4.8" text-anchor="middle" font-weight="normal" font-style="normal" fill="#333" color="#333" style="stroke-width:0.1px">n.s.</text>
<path d="M140.40,521.30 L140.40,519.50 L160.60,519.50 L160.60,521.30" fill="none" stroke="#000" stroke-width="0.8"/>
<text transform="translate(150.50,518.30)" font-size="5.2" text-anchor="middle" font-weight="normal" font-style="normal" fill="#333" color="#333" style="stroke-width:0.1px">**</text>
<path d="M163.50,521.30 L163.50,519.50 L195.70,519.50 L195.70,521.30" fill="none" stroke="#000" stroke-width="0.8"/>
<text transform="translate(179.60,518.30)" font-size="5.2" text-anchor="middle" font-weight="normal" font-style="normal" fill="#333" color="#333" style="stroke-width:0.1px">**</text>
<text transform="translate(125.50,498.00)" font-size="8.6" text-anchor="middle" font-weight="normal" font-style="normal" fill="#111" color="#111" style="stroke-width:0.1px">Freq. of Annexin-V<tspan dy="-3" font-size="5.6">+</tspan><tspan dy="3"> (gated, Mac1</tspan><tspan dy="-3" font-size="5.6">+</tspan><tspan dy="3">)</tspan></text>
<text transform="translate(114.00,538.80) rotate(-90) scale(0.63,1)" font-size="9.5" text-anchor="middle" font-weight="normal" font-style="normal" fill="#111" color="#111">Annexin-V<tspan dy="-3.2" font-size="6">+</tspan><tspan dy="3.2"> (%)</tspan></text>
<line x1="130.50" y1="637.00" x2="130.50" y2="686.30" stroke="#000" stroke-width="1.1" />
<line x1="130.00" y1="686.30" x2="200.60" y2="686.30" stroke="#000" stroke-width="1.1" />
<line x1="127.50" y1="686.30" x2="130.50" y2="686.30" stroke="#000" stroke-width="0.9" />
<text transform="translate(124.30,688.60)" font-size="6.5" text-anchor="end" font-weight="normal" font-style="normal" fill="#222" color="#222">0</text>
<line x1="127.50" y1="674.60" x2="130.50" y2="674.60" stroke="#000" stroke-width="0.9" />
<text transform="translate(124.30,676.90)" font-size="6.5" text-anchor="end" font-weight="normal" font-style="normal" fill="#222" color="#222">20</text>
<line x1="127.50" y1="662.90" x2="130.50" y2="662.90" stroke="#000" stroke-width="0.9" />
<text transform="translate(124.30,665.20)" font-size="6.5" text-anchor="end" font-weight="normal" font-style="normal" fill="#222" color="#222">40</text>
<line x1="127.50" y1="651.20" x2="130.50" y2="651.20" stroke="#000" stroke-width="0.9" />
<text transform="translate(124.30,653.50)" font-size="6.5" text-anchor="end" font-weight="normal" font-style="normal" fill="#222" color="#222">60</text>
<line x1="127.50" y1="639.50" x2="130.50" y2="639.50" stroke="#000" stroke-width="0.9" />
<text transform="translate(124.30,641.80)" font-size="6.5" text-anchor="end" font-weight="normal" font-style="normal" fill="#222" color="#222">80</text>
<rect x="133.10" y="680.63" width="12.00" height="5.67" fill="#A6002B" stroke="#7A0020" stroke-width="0.5" />
<line x1="139.10" y1="686.30" x2="139.10" y2="688.90" stroke="#000" stroke-width="0.8" />
<line x1="139.10" y1="680.33" x2="139.10" y2="680.92" stroke="#000" stroke-width="0.9" />
<line x1="136.80" y1="680.33" x2="141.40" y2="680.33" stroke="#000" stroke-width="0.9" />
<line x1="136.80" y1="680.92" x2="141.40" y2="680.92" stroke="#000" stroke-width="0.9" />
<circle cx="135.10" cy="680.74" r="1.35" fill="#000"/>
<circle cx="137.10" cy="680.51" r="1.35" fill="#000"/>
<circle cx="139.10" cy="680.68" r="1.35" fill="#000"/>
<circle cx="141.10" cy="680.51" r="1.35" fill="#000"/>
<circle cx="143.10" cy="680.68" r="1.35" fill="#000"/>
<rect x="150.90" y="683.20" width="12.00" height="3.10" fill="#57246F" stroke="#3A0F52" stroke-width="0.5" />
<line x1="156.90" y1="686.30" x2="156.90" y2="688.90" stroke="#000" stroke-width="0.8" />
<line x1="156.90" y1="683.02" x2="156.90" y2="683.38" stroke="#000" stroke-width="0.9" />
<line x1="154.60" y1="683.02" x2="159.20" y2="683.02" stroke="#000" stroke-width="0.9" />
<line x1="154.60" y1="683.38" x2="159.20" y2="683.38" stroke="#000" stroke-width="0.9" />
<circle cx="152.90" cy="683.38" r="1.35" fill="#000"/>
<circle cx="154.90" cy="683.20" r="1.35" fill="#000"/>
<circle cx="156.90" cy="683.38" r="1.35" fill="#000"/>
<circle cx="158.90" cy="683.20" r="1.35" fill="#000"/>
<circle cx="160.90" cy="683.38" r="1.35" fill="#000"/>
<rect x="168.50" y="661.14" width="12.00" height="25.15" fill="#2B4C86" stroke="#1B3366" stroke-width="0.5" />
<line x1="174.50" y1="686.30" x2="174.50" y2="688.90" stroke="#000" stroke-width="0.8" />
<line x1="174.50" y1="660.27" x2="174.50" y2="662.02" stroke="#000" stroke-width="0.9" />
<line x1="172.20" y1="660.27" x2="176.80" y2="660.27" stroke="#000" stroke-width="0.9" />
<line x1="172.20" y1="662.02" x2="176.80" y2="662.02" stroke="#000" stroke-width="0.9" />
<circle cx="172.00" cy="660.27" r="1.35" fill="#000"/>
<circle cx="174.50" cy="659.51" r="1.35" fill="#000"/>
<circle cx="176.50" cy="660.85" r="1.35" fill="#000"/>
<circle cx="174.50" cy="662.61" r="1.35" fill="#000"/>
<rect x="186.10" y="657.93" width="12.00" height="28.37" fill="#67AE3E" stroke="#4B8C2A" stroke-width="0.5" />
<line x1="192.10" y1="686.30" x2="192.10" y2="688.90" stroke="#000" stroke-width="0.8" />
<line x1="192.10" y1="655.29" x2="192.10" y2="660.56" stroke="#000" stroke-width="0.9" />
<line x1="189.80" y1="655.29" x2="194.40" y2="655.29" stroke="#000" stroke-width="0.9" />
<line x1="189.80" y1="660.56" x2="194.40" y2="660.56" stroke="#000" stroke-width="0.9" />
<circle cx="191.10" cy="652.37" r="1.35" fill="#000"/>
<circle cx="193.10" cy="653.54" r="1.35" fill="#000"/>
<circle cx="191.10" cy="663.19" r="1.35" fill="#000"/>
<circle cx="193.10" cy="661.14" r="1.35" fill="#000"/>
<path d="M135.10,635.50 L135.10,633.70 L192.50,633.70 L192.50,635.50" fill="none" stroke="#000" stroke-width="0.8"/>
<text transform="translate(163.80,632.50)" font-size="5.2" text-anchor="middle" font-weight="normal" font-style="normal" fill="#333" color="#333" style="stroke-width:0.1px">****</text>
<path d="M135.10,648.40 L135.10,646.60 L155.60,646.60 L155.60,648.40" fill="none" stroke="#000" stroke-width="0.8"/>
<text transform="translate(145.35,645.40)" font-size="5.2" text-anchor="middle" font-weight="normal" font-style="normal" fill="#333" color="#333" style="stroke-width:0.1px">****</text>
<path d="M158.20,648.40 L158.20,646.60 L190.70,646.60 L190.70,648.40" fill="none" stroke="#000" stroke-width="0.8"/>
<text transform="translate(174.45,645.40)" font-size="5.2" text-anchor="middle" font-weight="normal" font-style="normal" fill="#333" color="#333" style="stroke-width:0.1px">****</text>
<text transform="translate(104.50,620.00)" font-size="8.6" text-anchor="middle" font-weight="normal" font-style="normal" fill="#111" color="#111" style="stroke-width:0.1px">Freq. of Bim<tspan dy="-3" font-size="5.6">+</tspan><tspan dy="3"> (gated, Mac1</tspan><tspan dy="-3" font-size="5.6">+</tspan><tspan dy="3">)</tspan></text>
<text transform="translate(110.00,662.50) rotate(-90) scale(0.63,1)" font-size="9.5" text-anchor="middle" font-weight="normal" font-style="normal" fill="#111" color="#111">Bim<tspan dy="-3.2" font-size="6">+</tspan><tspan dy="3.2"> (%)</tspan></text>
<defs><clipPath id="hc504"><rect x="21.4" y="504.3" width="67.30000000000001" height="66.90000000000003"/></clipPath></defs>
<g clip-path="url(#hc504)">
<path d="M20.4,521.3 L21.40,521.30 L21.82,521.30 L22.24,521.30 L22.66,521.30 L23.08,521.30 L23.50,521.30 L23.92,521.30 L24.34,521.30 L24.76,521.29 L25.19,521.29 L25.61,521.29 L26.03,521.29 L26.45,521.28 L26.87,521.28 L27.29,521.27 L27.71,521.26 L28.13,521.25 L28.55,521.23 L28.97,521.21 L29.39,521.18 L29.81,521.14 L30.23,521.09 L30.65,521.03 L31.07,520.95 L31.49,520.85 L31.92,520.73 L32.34,520.58 L32.76,520.69 L33.18,519.90 L33.60,519.70 L34.02,519.79 L34.44,519.24 L34.86,518.85 L35.28,518.20 L35.70,517.54 L36.12,517.48 L36.54,516.85 L36.96,515.46 L37.38,514.99 L37.80,513.88 L38.22,513.60 L38.65,512.33 L39.07,511.18 L39.49,510.65 L39.91,509.17 L40.33,508.33 L40.75,508.22 L41.17,507.48 L41.59,506.41 L42.01,505.54 L42.43,505.54 L42.85,505.35 L43.27,504.98 L43.69,505.22 L44.11,505.11 L44.53,505.09 L44.95,505.30 L45.38,505.85 L45.80,506.28 L46.22,506.77 L46.64,507.11 L47.06,507.82 L47.48,508.61 L47.90,508.55 L48.32,509.35 L48.74,509.85 L49.16,510.75 L49.58,510.62 L50.00,511.21 L50.42,512.25 L50.84,512.50 L51.26,512.58 L51.68,512.95 L52.11,513.11 L52.53,513.84 L52.95,513.82 L53.37,514.24 L53.79,514.82 L54.21,514.88 L54.63,514.92 L55.05,515.22 L55.47,515.77 L55.89,515.99 L56.31,516.71 L56.73,516.83 L57.15,516.67 L57.57,517.25 L57.99,517.73 L58.41,517.70 L58.84,517.85 L59.26,518.14 L59.68,518.64 L60.10,518.83 L60.52,519.01 L60.94,519.02 L61.36,519.44 L61.78,519.74 L62.20,519.85 L62.62,520.39 L63.04,520.54 L63.46,520.15 L63.88,520.06 L64.30,520.56 L64.72,520.66 L65.14,520.76 L65.57,520.84 L65.99,520.91 L66.41,520.97 L66.83,521.03 L67.25,521.07 L67.67,521.11 L68.09,521.14 L68.51,521.17 L68.93,521.20 L69.35,521.22 L69.77,521.23 L70.19,521.25 L70.61,521.26 L71.03,521.27 L71.45,521.27 L71.88,521.28 L72.30,521.28 L72.72,521.29 L73.14,521.29 L73.56,521.29 L73.98,521.29 L74.40,521.30 L74.82,521.30 L75.24,521.30 L75.66,521.30 L76.08,521.30 L76.50,521.30 L76.92,521.30 L77.34,521.30 L77.76,521.30 L78.18,521.30 L78.60,521.30 L79.03,521.30 L79.45,521.30 L79.87,521.30 L80.29,521.30 L80.71,521.30 L81.13,521.30 L81.55,521.30 L81.97,521.30 L82.39,521.30 L82.81,521.30 L83.23,521.30 L83.65,521.30 L84.07,521.30 L84.49,521.30 L84.91,521.30 L85.34,521.30 L85.76,521.30 L86.18,521.30 L86.60,521.30 L87.02,521.30 L87.44,521.30 L87.86,521.30 L88.28,521.30 L88.70,521.30 L89.7,521.3 Z" fill="#D48878" stroke="#C23040" stroke-width="0.85"/>
<path d="M20.4,537.7 L21.40,537.70 L21.82,537.70 L22.24,537.70 L22.66,537.70 L23.08,537.70 L23.50,537.70 L23.92,537.69 L24.34,537.69 L24.76,537.69 L25.19,537.69 L25.61,537.69 L26.03,537.69 L26.45,537.69 L26.87,537.68 L27.29,537.68 L27.71,537.68 L28.13,537.67 L28.55,537.66 L28.97,537.65 L29.39,537.63 L29.81,537.60 L30.23,537.56 L30.65,537.50 L31.07,537.41 L31.49,537.28 L31.92,537.08 L32.34,536.45 L32.76,536.09 L33.18,536.32 L33.60,535.67 L34.02,534.29 L34.44,533.42 L34.86,532.35 L35.28,531.37 L35.70,529.73 L36.12,528.26 L36.54,526.78 L36.96,525.67 L37.38,524.13 L37.80,523.03 L38.22,521.89 L38.65,521.09 L39.07,520.86 L39.49,521.24 L39.91,521.67 L40.33,522.42 L40.75,523.41 L41.17,524.37 L41.59,525.06 L42.01,526.25 L42.43,527.27 L42.85,527.88 L43.27,529.14 L43.69,530.01 L44.11,531.09 L44.53,532.01 L44.95,532.45 L45.38,533.22 L45.80,533.48 L46.22,533.59 L46.64,534.31 L47.06,535.10 L47.48,534.89 L47.90,535.28 L48.32,535.59 L48.74,535.68 L49.16,535.99 L49.58,536.13 L50.00,536.61 L50.42,536.21 L50.84,536.31 L51.26,537.03 L51.68,536.61 L52.11,536.69 L52.53,536.93 L52.95,536.93 L53.37,536.96 L53.79,536.99 L54.21,537.02 L54.63,537.05 L55.05,537.07 L55.47,537.10 L55.89,537.12 L56.31,537.15 L56.73,537.17 L57.15,537.20 L57.57,537.23 L57.99,537.25 L58.41,537.28 L58.84,537.30 L59.26,537.33 L59.68,537.35 L60.10,537.37 L60.52,537.40 L60.94,537.42 L61.36,537.44 L61.78,537.46 L62.20,537.48 L62.62,537.50 L63.04,537.51 L63.46,537.53 L63.88,537.54 L64.30,537.56 L64.72,537.57 L65.14,537.58 L65.57,537.60 L65.99,537.61 L66.41,537.62 L66.83,537.63 L67.25,537.63 L67.67,537.64 L68.09,537.65 L68.51,537.65 L68.93,537.66 L69.35,537.66 L69.77,537.67 L70.19,537.67 L70.61,537.68 L71.03,537.68 L71.45,537.68 L71.88,537.68 L72.30,537.69 L72.72,537.69 L73.14,537.69 L73.56,537.69 L73.98,537.69 L74.40,537.69 L74.82,537.69 L75.24,537.70 L75.66,537.70 L76.08,537.70 L76.50,537.70 L76.92,537.70 L77.34,537.70 L77.76,537.70 L78.18,537.70 L78.60,537.70 L79.03,537.70 L79.45,537.70 L79.87,537.70 L80.29,537.70 L80.71,537.70 L81.13,537.70 L81.55,537.70 L81.97,537.70 L82.39,537.70 L82.81,537.70 L83.23,537.70 L83.65,537.70 L84.07,537.70 L84.49,537.70 L84.91,537.70 L85.34,537.70 L85.76,537.70 L86.18,537.70 L86.60,537.70 L87.02,537.70 L87.44,537.70 L87.86,537.70 L88.28,537.70 L88.70,537.70 L89.7,537.7 Z" fill="#A888BC" stroke="#7A3A8E" stroke-width="0.85"/>
<path d="M20.4,554.0 L21.40,554.00 L21.82,554.00 L22.24,554.00 L22.66,554.00 L23.08,554.00 L23.50,554.00 L23.92,554.00 L24.34,554.00 L24.76,554.00 L25.19,554.00 L25.61,554.00 L26.03,553.99 L26.45,553.99 L26.87,553.98 L27.29,553.97 L27.71,553.96 L28.13,553.94 L28.55,553.91 L28.97,553.87 L29.39,553.82 L29.81,553.74 L30.23,553.63 L30.65,553.50 L31.07,553.32 L31.49,553.30 L31.92,552.77 L32.34,552.56 L32.76,551.95 L33.18,551.43 L33.60,551.31 L34.02,550.70 L34.44,549.33 L34.86,549.01 L35.28,548.22 L35.70,546.77 L36.12,546.34 L36.54,545.23 L36.96,544.74 L37.38,543.89 L37.80,543.65 L38.22,542.73 L38.65,542.12 L39.07,542.08 L39.49,541.69 L39.91,541.63 L40.33,542.08 L40.75,541.55 L41.17,541.77 L41.59,542.11 L42.01,542.45 L42.43,541.92 L42.85,542.35 L43.27,542.27 L43.69,542.23 L44.11,542.44 L44.53,542.34 L44.95,542.82 L45.38,542.55 L45.80,542.89 L46.22,542.56 L46.64,542.68 L47.06,543.39 L47.48,543.46 L47.90,543.52 L48.32,543.05 L48.74,543.63 L49.16,543.64 L49.58,544.07 L50.00,544.09 L50.42,544.38 L50.84,544.60 L51.26,544.62 L51.68,544.82 L52.11,544.78 L52.53,545.17 L52.95,545.18 L53.37,545.45 L53.79,545.56 L54.21,546.02 L54.63,546.64 L55.05,546.29 L55.47,546.41 L55.89,546.66 L56.31,547.13 L56.73,547.20 L57.15,547.79 L57.57,547.47 L57.99,547.84 L58.41,548.24 L58.84,548.58 L59.26,548.10 L59.68,548.15 L60.10,549.03 L60.52,548.63 L60.94,549.11 L61.36,549.50 L61.78,549.57 L62.20,549.39 L62.62,549.52 L63.04,550.40 L63.46,550.18 L63.88,550.88 L64.30,550.59 L64.72,551.15 L65.14,550.97 L65.57,551.14 L65.99,551.77 L66.41,551.62 L66.83,552.40 L67.25,552.80 L67.67,552.59 L68.09,553.23 L68.51,553.27 L68.93,553.25 L69.35,553.31 L69.77,553.43 L70.19,553.54 L70.61,553.62 L71.03,553.70 L71.45,553.76 L71.88,553.81 L72.30,553.85 L72.72,553.89 L73.14,553.91 L73.56,553.93 L73.98,553.95 L74.40,553.96 L74.82,553.97 L75.24,553.98 L75.66,553.99 L76.08,553.99 L76.50,553.99 L76.92,553.99 L77.34,554.00 L77.76,554.00 L78.18,554.00 L78.60,554.00 L79.03,554.00 L79.45,554.00 L79.87,554.00 L80.29,554.00 L80.71,554.00 L81.13,554.00 L81.55,554.00 L81.97,554.00 L82.39,554.00 L82.81,554.00 L83.23,554.00 L83.65,554.00 L84.07,554.00 L84.49,554.00 L84.91,554.00 L85.34,554.00 L85.76,554.00 L86.18,554.00 L86.60,554.00 L87.02,554.00 L87.44,554.00 L87.86,554.00 L88.28,554.00 L88.70,554.00 L89.7,554.0 Z" fill="#8898CA" stroke="#3C5AA2" stroke-width="0.85"/>
<path d="M20.4,570.8 L21.40,570.80 L21.82,570.80 L22.24,570.80 L22.66,570.80 L23.08,570.80 L23.50,570.80 L23.92,570.80 L24.34,570.80 L24.76,570.80 L25.19,570.80 L25.61,570.79 L26.03,570.79 L26.45,570.79 L26.87,570.79 L27.29,570.78 L27.71,570.78 L28.13,570.77 L28.55,570.76 L28.97,570.75 L29.39,570.73 L29.81,570.70 L30.23,570.66 L30.65,570.61 L31.07,570.53 L31.49,570.42 L31.92,570.27 L32.34,570.08 L32.76,569.97 L33.18,569.71 L33.60,569.10 L34.02,568.71 L34.44,568.10 L34.86,567.11 L35.28,565.87 L35.70,564.89 L36.12,563.73 L36.54,562.79 L36.96,561.26 L37.38,560.04 L37.80,558.76 L38.22,557.51 L38.65,556.29 L39.07,554.87 L39.49,554.15 L39.91,553.62 L40.33,553.35 L40.75,553.70 L41.17,553.87 L41.59,554.16 L42.01,554.76 L42.43,555.52 L42.85,556.45 L43.27,557.94 L43.69,558.68 L44.11,559.68 L44.53,560.78 L44.95,561.93 L45.38,562.64 L45.80,563.67 L46.22,563.89 L46.64,564.57 L47.06,565.33 L47.48,565.98 L47.90,566.06 L48.32,566.65 L48.74,566.79 L49.16,567.11 L49.58,567.56 L50.00,567.84 L50.42,567.92 L50.84,568.18 L51.26,568.48 L51.68,568.51 L52.11,568.31 L52.53,568.86 L52.95,568.93 L53.37,568.64 L53.79,568.90 L54.21,568.80 L54.63,568.88 L55.05,569.00 L55.47,568.64 L55.89,569.16 L56.31,569.07 L56.73,569.23 L57.15,569.01 L57.57,569.27 L57.99,569.27 L58.41,569.08 L58.84,569.39 L59.26,569.30 L59.68,569.15 L60.10,569.69 L60.52,569.77 L60.94,569.74 L61.36,569.48 L61.78,569.64 L62.20,569.94 L62.62,569.95 L63.04,570.11 L63.46,570.01 L63.88,570.05 L64.30,570.12 L64.72,570.18 L65.14,570.24 L65.57,570.30 L65.99,570.36 L66.41,570.41 L66.83,570.45 L67.25,570.50 L67.67,570.54 L68.09,570.57 L68.51,570.60 L68.93,570.63 L69.35,570.66 L69.77,570.68 L70.19,570.70 L70.61,570.72 L71.03,570.73 L71.45,570.74 L71.88,570.75 L72.30,570.76 L72.72,570.77 L73.14,570.78 L73.56,570.78 L73.98,570.78 L74.40,570.79 L74.82,570.79 L75.24,570.79 L75.66,570.79 L76.08,570.80 L76.50,570.80 L76.92,570.80 L77.34,570.80 L77.76,570.80 L78.18,570.80 L78.60,570.80 L79.03,570.80 L79.45,570.80 L79.87,570.80 L80.29,570.80 L80.71,570.80 L81.13,570.80 L81.55,570.80 L81.97,570.80 L82.39,570.80 L82.81,570.80 L83.23,570.80 L83.65,570.80 L84.07,570.80 L84.49,570.80 L84.91,570.80 L85.34,570.80 L85.76,570.80 L86.18,570.80 L86.60,570.80 L87.02,570.80 L87.44,570.80 L87.86,570.80 L88.28,570.80 L88.70,570.80 L89.7,570.8 Z" fill="#A8D890" stroke="#6DBA48" stroke-width="0.85"/>
</g>
<rect x="21.40" y="504.30" width="67.30" height="66.90" fill="none" stroke="#000" stroke-width="1.0" />
<line x1="47.90" y1="504.80" x2="47.90" y2="571.20" stroke="#222" stroke-width="1.2" stroke-dasharray="2.4,1.4"/>
<text transform="translate(59.30,516.20)" font-size="5.6" text-anchor="start" font-weight="normal" font-style="italic" fill="#333" color="#333" style="stroke-width:0.06px">WT: 26.5%</text>
<text transform="translate(59.30,532.60)" font-size="5.6" text-anchor="start" font-weight="normal" font-style="italic" fill="#333" color="#333" style="stroke-width:0.06px">Shp2*: 9.74%</text>
<text transform="translate(59.30,548.20)" font-size="5.6" text-anchor="start" font-weight="normal" font-style="italic" fill="#333" color="#333" style="stroke-width:0.06px">M: 43.8%</text>
<text transform="translate(60.00,564.60)" font-size="5.6" text-anchor="start" font-weight="normal" font-style="italic" fill="#333" color="#333" style="stroke-width:0.06px">Shp2*M: 18.0%</text>
<line x1="22.90" y1="571.20" x2="22.90" y2="572.10" stroke="#000" stroke-width="0.45" />
<line x1="25.96" y1="571.20" x2="25.96" y2="572.10" stroke="#000" stroke-width="0.45" />
<line x1="29.02" y1="571.20" x2="29.02" y2="572.10" stroke="#000" stroke-width="0.45" />
<line x1="32.09" y1="571.20" x2="32.09" y2="572.10" stroke="#000" stroke-width="0.45" />
<line x1="35.15" y1="571.20" x2="35.15" y2="572.10" stroke="#000" stroke-width="0.45" />
<line x1="38.21" y1="571.20" x2="38.21" y2="572.10" stroke="#000" stroke-width="0.45" />
<line x1="41.27" y1="571.20" x2="41.27" y2="572.10" stroke="#000" stroke-width="0.45" />
<line x1="44.33" y1="571.20" x2="44.33" y2="572.10" stroke="#000" stroke-width="0.45" />
<line x1="47.40" y1="571.20" x2="47.40" y2="572.10" stroke="#000" stroke-width="0.45" />
<line x1="50.46" y1="571.20" x2="50.46" y2="572.10" stroke="#000" stroke-width="0.45" />
<line x1="53.52" y1="571.20" x2="53.52" y2="572.10" stroke="#000" stroke-width="0.45" />
<line x1="56.58" y1="571.20" x2="56.58" y2="572.10" stroke="#000" stroke-width="0.45" />
<line x1="59.64" y1="571.20" x2="59.64" y2="572.10" stroke="#000" stroke-width="0.45" />
<line x1="62.70" y1="571.20" x2="62.70" y2="572.10" stroke="#000" stroke-width="0.45" />
<line x1="65.77" y1="571.20" x2="65.77" y2="572.10" stroke="#000" stroke-width="0.45" />
<line x1="68.83" y1="571.20" x2="68.83" y2="572.10" stroke="#000" stroke-width="0.45" />
<line x1="71.89" y1="571.20" x2="71.89" y2="572.10" stroke="#000" stroke-width="0.45" />
<line x1="74.95" y1="571.20" x2="74.95" y2="572.10" stroke="#000" stroke-width="0.45" />
<line x1="78.01" y1="571.20" x2="78.01" y2="572.10" stroke="#000" stroke-width="0.45" />
<line x1="81.08" y1="571.20" x2="81.08" y2="572.10" stroke="#000" stroke-width="0.45" />
<line x1="84.14" y1="571.20" x2="84.14" y2="572.10" stroke="#000" stroke-width="0.45" />
<line x1="87.20" y1="571.20" x2="87.20" y2="572.10" stroke="#000" stroke-width="0.45" />
<text x="25.60" y="583.60" font-size="6.3" text-anchor="middle" fill="#111" color="#111">&#8722;10<tspan dy="-2.7" font-size="4.28">3</tspan></text>
<text transform="translate(37.00,583.60)" font-size="6.3" text-anchor="middle" font-weight="normal" font-style="normal" fill="#111" color="#111">0</text>
<text x="48.10" y="583.60" font-size="6.3" text-anchor="middle" fill="#111" color="#111">10<tspan dy="-2.7" font-size="4.28">3</tspan></text>
<text x="66.40" y="583.60" font-size="6.3" text-anchor="middle" fill="#111" color="#111">10<tspan dy="-2.7" font-size="4.28">4</tspan></text>
<text x="82.30" y="583.60" font-size="6.3" text-anchor="middle" fill="#111" color="#111">10<tspan dy="-2.7" font-size="4.28">5</tspan></text>
<line x1="27.30" y1="595.00" x2="38.00" y2="595.00" stroke="#000" stroke-width="1.0" />
<path d="M37.80,592.60 L42.70,595.00 L37.80,597.40 Z" fill="#000"/>
<text transform="translate(46.50,598.40) scale(0.62,1)" font-size="9.3" text-anchor="start" font-weight="normal" font-style="normal" fill="#000" color="#000">Annexin-V</text>
<text transform="translate(16.00,528.50) rotate(-90) scale(0.76,1)" font-size="9.3" text-anchor="middle" font-weight="normal" font-style="normal" fill="#000" color="#000">% of Max</text>
<line x1="12.90" y1="561.80" x2="12.90" y2="551.00" stroke="#000" stroke-width="1.0" />
<path d="M10.40,552.30 L12.90,547.00 L15.40,552.30 Z" fill="#000"/>
<defs><clipPath id="hc625"><rect x="21.4" y="625.4" width="67.30000000000001" height="67.10000000000002"/></clipPath></defs>
<g clip-path="url(#hc625)">
<path d="M20.4,642.3 L21.40,642.30 L21.82,642.30 L22.24,642.30 L22.66,642.30 L23.08,642.30 L23.50,642.30 L23.92,642.30 L24.34,642.30 L24.76,642.30 L25.19,642.30 L25.61,642.30 L26.03,642.30 L26.45,642.30 L26.87,642.30 L27.29,642.30 L27.71,642.30 L28.13,642.30 L28.55,642.30 L28.97,642.30 L29.39,642.30 L29.81,642.30 L30.23,642.30 L30.65,642.30 L31.07,642.30 L31.49,642.30 L31.92,642.30 L32.34,642.30 L32.76,642.30 L33.18,642.30 L33.60,642.30 L34.02,642.30 L34.44,642.30 L34.86,642.30 L35.28,642.30 L35.70,642.30 L36.12,642.30 L36.54,642.29 L36.96,642.29 L37.38,642.29 L37.80,642.28 L38.22,642.26 L38.65,642.24 L39.07,642.20 L39.49,642.13 L39.91,642.00 L40.33,641.76 L40.75,641.29 L41.17,640.58 L41.59,639.58 L42.01,638.13 L42.43,636.51 L42.85,634.36 L43.27,632.76 L43.69,630.55 L44.11,628.80 L44.53,628.26 L44.95,628.24 L45.38,629.66 L45.80,631.00 L46.22,633.00 L46.64,634.73 L47.06,636.42 L47.48,638.15 L47.90,639.09 L48.32,639.81 L48.74,639.95 L49.16,640.42 L49.58,641.06 L50.00,640.91 L50.42,641.50 L50.84,641.38 L51.26,641.60 L51.68,641.74 L52.11,641.86 L52.53,641.96 L52.95,642.04 L53.37,642.10 L53.79,642.16 L54.21,642.20 L54.63,642.23 L55.05,642.25 L55.47,642.27 L55.89,642.28 L56.31,642.29 L56.73,642.29 L57.15,642.29 L57.57,642.30 L57.99,642.30 L58.41,642.30 L58.84,642.30 L59.26,642.30 L59.68,642.30 L60.10,642.30 L60.52,642.30 L60.94,642.30 L61.36,642.30 L61.78,642.30 L62.20,642.30 L62.62,642.30 L63.04,642.30 L63.46,642.30 L63.88,642.30 L64.30,642.30 L64.72,642.30 L65.14,642.30 L65.57,642.30 L65.99,642.30 L66.41,642.30 L66.83,642.30 L67.25,642.30 L67.67,642.30 L68.09,642.30 L68.51,642.30 L68.93,642.30 L69.35,642.30 L69.77,642.30 L70.19,642.30 L70.61,642.30 L71.03,642.30 L71.45,642.30 L71.88,642.30 L72.30,642.30 L72.72,642.30 L73.14,642.30 L73.56,642.30 L73.98,642.30 L74.40,642.30 L74.82,642.30 L75.24,642.30 L75.66,642.30 L76.08,642.30 L76.50,642.30 L76.92,642.30 L77.34,642.30 L77.76,642.30 L78.18,642.30 L78.60,642.30 L79.03,642.30 L79.45,642.30 L79.87,642.30 L80.29,642.30 L80.71,642.30 L81.13,642.30 L81.55,642.30 L81.97,642.30 L82.39,642.30 L82.81,642.30 L83.23,642.30 L83.65,642.30 L84.07,642.30 L84.49,642.30 L84.91,642.30 L85.34,642.30 L85.76,642.30 L86.18,642.30 L86.60,642.30 L87.02,642.30 L87.44,642.30 L87.86,642.30 L88.28,642.30 L88.70,642.30 L89.7,642.3 Z" fill="#D48878" stroke="#C23040" stroke-width="0.85"/>
<path d="M20.4,658.7 L21.40,658.70 L21.82,658.70 L22.24,658.70 L22.66,658.70 L23.08,658.70 L23.50,658.70 L23.92,658.70 L24.34,658.70 L24.76,658.70 L25.19,658.70 L25.61,658.70 L26.03,658.70 L26.45,658.70 L26.87,658.70 L27.29,658.70 L27.71,658.70 L28.13,658.70 L28.55,658.70 L28.97,658.70 L29.39,658.70 L29.81,658.70 L30.23,658.70 L30.65,658.70 L31.07,658.70 L31.49,658.70 L31.92,658.70 L32.34,658.70 L32.76,658.70 L33.18,658.70 L33.60,658.70 L34.02,658.69 L34.44,658.69 L34.86,658.68 L35.28,658.67 L35.70,658.65 L36.12,658.62 L36.54,658.56 L36.96,658.45 L37.38,658.28 L37.80,658.00 L38.22,657.37 L38.65,656.69 L39.07,655.94 L39.49,654.82 L39.91,653.39 L40.33,651.16 L40.75,649.32 L41.17,647.25 L41.59,645.87 L42.01,644.51 L42.43,644.32 L42.85,644.22 L43.27,645.12 L43.69,646.66 L44.11,648.24 L44.53,649.90 L44.95,651.86 L45.38,653.11 L45.80,654.17 L46.22,655.44 L46.64,655.84 L47.06,656.46 L47.48,656.78 L47.90,657.42 L48.32,657.82 L48.74,657.62 L49.16,657.98 L49.58,658.13 L50.00,658.26 L50.42,658.37 L50.84,658.45 L51.26,658.52 L51.68,658.57 L52.11,658.61 L52.53,658.64 L52.95,658.66 L53.37,658.67 L53.79,658.68 L54.21,658.69 L54.63,658.69 L55.05,658.70 L55.47,658.70 L55.89,658.70 L56.31,658.70 L56.73,658.70 L57.15,658.70 L57.57,658.70 L57.99,658.70 L58.41,658.70 L58.84,658.70 L59.26,658.70 L59.68,658.70 L60.10,658.70 L60.52,658.70 L60.94,658.70 L61.36,658.70 L61.78,658.70 L62.20,658.70 L62.62,658.70 L63.04,658.70 L63.46,658.70 L63.88,658.70 L64.30,658.70 L64.72,658.70 L65.14,658.70 L65.57,658.70 L65.99,658.70 L66.41,658.70 L66.83,658.70 L67.25,658.70 L67.67,658.70 L68.09,658.70 L68.51,658.70 L68.93,658.70 L69.35,658.70 L69.77,658.70 L70.19,658.70 L70.61,658.70 L71.03,658.70 L71.45,658.70 L71.88,658.70 L72.30,658.70 L72.72,658.70 L73.14,658.70 L73.56,658.70 L73.98,658.70 L74.40,658.70 L74.82,658.70 L75.24,658.70 L75.66,658.70 L76.08,658.70 L76.50,658.70 L76.92,658.70 L77.34,658.70 L77.76,658.70 L78.18,658.70 L78.60,658.70 L79.03,658.70 L79.45,658.70 L79.87,658.70 L80.29,658.70 L80.71,658.70 L81.13,658.70 L81.55,658.70 L81.97,658.70 L82.39,658.70 L82.81,658.70 L83.23,658.70 L83.65,658.70 L84.07,658.70 L84.49,658.70 L84.91,658.70 L85.34,658.70 L85.76,658.70 L86.18,658.70 L86.60,658.70 L87.02,658.70 L87.44,658.70 L87.86,658.70 L88.28,658.70 L88.70,658.70 L89.7,658.7 Z" fill="#A888BC" stroke="#7A3A8E" stroke-width="0.85"/>
<path d="M20.4,675.5 L21.40,675.50 L21.82,675.50 L22.24,675.50 L22.66,675.50 L23.08,675.50 L23.50,675.50 L23.92,675.50 L24.34,675.50 L24.76,675.50 L25.19,675.50 L25.61,675.50 L26.03,675.50 L26.45,675.50 L26.87,675.50 L27.29,675.50 L27.71,675.50 L28.13,675.50 L28.55,675.50 L28.97,675.50 L29.39,675.50 L29.81,675.50 L30.23,675.50 L30.65,675.50 L31.07,675.50 L31.49,675.50 L31.92,675.50 L32.34,675.50 L32.76,675.50 L33.18,675.50 L33.60,675.50 L34.02,675.50 L34.44,675.50 L34.86,675.50 L35.28,675.49 L35.70,675.49 L36.12,675.48 L36.54,675.47 L36.96,675.45 L37.38,675.42 L37.80,675.36 L38.22,675.27 L38.65,675.14 L39.07,674.95 L39.49,674.80 L39.91,674.56 L40.33,673.82 L40.75,673.64 L41.17,672.75 L41.59,672.19 L42.01,671.68 L42.43,670.75 L42.85,670.43 L43.27,669.69 L43.69,669.52 L44.11,669.20 L44.53,668.72 L44.95,668.12 L45.38,668.01 L45.80,667.15 L46.22,665.84 L46.64,664.38 L47.06,663.31 L47.48,662.37 L47.90,661.46 L48.32,662.13 L48.74,662.45 L49.16,664.21 L49.58,666.10 L50.00,668.03 L50.42,669.72 L50.84,670.93 L51.26,672.49 L51.68,673.09 L52.11,673.63 L52.53,674.17 L52.95,674.32 L53.37,674.78 L53.79,674.92 L54.21,674.76 L54.63,674.86 L55.05,674.95 L55.47,675.03 L55.89,675.10 L56.31,675.16 L56.73,675.22 L57.15,675.27 L57.57,675.31 L57.99,675.35 L58.41,675.38 L58.84,675.41 L59.26,675.43 L59.68,675.44 L60.10,675.46 L60.52,675.47 L60.94,675.48 L61.36,675.48 L61.78,675.49 L62.20,675.49 L62.62,675.49 L63.04,675.50 L63.46,675.50 L63.88,675.50 L64.30,675.50 L64.72,675.50 L65.14,675.50 L65.57,675.50 L65.99,675.50 L66.41,675.50 L66.83,675.50 L67.25,675.50 L67.67,675.50 L68.09,675.50 L68.51,675.50 L68.93,675.50 L69.35,675.50 L69.77,675.50 L70.19,675.50 L70.61,675.50 L71.03,675.50 L71.45,675.50 L71.88,675.50 L72.30,675.50 L72.72,675.50 L73.14,675.50 L73.56,675.50 L73.98,675.50 L74.40,675.50 L74.82,675.50 L75.24,675.50 L75.66,675.50 L76.08,675.50 L76.50,675.50 L76.92,675.50 L77.34,675.50 L77.76,675.50 L78.18,675.50 L78.60,675.50 L79.03,675.50 L79.45,675.50 L79.87,675.50 L80.29,675.50 L80.71,675.50 L81.13,675.50 L81.55,675.50 L81.97,675.50 L82.39,675.50 L82.81,675.50 L83.23,675.50 L83.65,675.50 L84.07,675.50 L84.49,675.50 L84.91,675.50 L85.34,675.50 L85.76,675.50 L86.18,675.50 L86.60,675.50 L87.02,675.50 L87.44,675.50 L87.86,675.50 L88.28,675.50 L88.70,675.50 L89.7,675.5 Z" fill="#8898CA" stroke="#3C5AA2" stroke-width="0.85"/>
<path d="M20.4,692.4 L21.40,692.40 L21.82,692.40 L22.24,692.40 L22.66,692.40 L23.08,692.40 L23.50,692.40 L23.92,692.40 L24.34,692.40 L24.76,692.40 L25.19,692.40 L25.61,692.40 L26.03,692.40 L26.45,692.40 L26.87,692.40 L27.29,692.40 L27.71,692.40 L28.13,692.40 L28.55,692.40 L28.97,692.40 L29.39,692.40 L29.81,692.40 L30.23,692.40 L30.65,692.40 L31.07,692.40 L31.49,692.40 L31.92,692.40 L32.34,692.40 L32.76,692.40 L33.18,692.40 L33.60,692.39 L34.02,692.39 L34.44,692.39 L34.86,692.38 L35.28,692.38 L35.70,692.37 L36.12,692.36 L36.54,692.35 L36.96,692.33 L37.38,692.30 L37.80,692.28 L38.22,692.24 L38.65,692.20 L39.07,692.14 L39.49,692.08 L39.91,692.01 L40.33,691.92 L40.75,691.82 L41.17,691.71 L41.59,691.70 L42.01,691.27 L42.43,691.46 L42.85,691.07 L43.27,691.12 L43.69,690.80 L44.11,690.12 L44.53,689.82 L44.95,688.63 L45.38,687.15 L45.80,685.00 L46.22,682.38 L46.64,679.83 L47.06,677.41 L47.48,676.62 L47.90,676.87 L48.32,678.55 L48.74,680.91 L49.16,683.56 L49.58,685.80 L50.00,687.91 L50.42,689.33 L50.84,690.10 L51.26,690.31 L51.68,690.99 L52.11,690.99 L52.53,691.27 L52.95,691.31 L53.37,691.58 L53.79,691.64 L54.21,691.76 L54.63,691.87 L55.05,691.96 L55.47,692.04 L55.89,692.11 L56.31,692.17 L56.73,692.22 L57.15,692.26 L57.57,692.29 L57.99,692.31 L58.41,692.34 L58.84,692.35 L59.26,692.36 L59.68,692.37 L60.10,692.38 L60.52,692.39 L60.94,692.39 L61.36,692.39 L61.78,692.40 L62.20,692.40 L62.62,692.40 L63.04,692.40 L63.46,692.40 L63.88,692.40 L64.30,692.40 L64.72,692.40 L65.14,692.40 L65.57,692.40 L65.99,692.40 L66.41,692.40 L66.83,692.40 L67.25,692.40 L67.67,692.40 L68.09,692.40 L68.51,692.40 L68.93,692.40 L69.35,692.40 L69.77,692.40 L70.19,692.40 L70.61,692.40 L71.03,692.40 L71.45,692.40 L71.88,692.40 L72.30,692.40 L72.72,692.40 L73.14,692.40 L73.56,692.40 L73.98,692.40 L74.40,692.40 L74.82,692.40 L75.24,692.40 L75.66,692.40 L76.08,692.40 L76.50,692.40 L76.92,692.40 L77.34,692.40 L77.76,692.40 L78.18,692.40 L78.60,692.40 L79.03,692.40 L79.45,692.40 L79.87,692.40 L80.29,692.40 L80.71,692.40 L81.13,692.40 L81.55,692.40 L81.97,692.40 L82.39,692.40 L82.81,692.40 L83.23,692.40 L83.65,692.40 L84.07,692.40 L84.49,692.40 L84.91,692.40 L85.34,692.40 L85.76,692.40 L86.18,692.40 L86.60,692.40 L87.02,692.40 L87.44,692.40 L87.86,692.40 L88.28,692.40 L88.70,692.40 L89.7,692.4 Z" fill="#A8D890" stroke="#6DBA48" stroke-width="0.85"/>
</g>
<rect x="21.40" y="625.40" width="67.30" height="67.10" fill="none" stroke="#000" stroke-width="1.0" />
<line x1="47.90" y1="625.90" x2="47.90" y2="692.50" stroke="#222" stroke-width="1.2" stroke-dasharray="2.4,1.4"/>
<text transform="translate(59.30,636.20)" font-size="5.6" text-anchor="start" font-weight="normal" font-style="italic" fill="#333" color="#333" style="stroke-width:0.06px">WT: 8.67%</text>
<text transform="translate(59.30,652.60)" font-size="5.6" text-anchor="start" font-weight="normal" font-style="italic" fill="#333" color="#333" style="stroke-width:0.06px">Shp2*: 3.89%</text>
<text transform="translate(59.30,668.20)" font-size="5.6" text-anchor="start" font-weight="normal" font-style="italic" fill="#333" color="#333" style="stroke-width:0.06px">M: 43.0%</text>
<text transform="translate(59.30,684.60)" font-size="5.6" text-anchor="start" font-weight="normal" font-style="italic" fill="#333" color="#333" style="stroke-width:0.06px">Shp2*M: 57.2%</text>
<line x1="22.90" y1="692.50" x2="22.90" y2="693.40" stroke="#000" stroke-width="0.45" />
<line x1="25.96" y1="692.50" x2="25.96" y2="693.40" stroke="#000" stroke-width="0.45" />
<line x1="29.02" y1="692.50" x2="29.02" y2="693.40" stroke="#000" stroke-width="0.45" />
<line x1="32.09" y1="692.50" x2="32.09" y2="693.40" stroke="#000" stroke-width="0.45" />
<line x1="35.15" y1="692.50" x2="35.15" y2="693.40" stroke="#000" stroke-width="0.45" />
<line x1="38.21" y1="692.50" x2="38.21" y2="693.40" stroke="#000" stroke-width="0.45" />
<line x1="41.27" y1="692.50" x2="41.27" y2="693.40" stroke="#000" stroke-width="0.45" />
<line x1="44.33" y1="692.50" x2="44.33" y2="693.40" stroke="#000" stroke-width="0.45" />
<line x1="47.40" y1="692.50" x2="47.40" y2="693.40" stroke="#000" stroke-width="0.45" />
<line x1="50.46" y1="692.50" x2="50.46" y2="693.40" stroke="#000" stroke-width="0.45" />
<line x1="53.52" y1="692.50" x2="53.52" y2="693.40" stroke="#000" stroke-width="0.45" />
<line x1="56.58" y1="692.50" x2="56.58" y2="693.40" stroke="#000" stroke-width="0.45" />
<line x1="59.64" y1="692.50" x2="59.64" y2="693.40" stroke="#000" stroke-width="0.45" />
<line x1="62.70" y1="692.50" x2="62.70" y2="693.40" stroke="#000" stroke-width="0.45" />
<line x1="65.77" y1="692.50" x2="65.77" y2="693.40" stroke="#000" stroke-width="0.45" />
<line x1="68.83" y1="692.50" x2="68.83" y2="693.40" stroke="#000" stroke-width="0.45" />
<line x1="71.89" y1="692.50" x2="71.89" y2="693.40" stroke="#000" stroke-width="0.45" />
<line x1="74.95" y1="692.50" x2="74.95" y2="693.40" stroke="#000" stroke-width="0.45" />
<line x1="78.01" y1="692.50" x2="78.01" y2="693.40" stroke="#000" stroke-width="0.45" />
<line x1="81.08" y1="692.50" x2="81.08" y2="693.40" stroke="#000" stroke-width="0.45" />
<line x1="84.14" y1="692.50" x2="84.14" y2="693.40" stroke="#000" stroke-width="0.45" />
<line x1="87.20" y1="692.50" x2="87.20" y2="693.40" stroke="#000" stroke-width="0.45" />
<text x="25.60" y="704.60" font-size="6.3" text-anchor="middle" fill="#111" color="#111">&#8722;10<tspan dy="-2.7" font-size="4.28">3</tspan></text>
<text transform="translate(37.00,704.60)" font-size="6.3" text-anchor="middle" font-weight="normal" font-style="normal" fill="#111" color="#111">0</text>
<text x="48.10" y="704.60" font-size="6.3" text-anchor="middle" fill="#111" color="#111">10<tspan dy="-2.7" font-size="4.28">3</tspan></text>
<text x="66.40" y="704.60" font-size="6.3" text-anchor="middle" fill="#111" color="#111">10<tspan dy="-2.7" font-size="4.28">4</tspan></text>
<text x="82.30" y="704.60" font-size="6.3" text-anchor="middle" fill="#111" color="#111">10<tspan dy="-2.7" font-size="4.28">5</tspan></text>
<line x1="27.30" y1="715.70" x2="38.00" y2="715.70" stroke="#000" stroke-width="1.0" />
<path d="M37.80,713.30 L42.70,715.70 L37.80,718.10 Z" fill="#000"/>
<text transform="translate(46.50,719.10) scale(0.62,1)" font-size="9.3" text-anchor="start" font-weight="normal" font-style="normal" fill="#000" color="#000">BIM</text>
<text transform="translate(16.00,649.50) rotate(-90) scale(0.76,1)" font-size="9.3" text-anchor="middle" font-weight="normal" font-style="normal" fill="#000" color="#000">% of Max</text>
<line x1="12.90" y1="682.00" x2="12.90" y2="671.00" stroke="#000" stroke-width="1.0" />
<path d="M10.40,672.30 L12.90,667.00 L15.40,672.30 Z" fill="#000"/>
<line x1="266.10" y1="488.30" x2="266.10" y2="615.40" stroke="#000" stroke-width="1.1" />
<line x1="265.60" y1="614.90" x2="411.70" y2="614.90" stroke="#000" stroke-width="1.1" />
<line x1="263.90" y1="609.35" x2="266.10" y2="609.35" stroke="#000" stroke-width="0.9" />
<text transform="translate(259.60,611.55)" font-size="6.4" text-anchor="end" font-weight="normal" font-style="normal" fill="#222" color="#222">0</text>
<line x1="263.90" y1="580.44" x2="266.10" y2="580.44" stroke="#000" stroke-width="0.9" />
<text transform="translate(259.60,582.64)" font-size="6.4" text-anchor="end" font-weight="normal" font-style="normal" fill="#222" color="#222">25</text>
<line x1="263.90" y1="551.52" x2="266.10" y2="551.52" stroke="#000" stroke-width="0.9" />
<text transform="translate(259.60,553.73)" font-size="6.4" text-anchor="end" font-weight="normal" font-style="normal" fill="#222" color="#222">50</text>
<line x1="263.90" y1="522.61" x2="266.10" y2="522.61" stroke="#000" stroke-width="0.9" />
<text transform="translate(259.60,524.81)" font-size="6.4" text-anchor="end" font-weight="normal" font-style="normal" fill="#222" color="#222">75</text>
<line x1="263.90" y1="493.70" x2="266.10" y2="493.70" stroke="#000" stroke-width="0.9" />
<text transform="translate(259.60,495.90)" font-size="6.4" text-anchor="end" font-weight="normal" font-style="normal" fill="#222" color="#222">100</text>
<line x1="272.50" y1="614.90" x2="272.50" y2="617.10" stroke="#000" stroke-width="0.9" />
<text transform="translate(272.50,628.30)" font-size="6.4" text-anchor="middle" font-weight="normal" font-style="normal" fill="#222" color="#222">0</text>
<line x1="305.62" y1="614.90" x2="305.62" y2="617.10" stroke="#000" stroke-width="0.9" />
<text transform="translate(305.62,628.30)" font-size="6.4" text-anchor="middle" font-weight="normal" font-style="normal" fill="#222" color="#222">4</text>
<line x1="338.74" y1="614.90" x2="338.74" y2="617.10" stroke="#000" stroke-width="0.9" />
<text transform="translate(338.74,628.30)" font-size="6.4" text-anchor="middle" font-weight="normal" font-style="normal" fill="#222" color="#222">8</text>
<line x1="371.86" y1="614.90" x2="371.86" y2="617.10" stroke="#000" stroke-width="0.9" />
<text transform="translate(371.86,628.30)" font-size="6.4" text-anchor="middle" font-weight="normal" font-style="normal" fill="#222" color="#222">12</text>
<line x1="404.98" y1="614.90" x2="404.98" y2="617.10" stroke="#000" stroke-width="0.9" />
<text transform="translate(404.98,628.30)" font-size="6.4" text-anchor="middle" font-weight="normal" font-style="normal" fill="#222" color="#222">16</text>
<polyline points="272.70,493.70 278.60,493.70 278.60,508.30 281.40,508.30 281.40,522.80 284.20,522.80 284.20,537.20 412.30,537.20" fill="none" stroke="#6AB040" stroke-width="1.3"/>
<polyline points="274.00,493.70 274.00,503.60 275.80,503.60 275.80,514.80 278.60,514.80 278.60,525.00 280.10,525.00 280.10,537.70 282.30,537.70 282.30,549.60 287.50,549.60 287.50,561.30 288.80,561.30 288.80,573.40 294.40,573.40 294.40,585.50 311.70,585.50 311.70,609.30" fill="none" stroke="#5A2378" stroke-width="1.3"/>
<line x1="311.50" y1="535.50" x2="311.50" y2="539.00" stroke="#6AB040" stroke-width="0.6" />
<line x1="367.70" y1="535.50" x2="367.70" y2="539.00" stroke="#6AB040" stroke-width="0.6" />
<line x1="372.30" y1="535.50" x2="372.30" y2="539.00" stroke="#6AB040" stroke-width="0.6" />
<line x1="389.20" y1="535.50" x2="389.20" y2="539.00" stroke="#6AB040" stroke-width="0.6" />
<line x1="412.00" y1="535.50" x2="412.00" y2="539.00" stroke="#6AB040" stroke-width="0.6" />
<line x1="302.40" y1="583.80" x2="302.40" y2="587.20" stroke="#5A2378" stroke-width="0.6" />
<line x1="275.50" y1="512.80" x2="275.50" y2="516.30" stroke="#5A2378" stroke-width="0.5" />
<line x1="278.60" y1="523.50" x2="278.60" y2="526.50" stroke="#5A2378" stroke-width="0.5" />
<line x1="346.20" y1="500.80" x2="358.40" y2="500.80" stroke="#5A2378" stroke-width="1.3" />
<line x1="352.30" y1="499.00" x2="352.30" y2="502.60" stroke="#5A2378" stroke-width="0.7" />
<line x1="346.20" y1="511.20" x2="358.40" y2="511.20" stroke="#6AB040" stroke-width="1.3" />
<line x1="352.30" y1="509.40" x2="352.30" y2="513.00" stroke="#6AB040" stroke-width="0.7" />
<text transform="translate(361.20,503.00)" font-size="5.7" text-anchor="start" font-weight="normal" font-style="normal" fill="#222" color="#222" style="stroke-width:0.08px">High <tspan font-style="italic">MORRBID</tspan></text>
<text transform="translate(361.20,513.40)" font-size="5.7" text-anchor="start" font-weight="normal" font-style="normal" fill="#222" color="#222" style="stroke-width:0.08px">Low <tspan font-style="italic">MORRBID</tspan></text>
<path d="M415.8,535.4 L418,535.4 L418,609.2 L415.8,609.2" fill="none" stroke="#000" stroke-width="0.9"/>
<text transform="translate(421.30,574.30)" font-size="5.7" text-anchor="start" font-weight="normal" font-style="normal" fill="#222" color="#222" style="stroke-width:0.08px">*, p = 0.049</text>
<text transform="translate(367.70,548.80)" font-size="5.5" text-anchor="start" font-weight="normal" font-style="normal" fill="#222" color="#222" style="stroke-width:0.08px"><tspan font-style="italic">PTPN11</tspan>, n=3;</text>
<text transform="translate(367.70,555.80)" font-size="5.5" text-anchor="start" font-weight="normal" font-style="normal" fill="#222" color="#222" style="stroke-width:0.08px"><tspan font-style="italic">NRAS</tspan>, n=4;</text>
<text transform="translate(316.50,592.70)" font-size="5.5" text-anchor="start" font-weight="normal" font-style="normal" fill="#222" color="#222" style="stroke-width:0.08px"><tspan font-style="italic">PTPN11</tspan>, n=8;</text>
<text transform="translate(316.50,599.30)" font-size="5.5" text-anchor="start" font-weight="normal" font-style="normal" fill="#222" color="#222" style="stroke-width:0.08px"><tspan font-style="italic">KRAS</tspan>, n=1;</text>
<text transform="translate(316.50,605.70)" font-size="5.5" text-anchor="start" font-weight="normal" font-style="normal" fill="#222" color="#222" style="stroke-width:0.08px"><tspan font-style="italic">NRAS</tspan>, n=1</text>
<text transform="translate(338.80,640.80) scale(0.64,1)" font-size="9.5" text-anchor="middle" font-weight="normal" font-style="normal" fill="#000" color="#000">Time (years)</text>
<text transform="translate(242.60,552.10) rotate(-90) scale(0.625,1)" font-size="9.5" text-anchor="middle" font-weight="normal" font-style="normal" fill="#000" color="#000">Percent Survival</text>
<rect x="240.20" y="670.40" width="56.00" height="29.40" fill="#C9CBE1" stroke="none" stroke-width="0.8" />
<text transform="translate(268.20,683.60)" font-size="6.3" text-anchor="middle" font-weight="normal" font-style="normal" fill="#222" color="#222" style="stroke-width:0.08px">JMML</text>
<text transform="translate(268.20,691.00)" font-size="6.3" text-anchor="middle" font-weight="normal" font-style="normal" fill="#222" color="#222" style="stroke-width:0.08px">related mutation</text>
<rect x="319.20" y="670.40" width="55.40" height="29.40" fill="#C9CBE1" stroke="none" stroke-width="0.8" />
<text transform="translate(346.90,683.60)" font-size="6.3" text-anchor="middle" font-weight="normal" font-style="normal" fill="#222" color="#222" style="stroke-width:0.08px">High expression</text>
<text transform="translate(346.90,691.00)" font-size="6.3" text-anchor="middle" font-weight="normal" font-style="normal" fill="#222" color="#222" style="stroke-width:0.08px">of <tspan font-style="italic">MORRBID</tspan></text>
<rect x="398.90" y="649.00" width="56.50" height="15.60" fill="#C9CBE1" stroke="none" stroke-width="0.8" />
<text transform="translate(427.15,659.00)" font-size="6.3" text-anchor="middle" font-weight="normal" font-style="normal" fill="#222" color="#222" style="stroke-width:0.08px">Cell death</text>
<rect x="398.90" y="675.00" width="56.50" height="15.60" fill="#C9CBE1" stroke="none" stroke-width="0.8" />
<text transform="translate(427.15,685.00)" font-size="6.3" text-anchor="middle" font-weight="normal" font-style="normal" fill="#222" color="#222" style="stroke-width:0.08px">Myeloid cells</text>
<rect x="398.90" y="699.20" width="56.50" height="15.60" fill="#C9CBE1" stroke="none" stroke-width="0.8" />
<text transform="translate(427.15,709.20)" font-size="6.3" text-anchor="middle" font-weight="normal" font-style="normal" fill="#222" color="#222" style="stroke-width:0.08px">Leukemia</text>
<line x1="303.00" y1="685.20" x2="310.80" y2="685.20" stroke="#000" stroke-width="1.0" />
<path d="M310.20,683.20 L313.80,685.20 L310.20,687.20 Z" fill="#000"/>
<line x1="379.50" y1="685.00" x2="388.50" y2="685.00" stroke="#000" stroke-width="1.0" />
<path d="M387.90,683.00 L391.50,685.00 L387.90,687.00 Z" fill="#000"/>
<line x1="462.70" y1="650.00" x2="462.70" y2="659.80" stroke="#000" stroke-width="1.0" />
<path d="M460.90,659.20 L462.70,662.80 L464.50,659.20 Z" fill="#000"/>
<line x1="462.70" y1="689.80" x2="462.70" y2="679.80" stroke="#000" stroke-width="1.0" />
<path d="M460.90,680.40 L462.70,676.80 L464.50,680.40 Z" fill="#000"/>
<line x1="462.70" y1="713.80" x2="462.70" y2="704.00" stroke="#000" stroke-width="1.0" />
<path d="M460.90,704.60 L462.70,701.00 L464.50,704.60 Z" fill="#000"/>
<rect x="0.65" y="0.65" width="518.7" height="724.7" fill="none" stroke="#000" stroke-width="1.3"/>
</svg></body></html>
